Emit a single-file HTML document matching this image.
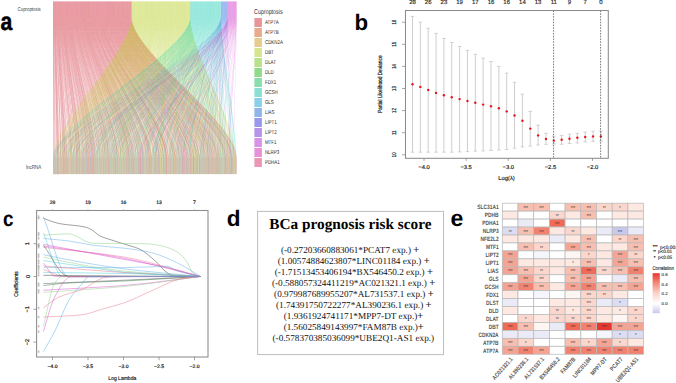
<!DOCTYPE html>
<html><head><meta charset="utf-8"><style>
html,body{margin:0;padding:0;background:#fff;width:676px;height:383px;overflow:hidden;}
svg{display:block;text-rendering:geometricPrecision;}
</style></head><body>
<svg width="676" height="383" viewBox="0 0 676 383">
<rect width="676" height="383" fill="#fff"/>
<text x="0" y="29.8" font-family="Liberation Sans" font-size="25" font-weight="bold" stroke="#000" stroke-width="0.45" transform="translate(0.5 0) scale(0.85 1)">a</text>
<defs><filter id="fb" x="-2%" y="-2%" width="104%" height="104%"><feGaussianBlur stdDeviation="0.35"/></filter></defs>
<g filter="url(#fb)">
<g fill="rgb(208, 57, 66)" fill-opacity="0.62">
<path d="M68.6 1.6V17.0C68.6 52 88.8 122 88.8 157.0V174.3H88.9V157.0C88.9 122 68.7 52 68.7 17.0V1.6Z"/>
<path d="M94.19 1.6V17.0C94.19 52 150.21 122 150.21 157.0V174.3H150.31V157.0C150.31 122 94.29 52 94.29 17.0V1.6Z"/>
<path d="M82.97 1.6V17.0C82.97 52 124.6 122 124.6 157.0V174.3H124.71V157.0C124.71 122 83.07 52 83.07 17.0V1.6Z"/>
<path d="M91.23 1.6V17.0C91.23 52 143.07 122 143.07 157.0V174.3H143.17V157.0C143.17 122 91.33 52 91.33 17.0V1.6Z"/>
<path d="M86.13 1.6V17.0C86.13 52 131.34 122 131.34 157.0V174.3H131.44V157.0C131.44 122 86.23 52 86.23 17.0V1.6Z"/>
<path d="M114.58 1.6V17.0C114.58 52 197.13 122 197.13 157.0V174.3H197.23V157.0C197.23 122 114.68 52 114.68 17.0V1.6Z"/>
<path d="M118.86 1.6V17.0C118.86 52 207.12 122 207.12 157.0V174.3H207.22V157.0C207.22 122 118.96 52 118.96 17.0V1.6Z"/>
<path d="M81.54 1.6V17.0C81.54 52 121.14 122 121.14 157.0V174.3H121.24V157.0C121.24 122 81.65 52 81.65 17.0V1.6Z"/>
<path d="M127.32 1.6V17.0C127.32 52 226.81 122 226.81 157.0V174.3H226.91V157.0C226.91 122 127.42 52 127.42 17.0V1.6Z"/>
<path d="M123.85 1.6V17.0C123.85 52 217.93 122 217.93 157.0V174.3H218.04V157.0C218.04 122 123.95 52 123.95 17.0V1.6Z"/>
<path d="M107.95 1.6V17.0C107.95 52 182.64 122 182.64 157.0V174.3H182.74V157.0C182.74 122 108.05 52 108.05 17.0V1.6Z"/>
<path d="M129.36 1.6V17.0C129.36 52 231.6 122 231.6 157.0V174.3H231.7V157.0C231.7 122 129.46 52 129.46 17.0V1.6Z"/>
<path d="M117.94 1.6V17.0C117.94 52 205.29 122 205.29 157.0V174.3H205.39V157.0C205.39 122 118.04 52 118.04 17.0V1.6Z"/>
<path d="M76.35 1.6V17.0C76.35 52 107.98 122 107.98 157.0V174.3H108.08V157.0C108.08 122 76.45 52 76.45 17.0V1.6Z"/>
<path d="M73.49 1.6V17.0C73.49 52 100.12 122 100.12 157.0V174.3H100.23V157.0C100.23 122 73.59 52 73.59 17.0V1.6Z"/>
<path d="M113.66 1.6V17.0C113.66 52 194.78 122 194.78 157.0V174.3H194.88V157.0C194.88 122 113.76 52 113.76 17.0V1.6Z"/>
<path d="M95.31 1.6V17.0C95.31 52 152.76 122 152.76 157.0V174.3H152.86V157.0C152.86 122 95.41 52 95.41 17.0V1.6Z"/>
<path d="M131.4 1.6V17.0C131.4 52 236.29 122 236.29 157.0V174.3H236.4V157.0C236.4 122 131.5 52 131.5 17.0V1.6Z"/>
<path d="M126.4 1.6V17.0C126.4 52 225.18 122 225.18 157.0V174.3H225.28V157.0C225.28 122 126.5 52 126.5 17.0V1.6Z"/>
<path d="M100.4 1.6V17.0C100.4 52 165.2 122 165.2 157.0V174.3H165.3V157.0C165.3 122 100.51 52 100.51 17.0V1.6Z"/>
<path d="M67.37 1.6V17.0C67.37 52 86.46 122 86.46 157.0V174.3H86.56V157.0C86.56 122 67.48 52 67.48 17.0V1.6Z"/>
<path d="M73.19 1.6V17.0C73.19 52 99.61 122 99.61 157.0V174.3H99.72V157.0C99.72 122 73.29 52 73.29 17.0V1.6Z"/>
<path d="M82.46 1.6V17.0C82.46 52 123.79 122 123.79 157.0V174.3H123.89V157.0C123.89 122 82.56 52 82.56 17.0V1.6Z"/>
<path d="M80.12 1.6V17.0C80.12 52 117.26 122 117.26 157.0V174.3H117.36V157.0C117.36 122 80.22 52 80.22 17.0V1.6Z"/>
<path d="M62.99 1.6V17.0C62.99 52 76.46 122 76.46 157.0V174.3H76.56V157.0C76.56 122 63.09 52 63.09 17.0V1.6Z"/>
<path d="M70.13 1.6V17.0C70.13 52 92.07 122 92.07 157.0V174.3H92.17V157.0C92.17 122 70.23 52 70.23 17.0V1.6Z"/>
<path d="M127.01 1.6V17.0C127.01 52 225.99 122 225.99 157.0V174.3H226.09V157.0C226.09 122 127.11 52 127.11 17.0V1.6Z"/>
<path d="M83.18 1.6V17.0C83.18 52 125.42 122 125.42 157.0V174.3H125.52V157.0C125.52 122 83.28 52 83.28 17.0V1.6Z"/>
<path d="M110.09 1.6V17.0C110.09 52 187.13 122 187.13 157.0V174.3H187.23V157.0C187.23 122 110.19 52 110.19 17.0V1.6Z"/>
<path d="M124.97 1.6V17.0C124.97 52 220.89 122 220.89 157.0V174.3H220.99V157.0C220.99 122 125.08 52 125.08 17.0V1.6Z"/>
<path d="M60.24 1.6V17.0C60.24 52 69.52 122 69.52 157.0V174.3H69.63V157.0C69.63 122 60.34 52 60.34 17.0V1.6Z"/>
<path d="M65.54 1.6V17.0C65.54 52 81.36 122 81.36 157.0V174.3H81.46V157.0C81.46 122 65.64 52 65.64 17.0V1.6Z"/>
<path d="M76.96 1.6V17.0C76.96 52 108.9 122 108.9 157.0V174.3H109V157.0C109 122 77.06 52 77.06 17.0V1.6Z"/>
<path d="M71.15 1.6V17.0C71.15 52 93.9 122 93.9 157.0V174.3H94V157.0C94 122 71.25 52 71.25 17.0V1.6Z"/>
<path d="M65.23 1.6V17.0C65.23 52 80.23 122 80.23 157.0V174.3H80.34V157.0C80.34 122 65.34 52 65.34 17.0V1.6Z"/>
<path d="M81.04 1.6V17.0C81.04 52 119.71 122 119.71 157.0V174.3H119.81V157.0C119.81 122 81.14 52 81.14 17.0V1.6Z"/>
<path d="M105.81 1.6V17.0C105.81 52 176.62 122 176.62 157.0V174.3H176.73V157.0C176.73 122 105.91 52 105.91 17.0V1.6Z"/>
<path d="M103.46 1.6V17.0C103.46 52 171.22 122 171.22 157.0V174.3H171.32V157.0C171.32 122 103.56 52 103.56 17.0V1.6Z"/>
<path d="M55.65 1.6V17.0C55.65 52 58.51 122 58.51 157.0V174.3H58.61V157.0C58.61 122 55.75 52 55.75 17.0V1.6Z"/>
<path d="M117.53 1.6V17.0C117.53 52 204.06 122 204.06 157.0V174.3H204.16V157.0C204.16 122 117.63 52 117.63 17.0V1.6Z"/>
<path d="M126.81 1.6V17.0C126.81 52 225.79 122 225.79 157.0V174.3H225.89V157.0C225.89 122 126.91 52 126.91 17.0V1.6Z"/>
<path d="M128.54 1.6V17.0C128.54 52 229.77 122 229.77 157.0V174.3H229.87V157.0C229.87 122 128.64 52 128.64 17.0V1.6Z"/>
<path d="M61.77 1.6V17.0C61.77 52 73.3 122 73.3 157.0V174.3H73.4V157.0C73.4 122 61.87 52 61.87 17.0V1.6Z"/>
<path d="M100.91 1.6V17.0C100.91 52 166.12 122 166.12 157.0V174.3H166.22V157.0C166.22 122 101.02 52 101.02 17.0V1.6Z"/>
<path d="M75.84 1.6V17.0C75.84 52 106.75 122 106.75 157.0V174.3H106.86V157.0C106.86 122 75.94 52 75.94 17.0V1.6Z"/>
<path d="M90.92 1.6V17.0C90.92 52 142.66 122 142.66 157.0V174.3H142.76V157.0C142.76 122 91.03 52 91.03 17.0V1.6Z"/>
<path d="M79.81 1.6V17.0C79.81 52 116.85 122 116.85 157.0V174.3H116.95V157.0C116.95 122 79.91 52 79.91 17.0V1.6Z"/>
<path d="M106.11 1.6V17.0C106.11 52 177.54 122 177.54 157.0V174.3H177.64V157.0C177.64 122 106.22 52 106.22 17.0V1.6Z"/>
<path d="M117.84 1.6V17.0C117.84 52 204.98 122 204.98 157.0V174.3H205.08V157.0C205.08 122 117.94 52 117.94 17.0V1.6Z"/>
<path d="M120.49 1.6V17.0C120.49 52 210.79 122 210.79 157.0V174.3H210.9V157.0C210.9 122 120.59 52 120.59 17.0V1.6Z"/>
<path d="M64.11 1.6V17.0C64.11 52 78.4 122 78.4 157.0V174.3H78.5V157.0C78.5 122 64.21 52 64.21 17.0V1.6Z"/>
<path d="M97.35 1.6V17.0C97.35 52 158.26 122 158.26 157.0V174.3H158.37V157.0C158.37 122 97.45 52 97.45 17.0V1.6Z"/>
<path d="M106.83 1.6V17.0C106.83 52 179.68 122 179.68 157.0V174.3H179.79V157.0C179.79 122 106.93 52 106.93 17.0V1.6Z"/>
<path d="M86.95 1.6V17.0C86.95 52 132.97 122 132.97 157.0V174.3H133.07V157.0C133.07 122 87.05 52 87.05 17.0V1.6Z"/>
<path d="M77.87 1.6V17.0C77.87 52 111.14 122 111.14 157.0V174.3H111.24V157.0C111.24 122 77.98 52 77.98 17.0V1.6Z"/>
<path d="M96.33 1.6V17.0C96.33 52 156.12 122 156.12 157.0V174.3H156.22V157.0C156.22 122 96.43 52 96.43 17.0V1.6Z"/>
<path d="M66.76 1.6V17.0C66.76 52 84.62 122 84.62 157.0V174.3H84.72V157.0C84.72 122 66.86 52 66.86 17.0V1.6Z"/>
<path d="M109.78 1.6V17.0C109.78 52 186.62 122 186.62 157.0V174.3H186.72V157.0C186.72 122 109.89 52 109.89 17.0V1.6Z"/>
<path d="M91.03 1.6V17.0C91.03 52 142.76 122 142.76 157.0V174.3H142.86V157.0C142.86 122 91.13 52 91.13 17.0V1.6Z"/>
<path d="M66.35 1.6V17.0C66.35 52 83.5 122 83.5 157.0V174.3H83.6V157.0C83.6 122 66.46 52 66.46 17.0V1.6Z"/>
<path d="M61.46 1.6V17.0C61.46 52 72.18 122 72.18 157.0V174.3H72.28V157.0C72.28 122 61.56 52 61.56 17.0V1.6Z"/>
<path d="M107.64 1.6V17.0C107.64 52 182.03 122 182.03 157.0V174.3H182.13V157.0C182.13 122 107.74 52 107.74 17.0V1.6Z"/>
<path d="M64.21 1.6V17.0C64.21 52 78.81 122 78.81 157.0V174.3H78.91V157.0C78.91 122 64.32 52 64.32 17.0V1.6Z"/>
<path d="M78.08 1.6V17.0C78.08 52 112.06 122 112.06 157.0V174.3H112.16V157.0C112.16 122 78.18 52 78.18 17.0V1.6Z"/>
<path d="M105.3 1.6V17.0C105.3 52 175.3 122 175.3 157.0V174.3H175.4V157.0C175.4 122 105.4 52 105.4 17.0V1.6Z"/>
<path d="M57.49 1.6V17.0C57.49 52 63.2 122 63.2 157.0V174.3H63.3V157.0C63.3 122 57.59 52 57.59 17.0V1.6Z"/>
<path d="M54.63 1.6V17.0C54.63 52 57.18 122 57.18 157.0V174.3H57.28V157.0C57.28 122 54.73 52 54.73 17.0V1.6Z"/>
<path d="M122.12 1.6V17.0C122.12 52 214.36 122 214.36 157.0V174.3H214.47V157.0C214.47 122 122.22 52 122.22 17.0V1.6Z"/>
<path d="M59.63 1.6V17.0C59.63 52 67.38 122 67.38 157.0V174.3H67.48V157.0C67.48 122 59.73 52 59.73 17.0V1.6Z"/>
<path d="M58.4 1.6V17.0C58.4 52 64.83 122 64.83 157.0V174.3H64.93V157.0C64.93 122 58.51 52 58.51 17.0V1.6Z"/>
<path d="M95 1.6V17.0C95 52 151.43 122 151.43 157.0V174.3H151.53V157.0C151.53 122 95.1 52 95.1 17.0V1.6Z"/>
<path d="M107.24 1.6V17.0C107.24 52 180.7 122 180.7 157.0V174.3H180.81V157.0C180.81 122 107.34 52 107.34 17.0V1.6Z"/>
<path d="M86.54 1.6V17.0C86.54 52 132.25 122 132.25 157.0V174.3H132.36V157.0C132.36 122 86.64 52 86.64 17.0V1.6Z"/>
<path d="M73.9 1.6V17.0C73.9 52 101.76 122 101.76 157.0V174.3H101.86V157.0C101.86 122 74 52 74 17.0V1.6Z"/>
<path d="M90.21 1.6V17.0C90.21 52 140.82 122 140.82 157.0V174.3H140.92V157.0C140.92 122 90.31 52 90.31 17.0V1.6Z"/>
<path d="M80.22 1.6V17.0C80.22 52 117.36 122 117.36 157.0V174.3H117.46V157.0C117.46 122 80.32 52 80.32 17.0V1.6Z"/>
<path d="M79.71 1.6V17.0C79.71 52 116.75 122 116.75 157.0V174.3H116.85V157.0C116.85 122 79.81 52 79.81 17.0V1.6Z"/>
<path d="M80.83 1.6V17.0C80.83 52 118.99 122 118.99 157.0V174.3H119.1V157.0C119.1 122 80.93 52 80.93 17.0V1.6Z"/>
<path d="M109.07 1.6V17.0C109.07 52 184.99 122 184.99 157.0V174.3H185.09V157.0C185.09 122 109.17 52 109.17 17.0V1.6Z"/>
<path d="M104.28 1.6V17.0C104.28 52 173.46 122 173.46 157.0V174.3H173.56V157.0C173.56 122 104.38 52 104.38 17.0V1.6Z"/>
<path d="M80.32 1.6V17.0C80.32 52 117.67 122 117.67 157.0V174.3H117.77V157.0C117.77 122 80.42 52 80.42 17.0V1.6Z"/>
<path d="M91.43 1.6V17.0C91.43 52 143.37 122 143.37 157.0V174.3H143.47V157.0C143.47 122 91.54 52 91.54 17.0V1.6Z"/>
<path d="M107.44 1.6V17.0C107.44 52 181.21 122 181.21 157.0V174.3H181.32V157.0C181.32 122 107.54 52 107.54 17.0V1.6Z"/>
<path d="M81.34 1.6V17.0C81.34 52 120.93 122 120.93 157.0V174.3H121.03V157.0C121.03 122 81.44 52 81.44 17.0V1.6Z"/>
<path d="M66.56 1.6V17.0C66.56 52 84.21 122 84.21 157.0V174.3H84.31V157.0C84.31 122 66.66 52 66.66 17.0V1.6Z"/>
<path d="M98.47 1.6V17.0C98.47 52 160.3 122 160.3 157.0V174.3H160.41V157.0C160.41 122 98.57 52 98.57 17.0V1.6Z"/>
<path d="M72.68 1.6V17.0C72.68 52 97.78 122 97.78 157.0V174.3H97.88V157.0C97.88 122 72.78 52 72.78 17.0V1.6Z"/>
<path d="M82.77 1.6V17.0C82.77 52 124.4 122 124.4 157.0V174.3H124.5V157.0C124.5 122 82.87 52 82.87 17.0V1.6Z"/>
<path d="M95.21 1.6V17.0C95.21 52 151.94 122 151.94 157.0V174.3H152.04V157.0C152.04 122 95.31 52 95.31 17.0V1.6Z"/>
<path d="M110.29 1.6V17.0C110.29 52 187.64 122 187.64 157.0V174.3H187.74V157.0C187.74 122 110.4 52 110.4 17.0V1.6Z"/>
<path d="M85.11 1.6V17.0C85.11 52 129.4 122 129.4 157.0V174.3H129.5V157.0C129.5 122 85.21 52 85.21 17.0V1.6Z"/>
<path d="M102.95 1.6V17.0C102.95 52 170.2 122 170.2 157.0V174.3H170.3V157.0C170.3 122 103.06 52 103.06 17.0V1.6Z"/>
<path d="M116.61 1.6V17.0C116.61 52 201.51 122 201.51 157.0V174.3H201.61V157.0C201.61 122 116.72 52 116.72 17.0V1.6Z"/>
<path d="M125.99 1.6V17.0C125.99 52 224.26 122 224.26 157.0V174.3H224.36V157.0C224.36 122 126.09 52 126.09 17.0V1.6Z"/>
<path d="M64.01 1.6V17.0C64.01 52 77.99 122 77.99 157.0V174.3H78.09V157.0C78.09 122 64.11 52 64.11 17.0V1.6Z"/>
<path d="M125.48 1.6V17.0C125.48 52 222.73 122 222.73 157.0V174.3H222.83V157.0C222.83 122 125.59 52 125.59 17.0V1.6Z"/>
<path d="M85.93 1.6V17.0C85.93 52 131.03 122 131.03 157.0V174.3H131.13V157.0C131.13 122 86.03 52 86.03 17.0V1.6Z"/>
<path d="M85.72 1.6V17.0C85.72 52 130.52 122 130.52 157.0V174.3H130.62V157.0C130.62 122 85.83 52 85.83 17.0V1.6Z"/>
<path d="M60.44 1.6V17.0C60.44 52 70.34 122 70.34 157.0V174.3H70.44V157.0C70.44 122 60.54 52 60.54 17.0V1.6Z"/>
<path d="M74.92 1.6V17.0C74.92 52 104.71 122 104.71 157.0V174.3H104.82V157.0C104.82 122 75.02 52 75.02 17.0V1.6Z"/>
<path d="M125.38 1.6V17.0C125.38 52 222.01 122 222.01 157.0V174.3H222.12V157.0C222.12 122 125.48 52 125.48 17.0V1.6Z"/>
<path d="M94.08 1.6V17.0C94.08 52 150.1 122 150.1 157.0V174.3H150.21V157.0C150.21 122 94.19 52 94.19 17.0V1.6Z"/>
<path d="M104.38 1.6V17.0C104.38 52 173.56 122 173.56 157.0V174.3H173.67V157.0C173.67 122 104.48 52 104.48 17.0V1.6Z"/>
<path d="M65.85 1.6V17.0C65.85 52 82.17 122 82.17 157.0V174.3H82.27V157.0C82.27 122 65.95 52 65.95 17.0V1.6Z"/>
<path d="M112.84 1.6V17.0C112.84 52 193.15 122 193.15 157.0V174.3H193.25V157.0C193.25 122 112.94 52 112.94 17.0V1.6Z"/>
<path d="M119.16 1.6V17.0C119.16 52 208.14 122 208.14 157.0V174.3H208.24V157.0C208.24 122 119.26 52 119.26 17.0V1.6Z"/>
<path d="M56.57 1.6V17.0C56.57 52 60.85 122 60.85 157.0V174.3H60.96V157.0C60.96 122 56.67 52 56.67 17.0V1.6Z"/>
<path d="M119.47 1.6V17.0C119.47 52 208.65 122 208.65 157.0V174.3H208.75V157.0C208.75 122 119.57 52 119.57 17.0V1.6Z"/>
<path d="M56.67 1.6V17.0C56.67 52 60.96 122 60.96 157.0V174.3H61.06V157.0C61.06 122 56.77 52 56.77 17.0V1.6Z"/>
<path d="M58.61 1.6V17.0C58.61 52 65.14 122 65.14 157.0V174.3H65.24V157.0C65.24 122 58.71 52 58.71 17.0V1.6Z"/>
<path d="M83.58 1.6V17.0C83.58 52 126.44 122 126.44 157.0V174.3H126.54V157.0C126.54 122 83.69 52 83.69 17.0V1.6Z"/>
<path d="M88.38 1.6V17.0C88.38 52 136.44 122 136.44 157.0V174.3H136.54V157.0C136.54 122 88.48 52 88.48 17.0V1.6Z"/>
<path d="M66.46 1.6V17.0C66.46 52 83.7 122 83.7 157.0V174.3H83.8V157.0C83.8 122 66.56 52 66.56 17.0V1.6Z"/>
<path d="M104.48 1.6V17.0C104.48 52 173.67 122 173.67 157.0V174.3H173.77V157.0C173.77 122 104.58 52 104.58 17.0V1.6Z"/>
<path d="M128.95 1.6V17.0C128.95 52 230.99 122 230.99 157.0V174.3H231.09V157.0C231.09 122 129.05 52 129.05 17.0V1.6Z"/>
<path d="M94.7 1.6V17.0C94.7 52 151.12 122 151.12 157.0V174.3H151.23V157.0C151.23 122 94.8 52 94.8 17.0V1.6Z"/>
<path d="M63.5 1.6V17.0C63.5 52 77.28 122 77.28 157.0V174.3H77.38V157.0C77.38 122 63.6 52 63.6 17.0V1.6Z"/>
<path d="M89.8 1.6V17.0C89.8 52 140.21 122 140.21 157.0V174.3H140.31V157.0C140.31 122 89.9 52 89.9 17.0V1.6Z"/>
<path d="M75.94 1.6V17.0C75.94 52 106.86 122 106.86 157.0V174.3H106.96V157.0C106.96 122 76.04 52 76.04 17.0V1.6Z"/>
<path d="M80.73 1.6V17.0C80.73 52 118.89 122 118.89 157.0V174.3H118.99V157.0C118.99 122 80.83 52 80.83 17.0V1.6Z"/>
<path d="M115.39 1.6V17.0C115.39 52 198.96 122 198.96 157.0V174.3H199.06V157.0C199.06 122 115.49 52 115.49 17.0V1.6Z"/>
<path d="M96.94 1.6V17.0C96.94 52 157.24 122 157.24 157.0V174.3H157.35V157.0C157.35 122 97.04 52 97.04 17.0V1.6Z"/>
<path d="M93.88 1.6V17.0C93.88 52 149.8 122 149.8 157.0V174.3H149.9V157.0C149.9 122 93.98 52 93.98 17.0V1.6Z"/>
<path d="M73.59 1.6V17.0C73.59 52 100.63 122 100.63 157.0V174.3H100.74V157.0C100.74 122 73.69 52 73.69 17.0V1.6Z"/>
<path d="M111.72 1.6V17.0C111.72 52 190.8 122 190.8 157.0V174.3H190.9V157.0C190.9 122 111.82 52 111.82 17.0V1.6Z"/>
<path d="M129.66 1.6V17.0C129.66 52 231.91 122 231.91 157.0V174.3H232.01V157.0C232.01 122 129.76 52 129.76 17.0V1.6Z"/>
<path d="M73.69 1.6V17.0C73.69 52 100.94 122 100.94 157.0V174.3H101.04V157.0C101.04 122 73.8 52 73.8 17.0V1.6Z"/>
<path d="M92.25 1.6V17.0C92.25 52 146.13 122 146.13 157.0V174.3H146.23V157.0C146.23 122 92.35 52 92.35 17.0V1.6Z"/>
<path d="M75.73 1.6V17.0C75.73 52 106.65 122 106.65 157.0V174.3H106.75V157.0C106.75 122 75.84 52 75.84 17.0V1.6Z"/>
<path d="M129.97 1.6V17.0C129.97 52 232.32 122 232.32 157.0V174.3H232.42V157.0C232.42 122 130.07 52 130.07 17.0V1.6Z"/>
<path d="M93.27 1.6V17.0C93.27 52 148.78 122 148.78 157.0V174.3H148.88V157.0C148.88 122 93.37 52 93.37 17.0V1.6Z"/>
<path d="M69.82 1.6V17.0C69.82 52 91.56 122 91.56 157.0V174.3H91.66V157.0C91.66 122 69.92 52 69.92 17.0V1.6Z"/>
<path d="M126.71 1.6V17.0C126.71 52 225.69 122 225.69 157.0V174.3H225.79V157.0C225.79 122 126.81 52 126.81 17.0V1.6Z"/>
<path d="M80.02 1.6V17.0C80.02 52 117.16 122 117.16 157.0V174.3H117.26V157.0C117.26 122 80.12 52 80.12 17.0V1.6Z"/>
<path d="M71.25 1.6V17.0C71.25 52 94.21 122 94.21 157.0V174.3H94.31V157.0C94.31 122 71.35 52 71.35 17.0V1.6Z"/>
<path d="M102.04 1.6V17.0C102.04 52 167.85 122 167.85 157.0V174.3H167.95V157.0C167.95 122 102.14 52 102.14 17.0V1.6Z"/>
<path d="M99.08 1.6V17.0C99.08 52 162.24 122 162.24 157.0V174.3H162.34V157.0C162.34 122 99.18 52 99.18 17.0V1.6Z"/>
<path d="M57.69 1.6V17.0C57.69 52 63.81 122 63.81 157.0V174.3H63.91V157.0C63.91 122 57.79 52 57.79 17.0V1.6Z"/>
<path d="M120.18 1.6V17.0C120.18 52 209.98 122 209.98 157.0V174.3H210.08V157.0C210.08 122 120.28 52 120.28 17.0V1.6Z"/>
<path d="M76.86 1.6V17.0C76.86 52 108.79 122 108.79 157.0V174.3H108.9V157.0C108.9 122 76.96 52 76.96 17.0V1.6Z"/>
<path d="M83.38 1.6V17.0C83.38 52 126.03 122 126.03 157.0V174.3H126.13V157.0C126.13 122 83.48 52 83.48 17.0V1.6Z"/>
<path d="M107.03 1.6V17.0C107.03 52 179.89 122 179.89 157.0V174.3H179.99V157.0C179.99 122 107.13 52 107.13 17.0V1.6Z"/>
<path d="M90.82 1.6V17.0C90.82 52 142.56 122 142.56 157.0V174.3H142.66V157.0C142.66 122 90.92 52 90.92 17.0V1.6Z"/>
<path d="M75.53 1.6V17.0C75.53 52 105.73 122 105.73 157.0V174.3H105.84V157.0C105.84 122 75.63 52 75.63 17.0V1.6Z"/>
<path d="M89.29 1.6V17.0C89.29 52 138.68 122 138.68 157.0V174.3H138.78V157.0C138.78 122 89.39 52 89.39 17.0V1.6Z"/>
<path d="M121.1 1.6V17.0C121.1 52 212.12 122 212.12 157.0V174.3H212.22V157.0C212.22 122 121.2 52 121.2 17.0V1.6Z"/>
<path d="M129.46 1.6V17.0C129.46 52 231.7 122 231.7 157.0V174.3H231.81V157.0C231.81 122 129.56 52 129.56 17.0V1.6Z"/>
<path d="M65.13 1.6V17.0C65.13 52 80.13 122 80.13 157.0V174.3H80.23V157.0C80.23 122 65.23 52 65.23 17.0V1.6Z"/>
<path d="M128.75 1.6V17.0C128.75 52 230.48 122 230.48 157.0V174.3H230.58V157.0C230.58 122 128.85 52 128.85 17.0V1.6Z"/>
<path d="M115.9 1.6V17.0C115.9 52 199.47 122 199.47 157.0V174.3H199.57V157.0C199.57 122 116 52 116 17.0V1.6Z"/>
<path d="M57.18 1.6V17.0C57.18 52 62.89 122 62.89 157.0V174.3H63V157.0C63 122 57.28 52 57.28 17.0V1.6Z"/>
<path d="M98.88 1.6V17.0C98.88 52 161.43 122 161.43 157.0V174.3H161.53V157.0C161.53 122 98.98 52 98.98 17.0V1.6Z"/>
<path d="M62.28 1.6V17.0C62.28 52 74.73 122 74.73 157.0V174.3H74.83V157.0C74.83 122 62.38 52 62.38 17.0V1.6Z"/>
<path d="M113.86 1.6V17.0C113.86 52 195.8 122 195.8 157.0V174.3H195.9V157.0C195.9 122 113.96 52 113.96 17.0V1.6Z"/>
<path d="M123.44 1.6V17.0C123.44 52 217.12 122 217.12 157.0V174.3H217.22V157.0C217.22 122 123.55 52 123.55 17.0V1.6Z"/>
<path d="M82.26 1.6V17.0C82.26 52 123.28 122 123.28 157.0V174.3H123.38V157.0C123.38 122 82.36 52 82.36 17.0V1.6Z"/>
<path d="M112.03 1.6V17.0C112.03 52 191.21 122 191.21 157.0V174.3H191.31V157.0C191.31 122 112.13 52 112.13 17.0V1.6Z"/>
<path d="M117.02 1.6V17.0C117.02 52 202.74 122 202.74 157.0V174.3H202.84V157.0C202.84 122 117.12 52 117.12 17.0V1.6Z"/>
<path d="M94.49 1.6V17.0C94.49 52 150.72 122 150.72 157.0V174.3H150.82V157.0C150.82 122 94.59 52 94.59 17.0V1.6Z"/>
<path d="M105.6 1.6V17.0C105.6 52 176.01 122 176.01 157.0V174.3H176.11V157.0C176.11 122 105.71 52 105.71 17.0V1.6Z"/>
<path d="M95.51 1.6V17.0C95.51 52 153.67 122 153.67 157.0V174.3H153.78V157.0C153.78 122 95.61 52 95.61 17.0V1.6Z"/>
<path d="M72.47 1.6V17.0C72.47 52 97.57 122 97.57 157.0V174.3H97.68V157.0C97.68 122 72.57 52 72.57 17.0V1.6Z"/>
<path d="M125.69 1.6V17.0C125.69 52 223.75 122 223.75 157.0V174.3H223.85V157.0C223.85 122 125.79 52 125.79 17.0V1.6Z"/>
<path d="M73.39 1.6V17.0C73.39 52 99.82 122 99.82 157.0V174.3H99.92V157.0C99.92 122 73.49 52 73.49 17.0V1.6Z"/>
<path d="M55.45 1.6V17.0C55.45 52 58.3 122 58.3 157.0V174.3H58.41V157.0C58.41 122 55.55 52 55.55 17.0V1.6Z"/>
<path d="M107.85 1.6V17.0C107.85 52 182.34 122 182.34 157.0V174.3H182.44V157.0C182.44 122 107.95 52 107.95 17.0V1.6Z"/>
<path d="M122.42 1.6V17.0C122.42 52 215.18 122 215.18 157.0V174.3H215.28V157.0C215.28 122 122.53 52 122.53 17.0V1.6Z"/>
<path d="M61.67 1.6V17.0C61.67 52 73.2 122 73.2 157.0V174.3H73.3V157.0C73.3 122 61.77 52 61.77 17.0V1.6Z"/>
<path d="M109.38 1.6V17.0C109.38 52 185.8 122 185.8 157.0V174.3H185.91V157.0C185.91 122 109.48 52 109.48 17.0V1.6Z"/>
<path d="M92.86 1.6V17.0C92.86 52 148.17 122 148.17 157.0V174.3H148.27V157.0C148.27 122 92.96 52 92.96 17.0V1.6Z"/>
<path d="M88.68 1.6V17.0C88.68 52 137.66 122 137.66 157.0V174.3H137.76V157.0C137.76 122 88.78 52 88.78 17.0V1.6Z"/>
<path d="M103.36 1.6V17.0C103.36 52 171.12 122 171.12 157.0V174.3H171.22V157.0C171.22 122 103.46 52 103.46 17.0V1.6Z"/>
<path d="M82.67 1.6V17.0C82.67 52 124.2 122 124.2 157.0V174.3H124.3V157.0C124.3 122 82.77 52 82.77 17.0V1.6Z"/>
<path d="M116.72 1.6V17.0C116.72 52 201.92 122 201.92 157.0V174.3H202.02V157.0C202.02 122 116.82 52 116.82 17.0V1.6Z"/>
<path d="M113.15 1.6V17.0C113.15 52 193.66 122 193.66 157.0V174.3H193.76V157.0C193.76 122 113.25 52 113.25 17.0V1.6Z"/>
<path d="M64.83 1.6V17.0C64.83 52 79.72 122 79.72 157.0V174.3H79.83V157.0C79.83 122 64.93 52 64.93 17.0V1.6Z"/>
<path d="M102.85 1.6V17.0C102.85 52 169.69 122 169.69 157.0V174.3H169.79V157.0C169.79 122 102.95 52 102.95 17.0V1.6Z"/>
<path d="M113.25 1.6V17.0C113.25 52 193.76 122 193.76 157.0V174.3H193.86V157.0C193.86 122 113.35 52 113.35 17.0V1.6Z"/>
<path d="M82.16 1.6V17.0C82.16 52 123.18 122 123.18 157.0V174.3H123.28V157.0C123.28 122 82.26 52 82.26 17.0V1.6Z"/>
<path d="M94.8 1.6V17.0C94.8 52 151.23 122 151.23 157.0V174.3H151.33V157.0C151.33 122 94.9 52 94.9 17.0V1.6Z"/>
<path d="M99.69 1.6V17.0C99.69 52 163.57 122 163.57 157.0V174.3H163.67V157.0C163.67 122 99.79 52 99.79 17.0V1.6Z"/>
<path d="M55.75 1.6V17.0C55.75 52 58.61 122 58.61 157.0V174.3H58.71V157.0C58.71 122 55.85 52 55.85 17.0V1.6Z"/>
<path d="M110.7 1.6V17.0C110.7 52 188.35 122 188.35 157.0V174.3H188.46V157.0C188.46 122 110.8 52 110.8 17.0V1.6Z"/>
<path d="M64.32 1.6V17.0C64.32 52 78.91 122 78.91 157.0V174.3H79.01V157.0C79.01 122 64.42 52 64.42 17.0V1.6Z"/>
<path d="M62.18 1.6V17.0C62.18 52 74.62 122 74.62 157.0V174.3H74.73V157.0C74.73 122 62.28 52 62.28 17.0V1.6Z"/>
<path d="M127.62 1.6V17.0C127.62 52 227.73 122 227.73 157.0V174.3H227.83V157.0C227.83 122 127.73 52 127.73 17.0V1.6Z"/>
<path d="M82.05 1.6V17.0C82.05 52 122.87 122 122.87 157.0V174.3H122.97V157.0C122.97 122 82.16 52 82.16 17.0V1.6Z"/>
<path d="M95.1 1.6V17.0C95.1 52 151.84 122 151.84 157.0V174.3H151.94V157.0C151.94 122 95.21 52 95.21 17.0V1.6Z"/>
<path d="M57.28 1.6V17.0C57.28 52 63 122 63 157.0V174.3H63.1V157.0C63.1 122 57.38 52 57.38 17.0V1.6Z"/>
<path d="M122.73 1.6V17.0C122.73 52 215.79 122 215.79 157.0V174.3H215.89V157.0C215.89 122 122.83 52 122.83 17.0V1.6Z"/>
<path d="M106.73 1.6V17.0C106.73 52 179.48 122 179.48 157.0V174.3H179.58V157.0C179.58 122 106.83 52 106.83 17.0V1.6Z"/>
<path d="M120.79 1.6V17.0C120.79 52 211.3 122 211.3 157.0V174.3H211.41V157.0C211.41 122 120.9 52 120.9 17.0V1.6Z"/>
<path d="M59.22 1.6V17.0C59.22 52 66.36 122 66.36 157.0V174.3H66.46V157.0C66.46 122 59.32 52 59.32 17.0V1.6Z"/>
<path d="M125.79 1.6V17.0C125.79 52 223.85 122 223.85 157.0V174.3H223.95V157.0C223.95 122 125.89 52 125.89 17.0V1.6Z"/>
<path d="M111.21 1.6V17.0C111.21 52 190.09 122 190.09 157.0V174.3H190.19V157.0C190.19 122 111.31 52 111.31 17.0V1.6Z"/>
<path d="M109.68 1.6V17.0C109.68 52 186.52 122 186.52 157.0V174.3H186.62V157.0C186.62 122 109.78 52 109.78 17.0V1.6Z"/>
<path d="M91.64 1.6V17.0C91.64 52 143.88 122 143.88 157.0V174.3H143.98V157.0C143.98 122 91.74 52 91.74 17.0V1.6Z"/>
<path d="M69.21 1.6V17.0C69.21 52 90.13 122 90.13 157.0V174.3H90.23V157.0C90.23 122 69.31 52 69.31 17.0V1.6Z"/>
<path d="M92.96 1.6V17.0C92.96 52 148.27 122 148.27 157.0V174.3H148.37V157.0C148.37 122 93.06 52 93.06 17.0V1.6Z"/>
<path d="M118.25 1.6V17.0C118.25 52 205.59 122 205.59 157.0V174.3H205.69V157.0C205.69 122 118.35 52 118.35 17.0V1.6Z"/>
<path d="M77.67 1.6V17.0C77.67 52 110.63 122 110.63 157.0V174.3H110.73V157.0C110.73 122 77.77 52 77.77 17.0V1.6Z"/>
<path d="M71.04 1.6V17.0C71.04 52 93.7 122 93.7 157.0V174.3H93.8V157.0C93.8 122 71.15 52 71.15 17.0V1.6Z"/>
<path d="M89.6 1.6V17.0C89.6 52 139.39 122 139.39 157.0V174.3H139.5V157.0C139.5 122 89.7 52 89.7 17.0V1.6Z"/>
<path d="M112.33 1.6V17.0C112.33 52 192.03 122 192.03 157.0V174.3H192.13V157.0C192.13 122 112.43 52 112.43 17.0V1.6Z"/>
<path d="M109.27 1.6V17.0C109.27 52 185.6 122 185.6 157.0V174.3H185.7V157.0C185.7 122 109.38 52 109.38 17.0V1.6Z"/>
<path d="M128.03 1.6V17.0C128.03 52 228.75 122 228.75 157.0V174.3H228.85V157.0C228.85 122 128.13 52 128.13 17.0V1.6Z"/>
<path d="M118.96 1.6V17.0C118.96 52 207.43 122 207.43 157.0V174.3H207.53V157.0C207.53 122 119.06 52 119.06 17.0V1.6Z"/>
<path d="M78.18 1.6V17.0C78.18 52 112.57 122 112.57 157.0V174.3H112.67V157.0C112.67 122 78.28 52 78.28 17.0V1.6Z"/>
<path d="M116.1 1.6V17.0C116.1 52 199.88 122 199.88 157.0V174.3H199.98V157.0C199.98 122 116.21 52 116.21 17.0V1.6Z"/>
<path d="M76.75 1.6V17.0C76.75 52 108.59 122 108.59 157.0V174.3H108.69V157.0C108.69 122 76.86 52 76.86 17.0V1.6Z"/>
<path d="M129.15 1.6V17.0C129.15 52 231.4 122 231.4 157.0V174.3H231.5V157.0C231.5 122 129.26 52 129.26 17.0V1.6Z"/>
<path d="M107.54 1.6V17.0C107.54 52 181.72 122 181.72 157.0V174.3H181.83V157.0C181.83 122 107.64 52 107.64 17.0V1.6Z"/>
<path d="M88.99 1.6V17.0C88.99 52 138.07 122 138.07 157.0V174.3H138.17V157.0C138.17 122 89.09 52 89.09 17.0V1.6Z"/>
<path d="M114.98 1.6V17.0C114.98 52 197.64 122 197.64 157.0V174.3H197.74V157.0C197.74 122 115.08 52 115.08 17.0V1.6Z"/>
<path d="M102.75 1.6V17.0C102.75 52 169.08 122 169.08 157.0V174.3H169.18V157.0C169.18 122 102.85 52 102.85 17.0V1.6Z"/>
<path d="M101.63 1.6V17.0C101.63 52 166.83 122 166.83 157.0V174.3H166.93V157.0C166.93 122 101.73 52 101.73 17.0V1.6Z"/>
<path d="M63.81 1.6V17.0C63.81 52 77.79 122 77.79 157.0V174.3H77.89V157.0C77.89 122 63.91 52 63.91 17.0V1.6Z"/>
<path d="M117.23 1.6V17.0C117.23 52 203.35 122 203.35 157.0V174.3H203.45V157.0C203.45 122 117.33 52 117.33 17.0V1.6Z"/>
<path d="M69.62 1.6V17.0C69.62 52 91.25 122 91.25 157.0V174.3H91.35V157.0C91.35 122 69.72 52 69.72 17.0V1.6Z"/>
<path d="M53.41 1.6V17.0C53.41 52 53.61 122 53.61 157.0V174.3H53.71V157.0C53.71 122 53.51 52 53.51 17.0V1.6Z"/>
<path d="M59.83 1.6V17.0C59.83 52 68.61 122 68.61 157.0V174.3H68.71V157.0C68.71 122 59.93 52 59.93 17.0V1.6Z"/>
<path d="M92.15 1.6V17.0C92.15 52 146.02 122 146.02 157.0V174.3H146.13V157.0C146.13 122 92.25 52 92.25 17.0V1.6Z"/>
<path d="M106.01 1.6V17.0C106.01 52 177.24 122 177.24 157.0V174.3H177.34V157.0C177.34 122 106.11 52 106.11 17.0V1.6Z"/>
<path d="M97.75 1.6V17.0C97.75 52 158.98 122 158.98 157.0V174.3H159.08V157.0C159.08 122 97.86 52 97.86 17.0V1.6Z"/>
<path d="M96.84 1.6V17.0C96.84 52 157.14 122 157.14 157.0V174.3H157.24V157.0C157.24 122 96.94 52 96.94 17.0V1.6Z"/>
<path d="M110.8 1.6V17.0C110.8 52 188.46 122 188.46 157.0V174.3H188.56V157.0C188.56 122 110.91 52 110.91 17.0V1.6Z"/>
<path d="M96.73 1.6V17.0C96.73 52 157.04 122 157.04 157.0V174.3H157.14V157.0C157.14 122 96.84 52 96.84 17.0V1.6Z"/>
<path d="M91.33 1.6V17.0C91.33 52 143.27 122 143.27 157.0V174.3H143.37V157.0C143.37 122 91.43 52 91.43 17.0V1.6Z"/>
<path d="M117.43 1.6V17.0C117.43 52 203.76 122 203.76 157.0V174.3H203.86V157.0C203.86 122 117.53 52 117.53 17.0V1.6Z"/>
<path d="M100.2 1.6V17.0C100.2 52 164.89 122 164.89 157.0V174.3H165V157.0C165 122 100.3 52 100.3 17.0V1.6Z"/>
<path d="M130.68 1.6V17.0C130.68 52 234.46 122 234.46 157.0V174.3H234.56V157.0C234.56 122 130.78 52 130.78 17.0V1.6Z"/>
<path d="M125.89 1.6V17.0C125.89 52 224.05 122 224.05 157.0V174.3H224.16V157.0C224.16 122 125.99 52 125.99 17.0V1.6Z"/>
<path d="M89.19 1.6V17.0C89.19 52 138.58 122 138.58 157.0V174.3H138.68V157.0C138.68 122 89.29 52 89.29 17.0V1.6Z"/>
<path d="M60.03 1.6V17.0C60.03 52 68.91 122 68.91 157.0V174.3H69.01V157.0C69.01 122 60.14 52 60.14 17.0V1.6Z"/>
<path d="M87.87 1.6V17.0C87.87 52 135.31 122 135.31 157.0V174.3H135.42V157.0C135.42 122 87.97 52 87.97 17.0V1.6Z"/>
<path d="M60.65 1.6V17.0C60.65 52 70.65 122 70.65 157.0V174.3H70.75V157.0C70.75 122 60.75 52 60.75 17.0V1.6Z"/>
<path d="M76.45 1.6V17.0C76.45 52 108.08 122 108.08 157.0V174.3H108.18V157.0C108.18 122 76.55 52 76.55 17.0V1.6Z"/>
<path d="M98.57 1.6V17.0C98.57 52 160.71 122 160.71 157.0V174.3H160.81V157.0C160.81 122 98.67 52 98.67 17.0V1.6Z"/>
<path d="M115.59 1.6V17.0C115.59 52 199.17 122 199.17 157.0V174.3H199.27V157.0C199.27 122 115.7 52 115.7 17.0V1.6Z"/>
<path d="M85.01 1.6V17.0C85.01 52 129.09 122 129.09 157.0V174.3H129.19V157.0C129.19 122 85.11 52 85.11 17.0V1.6Z"/>
<path d="M105.71 1.6V17.0C105.71 52 176.52 122 176.52 157.0V174.3H176.62V157.0C176.62 122 105.81 52 105.81 17.0V1.6Z"/>
<path d="M68.8 1.6V17.0C68.8 52 89.31 122 89.31 157.0V174.3H89.41V157.0C89.41 122 68.9 52 68.9 17.0V1.6Z"/>
<path d="M103.56 1.6V17.0C103.56 52 171.63 122 171.63 157.0V174.3H171.73V157.0C171.73 122 103.67 52 103.67 17.0V1.6Z"/>
<path d="M62.79 1.6V17.0C62.79 52 76.26 122 76.26 157.0V174.3H76.36V157.0C76.36 122 62.89 52 62.89 17.0V1.6Z"/>
<path d="M92.66 1.6V17.0C92.66 52 147.25 122 147.25 157.0V174.3H147.35V157.0C147.35 122 92.76 52 92.76 17.0V1.6Z"/>
<path d="M114.27 1.6V17.0C114.27 52 196.41 122 196.41 157.0V174.3H196.51V157.0C196.51 122 114.37 52 114.37 17.0V1.6Z"/>
<path d="M124.36 1.6V17.0C124.36 52 219.26 122 219.26 157.0V174.3H219.36V157.0C219.36 122 124.46 52 124.46 17.0V1.6Z"/>
<path d="M108.15 1.6V17.0C108.15 52 183.05 122 183.05 157.0V174.3H183.15V157.0C183.15 122 108.25 52 108.25 17.0V1.6Z"/>
<path d="M69.11 1.6V17.0C69.11 52 90.03 122 90.03 157.0V174.3H90.13V157.0C90.13 122 69.21 52 69.21 17.0V1.6Z"/>
<path d="M53 1.6V17.0C53 52 53 122 53 157.0V174.3H53.1V157.0C53.1 122 53.1 52 53.1 17.0V1.6Z"/>
<path d="M118.04 1.6V17.0C118.04 52 205.39 122 205.39 157.0V174.3H205.49V157.0C205.49 122 118.14 52 118.14 17.0V1.6Z"/>
<path d="M67.58 1.6V17.0C67.58 52 86.86 122 86.86 157.0V174.3H86.97V157.0C86.97 122 67.68 52 67.68 17.0V1.6Z"/>
<path d="M92.05 1.6V17.0C92.05 52 145.82 122 145.82 157.0V174.3H145.92V157.0C145.92 122 92.15 52 92.15 17.0V1.6Z"/>
<path d="M54.33 1.6V17.0C54.33 52 56.47 122 56.47 157.0V174.3H56.57V157.0C56.57 122 54.43 52 54.43 17.0V1.6Z"/>
<path d="M88.07 1.6V17.0C88.07 52 135.93 122 135.93 157.0V174.3H136.03V157.0C136.03 122 88.17 52 88.17 17.0V1.6Z"/>
<path d="M63.91 1.6V17.0C63.91 52 77.89 122 77.89 157.0V174.3H77.99V157.0C77.99 122 64.01 52 64.01 17.0V1.6Z"/>
<path d="M86.23 1.6V17.0C86.23 52 131.54 122 131.54 157.0V174.3H131.64V157.0C131.64 122 86.34 52 86.34 17.0V1.6Z"/>
<path d="M70.94 1.6V17.0C70.94 52 93.39 122 93.39 157.0V174.3H93.49V157.0C93.49 122 71.04 52 71.04 17.0V1.6Z"/>
<path d="M124.26 1.6V17.0C124.26 52 219.16 122 219.16 157.0V174.3H219.26V157.0C219.26 122 124.36 52 124.36 17.0V1.6Z"/>
<path d="M121.92 1.6V17.0C121.92 52 213.85 122 213.85 157.0V174.3H213.96V157.0C213.96 122 122.02 52 122.02 17.0V1.6Z"/>
<path d="M90.01 1.6V17.0C90.01 52 140.62 122 140.62 157.0V174.3H140.72V157.0C140.72 122 90.11 52 90.11 17.0V1.6Z"/>
<path d="M77.26 1.6V17.0C77.26 52 109.81 122 109.81 157.0V174.3H109.92V157.0C109.92 122 77.36 52 77.36 17.0V1.6Z"/>
<path d="M84.91 1.6V17.0C84.91 52 128.99 122 128.99 157.0V174.3H129.09V157.0C129.09 122 85.01 52 85.01 17.0V1.6Z"/>
<path d="M120.39 1.6V17.0C120.39 52 210.49 122 210.49 157.0V174.3H210.59V157.0C210.59 122 120.49 52 120.49 17.0V1.6Z"/>
<path d="M77.77 1.6V17.0C77.77 52 111.04 122 111.04 157.0V174.3H111.14V157.0C111.14 122 77.87 52 77.87 17.0V1.6Z"/>
<path d="M81.95 1.6V17.0C81.95 52 122.56 122 122.56 157.0V174.3H122.67V157.0C122.67 122 82.05 52 82.05 17.0V1.6Z"/>
<path d="M75.63 1.6V17.0C75.63 52 106.04 122 106.04 157.0V174.3H106.14V157.0C106.14 122 75.73 52 75.73 17.0V1.6Z"/>
<path d="M96.63 1.6V17.0C96.63 52 156.63 122 156.63 157.0V174.3H156.73V157.0C156.73 122 96.73 52 96.73 17.0V1.6Z"/>
<path d="M54.94 1.6V17.0C54.94 52 57.49 122 57.49 157.0V174.3H57.59V157.0C57.59 122 55.04 52 55.04 17.0V1.6Z"/>
<path d="M109.89 1.6V17.0C109.89 52 186.72 122 186.72 157.0V174.3H186.82V157.0C186.82 122 109.99 52 109.99 17.0V1.6Z"/>
<path d="M56.26 1.6V17.0C56.26 52 60.55 122 60.55 157.0V174.3H60.65V157.0C60.65 122 56.36 52 56.36 17.0V1.6Z"/>
<path d="M123.75 1.6V17.0C123.75 52 217.83 122 217.83 157.0V174.3H217.93V157.0C217.93 122 123.85 52 123.85 17.0V1.6Z"/>
<path d="M115.7 1.6V17.0C115.7 52 199.27 122 199.27 157.0V174.3H199.37V157.0C199.37 122 115.8 52 115.8 17.0V1.6Z"/>
<path d="M89.09 1.6V17.0C89.09 52 138.37 122 138.37 157.0V174.3H138.48V157.0C138.48 122 89.19 52 89.19 17.0V1.6Z"/>
<path d="M129.56 1.6V17.0C129.56 52 231.81 122 231.81 157.0V174.3H231.91V157.0C231.91 122 129.66 52 129.66 17.0V1.6Z"/>
<path d="M80.93 1.6V17.0C80.93 52 119.1 122 119.1 157.0V174.3H119.2V157.0C119.2 122 81.04 52 81.04 17.0V1.6Z"/>
<path d="M101.73 1.6V17.0C101.73 52 167.04 122 167.04 157.0V174.3H167.14V157.0C167.14 122 101.83 52 101.83 17.0V1.6Z"/>
<path d="M95.41 1.6V17.0C95.41 52 153.47 122 153.47 157.0V174.3H153.57V157.0C153.57 122 95.51 52 95.51 17.0V1.6Z"/>
<path d="M76.24 1.6V17.0C76.24 52 107.88 122 107.88 157.0V174.3H107.98V157.0C107.98 122 76.35 52 76.35 17.0V1.6Z"/>
<path d="M96.22 1.6V17.0C96.22 52 155.71 122 155.71 157.0V174.3H155.82V157.0C155.82 122 96.33 52 96.33 17.0V1.6Z"/>
<path d="M74.71 1.6V17.0C74.71 52 103.9 122 103.9 157.0V174.3H104V157.0C104 122 74.82 52 74.82 17.0V1.6Z"/>
<path d="M97.55 1.6V17.0C97.55 52 158.67 122 158.67 157.0V174.3H158.77V157.0C158.77 122 97.65 52 97.65 17.0V1.6Z"/>
<path d="M58.1 1.6V17.0C58.1 52 64.42 122 64.42 157.0V174.3H64.53V157.0C64.53 122 58.2 52 58.2 17.0V1.6Z"/>
<path d="M91.74 1.6V17.0C91.74 52 144.09 122 144.09 157.0V174.3H144.19V157.0C144.19 122 91.84 52 91.84 17.0V1.6Z"/>
<path d="M93.68 1.6V17.0C93.68 52 149.39 122 149.39 157.0V174.3H149.49V157.0C149.49 122 93.78 52 93.78 17.0V1.6Z"/>
<path d="M94.9 1.6V17.0C94.9 52 151.33 122 151.33 157.0V174.3H151.43V157.0C151.43 122 95 52 95 17.0V1.6Z"/>
<path d="M57.79 1.6V17.0C57.79 52 63.91 122 63.91 157.0V174.3H64.02V157.0C64.02 122 57.89 52 57.89 17.0V1.6Z"/>
<path d="M72.78 1.6V17.0C72.78 52 97.88 122 97.88 157.0V174.3H97.98V157.0C97.98 122 72.88 52 72.88 17.0V1.6Z"/>
<path d="M90.72 1.6V17.0C90.72 52 142.15 122 142.15 157.0V174.3H142.25V157.0C142.25 122 90.82 52 90.82 17.0V1.6Z"/>
<path d="M126.5 1.6V17.0C126.5 52 225.28 122 225.28 157.0V174.3H225.38V157.0C225.38 122 126.6 52 126.6 17.0V1.6Z"/>
<path d="M126.3 1.6V17.0C126.3 52 225.07 122 225.07 157.0V174.3H225.18V157.0C225.18 122 126.4 52 126.4 17.0V1.6Z"/>
<path d="M54.43 1.6V17.0C54.43 52 56.88 122 56.88 157.0V174.3H56.98V157.0C56.98 122 54.53 52 54.53 17.0V1.6Z"/>
<path d="M86.74 1.6V17.0C86.74 52 132.56 122 132.56 157.0V174.3H132.66V157.0C132.66 122 86.85 52 86.85 17.0V1.6Z"/>
<path d="M78.79 1.6V17.0C78.79 52 114.1 122 114.1 157.0V174.3H114.2V157.0C114.2 122 78.89 52 78.89 17.0V1.6Z"/>
<path d="M54.22 1.6V17.0C54.22 52 56.37 122 56.37 157.0V174.3H56.47V157.0C56.47 122 54.33 52 54.33 17.0V1.6Z"/>
<path d="M99.39 1.6V17.0C99.39 52 163.16 122 163.16 157.0V174.3H163.26V157.0C163.26 122 99.49 52 99.49 17.0V1.6Z"/>
<path d="M119.37 1.6V17.0C119.37 52 208.45 122 208.45 157.0V174.3H208.55V157.0C208.55 122 119.47 52 119.47 17.0V1.6Z"/>
<path d="M84.3 1.6V17.0C84.3 52 127.87 122 127.87 157.0V174.3H127.97V157.0C127.97 122 84.4 52 84.4 17.0V1.6Z"/>
<path d="M73.8 1.6V17.0C73.8 52 101.45 122 101.45 157.0V174.3H101.55V157.0C101.55 122 73.9 52 73.9 17.0V1.6Z"/>
<path d="M57.38 1.6V17.0C57.38 52 63.1 122 63.1 157.0V174.3H63.2V157.0C63.2 122 57.49 52 57.49 17.0V1.6Z"/>
<path d="M59.32 1.6V17.0C59.32 52 66.87 122 66.87 157.0V174.3H66.97V157.0C66.97 122 59.42 52 59.42 17.0V1.6Z"/>
<path d="M108.05 1.6V17.0C108.05 52 182.74 122 182.74 157.0V174.3H182.85V157.0C182.85 122 108.15 52 108.15 17.0V1.6Z"/>
<path d="M100 1.6V17.0C100 52 164.08 122 164.08 157.0V174.3H164.18V157.0C164.18 122 100.1 52 100.1 17.0V1.6Z"/>
<path d="M58.3 1.6V17.0C58.3 52 64.63 122 64.63 157.0V174.3H64.73V157.0C64.73 122 58.4 52 58.4 17.0V1.6Z"/>
<path d="M100.61 1.6V17.0C100.61 52 165.71 122 165.71 157.0V174.3H165.81V157.0C165.81 122 100.71 52 100.71 17.0V1.6Z"/>
<path d="M72.98 1.6V17.0C72.98 52 98.8 122 98.8 157.0V174.3H98.9V157.0C98.9 122 73.08 52 73.08 17.0V1.6Z"/>
<path d="M55.24 1.6V17.0C55.24 52 57.79 122 57.79 157.0V174.3H57.9V157.0C57.9 122 55.34 52 55.34 17.0V1.6Z"/>
<path d="M62.38 1.6V17.0C62.38 52 74.83 122 74.83 157.0V174.3H74.93V157.0C74.93 122 62.48 52 62.48 17.0V1.6Z"/>
<path d="M55.55 1.6V17.0C55.55 52 58.41 122 58.41 157.0V174.3H58.51V157.0C58.51 122 55.65 52 55.65 17.0V1.6Z"/>
<path d="M103.87 1.6V17.0C103.87 52 172.85 122 172.85 157.0V174.3H172.95V157.0C172.95 122 103.97 52 103.97 17.0V1.6Z"/>
<path d="M104.99 1.6V17.0C104.99 52 174.79 122 174.79 157.0V174.3H174.89V157.0C174.89 122 105.09 52 105.09 17.0V1.6Z"/>
<path d="M79.2 1.6V17.0C79.2 52 115.32 122 115.32 157.0V174.3H115.42V157.0C115.42 122 79.3 52 79.3 17.0V1.6Z"/>
<path d="M97.96 1.6V17.0C97.96 52 159.28 122 159.28 157.0V174.3H159.39V157.0C159.39 122 98.06 52 98.06 17.0V1.6Z"/>
<path d="M64.42 1.6V17.0C64.42 52 79.01 122 79.01 157.0V174.3H79.11V157.0C79.11 122 64.52 52 64.52 17.0V1.6Z"/>
<path d="M53.2 1.6V17.0C53.2 52 53.41 122 53.41 157.0V174.3H53.51V157.0C53.51 122 53.31 52 53.31 17.0V1.6Z"/>
<path d="M68.09 1.6V17.0C68.09 52 87.58 122 87.58 157.0V174.3H87.68V157.0C87.68 122 68.19 52 68.19 17.0V1.6Z"/>
<path d="M93.06 1.6V17.0C93.06 52 148.47 122 148.47 157.0V174.3H148.57V157.0C148.57 122 93.17 52 93.17 17.0V1.6Z"/>
<path d="M122.63 1.6V17.0C122.63 52 215.69 122 215.69 157.0V174.3H215.79V157.0C215.79 122 122.73 52 122.73 17.0V1.6Z"/>
<path d="M65.74 1.6V17.0C65.74 52 82.07 122 82.07 157.0V174.3H82.17V157.0C82.17 122 65.85 52 65.85 17.0V1.6Z"/>
<path d="M122.53 1.6V17.0C122.53 52 215.38 122 215.38 157.0V174.3H215.49V157.0C215.49 122 122.63 52 122.63 17.0V1.6Z"/>
<path d="M67.68 1.6V17.0C67.68 52 86.97 122 86.97 157.0V174.3H87.07V157.0C87.07 122 67.78 52 67.78 17.0V1.6Z"/>
<path d="M63.4 1.6V17.0C63.4 52 77.07 122 77.07 157.0V174.3H77.17V157.0C77.17 122 63.5 52 63.5 17.0V1.6Z"/>
<path d="M93.98 1.6V17.0C93.98 52 149.9 122 149.9 157.0V174.3H150V157.0C150 122 94.08 52 94.08 17.0V1.6Z"/>
<path d="M130.99 1.6V17.0C130.99 52 235.27 122 235.27 157.0V174.3H235.38V157.0C235.38 122 131.09 52 131.09 17.0V1.6Z"/>
<path d="M105.5 1.6V17.0C105.5 52 175.91 122 175.91 157.0V174.3H176.01V157.0C176.01 122 105.6 52 105.6 17.0V1.6Z"/>
<path d="M81.65 1.6V17.0C81.65 52 121.54 122 121.54 157.0V174.3H121.65V157.0C121.65 122 81.75 52 81.75 17.0V1.6Z"/>
<path d="M124.77 1.6V17.0C124.77 52 220.38 122 220.38 157.0V174.3H220.48V157.0C220.48 122 124.87 52 124.87 17.0V1.6Z"/>
<path d="M97.45 1.6V17.0C97.45 52 158.57 122 158.57 157.0V174.3H158.67V157.0C158.67 122 97.55 52 97.55 17.0V1.6Z"/>
<path d="M71.66 1.6V17.0C71.66 52 94.92 122 94.92 157.0V174.3H95.02V157.0C95.02 122 71.76 52 71.76 17.0V1.6Z"/>
<path d="M92.76 1.6V17.0C92.76 52 147.76 122 147.76 157.0V174.3H147.86V157.0C147.86 122 92.86 52 92.86 17.0V1.6Z"/>
<path d="M119.98 1.6V17.0C119.98 52 209.67 122 209.67 157.0V174.3H209.77V157.0C209.77 122 120.08 52 120.08 17.0V1.6Z"/>
<path d="M81.85 1.6V17.0C81.85 52 121.85 122 121.85 157.0V174.3H121.95V157.0C121.95 122 81.95 52 81.95 17.0V1.6Z"/>
<path d="M57.89 1.6V17.0C57.89 52 64.22 122 64.22 157.0V174.3H64.32V157.0C64.32 122 58 52 58 17.0V1.6Z"/>
<path d="M122.22 1.6V17.0C122.22 52 214.47 122 214.47 157.0V174.3H214.57V157.0C214.57 122 122.32 52 122.32 17.0V1.6Z"/>
<path d="M129.26 1.6V17.0C129.26 52 231.5 122 231.5 157.0V174.3H231.6V157.0C231.6 122 129.36 52 129.36 17.0V1.6Z"/>
<path d="M127.22 1.6V17.0C127.22 52 226.6 122 226.6 157.0V174.3H226.71V157.0C226.71 122 127.32 52 127.32 17.0V1.6Z"/>
<path d="M116.82 1.6V17.0C116.82 52 202.12 122 202.12 157.0V174.3H202.23V157.0C202.23 122 116.92 52 116.92 17.0V1.6Z"/>
<path d="M69.01 1.6V17.0C69.01 52 89.62 122 89.62 157.0V174.3H89.72V157.0C89.72 122 69.11 52 69.11 17.0V1.6Z"/>
<path d="M111.82 1.6V17.0C111.82 52 190.9 122 190.9 157.0V174.3H191.01V157.0C191.01 122 111.92 52 111.92 17.0V1.6Z"/>
<path d="M87.66 1.6V17.0C87.66 52 134.29 122 134.29 157.0V174.3H134.4V157.0C134.4 122 87.76 52 87.76 17.0V1.6Z"/>
<path d="M61.05 1.6V17.0C61.05 52 71.46 122 71.46 157.0V174.3H71.56V157.0C71.56 122 61.16 52 61.16 17.0V1.6Z"/>
<path d="M100.3 1.6V17.0C100.3 52 165 122 165 157.0V174.3H165.1V157.0C165.1 122 100.4 52 100.4 17.0V1.6Z"/>
<path d="M118.55 1.6V17.0C118.55 52 206.41 122 206.41 157.0V174.3H206.51V157.0C206.51 122 118.65 52 118.65 17.0V1.6Z"/>
<path d="M124.46 1.6V17.0C124.46 52 219.46 122 219.46 157.0V174.3H219.57V157.0C219.57 122 124.57 52 124.57 17.0V1.6Z"/>
<path d="M111.11 1.6V17.0C111.11 52 189.78 122 189.78 157.0V174.3H189.88V157.0C189.88 122 111.21 52 111.21 17.0V1.6Z"/>
<path d="M87.56 1.6V17.0C87.56 52 134.19 122 134.19 157.0V174.3H134.29V157.0C134.29 122 87.66 52 87.66 17.0V1.6Z"/>
<path d="M128.64 1.6V17.0C128.64 52 230.38 122 230.38 157.0V174.3H230.48V157.0C230.48 122 128.75 52 128.75 17.0V1.6Z"/>
<path d="M59.42 1.6V17.0C59.42 52 66.97 122 66.97 157.0V174.3H67.08V157.0C67.08 122 59.52 52 59.52 17.0V1.6Z"/>
<path d="M80.63 1.6V17.0C80.63 52 118.18 122 118.18 157.0V174.3H118.28V157.0C118.28 122 80.73 52 80.73 17.0V1.6Z"/>
<path d="M86.34 1.6V17.0C86.34 52 131.95 122 131.95 157.0V174.3H132.05V157.0C132.05 122 86.44 52 86.44 17.0V1.6Z"/>
<path d="M71.55 1.6V17.0C71.55 52 94.82 122 94.82 157.0V174.3H94.92V157.0C94.92 122 71.66 52 71.66 17.0V1.6Z"/>
<path d="M99.18 1.6V17.0C99.18 52 162.45 122 162.45 157.0V174.3H162.55V157.0C162.55 122 99.28 52 99.28 17.0V1.6Z"/>
<path d="M69.52 1.6V17.0C69.52 52 90.84 122 90.84 157.0V174.3H90.94V157.0C90.94 122 69.62 52 69.62 17.0V1.6Z"/>
<path d="M87.36 1.6V17.0C87.36 52 133.78 122 133.78 157.0V174.3H133.89V157.0C133.89 122 87.46 52 87.46 17.0V1.6Z"/>
<path d="M104.07 1.6V17.0C104.07 52 173.05 122 173.05 157.0V174.3H173.16V157.0C173.16 122 104.18 52 104.18 17.0V1.6Z"/>
<path d="M106.52 1.6V17.0C106.52 52 179.07 122 179.07 157.0V174.3H179.17V157.0C179.17 122 106.62 52 106.62 17.0V1.6Z"/>
<path d="M90.62 1.6V17.0C90.62 52 141.74 122 141.74 157.0V174.3H141.84V157.0C141.84 122 90.72 52 90.72 17.0V1.6Z"/>
<path d="M122.83 1.6V17.0C122.83 52 216.3 122 216.3 157.0V174.3H216.4V157.0C216.4 122 122.93 52 122.93 17.0V1.6Z"/>
<path d="M77.47 1.6V17.0C77.47 52 110.32 122 110.32 157.0V174.3H110.43V157.0C110.43 122 77.57 52 77.57 17.0V1.6Z"/>
<path d="M81.44 1.6V17.0C81.44 52 121.03 122 121.03 157.0V174.3H121.14V157.0C121.14 122 81.54 52 81.54 17.0V1.6Z"/>
<path d="M117.33 1.6V17.0C117.33 52 203.65 122 203.65 157.0V174.3H203.76V157.0C203.76 122 117.43 52 117.43 17.0V1.6Z"/>
<path d="M86.85 1.6V17.0C86.85 52 132.66 122 132.66 157.0V174.3H132.76V157.0C132.76 122 86.95 52 86.95 17.0V1.6Z"/>
<path d="M74.2 1.6V17.0C74.2 52 102.88 122 102.88 157.0V174.3H102.98V157.0C102.98 122 74.31 52 74.31 17.0V1.6Z"/>
<path d="M88.78 1.6V17.0C88.78 52 137.86 122 137.86 157.0V174.3H137.97V157.0C137.97 122 88.88 52 88.88 17.0V1.6Z"/>
<path d="M85.62 1.6V17.0C85.62 52 130.32 122 130.32 157.0V174.3H130.42V157.0C130.42 122 85.72 52 85.72 17.0V1.6Z"/>
<path d="M67.99 1.6V17.0C67.99 52 87.48 122 87.48 157.0V174.3H87.58V157.0C87.58 122 68.09 52 68.09 17.0V1.6Z"/>
<path d="M79.61 1.6V17.0C79.61 52 115.83 122 115.83 157.0V174.3H115.93V157.0C115.93 122 79.71 52 79.71 17.0V1.6Z"/>
<path d="M81.75 1.6V17.0C81.75 52 121.65 122 121.65 157.0V174.3H121.75V157.0C121.75 122 81.85 52 81.85 17.0V1.6Z"/>
<path d="M78.89 1.6V17.0C78.89 52 114.4 122 114.4 157.0V174.3H114.51V157.0C114.51 122 79 52 79 17.0V1.6Z"/>
<path d="M121.71 1.6V17.0C121.71 52 213.24 122 213.24 157.0V174.3H213.34V157.0C213.34 122 121.81 52 121.81 17.0V1.6Z"/>
<path d="M68.7 1.6V17.0C68.7 52 88.9 122 88.9 157.0V174.3H89.01V157.0C89.01 122 68.8 52 68.8 17.0V1.6Z"/>
<path d="M72.37 1.6V17.0C72.37 52 97.17 122 97.17 157.0V174.3H97.27V157.0C97.27 122 72.47 52 72.47 17.0V1.6Z"/>
<path d="M88.88 1.6V17.0C88.88 52 137.97 122 137.97 157.0V174.3H138.07V157.0C138.07 122 88.99 52 88.99 17.0V1.6Z"/>
<path d="M69.31 1.6V17.0C69.31 52 90.33 122 90.33 157.0V174.3H90.43V157.0C90.43 122 69.41 52 69.41 17.0V1.6Z"/>
<path d="M90.11 1.6V17.0C90.11 52 140.72 122 140.72 157.0V174.3H140.82V157.0C140.82 122 90.21 52 90.21 17.0V1.6Z"/>
<path d="M87.05 1.6V17.0C87.05 52 133.07 122 133.07 157.0V174.3H133.17V157.0C133.17 122 87.15 52 87.15 17.0V1.6Z"/>
<path d="M76.65 1.6V17.0C76.65 52 108.28 122 108.28 157.0V174.3H108.39V157.0C108.39 122 76.75 52 76.75 17.0V1.6Z"/>
<path d="M59.73 1.6V17.0C59.73 52 67.89 122 67.89 157.0V174.3H67.99V157.0C67.99 122 59.83 52 59.83 17.0V1.6Z"/>
<path d="M62.48 1.6V17.0C62.48 52 74.93 122 74.93 157.0V174.3H75.03V157.0C75.03 122 62.58 52 62.58 17.0V1.6Z"/>
<path d="M53.82 1.6V17.0C53.82 52 54.94 122 54.94 157.0V174.3H55.04V157.0C55.04 122 53.92 52 53.92 17.0V1.6Z"/>
<path d="M57.08 1.6V17.0C57.08 52 62.69 122 62.69 157.0V174.3H62.79V157.0C62.79 122 57.18 52 57.18 17.0V1.6Z"/>
<path d="M130.78 1.6V17.0C130.78 52 234.97 122 234.97 157.0V174.3H235.07V157.0C235.07 122 130.89 52 130.89 17.0V1.6Z"/>
<path d="M72.27 1.6V17.0C72.27 52 96.35 122 96.35 157.0V174.3H96.45V157.0C96.45 122 72.37 52 72.37 17.0V1.6Z"/>
<path d="M106.22 1.6V17.0C106.22 52 178.26 122 178.26 157.0V174.3H178.36V157.0C178.36 122 106.32 52 106.32 17.0V1.6Z"/>
<path d="M91.84 1.6V17.0C91.84 52 144.19 122 144.19 157.0V174.3H144.29V157.0C144.29 122 91.94 52 91.94 17.0V1.6Z"/>
<path d="M121.51 1.6V17.0C121.51 52 212.83 122 212.83 157.0V174.3H212.94V157.0C212.94 122 121.61 52 121.61 17.0V1.6Z"/>
<path d="M106.32 1.6V17.0C106.32 52 178.56 122 178.56 157.0V174.3H178.66V157.0C178.66 122 106.42 52 106.42 17.0V1.6Z"/>
<path d="M74.82 1.6V17.0C74.82 52 104.61 122 104.61 157.0V174.3H104.71V157.0C104.71 122 74.92 52 74.92 17.0V1.6Z"/>
<path d="M68.19 1.6V17.0C68.19 52 87.88 122 87.88 157.0V174.3H87.99V157.0C87.99 122 68.29 52 68.29 17.0V1.6Z"/>
<path d="M99.59 1.6V17.0C99.59 52 163.36 122 163.36 157.0V174.3H163.47V157.0C163.47 122 99.69 52 99.69 17.0V1.6Z"/>
<path d="M55.14 1.6V17.0C55.14 52 57.69 122 57.69 157.0V174.3H57.79V157.0C57.79 122 55.24 52 55.24 17.0V1.6Z"/>
<path d="M88.27 1.6V17.0C88.27 52 136.13 122 136.13 157.0V174.3H136.23V157.0C136.23 122 88.38 52 88.38 17.0V1.6Z"/>
<path d="M72.17 1.6V17.0C72.17 52 96.25 122 96.25 157.0V174.3H96.35V157.0C96.35 122 72.27 52 72.27 17.0V1.6Z"/>
<path d="M110.4 1.6V17.0C110.4 52 187.84 122 187.84 157.0V174.3H187.95V157.0C187.95 122 110.5 52 110.5 17.0V1.6Z"/>
<path d="M88.48 1.6V17.0C88.48 52 136.54 122 136.54 157.0V174.3H136.64V157.0C136.64 122 88.58 52 88.58 17.0V1.6Z"/>
<path d="M82.56 1.6V17.0C82.56 52 123.89 122 123.89 157.0V174.3H123.99V157.0C123.99 122 82.67 52 82.67 17.0V1.6Z"/>
<path d="M54.12 1.6V17.0C54.12 52 55.75 122 55.75 157.0V174.3H55.86V157.0C55.86 122 54.22 52 54.22 17.0V1.6Z"/>
<path d="M86.03 1.6V17.0C86.03 52 131.23 122 131.23 157.0V174.3H131.34V157.0C131.34 122 86.13 52 86.13 17.0V1.6Z"/>
<path d="M67.78 1.6V17.0C67.78 52 87.07 122 87.07 157.0V174.3H87.17V157.0C87.17 122 67.88 52 67.88 17.0V1.6Z"/>
<path d="M100.71 1.6V17.0C100.71 52 165.91 122 165.91 157.0V174.3H166.02V157.0C166.02 122 100.81 52 100.81 17.0V1.6Z"/>
<path d="M109.99 1.6V17.0C109.99 52 187.03 122 187.03 157.0V174.3H187.13V157.0C187.13 122 110.09 52 110.09 17.0V1.6Z"/>
<path d="M77.06 1.6V17.0C77.06 52 109 122 109 157.0V174.3H109.1V157.0C109.1 122 77.16 52 77.16 17.0V1.6Z"/>
<path d="M61.56 1.6V17.0C61.56 52 72.58 122 72.58 157.0V174.3H72.69V157.0C72.69 122 61.67 52 61.67 17.0V1.6Z"/>
<path d="M108.25 1.6V17.0C108.25 52 183.15 122 183.15 157.0V174.3H183.25V157.0C183.25 122 108.36 52 108.36 17.0V1.6Z"/>
<path d="M121.2 1.6V17.0C121.2 52 212.32 122 212.32 157.0V174.3H212.43V157.0C212.43 122 121.3 52 121.3 17.0V1.6Z"/>
<path d="M129.05 1.6V17.0C129.05 52 231.09 122 231.09 157.0V174.3H231.19V157.0C231.19 122 129.15 52 129.15 17.0V1.6Z"/>
<path d="M103.67 1.6V17.0C103.67 52 171.93 122 171.93 157.0V174.3H172.03V157.0C172.03 122 103.77 52 103.77 17.0V1.6Z"/>
<path d="M111.41 1.6V17.0C111.41 52 190.39 122 190.39 157.0V174.3H190.5V157.0C190.5 122 111.52 52 111.52 17.0V1.6Z"/>
<path d="M95.82 1.6V17.0C95.82 52 154.49 122 154.49 157.0V174.3H154.59V157.0C154.59 122 95.92 52 95.92 17.0V1.6Z"/>
<path d="M79.51 1.6V17.0C79.51 52 115.73 122 115.73 157.0V174.3H115.83V157.0C115.83 122 79.61 52 79.61 17.0V1.6Z"/>
<path d="M98.16 1.6V17.0C98.16 52 159.59 122 159.59 157.0V174.3H159.69V157.0C159.69 122 98.26 52 98.26 17.0V1.6Z"/>
<path d="M101.93 1.6V17.0C101.93 52 167.75 122 167.75 157.0V174.3H167.85V157.0C167.85 122 102.04 52 102.04 17.0V1.6Z"/>
<path d="M73.29 1.6V17.0C73.29 52 99.72 122 99.72 157.0V174.3H99.82V157.0C99.82 122 73.39 52 73.39 17.0V1.6Z"/>
<path d="M119.26 1.6V17.0C119.26 52 208.35 122 208.35 157.0V174.3H208.45V157.0C208.45 122 119.37 52 119.37 17.0V1.6Z"/>
<path d="M63.7 1.6V17.0C63.7 52 77.68 122 77.68 157.0V174.3H77.79V157.0C77.79 122 63.81 52 63.81 17.0V1.6Z"/>
<path d="M60.34 1.6V17.0C60.34 52 70.14 122 70.14 157.0V174.3H70.24V157.0C70.24 122 60.44 52 60.44 17.0V1.6Z"/>
<path d="M98.67 1.6V17.0C98.67 52 161.02 122 161.02 157.0V174.3H161.12V157.0C161.12 122 98.77 52 98.77 17.0V1.6Z"/>
<path d="M64.93 1.6V17.0C64.93 52 79.83 122 79.83 157.0V174.3H79.93V157.0C79.93 122 65.03 52 65.03 17.0V1.6Z"/>
<path d="M92.45 1.6V17.0C92.45 52 146.74 122 146.74 157.0V174.3H146.84V157.0C146.84 122 92.55 52 92.55 17.0V1.6Z"/>
<path d="M111.92 1.6V17.0C111.92 52 191.01 122 191.01 157.0V174.3H191.11V157.0C191.11 122 112.03 52 112.03 17.0V1.6Z"/>
<path d="M107.74 1.6V17.0C107.74 52 182.23 122 182.23 157.0V174.3H182.34V157.0C182.34 122 107.85 52 107.85 17.0V1.6Z"/>
<path d="M111.52 1.6V17.0C111.52 52 190.5 122 190.5 157.0V174.3H190.6V157.0C190.6 122 111.62 52 111.62 17.0V1.6Z"/>
<path d="M72.57 1.6V17.0C72.57 52 97.68 122 97.68 157.0V174.3H97.78V157.0C97.78 122 72.68 52 72.68 17.0V1.6Z"/>
<path d="M83.07 1.6V17.0C83.07 52 125.01 122 125.01 157.0V174.3H125.11V157.0C125.11 122 83.18 52 83.18 17.0V1.6Z"/>
<path d="M66.86 1.6V17.0C66.86 52 84.72 122 84.72 157.0V174.3H84.82V157.0C84.82 122 66.97 52 66.97 17.0V1.6Z"/>
<path d="M108.97 1.6V17.0C108.97 52 184.68 122 184.68 157.0V174.3H184.78V157.0C184.78 122 109.07 52 109.07 17.0V1.6Z"/>
<path d="M78.69 1.6V17.0C78.69 52 114 122 114 157.0V174.3H114.1V157.0C114.1 122 78.79 52 78.79 17.0V1.6Z"/>
<path d="M108.46 1.6V17.0C108.46 52 183.76 122 183.76 157.0V174.3H183.87V157.0C183.87 122 108.56 52 108.56 17.0V1.6Z"/>
<path d="M93.78 1.6V17.0C93.78 52 149.49 122 149.49 157.0V174.3H149.59V157.0C149.59 122 93.88 52 93.88 17.0V1.6Z"/>
<path d="M56.36 1.6V17.0C56.36 52 60.65 122 60.65 157.0V174.3H60.75V157.0C60.75 122 56.47 52 56.47 17.0V1.6Z"/>
<path d="M110.5 1.6V17.0C110.5 52 187.95 122 187.95 157.0V174.3H188.05V157.0C188.05 122 110.6 52 110.6 17.0V1.6Z"/>
<path d="M84.81 1.6V17.0C84.81 52 128.89 122 128.89 157.0V174.3H128.99V157.0C128.99 122 84.91 52 84.91 17.0V1.6Z"/>
<path d="M120.69 1.6V17.0C120.69 52 211 122 211 157.0V174.3H211.1V157.0C211.1 122 120.79 52 120.79 17.0V1.6Z"/>
<path d="M101.02 1.6V17.0C101.02 52 166.22 122 166.22 157.0V174.3H166.32V157.0C166.32 122 101.12 52 101.12 17.0V1.6Z"/>
<path d="M130.58 1.6V17.0C130.58 52 234.25 122 234.25 157.0V174.3H234.36V157.0C234.36 122 130.68 52 130.68 17.0V1.6Z"/>
<path d="M120.28 1.6V17.0C120.28 52 210.39 122 210.39 157.0V174.3H210.49V157.0C210.49 122 120.39 52 120.39 17.0V1.6Z"/>
<path d="M100.51 1.6V17.0C100.51 52 165.61 122 165.61 157.0V174.3H165.71V157.0C165.71 122 100.61 52 100.61 17.0V1.6Z"/>
<path d="M87.25 1.6V17.0C87.25 52 133.58 122 133.58 157.0V174.3H133.68V157.0C133.68 122 87.36 52 87.36 17.0V1.6Z"/>
<path d="M127.11 1.6V17.0C127.11 52 226.5 122 226.5 157.0V174.3H226.6V157.0C226.6 122 127.22 52 127.22 17.0V1.6Z"/>
<path d="M71.86 1.6V17.0C71.86 52 95.23 122 95.23 157.0V174.3H95.33V157.0C95.33 122 71.96 52 71.96 17.0V1.6Z"/>
<path d="M53.61 1.6V17.0C53.61 52 54.43 122 54.43 157.0V174.3H54.53V157.0C54.53 122 53.71 52 53.71 17.0V1.6Z"/>
<path d="M105.91 1.6V17.0C105.91 52 176.83 122 176.83 157.0V174.3H176.93V157.0C176.93 122 106.01 52 106.01 17.0V1.6Z"/>
<path d="M74 1.6V17.0C74 52 101.96 122 101.96 157.0V174.3H102.06V157.0C102.06 122 74.1 52 74.1 17.0V1.6Z"/>
<path d="M85.42 1.6V17.0C85.42 52 129.7 122 129.7 157.0V174.3H129.81V157.0C129.81 122 85.52 52 85.52 17.0V1.6Z"/>
<path d="M97.24 1.6V17.0C97.24 52 158.16 122 158.16 157.0V174.3H158.26V157.0C158.26 122 97.35 52 97.35 17.0V1.6Z"/>
<path d="M128.34 1.6V17.0C128.34 52 229.56 122 229.56 157.0V174.3H229.66V157.0C229.66 122 128.44 52 128.44 17.0V1.6Z"/>
<path d="M82.36 1.6V17.0C82.36 52 123.38 122 123.38 157.0V174.3H123.48V157.0C123.48 122 82.46 52 82.46 17.0V1.6Z"/>
<path d="M113.05 1.6V17.0C113.05 52 193.45 122 193.45 157.0V174.3H193.56V157.0C193.56 122 113.15 52 113.15 17.0V1.6Z"/>
<path d="M119.88 1.6V17.0C119.88 52 209.57 122 209.57 157.0V174.3H209.67V157.0C209.67 122 119.98 52 119.98 17.0V1.6Z"/>
<path d="M112.94 1.6V17.0C112.94 52 193.25 122 193.25 157.0V174.3H193.35V157.0C193.35 122 113.05 52 113.05 17.0V1.6Z"/>
<path d="M112.43 1.6V17.0C112.43 52 192.13 122 192.13 157.0V174.3H192.23V157.0C192.23 122 112.54 52 112.54 17.0V1.6Z"/>
<path d="M61.97 1.6V17.0C61.97 52 73.6 122 73.6 157.0V174.3H73.71V157.0C73.71 122 62.07 52 62.07 17.0V1.6Z"/>
<path d="M102.34 1.6V17.0C102.34 52 168.26 122 168.26 157.0V174.3H168.36V157.0C168.36 122 102.44 52 102.44 17.0V1.6Z"/>
<path d="M65.64 1.6V17.0C65.64 52 81.97 122 81.97 157.0V174.3H82.07V157.0C82.07 122 65.74 52 65.74 17.0V1.6Z"/>
<path d="M59.12 1.6V17.0C59.12 52 66.26 122 66.26 157.0V174.3H66.36V157.0C66.36 122 59.22 52 59.22 17.0V1.6Z"/>
<path d="M77.36 1.6V17.0C77.36 52 109.92 122 109.92 157.0V174.3H110.02V157.0C110.02 122 77.47 52 77.47 17.0V1.6Z"/>
<path d="M66.25 1.6V17.0C66.25 52 83.4 122 83.4 157.0V174.3H83.5V157.0C83.5 122 66.35 52 66.35 17.0V1.6Z"/>
<path d="M75.12 1.6V17.0C75.12 52 104.92 122 104.92 157.0V174.3H105.02V157.0C105.02 122 75.22 52 75.22 17.0V1.6Z"/>
<path d="M125.28 1.6V17.0C125.28 52 221.91 122 221.91 157.0V174.3H222.01V157.0C222.01 122 125.38 52 125.38 17.0V1.6Z"/>
<path d="M116.41 1.6V17.0C116.41 52 201.1 122 201.1 157.0V174.3H201.21V157.0C201.21 122 116.51 52 116.51 17.0V1.6Z"/>
<path d="M128.24 1.6V17.0C128.24 52 229.15 122 229.15 157.0V174.3H229.26V157.0C229.26 122 128.34 52 128.34 17.0V1.6Z"/>
<path d="M106.62 1.6V17.0C106.62 52 179.38 122 179.38 157.0V174.3H179.48V157.0C179.48 122 106.73 52 106.73 17.0V1.6Z"/>
<path d="M128.85 1.6V17.0C128.85 52 230.68 122 230.68 157.0V174.3H230.79V157.0C230.79 122 128.95 52 128.95 17.0V1.6Z"/>
<path d="M130.17 1.6V17.0C130.17 52 232.83 122 232.83 157.0V174.3H232.93V157.0C232.93 122 130.27 52 130.27 17.0V1.6Z"/>
<path d="M123.04 1.6V17.0C123.04 52 216.61 122 216.61 157.0V174.3H216.71V157.0C216.71 122 123.14 52 123.14 17.0V1.6Z"/>
<path d="M109.17 1.6V17.0C109.17 52 185.5 122 185.5 157.0V174.3H185.6V157.0C185.6 122 109.27 52 109.27 17.0V1.6Z"/>
<path d="M99.49 1.6V17.0C99.49 52 163.26 122 163.26 157.0V174.3H163.36V157.0C163.36 122 99.59 52 99.59 17.0V1.6Z"/>
<path d="M84.5 1.6V17.0C84.5 52 128.38 122 128.38 157.0V174.3H128.48V157.0C128.48 122 84.6 52 84.6 17.0V1.6Z"/>
<path d="M119.06 1.6V17.0C119.06 52 207.63 122 207.63 157.0V174.3H207.73V157.0C207.73 122 119.16 52 119.16 17.0V1.6Z"/>
<path d="M56.16 1.6V17.0C56.16 52 60.34 122 60.34 157.0V174.3H60.45V157.0C60.45 122 56.26 52 56.26 17.0V1.6Z"/>
<path d="M56.06 1.6V17.0C56.06 52 59.53 122 59.53 157.0V174.3H59.63V157.0C59.63 122 56.16 52 56.16 17.0V1.6Z"/>
<path d="M95.61 1.6V17.0C95.61 52 154.08 122 154.08 157.0V174.3H154.18V157.0C154.18 122 95.72 52 95.72 17.0V1.6Z"/>
<path d="M96.02 1.6V17.0C96.02 52 154.69 122 154.69 157.0V174.3H154.8V157.0C154.8 122 96.12 52 96.12 17.0V1.6Z"/>
<path d="M82.87 1.6V17.0C82.87 52 124.5 122 124.5 157.0V174.3H124.6V157.0C124.6 122 82.97 52 82.97 17.0V1.6Z"/>
<path d="M75.22 1.6V17.0C75.22 52 105.22 122 105.22 157.0V174.3H105.33V157.0C105.33 122 75.33 52 75.33 17.0V1.6Z"/>
<path d="M66.05 1.6V17.0C66.05 52 83.09 122 83.09 157.0V174.3H83.19V157.0C83.19 122 66.15 52 66.15 17.0V1.6Z"/>
<path d="M78.59 1.6V17.0C78.59 52 113.49 122 113.49 157.0V174.3H113.59V157.0C113.59 122 78.69 52 78.69 17.0V1.6Z"/>
<path d="M66.66 1.6V17.0C66.66 52 84.31 122 84.31 157.0V174.3H84.42V157.0C84.42 122 66.76 52 66.76 17.0V1.6Z"/>
<path d="M69.92 1.6V17.0C69.92 52 91.66 122 91.66 157.0V174.3H91.76V157.0C91.76 122 70.02 52 70.02 17.0V1.6Z"/>
<path d="M76.04 1.6V17.0C76.04 52 106.96 122 106.96 157.0V174.3H107.06V157.0C107.06 122 76.14 52 76.14 17.0V1.6Z"/>
<path d="M112.74 1.6V17.0C112.74 52 193.05 122 193.05 157.0V174.3H193.15V157.0C193.15 122 112.84 52 112.84 17.0V1.6Z"/>
<path d="M54.73 1.6V17.0C54.73 52 57.28 122 57.28 157.0V174.3H57.39V157.0C57.39 122 54.84 52 54.84 17.0V1.6Z"/>
<path d="M63.19 1.6V17.0C63.19 52 76.66 122 76.66 157.0V174.3H76.77V157.0C76.77 122 63.3 52 63.3 17.0V1.6Z"/>
<path d="M54.84 1.6V17.0C54.84 52 57.39 122 57.39 157.0V174.3H57.49V157.0C57.49 122 54.94 52 54.94 17.0V1.6Z"/>
<path d="M70.84 1.6V17.0C70.84 52 93.29 122 93.29 157.0V174.3H93.39V157.0C93.39 122 70.94 52 70.94 17.0V1.6Z"/>
<path d="M83.89 1.6V17.0C83.89 52 126.95 122 126.95 157.0V174.3H127.05V157.0C127.05 122 83.99 52 83.99 17.0V1.6Z"/>
<path d="M117.74 1.6V17.0C117.74 52 204.88 122 204.88 157.0V174.3H204.98V157.0C204.98 122 117.84 52 117.84 17.0V1.6Z"/>
<path d="M62.07 1.6V17.0C62.07 52 73.81 122 73.81 157.0V174.3H73.91V157.0C73.91 122 62.18 52 62.18 17.0V1.6Z"/>
<path d="M131.29 1.6V17.0C131.29 52 236.09 122 236.09 157.0V174.3H236.19V157.0C236.19 122 131.4 52 131.4 17.0V1.6Z"/>
<path d="M116 1.6V17.0C116 52 199.57 122 199.57 157.0V174.3H199.68V157.0C199.68 122 116.1 52 116.1 17.0V1.6Z"/>
<path d="M119.67 1.6V17.0C119.67 52 208.96 122 208.96 157.0V174.3H209.06V157.0C209.06 122 119.77 52 119.77 17.0V1.6Z"/>
<path d="M118.35 1.6V17.0C118.35 52 205.69 122 205.69 157.0V174.3H205.8V157.0C205.8 122 118.45 52 118.45 17.0V1.6Z"/>
<path d="M54.02 1.6V17.0C54.02 52 55.35 122 55.35 157.0V174.3H55.45V157.0C55.45 122 54.12 52 54.12 17.0V1.6Z"/>
<path d="M124.67 1.6V17.0C124.67 52 219.87 122 219.87 157.0V174.3H219.97V157.0C219.97 122 124.77 52 124.77 17.0V1.6Z"/>
<path d="M85.32 1.6V17.0C85.32 52 129.6 122 129.6 157.0V174.3H129.7V157.0C129.7 122 85.42 52 85.42 17.0V1.6Z"/>
<path d="M104.18 1.6V17.0C104.18 52 173.36 122 173.36 157.0V174.3H173.46V157.0C173.46 122 104.28 52 104.28 17.0V1.6Z"/>
<path d="M115.19 1.6V17.0C115.19 52 197.84 122 197.84 157.0V174.3H197.94V157.0C197.94 122 115.29 52 115.29 17.0V1.6Z"/>
<path d="M125.59 1.6V17.0C125.59 52 223.44 122 223.44 157.0V174.3H223.54V157.0C223.54 122 125.69 52 125.69 17.0V1.6Z"/>
<path d="M93.37 1.6V17.0C93.37 52 148.98 122 148.98 157.0V174.3H149.08V157.0C149.08 122 93.47 52 93.47 17.0V1.6Z"/>
<path d="M130.48 1.6V17.0C130.48 52 233.95 122 233.95 157.0V174.3H234.05V157.0C234.05 122 130.58 52 130.58 17.0V1.6Z"/>
<path d="M85.83 1.6V17.0C85.83 52 130.93 122 130.93 157.0V174.3H131.03V157.0C131.03 122 85.93 52 85.93 17.0V1.6Z"/>
<path d="M129.87 1.6V17.0C129.87 52 232.21 122 232.21 157.0V174.3H232.32V157.0C232.32 122 129.97 52 129.97 17.0V1.6Z"/>
<path d="M127.83 1.6V17.0C127.83 52 228.13 122 228.13 157.0V174.3H228.24V157.0C228.24 122 127.93 52 127.93 17.0V1.6Z"/>
<path d="M68.5 1.6V17.0C68.5 52 88.7 122 88.7 157.0V174.3H88.8V157.0C88.8 122 68.6 52 68.6 17.0V1.6Z"/>
<path d="M101.42 1.6V17.0C101.42 52 166.63 122 166.63 157.0V174.3H166.73V157.0C166.73 122 101.53 52 101.53 17.0V1.6Z"/>
<path d="M87.76 1.6V17.0C87.76 52 134.8 122 134.8 157.0V174.3H134.91V157.0C134.91 122 87.87 52 87.87 17.0V1.6Z"/>
<path d="M93.47 1.6V17.0C93.47 52 149.08 122 149.08 157.0V174.3H149.19V157.0C149.19 122 93.57 52 93.57 17.0V1.6Z"/>
<path d="M114.47 1.6V17.0C114.47 52 196.62 122 196.62 157.0V174.3H196.72V157.0C196.72 122 114.58 52 114.58 17.0V1.6Z"/>
<path d="M97.65 1.6V17.0C97.65 52 158.88 122 158.88 157.0V174.3H158.98V157.0C158.98 122 97.75 52 97.75 17.0V1.6Z"/>
<path d="M102.14 1.6V17.0C102.14 52 167.95 122 167.95 157.0V174.3H168.06V157.0C168.06 122 102.24 52 102.24 17.0V1.6Z"/>
<path d="M116.51 1.6V17.0C116.51 52 201.21 122 201.21 157.0V174.3H201.31V157.0C201.31 122 116.61 52 116.61 17.0V1.6Z"/>
<path d="M65.44 1.6V17.0C65.44 52 81.05 122 81.05 157.0V174.3H81.15V157.0C81.15 122 65.54 52 65.54 17.0V1.6Z"/>
<path d="M116.31 1.6V17.0C116.31 52 200.9 122 200.9 157.0V174.3H201V157.0C201 122 116.41 52 116.41 17.0V1.6Z"/>
<path d="M131.5 1.6V17.0C131.5 52 236.5 122 236.5 157.0V174.3H236.6V157.0C236.6 122 131.6 52 131.6 17.0V1.6Z"/>
<path d="M115.08 1.6V17.0C115.08 52 197.74 122 197.74 157.0V174.3H197.84V157.0C197.84 122 115.19 52 115.19 17.0V1.6Z"/>
<path d="M103.77 1.6V17.0C103.77 52 172.54 122 172.54 157.0V174.3H172.65V157.0C172.65 122 103.87 52 103.87 17.0V1.6Z"/>
<path d="M100.81 1.6V17.0C100.81 52 166.02 122 166.02 157.0V174.3H166.12V157.0C166.12 122 100.91 52 100.91 17.0V1.6Z"/>
<path d="M93.17 1.6V17.0C93.17 52 148.68 122 148.68 157.0V174.3H148.78V157.0C148.78 122 93.27 52 93.27 17.0V1.6Z"/>
<path d="M75.43 1.6V17.0C75.43 52 105.53 122 105.53 157.0V174.3H105.63V157.0C105.63 122 75.53 52 75.53 17.0V1.6Z"/>
<path d="M99.79 1.6V17.0C99.79 52 163.87 122 163.87 157.0V174.3H163.98V157.0C163.98 122 99.89 52 99.89 17.0V1.6Z"/>
<path d="M70.23 1.6V17.0C70.23 52 92.17 122 92.17 157.0V174.3H92.27V157.0C92.27 122 70.33 52 70.33 17.0V1.6Z"/>
<path d="M126.09 1.6V17.0C126.09 52 224.36 122 224.36 157.0V174.3H224.46V157.0C224.46 122 126.2 52 126.2 17.0V1.6Z"/>
<path d="M71.96 1.6V17.0C71.96 52 95.33 122 95.33 157.0V174.3H95.43V157.0C95.43 122 72.06 52 72.06 17.0V1.6Z"/>
<path d="M63.3 1.6V17.0C63.3 52 76.77 122 76.77 157.0V174.3H76.87V157.0C76.87 122 63.4 52 63.4 17.0V1.6Z"/>
<path d="M115.8 1.6V17.0C115.8 52 199.37 122 199.37 157.0V174.3H199.47V157.0C199.47 122 115.9 52 115.9 17.0V1.6Z"/>
<path d="M118.14 1.6V17.0C118.14 52 205.49 122 205.49 157.0V174.3H205.59V157.0C205.59 122 118.25 52 118.25 17.0V1.6Z"/>
<path d="M74.41 1.6V17.0C74.41 52 103.18 122 103.18 157.0V174.3H103.29V157.0C103.29 122 74.51 52 74.51 17.0V1.6Z"/>
<path d="M128.44 1.6V17.0C128.44 52 229.66 122 229.66 157.0V174.3H229.77V157.0C229.77 122 128.54 52 128.54 17.0V1.6Z"/>
<path d="M92.35 1.6V17.0C92.35 52 146.43 122 146.43 157.0V174.3H146.53V157.0C146.53 122 92.45 52 92.45 17.0V1.6Z"/>
<path d="M70.33 1.6V17.0C70.33 52 92.37 122 92.37 157.0V174.3H92.47V157.0C92.47 122 70.43 52 70.43 17.0V1.6Z"/>
<path d="M79.3 1.6V17.0C79.3 52 115.42 122 115.42 157.0V174.3H115.53V157.0C115.53 122 79.4 52 79.4 17.0V1.6Z"/>
<path d="M58.81 1.6V17.0C58.81 52 65.44 122 65.44 157.0V174.3H65.55V157.0C65.55 122 58.91 52 58.91 17.0V1.6Z"/>
<path d="M116.21 1.6V17.0C116.21 52 200.19 122 200.19 157.0V174.3H200.29V157.0C200.29 122 116.31 52 116.31 17.0V1.6Z"/>
<path d="M81.14 1.6V17.0C81.14 52 120.52 122 120.52 157.0V174.3H120.63V157.0C120.63 122 81.24 52 81.24 17.0V1.6Z"/>
<path d="M122.32 1.6V17.0C122.32 52 214.67 122 214.67 157.0V174.3H214.77V157.0C214.77 122 122.42 52 122.42 17.0V1.6Z"/>
<path d="M60.75 1.6V17.0C60.75 52 70.75 122 70.75 157.0V174.3H70.85V157.0C70.85 122 60.85 52 60.85 17.0V1.6Z"/>
<path d="M79 1.6V17.0C79 52 114.71 122 114.71 157.0V174.3H114.81V157.0C114.81 122 79.1 52 79.1 17.0V1.6Z"/>
<path d="M86.44 1.6V17.0C86.44 52 132.05 122 132.05 157.0V174.3H132.15V157.0C132.15 122 86.54 52 86.54 17.0V1.6Z"/>
<path d="M67.88 1.6V17.0C67.88 52 87.27 122 87.27 157.0V174.3H87.37V157.0C87.37 122 67.99 52 67.99 17.0V1.6Z"/>
<path d="M120.08 1.6V17.0C120.08 52 209.88 122 209.88 157.0V174.3H209.98V157.0C209.98 122 120.18 52 120.18 17.0V1.6Z"/>
<path d="M59.01 1.6V17.0C59.01 52 66.06 122 66.06 157.0V174.3H66.16V157.0C66.16 122 59.12 52 59.12 17.0V1.6Z"/>
<path d="M90.31 1.6V17.0C90.31 52 140.92 122 140.92 157.0V174.3H141.03V157.0C141.03 122 90.41 52 90.41 17.0V1.6Z"/>
<path d="M130.07 1.6V17.0C130.07 52 232.72 122 232.72 157.0V174.3H232.83V157.0C232.83 122 130.17 52 130.17 17.0V1.6Z"/>
<path d="M58.2 1.6V17.0C58.2 52 64.53 122 64.53 157.0V174.3H64.63V157.0C64.63 122 58.3 52 58.3 17.0V1.6Z"/>
<path d="M98.26 1.6V17.0C98.26 52 159.79 122 159.79 157.0V174.3H159.9V157.0C159.9 122 98.37 52 98.37 17.0V1.6Z"/>
<path d="M130.89 1.6V17.0C130.89 52 235.07 122 235.07 157.0V174.3H235.17V157.0C235.17 122 130.99 52 130.99 17.0V1.6Z"/>
<path d="M70.64 1.6V17.0C70.64 52 92.78 122 92.78 157.0V174.3H92.88V157.0C92.88 122 70.74 52 70.74 17.0V1.6Z"/>
<path d="M127.42 1.6V17.0C127.42 52 227.01 122 227.01 157.0V174.3H227.11V157.0C227.11 122 127.52 52 127.52 17.0V1.6Z"/>
<path d="M118.75 1.6V17.0C118.75 52 206.92 122 206.92 157.0V174.3H207.02V157.0C207.02 122 118.86 52 118.86 17.0V1.6Z"/>
<path d="M61.16 1.6V17.0C61.16 52 71.67 122 71.67 157.0V174.3H71.77V157.0C71.77 122 61.26 52 61.26 17.0V1.6Z"/>
<path d="M110.91 1.6V17.0C110.91 52 188.86 122 188.86 157.0V174.3H188.97V157.0C188.97 122 111.01 52 111.01 17.0V1.6Z"/>
<path d="M119.57 1.6V17.0C119.57 52 208.75 122 208.75 157.0V174.3H208.86V157.0C208.86 122 119.67 52 119.67 17.0V1.6Z"/>
<path d="M123.34 1.6V17.0C123.34 52 216.91 122 216.91 157.0V174.3H217.02V157.0C217.02 122 123.44 52 123.44 17.0V1.6Z"/>
<path d="M108.56 1.6V17.0C108.56 52 183.87 122 183.87 157.0V174.3H183.97V157.0C183.97 122 108.66 52 108.66 17.0V1.6Z"/>
<path d="M126.6 1.6V17.0C126.6 52 225.38 122 225.38 157.0V174.3H225.48V157.0C225.48 122 126.71 52 126.71 17.0V1.6Z"/>
<path d="M114.07 1.6V17.0C114.07 52 196.11 122 196.11 157.0V174.3H196.21V157.0C196.21 122 114.17 52 114.17 17.0V1.6Z"/>
<path d="M97.04 1.6V17.0C97.04 52 157.35 122 157.35 157.0V174.3H157.45V157.0C157.45 122 97.14 52 97.14 17.0V1.6Z"/>
<path d="M90.41 1.6V17.0C90.41 52 141.33 122 141.33 157.0V174.3H141.43V157.0C141.43 122 90.52 52 90.52 17.0V1.6Z"/>
<path d="M96.43 1.6V17.0C96.43 52 156.22 122 156.22 157.0V174.3H156.33V157.0C156.33 122 96.53 52 96.53 17.0V1.6Z"/>
<path d="M57.59 1.6V17.0C57.59 52 63.51 122 63.51 157.0V174.3H63.61V157.0C63.61 122 57.69 52 57.69 17.0V1.6Z"/>
<path d="M62.58 1.6V17.0C62.58 52 75.34 122 75.34 157.0V174.3H75.44V157.0C75.44 122 62.68 52 62.68 17.0V1.6Z"/>
<path d="M58.51 1.6V17.0C58.51 52 65.04 122 65.04 157.0V174.3H65.14V157.0C65.14 122 58.61 52 58.61 17.0V1.6Z"/>
<path d="M102.24 1.6V17.0C102.24 52 168.06 122 168.06 157.0V174.3H168.16V157.0C168.16 122 102.34 52 102.34 17.0V1.6Z"/>
<path d="M84.09 1.6V17.0C84.09 52 127.36 122 127.36 157.0V174.3H127.46V157.0C127.46 122 84.2 52 84.2 17.0V1.6Z"/>
<path d="M69.72 1.6V17.0C69.72 52 91.45 122 91.45 157.0V174.3H91.56V157.0C91.56 122 69.82 52 69.82 17.0V1.6Z"/>
<path d="M80.42 1.6V17.0C80.42 52 117.77 122 117.77 157.0V174.3H117.87V157.0C117.87 122 80.53 52 80.53 17.0V1.6Z"/>
<path d="M55.85 1.6V17.0C55.85 52 58.71 122 58.71 157.0V174.3H58.81V157.0C58.81 122 55.96 52 55.96 17.0V1.6Z"/>
<path d="M60.14 1.6V17.0C60.14 52 69.32 122 69.32 157.0V174.3H69.42V157.0C69.42 122 60.24 52 60.24 17.0V1.6Z"/>
<path d="M75.33 1.6V17.0C75.33 52 105.43 122 105.43 157.0V174.3H105.53V157.0C105.53 122 75.43 52 75.43 17.0V1.6Z"/>
<path d="M107.34 1.6V17.0C107.34 52 181.11 122 181.11 157.0V174.3H181.21V157.0C181.21 122 107.44 52 107.44 17.0V1.6Z"/>
<path d="M78.28 1.6V17.0C78.28 52 112.67 122 112.67 157.0V174.3H112.77V157.0C112.77 122 78.38 52 78.38 17.0V1.6Z"/>
<path d="M110.19 1.6V17.0C110.19 52 187.54 122 187.54 157.0V174.3H187.64V157.0C187.64 122 110.29 52 110.29 17.0V1.6Z"/>
<path d="M101.22 1.6V17.0C101.22 52 166.42 122 166.42 157.0V174.3H166.53V157.0C166.53 122 101.32 52 101.32 17.0V1.6Z"/>
<path d="M70.53 1.6V17.0C70.53 52 92.58 122 92.58 157.0V174.3H92.68V157.0C92.68 122 70.64 52 70.64 17.0V1.6Z"/>
<path d="M96.12 1.6V17.0C96.12 52 155 122 155 157.0V174.3H155.1V157.0C155.1 122 96.22 52 96.22 17.0V1.6Z"/>
<path d="M91.54 1.6V17.0C91.54 52 143.68 122 143.68 157.0V174.3H143.78V157.0C143.78 122 91.64 52 91.64 17.0V1.6Z"/>
<path d="M76.55 1.6V17.0C76.55 52 108.18 122 108.18 157.0V174.3H108.28V157.0C108.28 122 76.65 52 76.65 17.0V1.6Z"/>
<path d="M103.16 1.6V17.0C103.16 52 170.71 122 170.71 157.0V174.3H170.81V157.0C170.81 122 103.26 52 103.26 17.0V1.6Z"/>
<path d="M60.54 1.6V17.0C60.54 52 70.44 122 70.44 157.0V174.3H70.54V157.0C70.54 122 60.65 52 60.65 17.0V1.6Z"/>
<path d="M95.72 1.6V17.0C95.72 52 154.39 122 154.39 157.0V174.3H154.49V157.0C154.49 122 95.82 52 95.82 17.0V1.6Z"/>
<path d="M53.92 1.6V17.0C53.92 52 55.24 122 55.24 157.0V174.3H55.35V157.0C55.35 122 54.02 52 54.02 17.0V1.6Z"/>
<path d="M56.98 1.6V17.0C56.98 52 62.49 122 62.49 157.0V174.3H62.59V157.0C62.59 122 57.08 52 57.08 17.0V1.6Z"/>
<path d="M123.14 1.6V17.0C123.14 52 216.71 122 216.71 157.0V174.3H216.81V157.0C216.81 122 123.24 52 123.24 17.0V1.6Z"/>
<path d="M94.59 1.6V17.0C94.59 52 150.82 122 150.82 157.0V174.3H150.92V157.0C150.92 122 94.7 52 94.7 17.0V1.6Z"/>
<path d="M114.37 1.6V17.0C114.37 52 196.51 122 196.51 157.0V174.3H196.62V157.0C196.62 122 114.47 52 114.47 17.0V1.6Z"/>
<path d="M81.24 1.6V17.0C81.24 52 120.73 122 120.73 157.0V174.3H120.83V157.0C120.83 122 81.34 52 81.34 17.0V1.6Z"/>
<path d="M63.09 1.6V17.0C63.09 52 76.56 122 76.56 157.0V174.3H76.66V157.0C76.66 122 63.19 52 63.19 17.0V1.6Z"/>
<path d="M58.91 1.6V17.0C58.91 52 65.55 122 65.55 157.0V174.3H65.65V157.0C65.65 122 59.01 52 59.01 17.0V1.6Z"/>
<path d="M84.4 1.6V17.0C84.4 52 128.28 122 128.28 157.0V174.3H128.38V157.0C128.38 122 84.5 52 84.5 17.0V1.6Z"/>
<path d="M78.49 1.6V17.0C78.49 52 113.38 122 113.38 157.0V174.3H113.49V157.0C113.49 122 78.59 52 78.59 17.0V1.6Z"/>
<path d="M93.57 1.6V17.0C93.57 52 149.29 122 149.29 157.0V174.3H149.39V157.0C149.39 122 93.68 52 93.68 17.0V1.6Z"/>
<path d="M66.97 1.6V17.0C66.97 52 85.33 122 85.33 157.0V174.3H85.44V157.0C85.44 122 67.07 52 67.07 17.0V1.6Z"/>
<path d="M112.54 1.6V17.0C112.54 52 192.23 122 192.23 157.0V174.3H192.33V157.0C192.33 122 112.64 52 112.64 17.0V1.6Z"/>
<path d="M128.13 1.6V17.0C128.13 52 228.95 122 228.95 157.0V174.3H229.05V157.0C229.05 122 128.24 52 128.24 17.0V1.6Z"/>
<path d="M90.52 1.6V17.0C90.52 52 141.64 122 141.64 157.0V174.3H141.74V157.0C141.74 122 90.62 52 90.62 17.0V1.6Z"/>
<path d="M63.6 1.6V17.0C63.6 52 77.58 122 77.58 157.0V174.3H77.68V157.0C77.68 122 63.7 52 63.7 17.0V1.6Z"/>
<path d="M118.45 1.6V17.0C118.45 52 205.8 122 205.8 157.0V174.3H205.9V157.0C205.9 122 118.55 52 118.55 17.0V1.6Z"/>
<path d="M74.51 1.6V17.0C74.51 52 103.29 122 103.29 157.0V174.3H103.39V157.0C103.39 122 74.61 52 74.61 17.0V1.6Z"/>
<path d="M79.4 1.6V17.0C79.4 52 115.53 122 115.53 157.0V174.3H115.63V157.0C115.63 122 79.51 52 79.51 17.0V1.6Z"/>
<path d="M119.77 1.6V17.0C119.77 52 209.26 122 209.26 157.0V174.3H209.37V157.0C209.37 122 119.88 52 119.88 17.0V1.6Z"/>
<path d="M126.91 1.6V17.0C126.91 52 225.89 122 225.89 157.0V174.3H225.99V157.0C225.99 122 127.01 52 127.01 17.0V1.6Z"/>
<path d="M95.92 1.6V17.0C95.92 52 154.59 122 154.59 157.0V174.3H154.69V157.0C154.69 122 96.02 52 96.02 17.0V1.6Z"/>
<path d="M114.17 1.6V17.0C114.17 52 196.31 122 196.31 157.0V174.3H196.41V157.0C196.41 122 114.27 52 114.27 17.0V1.6Z"/>
<path d="M71.76 1.6V17.0C71.76 52 95.02 122 95.02 157.0V174.3H95.13V157.0C95.13 122 71.86 52 71.86 17.0V1.6Z"/>
<path d="M89.39 1.6V17.0C89.39 52 138.99 122 138.99 157.0V174.3H139.09V157.0C139.09 122 89.5 52 89.5 17.0V1.6Z"/>
<path d="M83.28 1.6V17.0C83.28 52 125.52 122 125.52 157.0V174.3H125.62V157.0C125.62 122 83.38 52 83.38 17.0V1.6Z"/>
<path d="M68.29 1.6V17.0C68.29 52 88.09 122 88.09 157.0V174.3H88.19V157.0C88.19 122 68.39 52 68.39 17.0V1.6Z"/>
<path d="M58.71 1.6V17.0C58.71 52 65.34 122 65.34 157.0V174.3H65.44V157.0C65.44 122 58.81 52 58.81 17.0V1.6Z"/>
<path d="M101.32 1.6V17.0C101.32 52 166.53 122 166.53 157.0V174.3H166.63V157.0C166.63 122 101.42 52 101.42 17.0V1.6Z"/>
<path d="M101.83 1.6V17.0C101.83 52 167.14 122 167.14 157.0V174.3H167.24V157.0C167.24 122 101.93 52 101.93 17.0V1.6Z"/>
<path d="M68.9 1.6V17.0C68.9 52 89.41 122 89.41 157.0V174.3H89.52V157.0C89.52 122 69.01 52 69.01 17.0V1.6Z"/>
<path d="M122.93 1.6V17.0C122.93 52 216.4 122 216.4 157.0V174.3H216.51V157.0C216.51 122 123.04 52 123.04 17.0V1.6Z"/>
<path d="M127.52 1.6V17.0C127.52 52 227.11 122 227.11 157.0V174.3H227.22V157.0C227.22 122 127.62 52 127.62 17.0V1.6Z"/>
<path d="M70.43 1.6V17.0C70.43 52 92.47 122 92.47 157.0V174.3H92.58V157.0C92.58 122 70.53 52 70.53 17.0V1.6Z"/>
<path d="M124.16 1.6V17.0C124.16 52 218.85 122 218.85 157.0V174.3H218.95V157.0C218.95 122 124.26 52 124.26 17.0V1.6Z"/>
<path d="M97.86 1.6V17.0C97.86 52 159.18 122 159.18 157.0V174.3H159.28V157.0C159.28 122 97.96 52 97.96 17.0V1.6Z"/>
<path d="M123.24 1.6V17.0C123.24 52 216.81 122 216.81 157.0V174.3H216.91V157.0C216.91 122 123.34 52 123.34 17.0V1.6Z"/>
<path d="M131.09 1.6V17.0C131.09 52 235.48 122 235.48 157.0V174.3H235.58V157.0C235.58 122 131.19 52 131.19 17.0V1.6Z"/>
<path d="M117.63 1.6V17.0C117.63 52 204.37 122 204.37 157.0V174.3H204.47V157.0C204.47 122 117.74 52 117.74 17.0V1.6Z"/>
<path d="M61.26 1.6V17.0C61.26 52 71.77 122 71.77 157.0V174.3H71.87V157.0C71.87 122 61.36 52 61.36 17.0V1.6Z"/>
<path d="M99.28 1.6V17.0C99.28 52 163.06 122 163.06 157.0V174.3H163.16V157.0C163.16 122 99.39 52 99.39 17.0V1.6Z"/>
<path d="M121.61 1.6V17.0C121.61 52 213.04 122 213.04 157.0V174.3H213.14V157.0C213.14 122 121.71 52 121.71 17.0V1.6Z"/>
<path d="M89.7 1.6V17.0C89.7 52 140.11 122 140.11 157.0V174.3H140.21V157.0C140.21 122 89.8 52 89.8 17.0V1.6Z"/>
<path d="M56.47 1.6V17.0C56.47 52 60.75 122 60.75 157.0V174.3H60.85V157.0C60.85 122 56.57 52 56.57 17.0V1.6Z"/>
<path d="M113.76 1.6V17.0C113.76 52 195.19 122 195.19 157.0V174.3H195.29V157.0C195.29 122 113.86 52 113.86 17.0V1.6Z"/>
<path d="M115.29 1.6V17.0C115.29 52 198.35 122 198.35 157.0V174.3H198.45V157.0C198.45 122 115.39 52 115.39 17.0V1.6Z"/>
<path d="M106.93 1.6V17.0C106.93 52 179.79 122 179.79 157.0V174.3H179.89V157.0C179.89 122 107.03 52 107.03 17.0V1.6Z"/>
<path d="M105.2 1.6V17.0C105.2 52 175.2 122 175.2 157.0V174.3H175.3V157.0C175.3 122 105.3 52 105.3 17.0V1.6Z"/>
<path d="M56.87 1.6V17.0C56.87 52 61.87 122 61.87 157.0V174.3H61.98V157.0C61.98 122 56.98 52 56.98 17.0V1.6Z"/>
<path d="M62.89 1.6V17.0C62.89 52 76.36 122 76.36 157.0V174.3H76.46V157.0C76.46 122 62.99 52 62.99 17.0V1.6Z"/>
<path d="M53.1 1.6V17.0C53.1 52 53.1 122 53.1 157.0V174.3H53.2V157.0C53.2 122 53.2 52 53.2 17.0V1.6Z"/>
<path d="M127.93 1.6V17.0C127.93 52 228.24 122 228.24 157.0V174.3H228.34V157.0C228.34 122 128.03 52 128.03 17.0V1.6Z"/>
<path d="M112.64 1.6V17.0C112.64 52 192.94 122 192.94 157.0V174.3H193.05V157.0C193.05 122 112.74 52 112.74 17.0V1.6Z"/>
<path d="M98.98 1.6V17.0C98.98 52 161.73 122 161.73 157.0V174.3H161.83V157.0C161.83 122 99.08 52 99.08 17.0V1.6Z"/>
<path d="M120.59 1.6V17.0C120.59 52 210.9 122 210.9 157.0V174.3H211V157.0C211 122 120.69 52 120.69 17.0V1.6Z"/>
<path d="M130.38 1.6V17.0C130.38 52 233.44 122 233.44 157.0V174.3H233.54V157.0C233.54 122 130.48 52 130.48 17.0V1.6Z"/>
<path d="M131.19 1.6V17.0C131.19 52 235.99 122 235.99 157.0V174.3H236.09V157.0C236.09 122 131.29 52 131.29 17.0V1.6Z"/>
<path d="M103.26 1.6V17.0C103.26 52 170.91 122 170.91 157.0V174.3H171.01V157.0C171.01 122 103.36 52 103.36 17.0V1.6Z"/>
<path d="M69.41 1.6V17.0C69.41 52 90.43 122 90.43 157.0V174.3H90.54V157.0C90.54 122 69.52 52 69.52 17.0V1.6Z"/>
<path d="M109.58 1.6V17.0C109.58 52 186.31 122 186.31 157.0V174.3H186.42V157.0C186.42 122 109.68 52 109.68 17.0V1.6Z"/>
<path d="M130.27 1.6V17.0C130.27 52 233.34 122 233.34 157.0V174.3H233.44V157.0C233.44 122 130.38 52 130.38 17.0V1.6Z"/>
<path d="M102.44 1.6V17.0C102.44 52 168.36 122 168.36 157.0V174.3H168.46V157.0C168.46 122 102.55 52 102.55 17.0V1.6Z"/>
<path d="M86.64 1.6V17.0C86.64 52 132.46 122 132.46 157.0V174.3H132.56V157.0C132.56 122 86.74 52 86.74 17.0V1.6Z"/>
<path d="M124.57 1.6V17.0C124.57 52 219.77 122 219.77 157.0V174.3H219.87V157.0C219.87 122 124.67 52 124.67 17.0V1.6Z"/>
<path d="M71.35 1.6V17.0C71.35 52 94.31 122 94.31 157.0V174.3H94.41V157.0C94.41 122 71.45 52 71.45 17.0V1.6Z"/>
<path d="M67.48 1.6V17.0C67.48 52 86.76 122 86.76 157.0V174.3H86.86V157.0C86.86 122 67.58 52 67.58 17.0V1.6Z"/>
<path d="M56.77 1.6V17.0C56.77 52 61.26 122 61.26 157.0V174.3H61.36V157.0C61.36 122 56.87 52 56.87 17.0V1.6Z"/>
<path d="M72.88 1.6V17.0C72.88 52 98.7 122 98.7 157.0V174.3H98.8V157.0C98.8 122 72.98 52 72.98 17.0V1.6Z"/>
<path d="M107.13 1.6V17.0C107.13 52 180.19 122 180.19 157.0V174.3H180.3V157.0C180.3 122 107.24 52 107.24 17.0V1.6Z"/>
<path d="M75.02 1.6V17.0C75.02 52 104.82 122 104.82 157.0V174.3H104.92V157.0C104.92 122 75.12 52 75.12 17.0V1.6Z"/>
<path d="M115.49 1.6V17.0C115.49 52 199.06 122 199.06 157.0V174.3H199.17V157.0C199.17 122 115.59 52 115.59 17.0V1.6Z"/>
<path d="M111.62 1.6V17.0C111.62 52 190.6 122 190.6 157.0V174.3H190.7V157.0C190.7 122 111.72 52 111.72 17.0V1.6Z"/>
<path d="M125.08 1.6V17.0C125.08 52 221.3 122 221.3 157.0V174.3H221.4V157.0C221.4 122 125.18 52 125.18 17.0V1.6Z"/>
<path d="M114.78 1.6V17.0C114.78 52 197.33 122 197.33 157.0V174.3H197.43V157.0C197.43 122 114.88 52 114.88 17.0V1.6Z"/>
<path d="M112.13 1.6V17.0C112.13 52 191.62 122 191.62 157.0V174.3H191.72V157.0C191.72 122 112.23 52 112.23 17.0V1.6Z"/>
<path d="M85.21 1.6V17.0C85.21 52 129.5 122 129.5 157.0V174.3H129.6V157.0C129.6 122 85.32 52 85.32 17.0V1.6Z"/>
<path d="M108.66 1.6V17.0C108.66 52 184.17 122 184.17 157.0V174.3H184.27V157.0C184.27 122 108.76 52 108.76 17.0V1.6Z"/>
<path d="M83.99 1.6V17.0C83.99 52 127.26 122 127.26 157.0V174.3H127.36V157.0C127.36 122 84.09 52 84.09 17.0V1.6Z"/>
<path d="M77.98 1.6V17.0C77.98 52 111.96 122 111.96 157.0V174.3H112.06V157.0C112.06 122 78.08 52 78.08 17.0V1.6Z"/>
<path d="M64.62 1.6V17.0C64.62 52 79.32 122 79.32 157.0V174.3H79.42V157.0C79.42 122 64.72 52 64.72 17.0V1.6Z"/>
<path d="M78.38 1.6V17.0C78.38 52 113.18 122 113.18 157.0V174.3H113.28V157.0C113.28 122 78.49 52 78.49 17.0V1.6Z"/>
<path d="M60.95 1.6V17.0C60.95 52 71.36 122 71.36 157.0V174.3H71.46V157.0C71.46 122 61.05 52 61.05 17.0V1.6Z"/>
<path d="M125.18 1.6V17.0C125.18 52 221.61 122 221.61 157.0V174.3H221.71V157.0C221.71 122 125.28 52 125.28 17.0V1.6Z"/>
<path d="M70.74 1.6V17.0C70.74 52 93.19 122 93.19 157.0V174.3H93.29V157.0C93.29 122 70.84 52 70.84 17.0V1.6Z"/>
<path d="M120.9 1.6V17.0C120.9 52 211.41 122 211.41 157.0V174.3H211.51V157.0C211.51 122 121 52 121 17.0V1.6Z"/>
<path d="M97.14 1.6V17.0C97.14 52 157.45 122 157.45 157.0V174.3H157.55V157.0C157.55 122 97.24 52 97.24 17.0V1.6Z"/>
<path d="M84.6 1.6V17.0C84.6 52 128.48 122 128.48 157.0V174.3H128.58V157.0C128.58 122 84.71 52 84.71 17.0V1.6Z"/>
<path d="M62.68 1.6V17.0C62.68 52 75.75 122 75.75 157.0V174.3H75.85V157.0C75.85 122 62.79 52 62.79 17.0V1.6Z"/>
<path d="M126.2 1.6V17.0C126.2 52 224.77 122 224.77 157.0V174.3H224.87V157.0C224.87 122 126.3 52 126.3 17.0V1.6Z"/>
<path d="M80.53 1.6V17.0C80.53 52 117.87 122 117.87 157.0V174.3H117.97V157.0C117.97 122 80.63 52 80.63 17.0V1.6Z"/>
<path d="M129.76 1.6V17.0C129.76 52 232.01 122 232.01 157.0V174.3H232.11V157.0C232.11 122 129.87 52 129.87 17.0V1.6Z"/>
<path d="M111.31 1.6V17.0C111.31 52 190.29 122 190.29 157.0V174.3H190.39V157.0C190.39 122 111.41 52 111.41 17.0V1.6Z"/>
<path d="M55.96 1.6V17.0C55.96 52 58.92 122 58.92 157.0V174.3H59.02V157.0C59.02 122 56.06 52 56.06 17.0V1.6Z"/>
<path d="M121.41 1.6V17.0C121.41 52 212.73 122 212.73 157.0V174.3H212.83V157.0C212.83 122 121.51 52 121.51 17.0V1.6Z"/>
<path d="M122.02 1.6V17.0C122.02 52 214.16 122 214.16 157.0V174.3H214.26V157.0C214.26 122 122.12 52 122.12 17.0V1.6Z"/>
<path d="M118.65 1.6V17.0C118.65 52 206.71 122 206.71 157.0V174.3H206.82V157.0C206.82 122 118.75 52 118.75 17.0V1.6Z"/>
<path d="M101.12 1.6V17.0C101.12 52 166.32 122 166.32 157.0V174.3H166.42V157.0C166.42 122 101.22 52 101.22 17.0V1.6Z"/>
<path d="M61.36 1.6V17.0C61.36 52 72.07 122 72.07 157.0V174.3H72.18V157.0C72.18 122 61.46 52 61.46 17.0V1.6Z"/>
<path d="M98.37 1.6V17.0C98.37 52 160.1 122 160.1 157.0V174.3H160.2V157.0C160.2 122 98.47 52 98.47 17.0V1.6Z"/>
<path d="M113.56 1.6V17.0C113.56 52 194.58 122 194.58 157.0V174.3H194.68V157.0C194.68 122 113.66 52 113.66 17.0V1.6Z"/>
<path d="M64.52 1.6V17.0C64.52 52 79.21 122 79.21 157.0V174.3H79.32V157.0C79.32 122 64.62 52 64.62 17.0V1.6Z"/>
<path d="M98.06 1.6V17.0C98.06 52 159.49 122 159.49 157.0V174.3H159.59V157.0C159.59 122 98.16 52 98.16 17.0V1.6Z"/>
<path d="M100.1 1.6V17.0C100.1 52 164.59 122 164.59 157.0V174.3H164.69V157.0C164.69 122 100.2 52 100.2 17.0V1.6Z"/>
<path d="M123.95 1.6V17.0C123.95 52 218.24 122 218.24 157.0V174.3H218.34V157.0C218.34 122 124.06 52 124.06 17.0V1.6Z"/>
<path d="M91.94 1.6V17.0C91.94 52 144.9 122 144.9 157.0V174.3H145V157.0C145 122 92.05 52 92.05 17.0V1.6Z"/>
<path d="M76.14 1.6V17.0C76.14 52 107.47 122 107.47 157.0V174.3H107.57V157.0C107.57 122 76.24 52 76.24 17.0V1.6Z"/>
<path d="M65.34 1.6V17.0C65.34 52 80.34 122 80.34 157.0V174.3H80.44V157.0C80.44 122 65.44 52 65.44 17.0V1.6Z"/>
<path d="M72.06 1.6V17.0C72.06 52 95.64 122 95.64 157.0V174.3H95.74V157.0C95.74 122 72.17 52 72.17 17.0V1.6Z"/>
<path d="M79.1 1.6V17.0C79.1 52 115.02 122 115.02 157.0V174.3H115.12V157.0C115.12 122 79.2 52 79.2 17.0V1.6Z"/>
<path d="M104.69 1.6V17.0C104.69 52 174.28 122 174.28 157.0V174.3H174.38V157.0C174.38 122 104.79 52 104.79 17.0V1.6Z"/>
<path d="M108.76 1.6V17.0C108.76 52 184.38 122 184.38 157.0V174.3H184.48V157.0C184.48 122 108.87 52 108.87 17.0V1.6Z"/>
<path d="M83.69 1.6V17.0C83.69 52 126.64 122 126.64 157.0V174.3H126.75V157.0C126.75 122 83.79 52 83.79 17.0V1.6Z"/>
<path d="M85.52 1.6V17.0C85.52 52 129.81 122 129.81 157.0V174.3H129.91V157.0C129.91 122 85.62 52 85.62 17.0V1.6Z"/>
<path d="M74.31 1.6V17.0C74.31 52 103.08 122 103.08 157.0V174.3H103.18V157.0C103.18 122 74.41 52 74.41 17.0V1.6Z"/>
<path d="M124.87 1.6V17.0C124.87 52 220.79 122 220.79 157.0V174.3H220.89V157.0C220.89 122 124.97 52 124.97 17.0V1.6Z"/>
<path d="M64.72 1.6V17.0C64.72 52 79.62 122 79.62 157.0V174.3H79.72V157.0C79.72 122 64.83 52 64.83 17.0V1.6Z"/>
<path d="M123.55 1.6V17.0C123.55 52 217.42 122 217.42 157.0V174.3H217.53V157.0C217.53 122 123.65 52 123.65 17.0V1.6Z"/>
<path d="M101.53 1.6V17.0C101.53 52 166.73 122 166.73 157.0V174.3H166.83V157.0C166.83 122 101.63 52 101.63 17.0V1.6Z"/>
<path d="M77.16 1.6V17.0C77.16 52 109.3 122 109.3 157.0V174.3H109.41V157.0C109.41 122 77.26 52 77.26 17.0V1.6Z"/>
<path d="M65.03 1.6V17.0C65.03 52 80.03 122 80.03 157.0V174.3H80.13V157.0C80.13 122 65.13 52 65.13 17.0V1.6Z"/>
<path d="M67.07 1.6V17.0C67.07 52 85.54 122 85.54 157.0V174.3H85.64V157.0C85.64 122 67.17 52 67.17 17.0V1.6Z"/>
<path d="M55.34 1.6V17.0C55.34 52 58.2 122 58.2 157.0V174.3H58.3V157.0C58.3 122 55.45 52 55.45 17.0V1.6Z"/>
<path d="M112.23 1.6V17.0C112.23 52 191.72 122 191.72 157.0V174.3H191.82V157.0C191.82 122 112.33 52 112.33 17.0V1.6Z"/>
<path d="M74.1 1.6V17.0C74.1 52 102.47 122 102.47 157.0V174.3H102.57V157.0C102.57 122 74.2 52 74.2 17.0V1.6Z"/>
<path d="M94.29 1.6V17.0C94.29 52 150.51 122 150.51 157.0V174.3H150.61V157.0C150.61 122 94.39 52 94.39 17.0V1.6Z"/>
<path d="M87.46 1.6V17.0C87.46 52 133.89 122 133.89 157.0V174.3H133.99V157.0C133.99 122 87.56 52 87.56 17.0V1.6Z"/>
<path d="M83.48 1.6V17.0C83.48 52 126.34 122 126.34 157.0V174.3H126.44V157.0C126.44 122 83.58 52 83.58 17.0V1.6Z"/>
<path d="M111.01 1.6V17.0C111.01 52 188.97 122 188.97 157.0V174.3H189.07V157.0C189.07 122 111.11 52 111.11 17.0V1.6Z"/>
<path d="M88.58 1.6V17.0C88.58 52 137.15 122 137.15 157.0V174.3H137.25V157.0C137.25 122 88.68 52 88.68 17.0V1.6Z"/>
<path d="M127.73 1.6V17.0C127.73 52 227.83 122 227.83 157.0V174.3H227.93V157.0C227.93 122 127.83 52 127.83 17.0V1.6Z"/>
<path d="M84.71 1.6V17.0C84.71 52 128.79 122 128.79 157.0V174.3H128.89V157.0C128.89 122 84.81 52 84.81 17.0V1.6Z"/>
<path d="M103.06 1.6V17.0C103.06 52 170.3 122 170.3 157.0V174.3H170.4V157.0C170.4 122 103.16 52 103.16 17.0V1.6Z"/>
<path d="M53.71 1.6V17.0C53.71 52 54.53 122 54.53 157.0V174.3H54.63V157.0C54.63 122 53.82 52 53.82 17.0V1.6Z"/>
<path d="M70.02 1.6V17.0C70.02 52 91.96 122 91.96 157.0V174.3H92.07V157.0C92.07 122 70.13 52 70.13 17.0V1.6Z"/>
<path d="M84.2 1.6V17.0C84.2 52 127.77 122 127.77 157.0V174.3H127.87V157.0C127.87 122 84.3 52 84.3 17.0V1.6Z"/>
<path d="M60.85 1.6V17.0C60.85 52 71.26 122 71.26 157.0V174.3H71.36V157.0C71.36 122 60.95 52 60.95 17.0V1.6Z"/>
<path d="M74.61 1.6V17.0C74.61 52 103.8 122 103.8 157.0V174.3H103.9V157.0C103.9 122 74.71 52 74.71 17.0V1.6Z"/>
<path d="M124.06 1.6V17.0C124.06 52 218.55 122 218.55 157.0V174.3H218.65V157.0C218.65 122 124.16 52 124.16 17.0V1.6Z"/>
<path d="M55.04 1.6V17.0C55.04 52 57.59 122 57.59 157.0V174.3H57.69V157.0C57.69 122 55.14 52 55.14 17.0V1.6Z"/>
<path d="M89.5 1.6V17.0C89.5 52 139.29 122 139.29 157.0V174.3H139.39V157.0C139.39 122 89.6 52 89.6 17.0V1.6Z"/>
<path d="M73.08 1.6V17.0C73.08 52 99.21 122 99.21 157.0V174.3H99.31V157.0C99.31 122 73.19 52 73.19 17.0V1.6Z"/>
<path d="M105.09 1.6V17.0C105.09 52 175.09 122 175.09 157.0V174.3H175.2V157.0C175.2 122 105.2 52 105.2 17.0V1.6Z"/>
<path d="M117.12 1.6V17.0C117.12 52 203.04 122 203.04 157.0V174.3H203.14V157.0C203.14 122 117.23 52 117.23 17.0V1.6Z"/>
<path d="M113.35 1.6V17.0C113.35 52 193.96 122 193.96 157.0V174.3H194.07V157.0C194.07 122 113.45 52 113.45 17.0V1.6Z"/>
<path d="M113.45 1.6V17.0C113.45 52 194.47 122 194.47 157.0V174.3H194.58V157.0C194.58 122 113.56 52 113.56 17.0V1.6Z"/>
<path d="M59.52 1.6V17.0C59.52 52 67.08 122 67.08 157.0V174.3H67.18V157.0C67.18 122 59.63 52 59.63 17.0V1.6Z"/>
<path d="M96.53 1.6V17.0C96.53 52 156.43 122 156.43 157.0V174.3H156.53V157.0C156.53 122 96.63 52 96.63 17.0V1.6Z"/>
<path d="M89.9 1.6V17.0C89.9 52 140.31 122 140.31 157.0V174.3H140.41V157.0C140.41 122 90.01 52 90.01 17.0V1.6Z"/>
<path d="M53.51 1.6V17.0C53.51 52 54.22 122 54.22 157.0V174.3H54.33V157.0C54.33 122 53.61 52 53.61 17.0V1.6Z"/>
<path d="M67.27 1.6V17.0C67.27 52 86.25 122 86.25 157.0V174.3H86.35V157.0C86.35 122 67.37 52 67.37 17.0V1.6Z"/>
<path d="M121.3 1.6V17.0C121.3 52 212.53 122 212.53 157.0V174.3H212.63V157.0C212.63 122 121.41 52 121.41 17.0V1.6Z"/>
<path d="M104.89 1.6V17.0C104.89 52 174.69 122 174.69 157.0V174.3H174.79V157.0C174.79 122 104.99 52 104.99 17.0V1.6Z"/>
<path d="M87.97 1.6V17.0C87.97 52 135.62 122 135.62 157.0V174.3H135.72V157.0C135.72 122 88.07 52 88.07 17.0V1.6Z"/>
<path d="M58 1.6V17.0C58 52 64.32 122 64.32 157.0V174.3H64.42V157.0C64.42 122 58.1 52 58.1 17.0V1.6Z"/>
<path d="M54.53 1.6V17.0C54.53 52 57.08 122 57.08 157.0V174.3H57.18V157.0C57.18 122 54.63 52 54.63 17.0V1.6Z"/>
<path d="M87.15 1.6V17.0C87.15 52 133.48 122 133.48 157.0V174.3H133.58V157.0C133.58 122 87.25 52 87.25 17.0V1.6Z"/>
<path d="M108.36 1.6V17.0C108.36 52 183.25 122 183.25 157.0V174.3H183.36V157.0C183.36 122 108.46 52 108.46 17.0V1.6Z"/>
<path d="M92.55 1.6V17.0C92.55 52 146.94 122 146.94 157.0V174.3H147.04V157.0C147.04 122 92.66 52 92.66 17.0V1.6Z"/>
<path d="M104.79 1.6V17.0C104.79 52 174.58 122 174.58 157.0V174.3H174.69V157.0C174.69 122 104.89 52 104.89 17.0V1.6Z"/>
<path d="M77.57 1.6V17.0C77.57 52 110.53 122 110.53 157.0V174.3H110.63V157.0C110.63 122 77.67 52 77.67 17.0V1.6Z"/>
<path d="M116.92 1.6V17.0C116.92 52 202.43 122 202.43 157.0V174.3H202.53V157.0C202.53 122 117.02 52 117.02 17.0V1.6Z"/>
<path d="M104.58 1.6V17.0C104.58 52 173.87 122 173.87 157.0V174.3H173.97V157.0C173.97 122 104.69 52 104.69 17.0V1.6Z"/>
<path d="M113.96 1.6V17.0C113.96 52 195.9 122 195.9 157.0V174.3H196V157.0C196 122 114.07 52 114.07 17.0V1.6Z"/>
<path d="M91.13 1.6V17.0C91.13 52 142.86 122 142.86 157.0V174.3H142.96V157.0C142.96 122 91.23 52 91.23 17.0V1.6Z"/>
<path d="M94.39 1.6V17.0C94.39 52 150.61 122 150.61 157.0V174.3H150.72V157.0C150.72 122 94.49 52 94.49 17.0V1.6Z"/>
<path d="M68.39 1.6V17.0C68.39 52 88.6 122 88.6 157.0V174.3H88.7V157.0C88.7 122 68.5 52 68.5 17.0V1.6Z"/>
<path d="M59.93 1.6V17.0C59.93 52 68.81 122 68.81 157.0V174.3H68.91V157.0C68.91 122 60.03 52 60.03 17.0V1.6Z"/>
<path d="M121 1.6V17.0C121 52 211.61 122 211.61 157.0V174.3H211.71V157.0C211.71 122 121.1 52 121.1 17.0V1.6Z"/>
<path d="M98.77 1.6V17.0C98.77 52 161.22 122 161.22 157.0V174.3H161.32V157.0C161.32 122 98.88 52 98.88 17.0V1.6Z"/>
<path d="M67.17 1.6V17.0C67.17 52 85.74 122 85.74 157.0V174.3H85.84V157.0C85.84 122 67.27 52 67.27 17.0V1.6Z"/>
<path d="M66.15 1.6V17.0C66.15 52 83.29 122 83.29 157.0V174.3H83.4V157.0C83.4 122 66.25 52 66.25 17.0V1.6Z"/>
<path d="M71.45 1.6V17.0C71.45 52 94.41 122 94.41 157.0V174.3H94.51V157.0C94.51 122 71.55 52 71.55 17.0V1.6Z"/>
<path d="M103.97 1.6V17.0C103.97 52 172.95 122 172.95 157.0V174.3H173.05V157.0C173.05 122 104.07 52 104.07 17.0V1.6Z"/>
<path d="M65.95 1.6V17.0C65.95 52 82.99 122 82.99 157.0V174.3H83.09V157.0C83.09 122 66.05 52 66.05 17.0V1.6Z"/>
<path d="M99.89 1.6V17.0C99.89 52 163.98 122 163.98 157.0V174.3H164.08V157.0C164.08 122 100 52 100 17.0V1.6Z"/>
<path d="M110.6 1.6V17.0C110.6 52 188.05 122 188.05 157.0V174.3H188.15V157.0C188.15 122 110.7 52 110.7 17.0V1.6Z"/>
<path d="M102.65 1.6V17.0C102.65 52 168.57 122 168.57 157.0V174.3H168.67V157.0C168.67 122 102.75 52 102.75 17.0V1.6Z"/>
<path d="M121.81 1.6V17.0C121.81 52 213.55 122 213.55 157.0V174.3H213.65V157.0C213.65 122 121.92 52 121.92 17.0V1.6Z"/>
<path d="M105.4 1.6V17.0C105.4 52 175.4 122 175.4 157.0V174.3H175.5V157.0C175.5 122 105.5 52 105.5 17.0V1.6Z"/>
<path d="M61.87 1.6V17.0C61.87 52 73.5 122 73.5 157.0V174.3H73.6V157.0C73.6 122 61.97 52 61.97 17.0V1.6Z"/>
<path d="M88.17 1.6V17.0C88.17 52 136.03 122 136.03 157.0V174.3H136.13V157.0C136.13 122 88.27 52 88.27 17.0V1.6Z"/>
<path d="M102.55 1.6V17.0C102.55 52 168.46 122 168.46 157.0V174.3H168.57V157.0C168.57 122 102.65 52 102.65 17.0V1.6Z"/>
<path d="M114.68 1.6V17.0C114.68 52 197.23 122 197.23 157.0V174.3H197.33V157.0C197.33 122 114.78 52 114.78 17.0V1.6Z"/>
<path d="M79.91 1.6V17.0C79.91 52 117.06 122 117.06 157.0V174.3H117.16V157.0C117.16 122 80.02 52 80.02 17.0V1.6Z"/>
<path d="M53.31 1.6V17.0C53.31 52 53.51 122 53.51 157.0V174.3H53.61V157.0C53.61 122 53.41 52 53.41 17.0V1.6Z"/>
<path d="M123.65 1.6V17.0C123.65 52 217.53 122 217.53 157.0V174.3H217.63V157.0C217.63 122 123.75 52 123.75 17.0V1.6Z"/>
<path d="M114.88 1.6V17.0C114.88 52 197.43 122 197.43 157.0V174.3H197.53V157.0C197.53 122 114.98 52 114.98 17.0V1.6Z"/>
<path d="M109.48 1.6V17.0C109.48 52 185.91 122 185.91 157.0V174.3H186.01V157.0C186.01 122 109.58 52 109.58 17.0V1.6Z"/>
<path d="M83.79 1.6V17.0C83.79 52 126.75 122 126.75 157.0V174.3H126.85V157.0C126.85 122 83.89 52 83.89 17.0V1.6Z"/>
<path d="M106.42 1.6V17.0C106.42 52 178.97 122 178.97 157.0V174.3H179.07V157.0C179.07 122 106.52 52 106.52 17.0V1.6Z"/>
<path d="M108.87 1.6V17.0C108.87 52 184.58 122 184.58 157.0V174.3H184.68V157.0C184.68 122 108.97 52 108.97 17.0V1.6Z"/>
</g>
<g fill="rgb(189, 208, 53)" fill-opacity="0.62">
<path d="M184.48 1.6V17.0C184.48 52 219.57 122 219.57 157.0V174.3H219.67V157.0C219.67 122 184.58 52 184.58 17.0V1.6Z"/>
<path d="M152.22 1.6V17.0C152.22 52 118.08 122 118.08 157.0V174.3H118.18V157.0C118.18 122 152.32 52 152.32 17.0V1.6Z"/>
<path d="M140.38 1.6V17.0C140.38 52 79.42 122 79.42 157.0V174.3H79.52V157.0C79.52 122 140.48 52 140.48 17.0V1.6Z"/>
<path d="M145.59 1.6V17.0C145.59 52 97.27 122 97.27 157.0V174.3H97.37V157.0C97.37 122 145.69 52 145.69 17.0V1.6Z"/>
<path d="M177.44 1.6V17.0C177.44 52 197.94 122 197.94 157.0V174.3H198.04V157.0C198.04 122 177.54 52 177.54 17.0V1.6Z"/>
<path d="M174.88 1.6V17.0C174.88 52 190.19 122 190.19 157.0V174.3H190.29V157.0C190.29 122 174.99 52 174.99 17.0V1.6Z"/>
<path d="M146.61 1.6V17.0C146.61 52 100.02 122 100.02 157.0V174.3H100.12V157.0C100.12 122 146.71 52 146.71 17.0V1.6Z"/>
<path d="M149.87 1.6V17.0C149.87 52 110.12 122 110.12 157.0V174.3H110.22V157.0C110.22 122 149.98 52 149.98 17.0V1.6Z"/>
<path d="M146.4 1.6V17.0C146.4 52 99.31 122 99.31 157.0V174.3H99.41V157.0C99.41 122 146.5 52 146.5 17.0V1.6Z"/>
<path d="M163.35 1.6V17.0C163.35 52 152.55 122 152.55 157.0V174.3H152.65V157.0C152.65 122 163.45 52 163.45 17.0V1.6Z"/>
<path d="M180.3 1.6V17.0C180.3 52 206 122 206 157.0V174.3H206.1V157.0C206.1 122 180.4 52 180.4 17.0V1.6Z"/>
<path d="M137.32 1.6V17.0C137.32 52 70.85 122 70.85 157.0V174.3H70.95V157.0C70.95 122 137.42 52 137.42 17.0V1.6Z"/>
<path d="M190.1 1.6V17.0C190.1 52 235.58 122 235.58 157.0V174.3H235.68V157.0C235.68 122 190.2 52 190.2 17.0V1.6Z"/>
<path d="M141.6 1.6V17.0C141.6 52 83.8 122 83.8 157.0V174.3H83.91V157.0C83.91 122 141.71 52 141.71 17.0V1.6Z"/>
<path d="M142.11 1.6V17.0C142.11 52 85.03 122 85.03 157.0V174.3H85.13V157.0C85.13 122 142.22 52 142.22 17.0V1.6Z"/>
<path d="M155.39 1.6V17.0C155.39 52 125.22 122 125.22 157.0V174.3H125.32V157.0C125.32 122 155.49 52 155.49 17.0V1.6Z"/>
<path d="M176.52 1.6V17.0C176.52 52 194.98 122 194.98 157.0V174.3H195.09V157.0C195.09 122 176.62 52 176.62 17.0V1.6Z"/>
<path d="M177.64 1.6V17.0C177.64 52 198.15 122 198.15 157.0V174.3H198.25V157.0C198.25 122 177.74 52 177.74 17.0V1.6Z"/>
<path d="M176.62 1.6V17.0C176.62 52 195.29 122 195.29 157.0V174.3H195.39V157.0C195.39 122 176.72 52 176.72 17.0V1.6Z"/>
<path d="M137.52 1.6V17.0C137.52 52 71.05 122 71.05 157.0V174.3H71.16V157.0C71.16 122 137.62 52 137.62 17.0V1.6Z"/>
<path d="M180.4 1.6V17.0C180.4 52 206.1 122 206.1 157.0V174.3H206.2V157.0C206.2 122 180.5 52 180.5 17.0V1.6Z"/>
<path d="M176.31 1.6V17.0C176.31 52 194.68 122 194.68 157.0V174.3H194.78V157.0C194.78 122 176.42 52 176.42 17.0V1.6Z"/>
<path d="M160.69 1.6V17.0C160.69 52 144.7 122 144.7 157.0V174.3H144.8V157.0C144.8 122 160.8 52 160.8 17.0V1.6Z"/>
<path d="M178.46 1.6V17.0C178.46 52 200.59 122 200.59 157.0V174.3H200.7V157.0C200.7 122 178.56 52 178.56 17.0V1.6Z"/>
<path d="M134.46 1.6V17.0C134.46 52 62.28 122 62.28 157.0V174.3H62.38V157.0C62.38 122 134.56 52 134.56 17.0V1.6Z"/>
<path d="M149.16 1.6V17.0C149.16 52 107.16 122 107.16 157.0V174.3H107.26V157.0C107.26 122 149.26 52 149.26 17.0V1.6Z"/>
<path d="M188.16 1.6V17.0C188.16 52 229.36 122 229.36 157.0V174.3H229.46V157.0C229.46 122 188.26 52 188.26 17.0V1.6Z"/>
<path d="M139.66 1.6V17.0C139.66 52 77.38 122 77.38 157.0V174.3H77.48V157.0C77.48 122 139.77 52 139.77 17.0V1.6Z"/>
<path d="M135.38 1.6V17.0C135.38 52 65.85 122 65.85 157.0V174.3H65.95V157.0C65.95 122 135.48 52 135.48 17.0V1.6Z"/>
<path d="M136.7 1.6V17.0C136.7 52 69.42 122 69.42 157.0V174.3H69.52V157.0C69.52 122 136.81 52 136.81 17.0V1.6Z"/>
<path d="M167.64 1.6V17.0C167.64 52 167.24 122 167.24 157.0V174.3H167.34V157.0C167.34 122 167.74 52 167.74 17.0V1.6Z"/>
<path d="M173.66 1.6V17.0C173.66 52 185.29 122 185.29 157.0V174.3H185.4V157.0C185.4 122 173.76 52 173.76 17.0V1.6Z"/>
<path d="M181.83 1.6V17.0C181.83 52 211.1 122 211.1 157.0V174.3H211.2V157.0C211.2 122 181.93 52 181.93 17.0V1.6Z"/>
<path d="M178.87 1.6V17.0C178.87 52 201.72 122 201.72 157.0V174.3H201.82V157.0C201.82 122 178.97 52 178.97 17.0V1.6Z"/>
<path d="M146.91 1.6V17.0C146.91 52 100.74 122 100.74 157.0V174.3H100.84V157.0C100.84 122 147.02 52 147.02 17.0V1.6Z"/>
<path d="M170.39 1.6V17.0C170.39 52 174.89 122 174.89 157.0V174.3H174.99V157.0C174.99 122 170.5 52 170.5 17.0V1.6Z"/>
<path d="M184.99 1.6V17.0C184.99 52 221.1 122 221.1 157.0V174.3H221.2V157.0C221.2 122 185.09 52 185.09 17.0V1.6Z"/>
<path d="M153.96 1.6V17.0C153.96 52 121.95 122 121.95 157.0V174.3H122.05V157.0C122.05 122 154.06 52 154.06 17.0V1.6Z"/>
<path d="M165.7 1.6V17.0C165.7 52 160.81 122 160.81 157.0V174.3H160.92V157.0C160.92 122 165.8 52 165.8 17.0V1.6Z"/>
<path d="M175.29 1.6V17.0C175.29 52 191.82 122 191.82 157.0V174.3H191.92V157.0C191.92 122 175.4 52 175.4 17.0V1.6Z"/>
<path d="M173.15 1.6V17.0C173.15 52 183.97 122 183.97 157.0V174.3H184.07V157.0C184.07 122 173.25 52 173.25 17.0V1.6Z"/>
<path d="M161.51 1.6V17.0C161.51 52 147.04 122 147.04 157.0V174.3H147.15V157.0C147.15 122 161.61 52 161.61 17.0V1.6Z"/>
<path d="M169.37 1.6V17.0C169.37 52 171.73 122 171.73 157.0V174.3H171.83V157.0C171.83 122 169.47 52 169.47 17.0V1.6Z"/>
<path d="M171.01 1.6V17.0C171.01 52 176.93 122 176.93 157.0V174.3H177.03V157.0C177.03 122 171.11 52 171.11 17.0V1.6Z"/>
<path d="M172.64 1.6V17.0C172.64 52 181.32 122 181.32 157.0V174.3H181.42V157.0C181.42 122 172.74 52 172.74 17.0V1.6Z"/>
<path d="M150.69 1.6V17.0C150.69 52 112.87 122 112.87 157.0V174.3H112.98V157.0C112.98 122 150.79 52 150.79 17.0V1.6Z"/>
<path d="M177.85 1.6V17.0C177.85 52 198.45 122 198.45 157.0V174.3H198.55V157.0C198.55 122 177.95 52 177.95 17.0V1.6Z"/>
<path d="M135.89 1.6V17.0C135.89 52 67.48 122 67.48 157.0V174.3H67.59V157.0C67.59 122 135.99 52 135.99 17.0V1.6Z"/>
<path d="M144.05 1.6V17.0C144.05 52 91.35 122 91.35 157.0V174.3H91.45V157.0C91.45 122 144.16 52 144.16 17.0V1.6Z"/>
<path d="M172.95 1.6V17.0C172.95 52 181.93 122 181.93 157.0V174.3H182.03V157.0C182.03 122 173.05 52 173.05 17.0V1.6Z"/>
<path d="M147.12 1.6V17.0C147.12 52 101.14 122 101.14 157.0V174.3H101.25V157.0C101.25 122 147.22 52 147.22 17.0V1.6Z"/>
<path d="M165.9 1.6V17.0C165.9 52 161.32 122 161.32 157.0V174.3H161.43V157.0C161.43 122 166 52 166 17.0V1.6Z"/>
<path d="M177.74 1.6V17.0C177.74 52 198.25 122 198.25 157.0V174.3H198.35V157.0C198.35 122 177.85 52 177.85 17.0V1.6Z"/>
<path d="M187.75 1.6V17.0C187.75 52 228.34 122 228.34 157.0V174.3H228.44V157.0C228.44 122 187.85 52 187.85 17.0V1.6Z"/>
<path d="M168.35 1.6V17.0C168.35 52 168.77 122 168.77 157.0V174.3H168.87V157.0C168.87 122 168.45 52 168.45 17.0V1.6Z"/>
<path d="M181.01 1.6V17.0C181.01 52 207.94 122 207.94 157.0V174.3H208.04V157.0C208.04 122 181.11 52 181.11 17.0V1.6Z"/>
<path d="M153.14 1.6V17.0C153.14 52 119.91 122 119.91 157.0V174.3H120.01V157.0C120.01 122 153.24 52 153.24 17.0V1.6Z"/>
<path d="M134.05 1.6V17.0C134.05 52 61.47 122 61.47 157.0V174.3H61.57V157.0C61.57 122 134.15 52 134.15 17.0V1.6Z"/>
<path d="M182.54 1.6V17.0C182.54 52 213.45 122 213.45 157.0V174.3H213.55V157.0C213.55 122 182.64 52 182.64 17.0V1.6Z"/>
<path d="M145.79 1.6V17.0C145.79 52 98.08 122 98.08 157.0V174.3H98.19V157.0C98.19 122 145.89 52 145.89 17.0V1.6Z"/>
<path d="M173.86 1.6V17.0C173.86 52 186.01 122 186.01 157.0V174.3H186.11V157.0C186.11 122 173.97 52 173.97 17.0V1.6Z"/>
<path d="M144.97 1.6V17.0C144.97 52 95.43 122 95.43 157.0V174.3H95.53V157.0C95.53 122 145.08 52 145.08 17.0V1.6Z"/>
<path d="M140.28 1.6V17.0C140.28 52 79.11 122 79.11 157.0V174.3H79.21V157.0C79.21 122 140.38 52 140.38 17.0V1.6Z"/>
<path d="M174.68 1.6V17.0C174.68 52 189.07 122 189.07 157.0V174.3H189.17V157.0C189.17 122 174.78 52 174.78 17.0V1.6Z"/>
<path d="M180.09 1.6V17.0C180.09 52 205.18 122 205.18 157.0V174.3H205.29V157.0C205.29 122 180.19 52 180.19 17.0V1.6Z"/>
<path d="M179.68 1.6V17.0C179.68 52 204.27 122 204.27 157.0V174.3H204.37V157.0C204.37 122 179.79 52 179.79 17.0V1.6Z"/>
<path d="M180.81 1.6V17.0C180.81 52 207.73 122 207.73 157.0V174.3H207.84V157.0C207.84 122 180.91 52 180.91 17.0V1.6Z"/>
<path d="M150.38 1.6V17.0C150.38 52 112.26 122 112.26 157.0V174.3H112.36V157.0C112.36 122 150.49 52 150.49 17.0V1.6Z"/>
<path d="M138.85 1.6V17.0C138.85 52 74.52 122 74.52 157.0V174.3H74.62V157.0C74.62 122 138.95 52 138.95 17.0V1.6Z"/>
<path d="M152.73 1.6V17.0C152.73 52 118.79 122 118.79 157.0V174.3H118.89V157.0C118.89 122 152.83 52 152.83 17.0V1.6Z"/>
<path d="M145.69 1.6V17.0C145.69 52 97.98 122 97.98 157.0V174.3H98.08V157.0C98.08 122 145.79 52 145.79 17.0V1.6Z"/>
<path d="M151.71 1.6V17.0C151.71 52 116.14 122 116.14 157.0V174.3H116.24V157.0C116.24 122 151.81 52 151.81 17.0V1.6Z"/>
<path d="M166.72 1.6V17.0C166.72 52 162.85 122 162.85 157.0V174.3H162.96V157.0C162.96 122 166.82 52 166.82 17.0V1.6Z"/>
<path d="M172.54 1.6V17.0C172.54 52 180.81 122 180.81 157.0V174.3H180.91V157.0C180.91 122 172.64 52 172.64 17.0V1.6Z"/>
<path d="M175.09 1.6V17.0C175.09 52 191.31 122 191.31 157.0V174.3H191.41V157.0C191.41 122 175.19 52 175.19 17.0V1.6Z"/>
<path d="M154.67 1.6V17.0C154.67 52 123.48 122 123.48 157.0V174.3H123.58V157.0C123.58 122 154.77 52 154.77 17.0V1.6Z"/>
<path d="M151.61 1.6V17.0C151.61 52 116.04 122 116.04 157.0V174.3H116.14V157.0C116.14 122 151.71 52 151.71 17.0V1.6Z"/>
<path d="M159.27 1.6V17.0C159.27 52 139.5 122 139.5 157.0V174.3H139.6V157.0C139.6 122 159.37 52 159.37 17.0V1.6Z"/>
<path d="M174.17 1.6V17.0C174.17 52 187.23 122 187.23 157.0V174.3H187.33V157.0C187.33 122 174.27 52 174.27 17.0V1.6Z"/>
<path d="M132.52 1.6V17.0C132.52 52 56.57 122 56.57 157.0V174.3H56.67V157.0C56.67 122 132.62 52 132.62 17.0V1.6Z"/>
<path d="M137.93 1.6V17.0C137.93 52 72.69 122 72.69 157.0V174.3H72.79V157.0C72.79 122 138.03 52 138.03 17.0V1.6Z"/>
<path d="M166.82 1.6V17.0C166.82 52 162.96 122 162.96 157.0V174.3H163.06V157.0C163.06 122 166.92 52 166.92 17.0V1.6Z"/>
<path d="M150.28 1.6V17.0C150.28 52 111.45 122 111.45 157.0V174.3H111.55V157.0C111.55 122 150.38 52 150.38 17.0V1.6Z"/>
<path d="M178.25 1.6V17.0C178.25 52 200.29 122 200.29 157.0V174.3H200.39V157.0C200.39 122 178.36 52 178.36 17.0V1.6Z"/>
<path d="M135.17 1.6V17.0C135.17 52 65.65 122 65.65 157.0V174.3H65.75V157.0C65.75 122 135.28 52 135.28 17.0V1.6Z"/>
<path d="M163.04 1.6V17.0C163.04 52 152.04 122 152.04 157.0V174.3H152.14V157.0C152.14 122 163.14 52 163.14 17.0V1.6Z"/>
<path d="M173.46 1.6V17.0C173.46 52 185.09 122 185.09 157.0V174.3H185.19V157.0C185.19 122 173.56 52 173.56 17.0V1.6Z"/>
<path d="M159.57 1.6V17.0C159.57 52 141.43 122 141.43 157.0V174.3H141.54V157.0C141.54 122 159.67 52 159.67 17.0V1.6Z"/>
<path d="M171.92 1.6V17.0C171.92 52 178.77 122 178.77 157.0V174.3H178.87V157.0C178.87 122 172.03 52 172.03 17.0V1.6Z"/>
<path d="M171.31 1.6V17.0C171.31 52 177.75 122 177.75 157.0V174.3H177.85V157.0C177.85 122 171.41 52 171.41 17.0V1.6Z"/>
<path d="M143.44 1.6V17.0C143.44 52 89.11 122 89.11 157.0V174.3H89.21V157.0C89.21 122 143.54 52 143.54 17.0V1.6Z"/>
<path d="M174.48 1.6V17.0C174.48 52 188.15 122 188.15 157.0V174.3H188.25V157.0C188.25 122 174.58 52 174.58 17.0V1.6Z"/>
<path d="M156.61 1.6V17.0C156.61 52 129.3 122 129.3 157.0V174.3H129.4V157.0C129.4 122 156.71 52 156.71 17.0V1.6Z"/>
<path d="M187.44 1.6V17.0C187.44 52 227.52 122 227.52 157.0V174.3H227.62V157.0C227.62 122 187.54 52 187.54 17.0V1.6Z"/>
<path d="M164.68 1.6V17.0C164.68 52 157.86 122 157.86 157.0V174.3H157.96V157.0C157.96 122 164.78 52 164.78 17.0V1.6Z"/>
<path d="M175.6 1.6V17.0C175.6 52 192.43 122 192.43 157.0V174.3H192.54V157.0C192.54 122 175.7 52 175.7 17.0V1.6Z"/>
<path d="M134.56 1.6V17.0C134.56 52 62.59 122 62.59 157.0V174.3H62.69V157.0C62.69 122 134.66 52 134.66 17.0V1.6Z"/>
<path d="M176.72 1.6V17.0C176.72 52 195.39 122 195.39 157.0V174.3H195.49V157.0C195.49 122 176.82 52 176.82 17.0V1.6Z"/>
<path d="M137.01 1.6V17.0C137.01 52 70.03 122 70.03 157.0V174.3H70.14V157.0C70.14 122 137.11 52 137.11 17.0V1.6Z"/>
<path d="M131.8 1.6V17.0C131.8 52 54.63 122 54.63 157.0V174.3H54.73V157.0C54.73 122 131.91 52 131.91 17.0V1.6Z"/>
<path d="M134.97 1.6V17.0C134.97 52 64.12 122 64.12 157.0V174.3H64.22V157.0C64.22 122 135.07 52 135.07 17.0V1.6Z"/>
<path d="M172.13 1.6V17.0C172.13 52 179.58 122 179.58 157.0V174.3H179.68V157.0C179.68 122 172.23 52 172.23 17.0V1.6Z"/>
<path d="M136.6 1.6V17.0C136.6 52 69.12 122 69.12 157.0V174.3H69.22V157.0C69.22 122 136.7 52 136.7 17.0V1.6Z"/>
<path d="M177.23 1.6V17.0C177.23 52 196.82 122 196.82 157.0V174.3H196.92V157.0C196.92 122 177.33 52 177.33 17.0V1.6Z"/>
<path d="M133.34 1.6V17.0C133.34 52 59.94 122 59.94 157.0V174.3H60.04V157.0C60.04 122 133.44 52 133.44 17.0V1.6Z"/>
<path d="M145.99 1.6V17.0C145.99 52 98.49 122 98.49 157.0V174.3H98.59V157.0C98.59 122 146.1 52 146.1 17.0V1.6Z"/>
<path d="M183.77 1.6V17.0C183.77 52 217.02 122 217.02 157.0V174.3H217.12V157.0C217.12 122 183.87 52 183.87 17.0V1.6Z"/>
<path d="M189.79 1.6V17.0C189.79 52 234.66 122 234.66 157.0V174.3H234.76V157.0C234.76 122 189.89 52 189.89 17.0V1.6Z"/>
<path d="M134.87 1.6V17.0C134.87 52 64.02 122 64.02 157.0V174.3H64.12V157.0C64.12 122 134.97 52 134.97 17.0V1.6Z"/>
<path d="M184.28 1.6V17.0C184.28 52 218.95 122 218.95 157.0V174.3H219.06V157.0C219.06 122 184.38 52 184.38 17.0V1.6Z"/>
<path d="M187.85 1.6V17.0C187.85 52 228.44 122 228.44 157.0V174.3H228.54V157.0C228.54 122 187.95 52 187.95 17.0V1.6Z"/>
<path d="M155.18 1.6V17.0C155.18 52 124.81 122 124.81 157.0V174.3H124.91V157.0C124.91 122 155.28 52 155.28 17.0V1.6Z"/>
<path d="M182.44 1.6V17.0C182.44 52 213.34 122 213.34 157.0V174.3H213.45V157.0C213.45 122 182.54 52 182.54 17.0V1.6Z"/>
<path d="M179.27 1.6V17.0C179.27 52 203.14 122 203.14 157.0V174.3H203.25V157.0C203.25 122 179.38 52 179.38 17.0V1.6Z"/>
<path d="M142.01 1.6V17.0C142.01 52 84.82 122 84.82 157.0V174.3H84.93V157.0C84.93 122 142.11 52 142.11 17.0V1.6Z"/>
<path d="M139.26 1.6V17.0C139.26 52 75.85 122 75.85 157.0V174.3H75.95V157.0C75.95 122 139.36 52 139.36 17.0V1.6Z"/>
<path d="M144.46 1.6V17.0C144.46 52 93.49 122 93.49 157.0V174.3H93.6V157.0C93.6 122 144.57 52 144.57 17.0V1.6Z"/>
<path d="M162.02 1.6V17.0C162.02 52 148.57 122 148.57 157.0V174.3H148.68V157.0C148.68 122 162.12 52 162.12 17.0V1.6Z"/>
<path d="M178.56 1.6V17.0C178.56 52 200.7 122 200.7 157.0V174.3H200.8V157.0C200.8 122 178.66 52 178.66 17.0V1.6Z"/>
<path d="M167.94 1.6V17.0C167.94 52 167.55 122 167.55 157.0V174.3H167.65V157.0C167.65 122 168.05 52 168.05 17.0V1.6Z"/>
<path d="M147.53 1.6V17.0C147.53 52 102.16 122 102.16 157.0V174.3H102.27V157.0C102.27 122 147.63 52 147.63 17.0V1.6Z"/>
<path d="M171.41 1.6V17.0C171.41 52 177.85 122 177.85 157.0V174.3H177.95V157.0C177.95 122 171.52 52 171.52 17.0V1.6Z"/>
<path d="M163.45 1.6V17.0C163.45 52 152.86 122 152.86 157.0V174.3H152.96V157.0C152.96 122 163.55 52 163.55 17.0V1.6Z"/>
<path d="M167.33 1.6V17.0C167.33 52 165.1 122 165.1 157.0V174.3H165.2V157.0C165.2 122 167.43 52 167.43 17.0V1.6Z"/>
<path d="M140.07 1.6V17.0C140.07 52 78.5 122 78.5 157.0V174.3H78.6V157.0C78.6 122 140.18 52 140.18 17.0V1.6Z"/>
<path d="M179.07 1.6V17.0C179.07 52 202.23 122 202.23 157.0V174.3H202.33V157.0C202.33 122 179.17 52 179.17 17.0V1.6Z"/>
<path d="M161 1.6V17.0C161 52 145.31 122 145.31 157.0V174.3H145.41V157.0C145.41 122 161.1 52 161.1 17.0V1.6Z"/>
<path d="M162.94 1.6V17.0C162.94 52 151.63 122 151.63 157.0V174.3H151.74V157.0C151.74 122 163.04 52 163.04 17.0V1.6Z"/>
<path d="M159.37 1.6V17.0C159.37 52 139.8 122 139.8 157.0V174.3H139.9V157.0C139.9 122 159.47 52 159.47 17.0V1.6Z"/>
<path d="M147.63 1.6V17.0C147.63 52 102.57 122 102.57 157.0V174.3H102.67V157.0C102.67 122 147.73 52 147.73 17.0V1.6Z"/>
<path d="M140.99 1.6V17.0C140.99 52 81.15 122 81.15 157.0V174.3H81.25V157.0C81.25 122 141.09 52 141.09 17.0V1.6Z"/>
<path d="M173.05 1.6V17.0C173.05 52 183.36 122 183.36 157.0V174.3H183.46V157.0C183.46 122 173.15 52 173.15 17.0V1.6Z"/>
<path d="M188.56 1.6V17.0C188.56 52 230.17 122 230.17 157.0V174.3H230.28V157.0C230.28 122 188.67 52 188.67 17.0V1.6Z"/>
<path d="M161.82 1.6V17.0C161.82 52 147.86 122 147.86 157.0V174.3H147.96V157.0C147.96 122 161.92 52 161.92 17.0V1.6Z"/>
<path d="M165.19 1.6V17.0C165.19 52 160 122 160 157.0V174.3H160.1V157.0C160.1 122 165.29 52 165.29 17.0V1.6Z"/>
<path d="M158.04 1.6V17.0C158.04 52 135.01 122 135.01 157.0V174.3H135.11V157.0C135.11 122 158.14 52 158.14 17.0V1.6Z"/>
<path d="M167.13 1.6V17.0C167.13 52 164.18 122 164.18 157.0V174.3H164.28V157.0C164.28 122 167.23 52 167.23 17.0V1.6Z"/>
<path d="M138.13 1.6V17.0C138.13 52 72.99 122 72.99 157.0V174.3H73.09V157.0C73.09 122 138.24 52 138.24 17.0V1.6Z"/>
<path d="M156.51 1.6V17.0C156.51 52 129.19 122 129.19 157.0V174.3H129.3V157.0C129.3 122 156.61 52 156.61 17.0V1.6Z"/>
<path d="M186.83 1.6V17.0C186.83 52 225.48 122 225.48 157.0V174.3H225.58V157.0C225.58 122 186.93 52 186.93 17.0V1.6Z"/>
<path d="M151.2 1.6V17.0C151.2 52 114.51 122 114.51 157.0V174.3H114.61V157.0C114.61 122 151.3 52 151.3 17.0V1.6Z"/>
<path d="M170.19 1.6V17.0C170.19 52 174.18 122 174.18 157.0V174.3H174.28V157.0C174.28 122 170.29 52 170.29 17.0V1.6Z"/>
<path d="M177.03 1.6V17.0C177.03 52 196.21 122 196.21 157.0V174.3H196.31V157.0C196.31 122 177.13 52 177.13 17.0V1.6Z"/>
<path d="M184.07 1.6V17.0C184.07 52 218.44 122 218.44 157.0V174.3H218.55V157.0C218.55 122 184.17 52 184.17 17.0V1.6Z"/>
<path d="M143.34 1.6V17.0C143.34 52 89.01 122 89.01 157.0V174.3H89.11V157.0C89.11 122 143.44 52 143.44 17.0V1.6Z"/>
<path d="M145.48 1.6V17.0C145.48 52 96.96 122 96.96 157.0V174.3H97.06V157.0C97.06 122 145.59 52 145.59 17.0V1.6Z"/>
<path d="M132.62 1.6V17.0C132.62 52 56.98 122 56.98 157.0V174.3H57.08V157.0C57.08 122 132.72 52 132.72 17.0V1.6Z"/>
<path d="M163.55 1.6V17.0C163.55 52 152.96 122 152.96 157.0V174.3H153.06V157.0C153.06 122 163.66 52 163.66 17.0V1.6Z"/>
<path d="M186.01 1.6V17.0C186.01 52 223.14 122 223.14 157.0V174.3H223.24V157.0C223.24 122 186.11 52 186.11 17.0V1.6Z"/>
<path d="M137.11 1.6V17.0C137.11 52 70.24 122 70.24 157.0V174.3H70.34V157.0C70.34 122 137.21 52 137.21 17.0V1.6Z"/>
<path d="M169.98 1.6V17.0C169.98 52 173.97 122 173.97 157.0V174.3H174.07V157.0C174.07 122 170.09 52 170.09 17.0V1.6Z"/>
<path d="M149.36 1.6V17.0C149.36 52 107.77 122 107.77 157.0V174.3H107.88V157.0C107.88 122 149.47 52 149.47 17.0V1.6Z"/>
<path d="M166.31 1.6V17.0C166.31 52 162.04 122 162.04 157.0V174.3H162.14V157.0C162.14 122 166.41 52 166.41 17.0V1.6Z"/>
<path d="M148.95 1.6V17.0C148.95 52 106.55 122 106.55 157.0V174.3H106.65V157.0C106.65 122 149.06 52 149.06 17.0V1.6Z"/>
<path d="M149.06 1.6V17.0C149.06 52 107.06 122 107.06 157.0V174.3H107.16V157.0C107.16 122 149.16 52 149.16 17.0V1.6Z"/>
<path d="M176.93 1.6V17.0C176.93 52 195.6 122 195.6 157.0V174.3H195.7V157.0C195.7 122 177.03 52 177.03 17.0V1.6Z"/>
<path d="M177.95 1.6V17.0C177.95 52 198.55 122 198.55 157.0V174.3H198.66V157.0C198.66 122 178.05 52 178.05 17.0V1.6Z"/>
<path d="M162.84 1.6V17.0C162.84 52 151.53 122 151.53 157.0V174.3H151.63V157.0C151.63 122 162.94 52 162.94 17.0V1.6Z"/>
<path d="M160.08 1.6V17.0C160.08 52 143.47 122 143.47 157.0V174.3H143.58V157.0C143.58 122 160.18 52 160.18 17.0V1.6Z"/>
<path d="M189.28 1.6V17.0C189.28 52 233.54 122 233.54 157.0V174.3H233.64V157.0C233.64 122 189.38 52 189.38 17.0V1.6Z"/>
<path d="M146.2 1.6V17.0C146.2 52 99 122 99 157.0V174.3H99.1V157.0C99.1 122 146.3 52 146.3 17.0V1.6Z"/>
<path d="M141.71 1.6V17.0C141.71 52 83.91 122 83.91 157.0V174.3H84.01V157.0C84.01 122 141.81 52 141.81 17.0V1.6Z"/>
<path d="M160.39 1.6V17.0C160.39 52 144.29 122 144.29 157.0V174.3H144.39V157.0C144.39 122 160.49 52 160.49 17.0V1.6Z"/>
<path d="M140.58 1.6V17.0C140.58 52 80.44 122 80.44 157.0V174.3H80.54V157.0C80.54 122 140.69 52 140.69 17.0V1.6Z"/>
<path d="M152.83 1.6V17.0C152.83 52 119.2 122 119.2 157.0V174.3H119.3V157.0C119.3 122 152.94 52 152.94 17.0V1.6Z"/>
<path d="M167.43 1.6V17.0C167.43 52 165.3 122 165.3 157.0V174.3H165.4V157.0C165.4 122 167.53 52 167.53 17.0V1.6Z"/>
<path d="M134.76 1.6V17.0C134.76 52 63.61 122 63.61 157.0V174.3H63.71V157.0C63.71 122 134.87 52 134.87 17.0V1.6Z"/>
<path d="M142.93 1.6V17.0C142.93 52 87.68 122 87.68 157.0V174.3H87.78V157.0C87.78 122 143.03 52 143.03 17.0V1.6Z"/>
<path d="M164.88 1.6V17.0C164.88 52 159.08 122 159.08 157.0V174.3H159.18V157.0C159.18 122 164.98 52 164.98 17.0V1.6Z"/>
<path d="M149.47 1.6V17.0C149.47 52 108.39 122 108.39 157.0V174.3H108.49V157.0C108.49 122 149.57 52 149.57 17.0V1.6Z"/>
<path d="M147.22 1.6V17.0C147.22 52 101.25 122 101.25 157.0V174.3H101.35V157.0C101.35 122 147.32 52 147.32 17.0V1.6Z"/>
<path d="M154.16 1.6V17.0C154.16 52 122.36 122 122.36 157.0V174.3H122.46V157.0C122.46 122 154.26 52 154.26 17.0V1.6Z"/>
<path d="M173.35 1.6V17.0C173.35 52 184.89 122 184.89 157.0V174.3H184.99V157.0C184.99 122 173.46 52 173.46 17.0V1.6Z"/>
<path d="M138.24 1.6V17.0C138.24 52 73.09 122 73.09 157.0V174.3H73.2V157.0C73.2 122 138.34 52 138.34 17.0V1.6Z"/>
<path d="M148.55 1.6V17.0C148.55 52 105.84 122 105.84 157.0V174.3H105.94V157.0C105.94 122 148.65 52 148.65 17.0V1.6Z"/>
<path d="M182.95 1.6V17.0C182.95 52 214.77 122 214.77 157.0V174.3H214.87V157.0C214.87 122 183.05 52 183.05 17.0V1.6Z"/>
<path d="M136.19 1.6V17.0C136.19 52 68.1 122 68.1 157.0V174.3H68.2V157.0C68.2 122 136.3 52 136.3 17.0V1.6Z"/>
<path d="M189.18 1.6V17.0C189.18 52 233.03 122 233.03 157.0V174.3H233.13V157.0C233.13 122 189.28 52 189.28 17.0V1.6Z"/>
<path d="M138.95 1.6V17.0C138.95 52 75.03 122 75.03 157.0V174.3H75.13V157.0C75.13 122 139.05 52 139.05 17.0V1.6Z"/>
<path d="M159.88 1.6V17.0C159.88 52 142.25 122 142.25 157.0V174.3H142.35V157.0C142.35 122 159.98 52 159.98 17.0V1.6Z"/>
<path d="M137.73 1.6V17.0C137.73 52 71.56 122 71.56 157.0V174.3H71.67V157.0C71.67 122 137.83 52 137.83 17.0V1.6Z"/>
<path d="M158.14 1.6V17.0C158.14 52 135.42 122 135.42 157.0V174.3H135.52V157.0C135.52 122 158.24 52 158.24 17.0V1.6Z"/>
<path d="M163.86 1.6V17.0C163.86 52 155.31 122 155.31 157.0V174.3H155.41V157.0C155.41 122 163.96 52 163.96 17.0V1.6Z"/>
<path d="M135.58 1.6V17.0C135.58 52 66.57 122 66.57 157.0V174.3H66.67V157.0C66.67 122 135.68 52 135.68 17.0V1.6Z"/>
<path d="M167.53 1.6V17.0C167.53 52 166.93 122 166.93 157.0V174.3H167.04V157.0C167.04 122 167.64 52 167.64 17.0V1.6Z"/>
<path d="M146.5 1.6V17.0C146.5 52 99.92 122 99.92 157.0V174.3H100.02V157.0C100.02 122 146.61 52 146.61 17.0V1.6Z"/>
<path d="M141.2 1.6V17.0C141.2 52 81.66 122 81.66 157.0V174.3H81.76V157.0C81.76 122 141.3 52 141.3 17.0V1.6Z"/>
<path d="M168.45 1.6V17.0C168.45 52 169.18 122 169.18 157.0V174.3H169.28V157.0C169.28 122 168.56 52 168.56 17.0V1.6Z"/>
<path d="M155.59 1.6V17.0C155.59 52 125.73 122 125.73 157.0V174.3H125.83V157.0C125.83 122 155.69 52 155.69 17.0V1.6Z"/>
<path d="M178.05 1.6V17.0C178.05 52 198.66 122 198.66 157.0V174.3H198.76V157.0C198.76 122 178.15 52 178.15 17.0V1.6Z"/>
<path d="M159.16 1.6V17.0C159.16 52 138.48 122 138.48 157.0V174.3H138.58V157.0C138.58 122 159.27 52 159.27 17.0V1.6Z"/>
<path d="M157.12 1.6V17.0C157.12 52 131.44 122 131.44 157.0V174.3H131.54V157.0C131.54 122 157.22 52 157.22 17.0V1.6Z"/>
<path d="M169.58 1.6V17.0C169.58 52 172.14 122 172.14 157.0V174.3H172.24V157.0C172.24 122 169.68 52 169.68 17.0V1.6Z"/>
<path d="M159.47 1.6V17.0C159.47 52 141.03 122 141.03 157.0V174.3H141.13V157.0C141.13 122 159.57 52 159.57 17.0V1.6Z"/>
<path d="M185.5 1.6V17.0C185.5 52 222.22 122 222.22 157.0V174.3H222.32V157.0C222.32 122 185.6 52 185.6 17.0V1.6Z"/>
<path d="M173.56 1.6V17.0C173.56 52 185.19 122 185.19 157.0V174.3H185.29V157.0C185.29 122 173.66 52 173.66 17.0V1.6Z"/>
<path d="M179.99 1.6V17.0C179.99 52 205.08 122 205.08 157.0V174.3H205.18V157.0C205.18 122 180.09 52 180.09 17.0V1.6Z"/>
<path d="M179.17 1.6V17.0C179.17 52 202.33 122 202.33 157.0V174.3H202.43V157.0C202.43 122 179.27 52 179.27 17.0V1.6Z"/>
<path d="M158.35 1.6V17.0C158.35 52 135.82 122 135.82 157.0V174.3H135.93V157.0C135.93 122 158.45 52 158.45 17.0V1.6Z"/>
<path d="M181.11 1.6V17.0C181.11 52 208.04 122 208.04 157.0V174.3H208.14V157.0C208.14 122 181.21 52 181.21 17.0V1.6Z"/>
<path d="M157.84 1.6V17.0C157.84 52 134.5 122 134.5 157.0V174.3H134.6V157.0C134.6 122 157.94 52 157.94 17.0V1.6Z"/>
<path d="M140.79 1.6V17.0C140.79 52 80.64 122 80.64 157.0V174.3H80.74V157.0C80.74 122 140.89 52 140.89 17.0V1.6Z"/>
<path d="M189.59 1.6V17.0C189.59 52 234.36 122 234.36 157.0V174.3H234.46V157.0C234.46 122 189.69 52 189.69 17.0V1.6Z"/>
<path d="M133.64 1.6V17.0C133.64 52 60.45 122 60.45 157.0V174.3H60.55V157.0C60.55 122 133.74 52 133.74 17.0V1.6Z"/>
<path d="M157.43 1.6V17.0C157.43 52 132.76 122 132.76 157.0V174.3H132.87V157.0C132.87 122 157.53 52 157.53 17.0V1.6Z"/>
<path d="M178.15 1.6V17.0C178.15 52 199.68 122 199.68 157.0V174.3H199.78V157.0C199.78 122 178.25 52 178.25 17.0V1.6Z"/>
<path d="M144.26 1.6V17.0C144.26 52 92.68 122 92.68 157.0V174.3H92.78V157.0C92.78 122 144.36 52 144.36 17.0V1.6Z"/>
<path d="M148.75 1.6V17.0C148.75 52 106.24 122 106.24 157.0V174.3H106.35V157.0C106.35 122 148.85 52 148.85 17.0V1.6Z"/>
<path d="M147.42 1.6V17.0C147.42 52 102.06 122 102.06 157.0V174.3H102.16V157.0C102.16 122 147.53 52 147.53 17.0V1.6Z"/>
<path d="M142.42 1.6V17.0C142.42 52 85.95 122 85.95 157.0V174.3H86.05V157.0C86.05 122 142.52 52 142.52 17.0V1.6Z"/>
<path d="M175.91 1.6V17.0C175.91 52 192.84 122 192.84 157.0V174.3H192.94V157.0C192.94 122 176.01 52 176.01 17.0V1.6Z"/>
<path d="M172.03 1.6V17.0C172.03 52 179.17 122 179.17 157.0V174.3H179.28V157.0C179.28 122 172.13 52 172.13 17.0V1.6Z"/>
<path d="M171.62 1.6V17.0C171.62 52 178.15 122 178.15 157.0V174.3H178.26V157.0C178.26 122 171.72 52 171.72 17.0V1.6Z"/>
<path d="M161.92 1.6V17.0C161.92 52 148.37 122 148.37 157.0V174.3H148.47V157.0C148.47 122 162.02 52 162.02 17.0V1.6Z"/>
<path d="M181.93 1.6V17.0C181.93 52 211.71 122 211.71 157.0V174.3H211.81V157.0C211.81 122 182.03 52 182.03 17.0V1.6Z"/>
<path d="M169.78 1.6V17.0C169.78 52 172.65 122 172.65 157.0V174.3H172.75V157.0C172.75 122 169.88 52 169.88 17.0V1.6Z"/>
<path d="M145.28 1.6V17.0C145.28 52 96.76 122 96.76 157.0V174.3H96.86V157.0C96.86 122 145.38 52 145.38 17.0V1.6Z"/>
<path d="M171.72 1.6V17.0C171.72 52 178.36 122 178.36 157.0V174.3H178.46V157.0C178.46 122 171.82 52 171.82 17.0V1.6Z"/>
<path d="M164.47 1.6V17.0C164.47 52 157.55 122 157.55 157.0V174.3H157.65V157.0C157.65 122 164.57 52 164.57 17.0V1.6Z"/>
<path d="M166.11 1.6V17.0C166.11 52 161.83 122 161.83 157.0V174.3H161.94V157.0C161.94 122 166.21 52 166.21 17.0V1.6Z"/>
<path d="M189.07 1.6V17.0C189.07 52 232.52 122 232.52 157.0V174.3H232.62V157.0C232.62 122 189.18 52 189.18 17.0V1.6Z"/>
<path d="M133.54 1.6V17.0C133.54 52 60.14 122 60.14 157.0V174.3H60.24V157.0C60.24 122 133.64 52 133.64 17.0V1.6Z"/>
<path d="M181.52 1.6V17.0C181.52 52 210.08 122 210.08 157.0V174.3H210.18V157.0C210.18 122 181.62 52 181.62 17.0V1.6Z"/>
<path d="M154.77 1.6V17.0C154.77 52 123.58 122 123.58 157.0V174.3H123.69V157.0C123.69 122 154.88 52 154.88 17.0V1.6Z"/>
<path d="M133.74 1.6V17.0C133.74 52 61.06 122 61.06 157.0V174.3H61.16V157.0C61.16 122 133.85 52 133.85 17.0V1.6Z"/>
<path d="M135.07 1.6V17.0C135.07 52 64.73 122 64.73 157.0V174.3H64.83V157.0C64.83 122 135.17 52 135.17 17.0V1.6Z"/>
<path d="M131.6 1.6V17.0C131.6 52 53.2 122 53.2 157.0V174.3H53.31V157.0C53.31 122 131.7 52 131.7 17.0V1.6Z"/>
<path d="M133.23 1.6V17.0C133.23 52 59.73 122 59.73 157.0V174.3H59.83V157.0C59.83 122 133.34 52 133.34 17.0V1.6Z"/>
<path d="M139.56 1.6V17.0C139.56 52 77.17 122 77.17 157.0V174.3H77.28V157.0C77.28 122 139.66 52 139.66 17.0V1.6Z"/>
<path d="M151.4 1.6V17.0C151.4 52 115.12 122 115.12 157.0V174.3H115.22V157.0C115.22 122 151.51 52 151.51 17.0V1.6Z"/>
<path d="M187.65 1.6V17.0C187.65 52 228.03 122 228.03 157.0V174.3H228.13V157.0C228.13 122 187.75 52 187.75 17.0V1.6Z"/>
<path d="M138.64 1.6V17.0C138.64 52 74.01 122 74.01 157.0V174.3H74.11V157.0C74.11 122 138.75 52 138.75 17.0V1.6Z"/>
<path d="M139.77 1.6V17.0C139.77 52 77.48 122 77.48 157.0V174.3H77.58V157.0C77.58 122 139.87 52 139.87 17.0V1.6Z"/>
<path d="M143.03 1.6V17.0C143.03 52 87.99 122 87.99 157.0V174.3H88.09V157.0C88.09 122 143.14 52 143.14 17.0V1.6Z"/>
<path d="M154.26 1.6V17.0C154.26 52 122.46 122 122.46 157.0V174.3H122.56V157.0C122.56 122 154.37 52 154.37 17.0V1.6Z"/>
<path d="M188.97 1.6V17.0C188.97 52 232.42 122 232.42 157.0V174.3H232.52V157.0C232.52 122 189.07 52 189.07 17.0V1.6Z"/>
<path d="M164.17 1.6V17.0C164.17 52 156.53 122 156.53 157.0V174.3H156.63V157.0C156.63 122 164.27 52 164.27 17.0V1.6Z"/>
<path d="M143.65 1.6V17.0C143.65 52 89.72 122 89.72 157.0V174.3H89.82V157.0C89.82 122 143.75 52 143.75 17.0V1.6Z"/>
<path d="M173.76 1.6V17.0C173.76 52 185.7 122 185.7 157.0V174.3H185.8V157.0C185.8 122 173.86 52 173.86 17.0V1.6Z"/>
<path d="M164.27 1.6V17.0C164.27 52 156.73 122 156.73 157.0V174.3H156.84V157.0C156.84 122 164.37 52 164.37 17.0V1.6Z"/>
<path d="M141.81 1.6V17.0C141.81 52 84.01 122 84.01 157.0V174.3H84.11V157.0C84.11 122 141.91 52 141.91 17.0V1.6Z"/>
<path d="M135.99 1.6V17.0C135.99 52 67.59 122 67.59 157.0V174.3H67.69V157.0C67.69 122 136.09 52 136.09 17.0V1.6Z"/>
<path d="M174.58 1.6V17.0C174.58 52 188.56 122 188.56 157.0V174.3H188.66V157.0C188.66 122 174.68 52 174.68 17.0V1.6Z"/>
<path d="M170.9 1.6V17.0C170.9 52 176.22 122 176.22 157.0V174.3H176.32V157.0C176.32 122 171.01 52 171.01 17.0V1.6Z"/>
<path d="M157.53 1.6V17.0C157.53 52 133.17 122 133.17 157.0V174.3H133.27V157.0C133.27 122 157.63 52 157.63 17.0V1.6Z"/>
<path d="M186.32 1.6V17.0C186.32 52 223.65 122 223.65 157.0V174.3H223.75V157.0C223.75 122 186.42 52 186.42 17.0V1.6Z"/>
<path d="M184.38 1.6V17.0C184.38 52 219.06 122 219.06 157.0V174.3H219.16V157.0C219.16 122 184.48 52 184.48 17.0V1.6Z"/>
<path d="M180.6 1.6V17.0C180.6 52 206.61 122 206.61 157.0V174.3H206.71V157.0C206.71 122 180.7 52 180.7 17.0V1.6Z"/>
<path d="M139.05 1.6V17.0C139.05 52 75.54 122 75.54 157.0V174.3H75.64V157.0C75.64 122 139.15 52 139.15 17.0V1.6Z"/>
<path d="M141.91 1.6V17.0C141.91 52 84.11 122 84.11 157.0V174.3H84.21V157.0C84.21 122 142.01 52 142.01 17.0V1.6Z"/>
<path d="M153.34 1.6V17.0C153.34 52 120.12 122 120.12 157.0V174.3H120.22V157.0C120.22 122 153.45 52 153.45 17.0V1.6Z"/>
<path d="M182.34 1.6V17.0C182.34 52 212.94 122 212.94 157.0V174.3H213.04V157.0C213.04 122 182.44 52 182.44 17.0V1.6Z"/>
<path d="M145.89 1.6V17.0C145.89 52 98.29 122 98.29 157.0V174.3H98.39V157.0C98.39 122 145.99 52 145.99 17.0V1.6Z"/>
<path d="M166.92 1.6V17.0C166.92 52 163.47 122 163.47 157.0V174.3H163.57V157.0C163.57 122 167.02 52 167.02 17.0V1.6Z"/>
<path d="M183.15 1.6V17.0C183.15 52 215.28 122 215.28 157.0V174.3H215.38V157.0C215.38 122 183.26 52 183.26 17.0V1.6Z"/>
<path d="M152.43 1.6V17.0C152.43 52 118.48 122 118.48 157.0V174.3H118.59V157.0C118.59 122 152.53 52 152.53 17.0V1.6Z"/>
<path d="M170.6 1.6V17.0C170.6 52 175.5 122 175.5 157.0V174.3H175.6V157.0C175.6 122 170.7 52 170.7 17.0V1.6Z"/>
<path d="M182.24 1.6V17.0C182.24 52 212.63 122 212.63 157.0V174.3H212.73V157.0C212.73 122 182.34 52 182.34 17.0V1.6Z"/>
<path d="M158.65 1.6V17.0C158.65 52 136.95 122 136.95 157.0V174.3H137.05V157.0C137.05 122 158.76 52 158.76 17.0V1.6Z"/>
<path d="M164.06 1.6V17.0C164.06 52 156.33 122 156.33 157.0V174.3H156.43V157.0C156.43 122 164.17 52 164.17 17.0V1.6Z"/>
<path d="M186.42 1.6V17.0C186.42 52 223.95 122 223.95 157.0V174.3H224.05V157.0C224.05 122 186.52 52 186.52 17.0V1.6Z"/>
<path d="M188.87 1.6V17.0C188.87 52 232.11 122 232.11 157.0V174.3H232.21V157.0C232.21 122 188.97 52 188.97 17.0V1.6Z"/>
<path d="M182.13 1.6V17.0C182.13 52 212.22 122 212.22 157.0V174.3H212.32V157.0C212.32 122 182.24 52 182.24 17.0V1.6Z"/>
<path d="M187.34 1.6V17.0C187.34 52 227.42 122 227.42 157.0V174.3H227.52V157.0C227.52 122 187.44 52 187.44 17.0V1.6Z"/>
<path d="M136.91 1.6V17.0C136.91 52 69.83 122 69.83 157.0V174.3H69.93V157.0C69.93 122 137.01 52 137.01 17.0V1.6Z"/>
<path d="M143.95 1.6V17.0C143.95 52 91.15 122 91.15 157.0V174.3H91.25V157.0C91.25 122 144.05 52 144.05 17.0V1.6Z"/>
<path d="M179.79 1.6V17.0C179.79 52 204.47 122 204.47 157.0V174.3H204.57V157.0C204.57 122 179.89 52 179.89 17.0V1.6Z"/>
<path d="M162.43 1.6V17.0C162.43 52 150.31 122 150.31 157.0V174.3H150.41V157.0C150.41 122 162.53 52 162.53 17.0V1.6Z"/>
<path d="M135.28 1.6V17.0C135.28 52 65.75 122 65.75 157.0V174.3H65.85V157.0C65.85 122 135.38 52 135.38 17.0V1.6Z"/>
<path d="M161.61 1.6V17.0C161.61 52 147.45 122 147.45 157.0V174.3H147.55V157.0C147.55 122 161.72 52 161.72 17.0V1.6Z"/>
<path d="M153.75 1.6V17.0C153.75 52 121.44 122 121.44 157.0V174.3H121.54V157.0C121.54 122 153.85 52 153.85 17.0V1.6Z"/>
<path d="M188.67 1.6V17.0C188.67 52 230.28 122 230.28 157.0V174.3H230.38V157.0C230.38 122 188.77 52 188.77 17.0V1.6Z"/>
<path d="M149.26 1.6V17.0C149.26 52 107.57 122 107.57 157.0V174.3H107.67V157.0C107.67 122 149.36 52 149.36 17.0V1.6Z"/>
<path d="M165.49 1.6V17.0C165.49 52 160.51 122 160.51 157.0V174.3H160.61V157.0C160.61 122 165.59 52 165.59 17.0V1.6Z"/>
<path d="M150.18 1.6V17.0C150.18 52 111.34 122 111.34 157.0V174.3H111.45V157.0C111.45 122 150.28 52 150.28 17.0V1.6Z"/>
<path d="M166.21 1.6V17.0C166.21 52 161.94 122 161.94 157.0V174.3H162.04V157.0C162.04 122 166.31 52 166.31 17.0V1.6Z"/>
<path d="M172.33 1.6V17.0C172.33 52 180.3 122 180.3 157.0V174.3H180.4V157.0C180.4 122 172.43 52 172.43 17.0V1.6Z"/>
<path d="M160.8 1.6V17.0C160.8 52 145 122 145 157.0V174.3H145.11V157.0C145.11 122 160.9 52 160.9 17.0V1.6Z"/>
<path d="M170.5 1.6V17.0C170.5 52 174.99 122 174.99 157.0V174.3H175.09V157.0C175.09 122 170.6 52 170.6 17.0V1.6Z"/>
<path d="M140.48 1.6V17.0C140.48 52 79.93 122 79.93 157.0V174.3H80.03V157.0C80.03 122 140.58 52 140.58 17.0V1.6Z"/>
<path d="M186.52 1.6V17.0C186.52 52 224.16 122 224.16 157.0V174.3H224.26V157.0C224.26 122 186.62 52 186.62 17.0V1.6Z"/>
<path d="M180.91 1.6V17.0C180.91 52 207.84 122 207.84 157.0V174.3H207.94V157.0C207.94 122 181.01 52 181.01 17.0V1.6Z"/>
<path d="M150.79 1.6V17.0C150.79 52 112.98 122 112.98 157.0V174.3H113.08V157.0C113.08 122 150.89 52 150.89 17.0V1.6Z"/>
<path d="M136.5 1.6V17.0C136.5 52 69.01 122 69.01 157.0V174.3H69.12V157.0C69.12 122 136.6 52 136.6 17.0V1.6Z"/>
<path d="M166 1.6V17.0C166 52 161.53 122 161.53 157.0V174.3H161.63V157.0C161.63 122 166.11 52 166.11 17.0V1.6Z"/>
<path d="M185.3 1.6V17.0C185.3 52 221.71 122 221.71 157.0V174.3H221.81V157.0C221.81 122 185.4 52 185.4 17.0V1.6Z"/>
<path d="M142.83 1.6V17.0C142.83 52 87.37 122 87.37 157.0V174.3H87.48V157.0C87.48 122 142.93 52 142.93 17.0V1.6Z"/>
<path d="M183.36 1.6V17.0C183.36 52 215.89 122 215.89 157.0V174.3H216V157.0C216 122 183.46 52 183.46 17.0V1.6Z"/>
<path d="M162.74 1.6V17.0C162.74 52 151.02 122 151.02 157.0V174.3H151.12V157.0C151.12 122 162.84 52 162.84 17.0V1.6Z"/>
<path d="M166.51 1.6V17.0C166.51 52 162.65 122 162.65 157.0V174.3H162.75V157.0C162.75 122 166.62 52 166.62 17.0V1.6Z"/>
<path d="M151.92 1.6V17.0C151.92 52 116.95 122 116.95 157.0V174.3H117.06V157.0C117.06 122 152.02 52 152.02 17.0V1.6Z"/>
<path d="M162.53 1.6V17.0C162.53 52 150.41 122 150.41 157.0V174.3H150.51V157.0C150.51 122 162.63 52 162.63 17.0V1.6Z"/>
<path d="M137.62 1.6V17.0C137.62 52 71.16 122 71.16 157.0V174.3H71.26V157.0C71.26 122 137.73 52 137.73 17.0V1.6Z"/>
<path d="M170.8 1.6V17.0C170.8 52 176.11 122 176.11 157.0V174.3H176.22V157.0C176.22 122 170.9 52 170.9 17.0V1.6Z"/>
<path d="M142.63 1.6V17.0C142.63 52 86.56 122 86.56 157.0V174.3H86.66V157.0C86.66 122 142.73 52 142.73 17.0V1.6Z"/>
<path d="M175.7 1.6V17.0C175.7 52 192.64 122 192.64 157.0V174.3H192.74V157.0C192.74 122 175.8 52 175.8 17.0V1.6Z"/>
<path d="M182.85 1.6V17.0C182.85 52 214.26 122 214.26 157.0V174.3H214.36V157.0C214.36 122 182.95 52 182.95 17.0V1.6Z"/>
<path d="M164.57 1.6V17.0C164.57 52 157.65 122 157.65 157.0V174.3H157.75V157.0C157.75 122 164.68 52 164.68 17.0V1.6Z"/>
<path d="M156.31 1.6V17.0C156.31 52 128.07 122 128.07 157.0V174.3H128.17V157.0C128.17 122 156.41 52 156.41 17.0V1.6Z"/>
<path d="M150.89 1.6V17.0C150.89 52 113.08 122 113.08 157.0V174.3H113.18V157.0C113.18 122 151 52 151 17.0V1.6Z"/>
<path d="M160.49 1.6V17.0C160.49 52 144.39 122 144.39 157.0V174.3H144.49V157.0C144.49 122 160.59 52 160.59 17.0V1.6Z"/>
<path d="M170.09 1.6V17.0C170.09 52 174.07 122 174.07 157.0V174.3H174.18V157.0C174.18 122 170.19 52 170.19 17.0V1.6Z"/>
<path d="M132.83 1.6V17.0C132.83 52 58 122 58 157.0V174.3H58.1V157.0C58.1 122 132.93 52 132.93 17.0V1.6Z"/>
<path d="M135.48 1.6V17.0C135.48 52 66.46 122 66.46 157.0V174.3H66.57V157.0C66.57 122 135.58 52 135.58 17.0V1.6Z"/>
<path d="M139.97 1.6V17.0C139.97 52 78.19 122 78.19 157.0V174.3H78.3V157.0C78.3 122 140.07 52 140.07 17.0V1.6Z"/>
<path d="M159.98 1.6V17.0C159.98 52 143.17 122 143.17 157.0V174.3H143.27V157.0C143.27 122 160.08 52 160.08 17.0V1.6Z"/>
<path d="M151.51 1.6V17.0C151.51 52 115.93 122 115.93 157.0V174.3H116.04V157.0C116.04 122 151.61 52 151.61 17.0V1.6Z"/>
<path d="M144.87 1.6V17.0C144.87 52 94.72 122 94.72 157.0V174.3H94.82V157.0C94.82 122 144.97 52 144.97 17.0V1.6Z"/>
<path d="M132.72 1.6V17.0C132.72 52 57.9 122 57.9 157.0V174.3H58V157.0C58 122 132.83 52 132.83 17.0V1.6Z"/>
<path d="M132.11 1.6V17.0C132.11 52 55.04 122 55.04 157.0V174.3H55.14V157.0C55.14 122 132.21 52 132.21 17.0V1.6Z"/>
<path d="M152.32 1.6V17.0C152.32 52 118.38 122 118.38 157.0V174.3H118.48V157.0C118.48 122 152.43 52 152.43 17.0V1.6Z"/>
<path d="M174.27 1.6V17.0C174.27 52 187.33 122 187.33 157.0V174.3H187.44V157.0C187.44 122 174.37 52 174.37 17.0V1.6Z"/>
<path d="M168.76 1.6V17.0C168.76 52 169.89 122 169.89 157.0V174.3H169.99V157.0C169.99 122 168.86 52 168.86 17.0V1.6Z"/>
<path d="M183.97 1.6V17.0C183.97 52 218.34 122 218.34 157.0V174.3H218.44V157.0C218.44 122 184.07 52 184.07 17.0V1.6Z"/>
<path d="M168.15 1.6V17.0C168.15 52 168.16 122 168.16 157.0V174.3H168.26V157.0C168.26 122 168.25 52 168.25 17.0V1.6Z"/>
<path d="M180.7 1.6V17.0C180.7 52 207.22 122 207.22 157.0V174.3H207.33V157.0C207.33 122 180.81 52 180.81 17.0V1.6Z"/>
<path d="M184.89 1.6V17.0C184.89 52 220.99 122 220.99 157.0V174.3H221.1V157.0C221.1 122 184.99 52 184.99 17.0V1.6Z"/>
<path d="M172.74 1.6V17.0C172.74 52 181.62 122 181.62 157.0V174.3H181.72V157.0C181.72 122 172.84 52 172.84 17.0V1.6Z"/>
<path d="M151 1.6V17.0C151 52 113.59 122 113.59 157.0V174.3H113.69V157.0C113.69 122 151.1 52 151.1 17.0V1.6Z"/>
<path d="M187.03 1.6V17.0C187.03 52 226.2 122 226.2 157.0V174.3H226.3V157.0C226.3 122 187.14 52 187.14 17.0V1.6Z"/>
<path d="M186.11 1.6V17.0C186.11 52 223.24 122 223.24 157.0V174.3H223.34V157.0C223.34 122 186.22 52 186.22 17.0V1.6Z"/>
<path d="M189.48 1.6V17.0C189.48 52 234.05 122 234.05 157.0V174.3H234.15V157.0C234.15 122 189.59 52 189.59 17.0V1.6Z"/>
<path d="M142.22 1.6V17.0C142.22 52 85.13 122 85.13 157.0V174.3H85.23V157.0C85.23 122 142.32 52 142.32 17.0V1.6Z"/>
<path d="M171.11 1.6V17.0C171.11 52 177.13 122 177.13 157.0V174.3H177.24V157.0C177.24 122 171.21 52 171.21 17.0V1.6Z"/>
<path d="M183.26 1.6V17.0C183.26 52 215.49 122 215.49 157.0V174.3H215.59V157.0C215.59 122 183.36 52 183.36 17.0V1.6Z"/>
<path d="M151.1 1.6V17.0C151.1 52 114.2 122 114.2 157.0V174.3H114.3V157.0C114.3 122 151.2 52 151.2 17.0V1.6Z"/>
<path d="M137.21 1.6V17.0C137.21 52 70.54 122 70.54 157.0V174.3H70.65V157.0C70.65 122 137.32 52 137.32 17.0V1.6Z"/>
<path d="M150.49 1.6V17.0C150.49 52 112.36 122 112.36 157.0V174.3H112.47V157.0C112.47 122 150.59 52 150.59 17.0V1.6Z"/>
<path d="M180.5 1.6V17.0C180.5 52 206.51 122 206.51 157.0V174.3H206.61V157.0C206.61 122 180.6 52 180.6 17.0V1.6Z"/>
<path d="M155.69 1.6V17.0C155.69 52 125.93 122 125.93 157.0V174.3H126.03V157.0C126.03 122 155.79 52 155.79 17.0V1.6Z"/>
<path d="M186.22 1.6V17.0C186.22 52 223.54 122 223.54 157.0V174.3H223.65V157.0C223.65 122 186.32 52 186.32 17.0V1.6Z"/>
<path d="M154.47 1.6V17.0C154.47 52 122.77 122 122.77 157.0V174.3H122.87V157.0C122.87 122 154.57 52 154.57 17.0V1.6Z"/>
<path d="M155.79 1.6V17.0C155.79 52 126.13 122 126.13 157.0V174.3H126.24V157.0C126.24 122 155.9 52 155.9 17.0V1.6Z"/>
<path d="M141.3 1.6V17.0C141.3 52 82.48 122 82.48 157.0V174.3H82.58V157.0C82.58 122 141.4 52 141.4 17.0V1.6Z"/>
<path d="M168.96 1.6V17.0C168.96 52 170.81 122 170.81 157.0V174.3H170.91V157.0C170.91 122 169.07 52 169.07 17.0V1.6Z"/>
<path d="M144.77 1.6V17.0C144.77 52 94.62 122 94.62 157.0V174.3H94.72V157.0C94.72 122 144.87 52 144.87 17.0V1.6Z"/>
<path d="M156.1 1.6V17.0C156.1 52 127.46 122 127.46 157.0V174.3H127.56V157.0C127.56 122 156.2 52 156.2 17.0V1.6Z"/>
<path d="M149.77 1.6V17.0C149.77 52 110.02 122 110.02 157.0V174.3H110.12V157.0C110.12 122 149.87 52 149.87 17.0V1.6Z"/>
<path d="M157.63 1.6V17.0C157.63 52 133.27 122 133.27 157.0V174.3H133.38V157.0C133.38 122 157.73 52 157.73 17.0V1.6Z"/>
<path d="M188.26 1.6V17.0C188.26 52 229.46 122 229.46 157.0V174.3H229.56V157.0C229.56 122 188.36 52 188.36 17.0V1.6Z"/>
<path d="M167.74 1.6V17.0C167.74 52 167.34 122 167.34 157.0V174.3H167.44V157.0C167.44 122 167.84 52 167.84 17.0V1.6Z"/>
<path d="M186.62 1.6V17.0C186.62 52 224.46 122 224.46 157.0V174.3H224.56V157.0C224.56 122 186.73 52 186.73 17.0V1.6Z"/>
<path d="M176.82 1.6V17.0C176.82 52 195.49 122 195.49 157.0V174.3H195.6V157.0C195.6 122 176.93 52 176.93 17.0V1.6Z"/>
<path d="M152.53 1.6V17.0C152.53 52 118.59 122 118.59 157.0V174.3H118.69V157.0C118.69 122 152.63 52 152.63 17.0V1.6Z"/>
<path d="M157.73 1.6V17.0C157.73 52 133.99 122 133.99 157.0V174.3H134.09V157.0C134.09 122 157.84 52 157.84 17.0V1.6Z"/>
<path d="M187.24 1.6V17.0C187.24 52 227.22 122 227.22 157.0V174.3H227.32V157.0C227.32 122 187.34 52 187.34 17.0V1.6Z"/>
<path d="M153.85 1.6V17.0C153.85 52 121.75 122 121.75 157.0V174.3H121.85V157.0C121.85 122 153.96 52 153.96 17.0V1.6Z"/>
<path d="M188.77 1.6V17.0C188.77 52 231.19 122 231.19 157.0V174.3H231.3V157.0C231.3 122 188.87 52 188.87 17.0V1.6Z"/>
<path d="M161.41 1.6V17.0C161.41 52 146.64 122 146.64 157.0V174.3H146.74V157.0C146.74 122 161.51 52 161.51 17.0V1.6Z"/>
<path d="M142.52 1.6V17.0C142.52 52 86.05 122 86.05 157.0V174.3H86.15V157.0C86.15 122 142.63 52 142.63 17.0V1.6Z"/>
<path d="M157.94 1.6V17.0C157.94 52 134.91 122 134.91 157.0V174.3H135.01V157.0C135.01 122 158.04 52 158.04 17.0V1.6Z"/>
<path d="M143.85 1.6V17.0C143.85 52 91.05 122 91.05 157.0V174.3H91.15V157.0C91.15 122 143.95 52 143.95 17.0V1.6Z"/>
<path d="M136.4 1.6V17.0C136.4 52 68.5 122 68.5 157.0V174.3H68.61V157.0C68.61 122 136.5 52 136.5 17.0V1.6Z"/>
<path d="M132.21 1.6V17.0C132.21 52 55.86 122 55.86 157.0V174.3H55.96V157.0C55.96 122 132.31 52 132.31 17.0V1.6Z"/>
<path d="M149.57 1.6V17.0C149.57 52 109.1 122 109.1 157.0V174.3H109.2V157.0C109.2 122 149.67 52 149.67 17.0V1.6Z"/>
<path d="M136.3 1.6V17.0C136.3 52 68.4 122 68.4 157.0V174.3H68.5V157.0C68.5 122 136.4 52 136.4 17.0V1.6Z"/>
<path d="M163.76 1.6V17.0C163.76 52 154.9 122 154.9 157.0V174.3H155V157.0C155 122 163.86 52 163.86 17.0V1.6Z"/>
<path d="M171.21 1.6V17.0C171.21 52 177.64 122 177.64 157.0V174.3H177.75V157.0C177.75 122 171.31 52 171.31 17.0V1.6Z"/>
<path d="M147.93 1.6V17.0C147.93 52 103.59 122 103.59 157.0V174.3H103.69V157.0C103.69 122 148.04 52 148.04 17.0V1.6Z"/>
<path d="M133.44 1.6V17.0C133.44 52 60.04 122 60.04 157.0V174.3H60.14V157.0C60.14 122 133.54 52 133.54 17.0V1.6Z"/>
<path d="M153.65 1.6V17.0C153.65 52 121.34 122 121.34 157.0V174.3H121.44V157.0C121.44 122 153.75 52 153.75 17.0V1.6Z"/>
<path d="M168.05 1.6V17.0C168.05 52 167.65 122 167.65 157.0V174.3H167.75V157.0C167.75 122 168.15 52 168.15 17.0V1.6Z"/>
<path d="M181.72 1.6V17.0C181.72 52 210.59 122 210.59 157.0V174.3H210.69V157.0C210.69 122 181.83 52 181.83 17.0V1.6Z"/>
<path d="M156.2 1.6V17.0C156.2 52 127.56 122 127.56 157.0V174.3H127.66V157.0C127.66 122 156.31 52 156.31 17.0V1.6Z"/>
<path d="M166.41 1.6V17.0C166.41 52 162.55 122 162.55 157.0V174.3H162.65V157.0C162.65 122 166.51 52 166.51 17.0V1.6Z"/>
<path d="M183.05 1.6V17.0C183.05 52 214.87 122 214.87 157.0V174.3H214.98V157.0C214.98 122 183.15 52 183.15 17.0V1.6Z"/>
<path d="M157.02 1.6V17.0C157.02 52 130.83 122 130.83 157.0V174.3H130.93V157.0C130.93 122 157.12 52 157.12 17.0V1.6Z"/>
<path d="M148.85 1.6V17.0C148.85 52 106.35 122 106.35 157.0V174.3H106.45V157.0C106.45 122 148.95 52 148.95 17.0V1.6Z"/>
<path d="M175.4 1.6V17.0C175.4 52 191.92 122 191.92 157.0V174.3H192.03V157.0C192.03 122 175.5 52 175.5 17.0V1.6Z"/>
<path d="M156 1.6V17.0C156 52 127.05 122 127.05 157.0V174.3H127.15V157.0C127.15 122 156.1 52 156.1 17.0V1.6Z"/>
<path d="M168.86 1.6V17.0C168.86 52 170.5 122 170.5 157.0V174.3H170.61V157.0C170.61 122 168.96 52 168.96 17.0V1.6Z"/>
<path d="M159.78 1.6V17.0C159.78 52 141.94 122 141.94 157.0V174.3H142.05V157.0C142.05 122 159.88 52 159.88 17.0V1.6Z"/>
<path d="M139.87 1.6V17.0C139.87 52 78.09 122 78.09 157.0V174.3H78.19V157.0C78.19 122 139.97 52 139.97 17.0V1.6Z"/>
<path d="M187.54 1.6V17.0C187.54 52 227.93 122 227.93 157.0V174.3H228.03V157.0C228.03 122 187.65 52 187.65 17.0V1.6Z"/>
<path d="M184.79 1.6V17.0C184.79 52 220.48 122 220.48 157.0V174.3H220.59V157.0C220.59 122 184.89 52 184.89 17.0V1.6Z"/>
<path d="M163.14 1.6V17.0C163.14 52 152.25 122 152.25 157.0V174.3H152.35V157.0C152.35 122 163.25 52 163.25 17.0V1.6Z"/>
<path d="M174.99 1.6V17.0C174.99 52 190.7 122 190.7 157.0V174.3H190.8V157.0C190.8 122 175.09 52 175.09 17.0V1.6Z"/>
<path d="M176.11 1.6V17.0C176.11 52 194.17 122 194.17 157.0V174.3H194.27V157.0C194.27 122 176.21 52 176.21 17.0V1.6Z"/>
<path d="M159.06 1.6V17.0C159.06 52 138.17 122 138.17 157.0V174.3H138.27V157.0C138.27 122 159.16 52 159.16 17.0V1.6Z"/>
<path d="M165.29 1.6V17.0C165.29 52 160.2 122 160.2 157.0V174.3H160.3V157.0C160.3 122 165.39 52 165.39 17.0V1.6Z"/>
<path d="M175.8 1.6V17.0C175.8 52 192.74 122 192.74 157.0V174.3H192.84V157.0C192.84 122 175.91 52 175.91 17.0V1.6Z"/>
<path d="M185.09 1.6V17.0C185.09 52 221.2 122 221.2 157.0V174.3H221.3V157.0C221.3 122 185.2 52 185.2 17.0V1.6Z"/>
<path d="M146.81 1.6V17.0C146.81 52 100.33 122 100.33 157.0V174.3H100.43V157.0C100.43 122 146.91 52 146.91 17.0V1.6Z"/>
<path d="M138.03 1.6V17.0C138.03 52 72.79 122 72.79 157.0V174.3H72.89V157.0C72.89 122 138.13 52 138.13 17.0V1.6Z"/>
<path d="M179.58 1.6V17.0C179.58 52 204.16 122 204.16 157.0V174.3H204.27V157.0C204.27 122 179.68 52 179.68 17.0V1.6Z"/>
<path d="M160.9 1.6V17.0C160.9 52 145.11 122 145.11 157.0V174.3H145.21V157.0C145.21 122 161 52 161 17.0V1.6Z"/>
<path d="M167.02 1.6V17.0C167.02 52 163.67 122 163.67 157.0V174.3H163.77V157.0C163.77 122 167.13 52 167.13 17.0V1.6Z"/>
<path d="M156.41 1.6V17.0C156.41 52 128.17 122 128.17 157.0V174.3H128.28V157.0C128.28 122 156.51 52 156.51 17.0V1.6Z"/>
<path d="M156.82 1.6V17.0C156.82 52 130.62 122 130.62 157.0V174.3H130.72V157.0C130.72 122 156.92 52 156.92 17.0V1.6Z"/>
<path d="M141.5 1.6V17.0C141.5 52 83.6 122 83.6 157.0V174.3H83.7V157.0C83.7 122 141.6 52 141.6 17.0V1.6Z"/>
<path d="M155.08 1.6V17.0C155.08 52 124.71 122 124.71 157.0V174.3H124.81V157.0C124.81 122 155.18 52 155.18 17.0V1.6Z"/>
<path d="M177.33 1.6V17.0C177.33 52 197.53 122 197.53 157.0V174.3H197.64V157.0C197.64 122 177.44 52 177.44 17.0V1.6Z"/>
<path d="M181.32 1.6V17.0C181.32 52 209.37 122 209.37 157.0V174.3H209.47V157.0C209.47 122 181.42 52 181.42 17.0V1.6Z"/>
<path d="M169.68 1.6V17.0C169.68 52 172.24 122 172.24 157.0V174.3H172.34V157.0C172.34 122 169.78 52 169.78 17.0V1.6Z"/>
<path d="M182.03 1.6V17.0C182.03 52 211.81 122 211.81 157.0V174.3H211.92V157.0C211.92 122 182.13 52 182.13 17.0V1.6Z"/>
<path d="M167.23 1.6V17.0C167.23 52 164.69 122 164.69 157.0V174.3H164.79V157.0C164.79 122 167.33 52 167.33 17.0V1.6Z"/>
<path d="M162.12 1.6V17.0C162.12 52 149.19 122 149.19 157.0V174.3H149.29V157.0C149.29 122 162.23 52 162.23 17.0V1.6Z"/>
<path d="M165.8 1.6V17.0C165.8 52 160.92 122 160.92 157.0V174.3H161.02V157.0C161.02 122 165.9 52 165.9 17.0V1.6Z"/>
<path d="M162.63 1.6V17.0C162.63 52 150.92 122 150.92 157.0V174.3H151.02V157.0C151.02 122 162.74 52 162.74 17.0V1.6Z"/>
<path d="M144.57 1.6V17.0C144.57 52 93.8 122 93.8 157.0V174.3H93.9V157.0C93.9 122 144.67 52 144.67 17.0V1.6Z"/>
<path d="M182.75 1.6V17.0C182.75 52 213.75 122 213.75 157.0V174.3H213.85V157.0C213.85 122 182.85 52 182.85 17.0V1.6Z"/>
<path d="M155.49 1.6V17.0C155.49 52 125.62 122 125.62 157.0V174.3H125.73V157.0C125.73 122 155.59 52 155.59 17.0V1.6Z"/>
<path d="M189.69 1.6V17.0C189.69 52 234.56 122 234.56 157.0V174.3H234.66V157.0C234.66 122 189.79 52 189.79 17.0V1.6Z"/>
<path d="M132.01 1.6V17.0C132.01 52 54.84 122 54.84 157.0V174.3H54.94V157.0C54.94 122 132.11 52 132.11 17.0V1.6Z"/>
<path d="M160.59 1.6V17.0C160.59 52 144.6 122 144.6 157.0V174.3H144.7V157.0C144.7 122 160.69 52 160.69 17.0V1.6Z"/>
<path d="M159.67 1.6V17.0C159.67 52 141.84 122 141.84 157.0V174.3H141.94V157.0C141.94 122 159.78 52 159.78 17.0V1.6Z"/>
<path d="M172.43 1.6V17.0C172.43 52 180.5 122 180.5 157.0V174.3H180.6V157.0C180.6 122 172.54 52 172.54 17.0V1.6Z"/>
<path d="M133.13 1.6V17.0C133.13 52 59.63 122 59.63 157.0V174.3H59.73V157.0C59.73 122 133.23 52 133.23 17.0V1.6Z"/>
<path d="M156.92 1.6V17.0C156.92 52 130.72 122 130.72 157.0V174.3H130.83V157.0C130.83 122 157.02 52 157.02 17.0V1.6Z"/>
<path d="M184.17 1.6V17.0C184.17 52 218.65 122 218.65 157.0V174.3H218.75V157.0C218.75 122 184.28 52 184.28 17.0V1.6Z"/>
<path d="M179.89 1.6V17.0C179.89 52 204.57 122 204.57 157.0V174.3H204.67V157.0C204.67 122 179.99 52 179.99 17.0V1.6Z"/>
<path d="M136.81 1.6V17.0C136.81 52 69.73 122 69.73 157.0V174.3H69.83V157.0C69.83 122 136.91 52 136.91 17.0V1.6Z"/>
<path d="M170.29 1.6V17.0C170.29 52 174.38 122 174.38 157.0V174.3H174.48V157.0C174.48 122 170.39 52 170.39 17.0V1.6Z"/>
<path d="M142.32 1.6V17.0C142.32 52 85.84 122 85.84 157.0V174.3H85.95V157.0C85.95 122 142.42 52 142.42 17.0V1.6Z"/>
<path d="M183.87 1.6V17.0C183.87 52 218.04 122 218.04 157.0V174.3H218.14V157.0C218.14 122 183.97 52 183.97 17.0V1.6Z"/>
<path d="M185.4 1.6V17.0C185.4 52 221.81 122 221.81 157.0V174.3H221.91V157.0C221.91 122 185.5 52 185.5 17.0V1.6Z"/>
<path d="M178.66 1.6V17.0C178.66 52 201 122 201 157.0V174.3H201.1V157.0C201.1 122 178.76 52 178.76 17.0V1.6Z"/>
<path d="M169.17 1.6V17.0C169.17 52 171.32 122 171.32 157.0V174.3H171.42V157.0C171.42 122 169.27 52 169.27 17.0V1.6Z"/>
<path d="M156.71 1.6V17.0C156.71 52 130.11 122 130.11 157.0V174.3H130.21V157.0C130.21 122 156.82 52 156.82 17.0V1.6Z"/>
<path d="M178.76 1.6V17.0C178.76 52 201.31 122 201.31 157.0V174.3H201.41V157.0C201.41 122 178.87 52 178.87 17.0V1.6Z"/>
<path d="M147.02 1.6V17.0C147.02 52 101.04 122 101.04 157.0V174.3H101.14V157.0C101.14 122 147.12 52 147.12 17.0V1.6Z"/>
<path d="M153.04 1.6V17.0C153.04 52 119.81 122 119.81 157.0V174.3H119.91V157.0C119.91 122 153.14 52 153.14 17.0V1.6Z"/>
<path d="M185.91 1.6V17.0C185.91 52 223.03 122 223.03 157.0V174.3H223.14V157.0C223.14 122 186.01 52 186.01 17.0V1.6Z"/>
<path d="M153.55 1.6V17.0C153.55 52 121.24 122 121.24 157.0V174.3H121.34V157.0C121.34 122 153.65 52 153.65 17.0V1.6Z"/>
<path d="M172.84 1.6V17.0C172.84 52 181.83 122 181.83 157.0V174.3H181.93V157.0C181.93 122 172.95 52 172.95 17.0V1.6Z"/>
<path d="M138.75 1.6V17.0C138.75 52 74.32 122 74.32 157.0V174.3H74.42V157.0C74.42 122 138.85 52 138.85 17.0V1.6Z"/>
<path d="M143.14 1.6V17.0C143.14 52 88.19 122 88.19 157.0V174.3H88.29V157.0C88.29 122 143.24 52 143.24 17.0V1.6Z"/>
<path d="M166.62 1.6V17.0C166.62 52 162.75 122 162.75 157.0V174.3H162.85V157.0C162.85 122 166.72 52 166.72 17.0V1.6Z"/>
<path d="M144.16 1.6V17.0C144.16 52 91.76 122 91.76 157.0V174.3H91.86V157.0C91.86 122 144.26 52 144.26 17.0V1.6Z"/>
<path d="M183.46 1.6V17.0C183.46 52 216 122 216 157.0V174.3H216.1V157.0C216.1 122 183.56 52 183.56 17.0V1.6Z"/>
<path d="M151.3 1.6V17.0C151.3 52 114.81 122 114.81 157.0V174.3H114.91V157.0C114.91 122 151.4 52 151.4 17.0V1.6Z"/>
<path d="M182.64 1.6V17.0C182.64 52 213.65 122 213.65 157.0V174.3H213.75V157.0C213.75 122 182.75 52 182.75 17.0V1.6Z"/>
<path d="M181.21 1.6V17.0C181.21 52 209.06 122 209.06 157.0V174.3H209.16V157.0C209.16 122 181.32 52 181.32 17.0V1.6Z"/>
<path d="M148.24 1.6V17.0C148.24 52 104.31 122 104.31 157.0V174.3H104.41V157.0C104.41 122 148.34 52 148.34 17.0V1.6Z"/>
<path d="M174.78 1.6V17.0C174.78 52 189.27 122 189.27 157.0V174.3H189.37V157.0C189.37 122 174.88 52 174.88 17.0V1.6Z"/>
<path d="M131.91 1.6V17.0C131.91 52 54.73 122 54.73 157.0V174.3H54.84V157.0C54.84 122 132.01 52 132.01 17.0V1.6Z"/>
<path d="M153.45 1.6V17.0C153.45 52 120.22 122 120.22 157.0V174.3H120.32V157.0C120.32 122 153.55 52 153.55 17.0V1.6Z"/>
<path d="M174.37 1.6V17.0C174.37 52 187.74 122 187.74 157.0V174.3H187.84V157.0C187.84 122 174.48 52 174.48 17.0V1.6Z"/>
<path d="M139.15 1.6V17.0C139.15 52 75.64 122 75.64 157.0V174.3H75.75V157.0C75.75 122 139.26 52 139.26 17.0V1.6Z"/>
<path d="M154.06 1.6V17.0C154.06 52 122.26 122 122.26 157.0V174.3H122.36V157.0C122.36 122 154.16 52 154.16 17.0V1.6Z"/>
<path d="M175.5 1.6V17.0C175.5 52 192.33 122 192.33 157.0V174.3H192.43V157.0C192.43 122 175.6 52 175.6 17.0V1.6Z"/>
<path d="M136.09 1.6V17.0C136.09 52 67.99 122 67.99 157.0V174.3H68.1V157.0C68.1 122 136.19 52 136.19 17.0V1.6Z"/>
<path d="M168.56 1.6V17.0C168.56 52 169.38 122 169.38 157.0V174.3H169.48V157.0C169.48 122 168.66 52 168.66 17.0V1.6Z"/>
<path d="M185.71 1.6V17.0C185.71 52 222.42 122 222.42 157.0V174.3H222.52V157.0C222.52 122 185.81 52 185.81 17.0V1.6Z"/>
<path d="M161.31 1.6V17.0C161.31 52 146.53 122 146.53 157.0V174.3H146.64V157.0C146.64 122 161.41 52 161.41 17.0V1.6Z"/>
<path d="M152.02 1.6V17.0C152.02 52 117.46 122 117.46 157.0V174.3H117.57V157.0C117.57 122 152.12 52 152.12 17.0V1.6Z"/>
<path d="M139.36 1.6V17.0C139.36 52 76.05 122 76.05 157.0V174.3H76.15V157.0C76.15 122 139.46 52 139.46 17.0V1.6Z"/>
<path d="M134.25 1.6V17.0C134.25 52 61.98 122 61.98 157.0V174.3H62.08V157.0C62.08 122 134.36 52 134.36 17.0V1.6Z"/>
<path d="M183.66 1.6V17.0C183.66 52 216.51 122 216.51 157.0V174.3H216.61V157.0C216.61 122 183.77 52 183.77 17.0V1.6Z"/>
<path d="M189.89 1.6V17.0C189.89 52 234.76 122 234.76 157.0V174.3H234.87V157.0C234.87 122 189.99 52 189.99 17.0V1.6Z"/>
<path d="M188.46 1.6V17.0C188.46 52 229.97 122 229.97 157.0V174.3H230.07V157.0C230.07 122 188.56 52 188.56 17.0V1.6Z"/>
<path d="M139.46 1.6V17.0C139.46 52 76.87 122 76.87 157.0V174.3H76.97V157.0C76.97 122 139.56 52 139.56 17.0V1.6Z"/>
<path d="M158.96 1.6V17.0C158.96 52 137.76 122 137.76 157.0V174.3H137.86V157.0C137.86 122 159.06 52 159.06 17.0V1.6Z"/>
<path d="M171.52 1.6V17.0C171.52 52 178.05 122 178.05 157.0V174.3H178.15V157.0C178.15 122 171.62 52 171.62 17.0V1.6Z"/>
<path d="M167.84 1.6V17.0C167.84 52 167.44 122 167.44 157.0V174.3H167.55V157.0C167.55 122 167.94 52 167.94 17.0V1.6Z"/>
<path d="M154.37 1.6V17.0C154.37 52 122.67 122 122.67 157.0V174.3H122.77V157.0C122.77 122 154.47 52 154.47 17.0V1.6Z"/>
<path d="M183.56 1.6V17.0C183.56 52 216.1 122 216.1 157.0V174.3H216.2V157.0C216.2 122 183.66 52 183.66 17.0V1.6Z"/>
<path d="M141.4 1.6V17.0C141.4 52 82.58 122 82.58 157.0V174.3H82.68V157.0C82.68 122 141.5 52 141.5 17.0V1.6Z"/>
<path d="M140.89 1.6V17.0C140.89 52 80.85 122 80.85 157.0V174.3H80.95V157.0C80.95 122 140.99 52 140.99 17.0V1.6Z"/>
<path d="M174.07 1.6V17.0C174.07 52 186.82 122 186.82 157.0V174.3H186.93V157.0C186.93 122 174.17 52 174.17 17.0V1.6Z"/>
<path d="M165.59 1.6V17.0C165.59 52 160.61 122 160.61 157.0V174.3H160.71V157.0C160.71 122 165.7 52 165.7 17.0V1.6Z"/>
<path d="M163.66 1.6V17.0C163.66 52 153.78 122 153.78 157.0V174.3H153.88V157.0C153.88 122 163.76 52 163.76 17.0V1.6Z"/>
<path d="M141.09 1.6V17.0C141.09 52 81.56 122 81.56 157.0V174.3H81.66V157.0C81.66 122 141.2 52 141.2 17.0V1.6Z"/>
<path d="M180.19 1.6V17.0C180.19 52 205.9 122 205.9 157.0V174.3H206V157.0C206 122 180.3 52 180.3 17.0V1.6Z"/>
<path d="M148.44 1.6V17.0C148.44 52 105.12 122 105.12 157.0V174.3H105.22V157.0C105.22 122 148.55 52 148.55 17.0V1.6Z"/>
<path d="M173.97 1.6V17.0C173.97 52 186.11 122 186.11 157.0V174.3H186.21V157.0C186.21 122 174.07 52 174.07 17.0V1.6Z"/>
<path d="M142.73 1.6V17.0C142.73 52 87.17 122 87.17 157.0V174.3H87.27V157.0C87.27 122 142.83 52 142.83 17.0V1.6Z"/>
<path d="M168.66 1.6V17.0C168.66 52 169.79 122 169.79 157.0V174.3H169.89V157.0C169.89 122 168.76 52 168.76 17.0V1.6Z"/>
<path d="M165.08 1.6V17.0C165.08 52 159.9 122 159.9 157.0V174.3H160V157.0C160 122 165.19 52 165.19 17.0V1.6Z"/>
<path d="M145.08 1.6V17.0C145.08 52 95.94 122 95.94 157.0V174.3H96.04V157.0C96.04 122 145.18 52 145.18 17.0V1.6Z"/>
<path d="M176.21 1.6V17.0C176.21 52 194.27 122 194.27 157.0V174.3H194.37V157.0C194.37 122 176.31 52 176.31 17.0V1.6Z"/>
<path d="M177.13 1.6V17.0C177.13 52 196.72 122 196.72 157.0V174.3H196.82V157.0C196.82 122 177.23 52 177.23 17.0V1.6Z"/>
<path d="M154.88 1.6V17.0C154.88 52 123.99 122 123.99 157.0V174.3H124.09V157.0C124.09 122 154.98 52 154.98 17.0V1.6Z"/>
<path d="M161.1 1.6V17.0C161.1 52 145.41 122 145.41 157.0V174.3H145.51V157.0C145.51 122 161.21 52 161.21 17.0V1.6Z"/>
<path d="M146.3 1.6V17.0C146.3 52 99.1 122 99.1 157.0V174.3H99.21V157.0C99.21 122 146.4 52 146.4 17.0V1.6Z"/>
<path d="M155.28 1.6V17.0C155.28 52 125.11 122 125.11 157.0V174.3H125.22V157.0C125.22 122 155.39 52 155.39 17.0V1.6Z"/>
<path d="M145.38 1.6V17.0C145.38 52 96.86 122 96.86 157.0V174.3H96.96V157.0C96.96 122 145.48 52 145.48 17.0V1.6Z"/>
<path d="M152.94 1.6V17.0C152.94 52 119.5 122 119.5 157.0V174.3H119.61V157.0C119.61 122 153.04 52 153.04 17.0V1.6Z"/>
<path d="M148.04 1.6V17.0C148.04 52 104 122 104 157.0V174.3H104.1V157.0C104.1 122 148.14 52 148.14 17.0V1.6Z"/>
<path d="M134.66 1.6V17.0C134.66 52 62.79 122 62.79 157.0V174.3H62.89V157.0C62.89 122 134.76 52 134.76 17.0V1.6Z"/>
<path d="M150.59 1.6V17.0C150.59 52 112.77 122 112.77 157.0V174.3H112.87V157.0C112.87 122 150.69 52 150.69 17.0V1.6Z"/>
<path d="M169.88 1.6V17.0C169.88 52 173.16 122 173.16 157.0V174.3H173.26V157.0C173.26 122 169.98 52 169.98 17.0V1.6Z"/>
<path d="M188.36 1.6V17.0C188.36 52 229.87 122 229.87 157.0V174.3H229.97V157.0C229.97 122 188.46 52 188.46 17.0V1.6Z"/>
<path d="M160.18 1.6V17.0C160.18 52 143.78 122 143.78 157.0V174.3H143.88V157.0C143.88 122 160.29 52 160.29 17.0V1.6Z"/>
<path d="M148.65 1.6V17.0C148.65 52 106.14 122 106.14 157.0V174.3H106.24V157.0C106.24 122 148.75 52 148.75 17.0V1.6Z"/>
<path d="M133.85 1.6V17.0C133.85 52 61.16 122 61.16 157.0V174.3H61.26V157.0C61.26 122 133.95 52 133.95 17.0V1.6Z"/>
<path d="M151.81 1.6V17.0C151.81 52 116.24 122 116.24 157.0V174.3H116.34V157.0C116.34 122 151.92 52 151.92 17.0V1.6Z"/>
<path d="M158.86 1.6V17.0C158.86 52 137.46 122 137.46 157.0V174.3H137.56V157.0C137.56 122 158.96 52 158.96 17.0V1.6Z"/>
<path d="M133.95 1.6V17.0C133.95 52 61.36 122 61.36 157.0V174.3H61.47V157.0C61.47 122 134.05 52 134.05 17.0V1.6Z"/>
<path d="M178.97 1.6V17.0C178.97 52 201.82 122 201.82 157.0V174.3H201.92V157.0C201.92 122 179.07 52 179.07 17.0V1.6Z"/>
<path d="M185.6 1.6V17.0C185.6 52 222.32 122 222.32 157.0V174.3H222.42V157.0C222.42 122 185.71 52 185.71 17.0V1.6Z"/>
<path d="M143.75 1.6V17.0C143.75 52 90.94 122 90.94 157.0V174.3H91.05V157.0C91.05 122 143.85 52 143.85 17.0V1.6Z"/>
<path d="M138.34 1.6V17.0C138.34 52 73.4 122 73.4 157.0V174.3H73.5V157.0C73.5 122 138.44 52 138.44 17.0V1.6Z"/>
<path d="M181.62 1.6V17.0C181.62 52 210.18 122 210.18 157.0V174.3H210.28V157.0C210.28 122 181.72 52 181.72 17.0V1.6Z"/>
<path d="M158.55 1.6V17.0C158.55 52 136.64 122 136.64 157.0V174.3H136.74V157.0C136.74 122 158.65 52 158.65 17.0V1.6Z"/>
<path d="M162.23 1.6V17.0C162.23 52 149.59 122 149.59 157.0V174.3H149.7V157.0C149.7 122 162.33 52 162.33 17.0V1.6Z"/>
<path d="M184.58 1.6V17.0C184.58 52 219.97 122 219.97 157.0V174.3H220.08V157.0C220.08 122 184.69 52 184.69 17.0V1.6Z"/>
<path d="M176.42 1.6V17.0C176.42 52 194.88 122 194.88 157.0V174.3H194.98V157.0C194.98 122 176.52 52 176.52 17.0V1.6Z"/>
<path d="M189.38 1.6V17.0C189.38 52 233.74 122 233.74 157.0V174.3H233.85V157.0C233.85 122 189.48 52 189.48 17.0V1.6Z"/>
<path d="M149.98 1.6V17.0C149.98 52 110.73 122 110.73 157.0V174.3H110.83V157.0C110.83 122 150.08 52 150.08 17.0V1.6Z"/>
<path d="M140.69 1.6V17.0C140.69 52 80.54 122 80.54 157.0V174.3H80.64V157.0C80.64 122 140.79 52 140.79 17.0V1.6Z"/>
<path d="M187.95 1.6V17.0C187.95 52 228.64 122 228.64 157.0V174.3H228.75V157.0C228.75 122 188.05 52 188.05 17.0V1.6Z"/>
<path d="M162.33 1.6V17.0C162.33 52 150 122 150 157.0V174.3H150.1V157.0C150.1 122 162.43 52 162.43 17.0V1.6Z"/>
<path d="M158.45 1.6V17.0C158.45 52 136.33 122 136.33 157.0V174.3H136.44V157.0C136.44 122 158.55 52 158.55 17.0V1.6Z"/>
<path d="M146.71 1.6V17.0C146.71 52 100.23 122 100.23 157.0V174.3H100.33V157.0C100.33 122 146.81 52 146.81 17.0V1.6Z"/>
<path d="M185.81 1.6V17.0C185.81 52 222.52 122 222.52 157.0V174.3H222.63V157.0C222.63 122 185.91 52 185.91 17.0V1.6Z"/>
<path d="M135.79 1.6V17.0C135.79 52 67.18 122 67.18 157.0V174.3H67.28V157.0C67.28 122 135.89 52 135.89 17.0V1.6Z"/>
<path d="M175.19 1.6V17.0C175.19 52 191.41 122 191.41 157.0V174.3H191.52V157.0C191.52 122 175.29 52 175.29 17.0V1.6Z"/>
<path d="M153.24 1.6V17.0C153.24 52 120.01 122 120.01 157.0V174.3H120.12V157.0C120.12 122 153.34 52 153.34 17.0V1.6Z"/>
<path d="M147.32 1.6V17.0C147.32 52 101.35 122 101.35 157.0V174.3H101.45V157.0C101.45 122 147.42 52 147.42 17.0V1.6Z"/>
<path d="M177.54 1.6V17.0C177.54 52 198.04 122 198.04 157.0V174.3H198.15V157.0C198.15 122 177.64 52 177.64 17.0V1.6Z"/>
<path d="M137.42 1.6V17.0C137.42 52 70.95 122 70.95 157.0V174.3H71.05V157.0C71.05 122 137.52 52 137.52 17.0V1.6Z"/>
<path d="M189.99 1.6V17.0C189.99 52 234.87 122 234.87 157.0V174.3H234.97V157.0C234.97 122 190.1 52 190.1 17.0V1.6Z"/>
<path d="M132.31 1.6V17.0C132.31 52 56.06 122 56.06 157.0V174.3H56.16V157.0C56.16 122 132.42 52 132.42 17.0V1.6Z"/>
<path d="M149.67 1.6V17.0C149.67 52 109.41 122 109.41 157.0V174.3H109.51V157.0C109.51 122 149.77 52 149.77 17.0V1.6Z"/>
<path d="M140.18 1.6V17.0C140.18 52 78.6 122 78.6 157.0V174.3H78.7V157.0C78.7 122 140.28 52 140.28 17.0V1.6Z"/>
<path d="M181.42 1.6V17.0C181.42 52 209.77 122 209.77 157.0V174.3H209.88V157.0C209.88 122 181.52 52 181.52 17.0V1.6Z"/>
<path d="M172.23 1.6V17.0C172.23 52 179.99 122 179.99 157.0V174.3H180.09V157.0C180.09 122 172.33 52 172.33 17.0V1.6Z"/>
<path d="M158.76 1.6V17.0C158.76 52 137.35 122 137.35 157.0V174.3H137.46V157.0C137.46 122 158.86 52 158.86 17.0V1.6Z"/>
<path d="M170.7 1.6V17.0C170.7 52 175.71 122 175.71 157.0V174.3H175.81V157.0C175.81 122 170.8 52 170.8 17.0V1.6Z"/>
<path d="M176.01 1.6V17.0C176.01 52 194.07 122 194.07 157.0V174.3H194.17V157.0C194.17 122 176.11 52 176.11 17.0V1.6Z"/>
<path d="M161.72 1.6V17.0C161.72 52 147.55 122 147.55 157.0V174.3H147.66V157.0C147.66 122 161.82 52 161.82 17.0V1.6Z"/>
<path d="M164.78 1.6V17.0C164.78 52 158.37 122 158.37 157.0V174.3H158.47V157.0C158.47 122 164.88 52 164.88 17.0V1.6Z"/>
<path d="M163.25 1.6V17.0C163.25 52 152.35 122 152.35 157.0V174.3H152.45V157.0C152.45 122 163.35 52 163.35 17.0V1.6Z"/>
<path d="M145.18 1.6V17.0C145.18 52 96.45 122 96.45 157.0V174.3H96.55V157.0C96.55 122 145.28 52 145.28 17.0V1.6Z"/>
<path d="M157.22 1.6V17.0C157.22 52 131.64 122 131.64 157.0V174.3H131.74V157.0C131.74 122 157.33 52 157.33 17.0V1.6Z"/>
<path d="M179.38 1.6V17.0C179.38 52 203.86 122 203.86 157.0V174.3H203.96V157.0C203.96 122 179.48 52 179.48 17.0V1.6Z"/>
<path d="M187.14 1.6V17.0C187.14 52 226.3 122 226.3 157.0V174.3H226.4V157.0C226.4 122 187.24 52 187.24 17.0V1.6Z"/>
<path d="M161.21 1.6V17.0C161.21 52 145.51 122 145.51 157.0V174.3H145.62V157.0C145.62 122 161.31 52 161.31 17.0V1.6Z"/>
<path d="M137.83 1.6V17.0C137.83 52 72.28 122 72.28 157.0V174.3H72.38V157.0C72.38 122 137.93 52 137.93 17.0V1.6Z"/>
<path d="M178.36 1.6V17.0C178.36 52 200.39 122 200.39 157.0V174.3H200.49V157.0C200.49 122 178.46 52 178.46 17.0V1.6Z"/>
<path d="M147.83 1.6V17.0C147.83 52 103.49 122 103.49 157.0V174.3H103.59V157.0C103.59 122 147.93 52 147.93 17.0V1.6Z"/>
<path d="M154.98 1.6V17.0C154.98 52 124.3 122 124.3 157.0V174.3H124.4V157.0C124.4 122 155.08 52 155.08 17.0V1.6Z"/>
<path d="M150.08 1.6V17.0C150.08 52 111.24 122 111.24 157.0V174.3H111.34V157.0C111.34 122 150.18 52 150.18 17.0V1.6Z"/>
<path d="M160.29 1.6V17.0C160.29 52 143.98 122 143.98 157.0V174.3H144.09V157.0C144.09 122 160.39 52 160.39 17.0V1.6Z"/>
<path d="M144.36 1.6V17.0C144.36 52 92.88 122 92.88 157.0V174.3H92.98V157.0C92.98 122 144.46 52 144.46 17.0V1.6Z"/>
<path d="M148.14 1.6V17.0C148.14 52 104.1 122 104.1 157.0V174.3H104.2V157.0C104.2 122 148.24 52 148.24 17.0V1.6Z"/>
<path d="M168.25 1.6V17.0C168.25 52 168.67 122 168.67 157.0V174.3H168.77V157.0C168.77 122 168.35 52 168.35 17.0V1.6Z"/>
<path d="M135.68 1.6V17.0C135.68 52 66.67 122 66.67 157.0V174.3H66.77V157.0C66.77 122 135.79 52 135.79 17.0V1.6Z"/>
<path d="M154.57 1.6V17.0C154.57 52 122.97 122 122.97 157.0V174.3H123.07V157.0C123.07 122 154.67 52 154.67 17.0V1.6Z"/>
<path d="M158.24 1.6V17.0C158.24 52 135.72 122 135.72 157.0V174.3H135.82V157.0C135.82 122 158.35 52 158.35 17.0V1.6Z"/>
<path d="M157.33 1.6V17.0C157.33 52 132.15 122 132.15 157.0V174.3H132.25V157.0C132.25 122 157.43 52 157.43 17.0V1.6Z"/>
<path d="M186.93 1.6V17.0C186.93 52 226.09 122 226.09 157.0V174.3H226.2V157.0C226.2 122 187.03 52 187.03 17.0V1.6Z"/>
<path d="M152.12 1.6V17.0C152.12 52 117.57 122 117.57 157.0V174.3H117.67V157.0C117.67 122 152.22 52 152.22 17.0V1.6Z"/>
<path d="M152.63 1.6V17.0C152.63 52 118.69 122 118.69 157.0V174.3H118.79V157.0C118.79 122 152.73 52 152.73 17.0V1.6Z"/>
<path d="M148.34 1.6V17.0C148.34 52 105.02 122 105.02 157.0V174.3H105.12V157.0C105.12 122 148.44 52 148.44 17.0V1.6Z"/>
<path d="M134.36 1.6V17.0C134.36 52 62.08 122 62.08 157.0V174.3H62.18V157.0C62.18 122 134.46 52 134.46 17.0V1.6Z"/>
<path d="M146.1 1.6V17.0C146.1 52 98.9 122 98.9 157.0V174.3H99V157.0C99 122 146.2 52 146.2 17.0V1.6Z"/>
<path d="M138.44 1.6V17.0C138.44 52 73.71 122 73.71 157.0V174.3H73.81V157.0C73.81 122 138.54 52 138.54 17.0V1.6Z"/>
<path d="M143.24 1.6V17.0C143.24 52 88.29 122 88.29 157.0V174.3H88.39V157.0C88.39 122 143.34 52 143.34 17.0V1.6Z"/>
<path d="M155.9 1.6V17.0C155.9 52 126.85 122 126.85 157.0V174.3H126.95V157.0C126.95 122 156 52 156 17.0V1.6Z"/>
<path d="M147.73 1.6V17.0C147.73 52 102.67 122 102.67 157.0V174.3H102.78V157.0C102.78 122 147.83 52 147.83 17.0V1.6Z"/>
<path d="M184.69 1.6V17.0C184.69 52 220.18 122 220.18 157.0V174.3H220.28V157.0C220.28 122 184.79 52 184.79 17.0V1.6Z"/>
<path d="M185.2 1.6V17.0C185.2 52 221.4 122 221.4 157.0V174.3H221.5V157.0C221.5 122 185.3 52 185.3 17.0V1.6Z"/>
<path d="M186.73 1.6V17.0C186.73 52 224.87 122 224.87 157.0V174.3H224.97V157.0C224.97 122 186.83 52 186.83 17.0V1.6Z"/>
<path d="M163.96 1.6V17.0C163.96 52 155.41 122 155.41 157.0V174.3H155.51V157.0C155.51 122 164.06 52 164.06 17.0V1.6Z"/>
<path d="M138.54 1.6V17.0C138.54 52 73.91 122 73.91 157.0V174.3H74.01V157.0C74.01 122 138.64 52 138.64 17.0V1.6Z"/>
<path d="M132.93 1.6V17.0C132.93 52 59.02 122 59.02 157.0V174.3H59.12V157.0C59.12 122 133.03 52 133.03 17.0V1.6Z"/>
<path d="M190.2 1.6V17.0C190.2 52 236.19 122 236.19 157.0V174.3H236.29V157.0C236.29 122 190.3 52 190.3 17.0V1.6Z"/>
<path d="M164.98 1.6V17.0C164.98 52 159.39 122 159.39 157.0V174.3H159.49V157.0C159.49 122 165.08 52 165.08 17.0V1.6Z"/>
<path d="M171.82 1.6V17.0C171.82 52 178.66 122 178.66 157.0V174.3H178.77V157.0C178.77 122 171.92 52 171.92 17.0V1.6Z"/>
<path d="M165.39 1.6V17.0C165.39 52 160.41 122 160.41 157.0V174.3H160.51V157.0C160.51 122 165.49 52 165.49 17.0V1.6Z"/>
<path d="M169.27 1.6V17.0C169.27 52 171.42 122 171.42 157.0V174.3H171.52V157.0C171.52 122 169.37 52 169.37 17.0V1.6Z"/>
<path d="M164.37 1.6V17.0C164.37 52 156.94 122 156.94 157.0V174.3H157.04V157.0C157.04 122 164.47 52 164.47 17.0V1.6Z"/>
<path d="M143.54 1.6V17.0C143.54 52 89.52 122 89.52 157.0V174.3H89.62V157.0C89.62 122 143.65 52 143.65 17.0V1.6Z"/>
<path d="M144.67 1.6V17.0C144.67 52 94 122 94 157.0V174.3H94.11V157.0C94.11 122 144.77 52 144.77 17.0V1.6Z"/>
<path d="M133.03 1.6V17.0C133.03 52 59.12 122 59.12 157.0V174.3H59.22V157.0C59.22 122 133.13 52 133.13 17.0V1.6Z"/>
<path d="M132.42 1.6V17.0C132.42 52 56.16 122 56.16 157.0V174.3H56.26V157.0C56.26 122 132.52 52 132.52 17.0V1.6Z"/>
<path d="M188.05 1.6V17.0C188.05 52 228.85 122 228.85 157.0V174.3H228.95V157.0C228.95 122 188.16 52 188.16 17.0V1.6Z"/>
<path d="M131.7 1.6V17.0C131.7 52 53.82 122 53.82 157.0V174.3H53.92V157.0C53.92 122 131.8 52 131.8 17.0V1.6Z"/>
<path d="M134.15 1.6V17.0C134.15 52 61.77 122 61.77 157.0V174.3H61.87V157.0C61.87 122 134.25 52 134.25 17.0V1.6Z"/>
<path d="M179.48 1.6V17.0C179.48 52 203.96 122 203.96 157.0V174.3H204.06V157.0C204.06 122 179.58 52 179.58 17.0V1.6Z"/>
<path d="M173.25 1.6V17.0C173.25 52 184.78 122 184.78 157.0V174.3H184.89V157.0C184.89 122 173.35 52 173.35 17.0V1.6Z"/>
<path d="M169.47 1.6V17.0C169.47 52 172.03 122 172.03 157.0V174.3H172.14V157.0C172.14 122 169.58 52 169.58 17.0V1.6Z"/>
<path d="M169.07 1.6V17.0C169.07 52 171.01 122 171.01 157.0V174.3H171.12V157.0C171.12 122 169.17 52 169.17 17.0V1.6Z"/>
</g>
<g fill="rgb(50, 208, 186)" fill-opacity="0.62">
<path d="M205.29 1.6V17.0C205.29 52 139.6 122 139.6 157.0V174.3H139.7V157.0C139.7 122 205.4 52 205.4 17.0V1.6Z"/>
<path d="M213.04 1.6V17.0C213.04 52 188.25 122 188.25 157.0V174.3H188.35V157.0C188.35 122 213.15 52 213.15 17.0V1.6Z"/>
<path d="M213.76 1.6V17.0C213.76 52 189.68 122 189.68 157.0V174.3H189.78V157.0C189.78 122 213.86 52 213.86 17.0V1.6Z"/>
<path d="M201.83 1.6V17.0C201.83 52 122.05 122 122.05 157.0V174.3H122.16V157.0C122.16 122 201.93 52 201.93 17.0V1.6Z"/>
<path d="M192.65 1.6V17.0C192.65 52 67.69 122 67.69 157.0V174.3H67.79V157.0C67.79 122 192.75 52 192.75 17.0V1.6Z"/>
<path d="M207.33 1.6V17.0C207.33 52 153.27 122 153.27 157.0V174.3H153.37V157.0C153.37 122 207.43 52 207.43 17.0V1.6Z"/>
<path d="M207.03 1.6V17.0C207.03 52 152.45 122 152.45 157.0V174.3H152.55V157.0C152.55 122 207.13 52 207.13 17.0V1.6Z"/>
<path d="M211.51 1.6V17.0C211.51 52 178.46 122 178.46 157.0V174.3H178.56V157.0C178.56 122 211.62 52 211.62 17.0V1.6Z"/>
<path d="M203.25 1.6V17.0C203.25 52 131.74 122 131.74 157.0V174.3H131.85V157.0C131.85 122 203.36 52 203.36 17.0V1.6Z"/>
<path d="M197.85 1.6V17.0C197.85 52 101.65 122 101.65 157.0V174.3H101.76V157.0C101.76 122 197.95 52 197.95 17.0V1.6Z"/>
<path d="M197.75 1.6V17.0C197.75 52 101.55 122 101.55 157.0V174.3H101.65V157.0C101.65 122 197.85 52 197.85 17.0V1.6Z"/>
<path d="M219.16 1.6V17.0C219.16 52 225.58 122 225.58 157.0V174.3H225.69V157.0C225.69 122 219.27 52 219.27 17.0V1.6Z"/>
<path d="M200.09 1.6V17.0C200.09 52 111.55 122 111.55 157.0V174.3H111.65V157.0C111.65 122 200.19 52 200.19 17.0V1.6Z"/>
<path d="M211.62 1.6V17.0C211.62 52 179.28 122 179.28 157.0V174.3H179.38V157.0C179.38 122 211.72 52 211.72 17.0V1.6Z"/>
<path d="M193.77 1.6V17.0C193.77 52 74.42 122 74.42 157.0V174.3H74.52V157.0C74.52 122 193.87 52 193.87 17.0V1.6Z"/>
<path d="M191.22 1.6V17.0C191.22 52 56.77 122 56.77 157.0V174.3H56.88V157.0C56.88 122 191.32 52 191.32 17.0V1.6Z"/>
<path d="M199.48 1.6V17.0C199.48 52 109.61 122 109.61 157.0V174.3H109.71V157.0C109.71 122 199.58 52 199.58 17.0V1.6Z"/>
<path d="M209.58 1.6V17.0C209.58 52 165.51 122 165.51 157.0V174.3H165.61V157.0C165.61 122 209.68 52 209.68 17.0V1.6Z"/>
<path d="M217.33 1.6V17.0C217.33 52 214.98 122 214.98 157.0V174.3H215.08V157.0C215.08 122 217.43 52 217.43 17.0V1.6Z"/>
<path d="M196.42 1.6V17.0C196.42 52 95.13 122 95.13 157.0V174.3H95.23V157.0C95.23 122 196.52 52 196.52 17.0V1.6Z"/>
<path d="M199.89 1.6V17.0C199.89 52 110.83 122 110.83 157.0V174.3H110.94V157.0C110.94 122 199.99 52 199.99 17.0V1.6Z"/>
<path d="M191.63 1.6V17.0C191.63 52 59.32 122 59.32 157.0V174.3H59.43V157.0C59.43 122 191.73 52 191.73 17.0V1.6Z"/>
<path d="M210.29 1.6V17.0C210.29 52 170.4 122 170.4 157.0V174.3H170.5V157.0C170.5 122 210.39 52 210.39 17.0V1.6Z"/>
<path d="M218.45 1.6V17.0C218.45 52 221.5 122 221.5 157.0V174.3H221.61V157.0C221.61 122 218.55 52 218.55 17.0V1.6Z"/>
<path d="M212.74 1.6V17.0C212.74 52 185.4 122 185.4 157.0V174.3H185.5V157.0C185.5 122 212.84 52 212.84 17.0V1.6Z"/>
<path d="M211.31 1.6V17.0C211.31 52 177.03 122 177.03 157.0V174.3H177.13V157.0C177.13 122 211.41 52 211.41 17.0V1.6Z"/>
<path d="M206.41 1.6V17.0C206.41 52 147.15 122 147.15 157.0V174.3H147.25V157.0C147.25 122 206.52 52 206.52 17.0V1.6Z"/>
<path d="M216.21 1.6V17.0C216.21 52 208.24 122 208.24 157.0V174.3H208.35V157.0C208.35 122 216.31 52 216.31 17.0V1.6Z"/>
<path d="M190.81 1.6V17.0C190.81 52 55.45 122 55.45 157.0V174.3H55.55V157.0C55.55 122 190.91 52 190.91 17.0V1.6Z"/>
<path d="M193.26 1.6V17.0C193.26 52 71.87 122 71.87 157.0V174.3H71.97V157.0C71.97 122 193.36 52 193.36 17.0V1.6Z"/>
<path d="M207.64 1.6V17.0C207.64 52 153.88 122 153.88 157.0V174.3H153.98V157.0C153.98 122 207.74 52 207.74 17.0V1.6Z"/>
<path d="M201.72 1.6V17.0C201.72 52 120.83 122 120.83 157.0V174.3H120.93V157.0C120.93 122 201.83 52 201.83 17.0V1.6Z"/>
<path d="M208.96 1.6V17.0C208.96 52 162.34 122 162.34 157.0V174.3H162.45V157.0C162.45 122 209.07 52 209.07 17.0V1.6Z"/>
<path d="M198.97 1.6V17.0C198.97 52 107.26 122 107.26 157.0V174.3H107.37V157.0C107.37 122 199.07 52 199.07 17.0V1.6Z"/>
<path d="M211.21 1.6V17.0C211.21 52 176.73 122 176.73 157.0V174.3H176.83V157.0C176.83 122 211.31 52 211.31 17.0V1.6Z"/>
<path d="M209.07 1.6V17.0C209.07 52 164.28 122 164.28 157.0V174.3H164.38V157.0C164.38 122 209.17 52 209.17 17.0V1.6Z"/>
<path d="M194.89 1.6V17.0C194.89 52 82.68 122 82.68 157.0V174.3H82.78V157.0C82.78 122 194.99 52 194.99 17.0V1.6Z"/>
<path d="M215.39 1.6V17.0C215.39 52 202.84 122 202.84 157.0V174.3H202.94V157.0C202.94 122 215.49 52 215.49 17.0V1.6Z"/>
<path d="M211.82 1.6V17.0C211.82 52 180.6 122 180.6 157.0V174.3H180.7V157.0C180.7 122 211.92 52 211.92 17.0V1.6Z"/>
<path d="M193.05 1.6V17.0C193.05 52 69.63 122 69.63 157.0V174.3H69.73V157.0C69.73 122 193.16 52 193.16 17.0V1.6Z"/>
<path d="M216.1 1.6V17.0C216.1 52 207.53 122 207.53 157.0V174.3H207.63V157.0C207.63 122 216.21 52 216.21 17.0V1.6Z"/>
<path d="M208.66 1.6V17.0C208.66 52 158.47 122 158.47 157.0V174.3H158.57V157.0C158.57 122 208.76 52 208.76 17.0V1.6Z"/>
<path d="M210.9 1.6V17.0C210.9 52 173.26 122 173.26 157.0V174.3H173.36V157.0C173.36 122 211 52 211 17.0V1.6Z"/>
<path d="M212.13 1.6V17.0C212.13 52 181.42 122 181.42 157.0V174.3H181.52V157.0C181.52 122 212.23 52 212.23 17.0V1.6Z"/>
<path d="M213.15 1.6V17.0C213.15 52 188.66 122 188.66 157.0V174.3H188.76V157.0C188.76 122 213.25 52 213.25 17.0V1.6Z"/>
<path d="M207.23 1.6V17.0C207.23 52 153.16 122 153.16 157.0V174.3H153.27V157.0C153.27 122 207.33 52 207.33 17.0V1.6Z"/>
<path d="M204.68 1.6V17.0C204.68 52 137.05 122 137.05 157.0V174.3H137.15V157.0C137.15 122 204.78 52 204.78 17.0V1.6Z"/>
<path d="M208.25 1.6V17.0C208.25 52 156.02 122 156.02 157.0V174.3H156.12V157.0C156.12 122 208.35 52 208.35 17.0V1.6Z"/>
<path d="M194.79 1.6V17.0C194.79 52 82.27 122 82.27 157.0V174.3H82.38V157.0C82.38 122 194.89 52 194.89 17.0V1.6Z"/>
<path d="M208.35 1.6V17.0C208.35 52 156.84 122 156.84 157.0V174.3H156.94V157.0C156.94 122 208.45 52 208.45 17.0V1.6Z"/>
<path d="M206.01 1.6V17.0C206.01 52 145.21 122 145.21 157.0V174.3H145.31V157.0C145.31 122 206.11 52 206.11 17.0V1.6Z"/>
<path d="M191.73 1.6V17.0C191.73 52 59.43 122 59.43 157.0V174.3H59.53V157.0C59.53 122 191.83 52 191.83 17.0V1.6Z"/>
<path d="M193.56 1.6V17.0C193.56 52 74.11 122 74.11 157.0V174.3H74.22V157.0C74.22 122 193.67 52 193.67 17.0V1.6Z"/>
<path d="M196.32 1.6V17.0C196.32 52 94.51 122 94.51 157.0V174.3H94.62V157.0C94.62 122 196.42 52 196.42 17.0V1.6Z"/>
<path d="M200.81 1.6V17.0C200.81 52 114.91 122 114.91 157.0V174.3H115.02V157.0C115.02 122 200.91 52 200.91 17.0V1.6Z"/>
<path d="M208.76 1.6V17.0C208.76 52 158.77 122 158.77 157.0V174.3H158.88V157.0C158.88 122 208.86 52 208.86 17.0V1.6Z"/>
<path d="M192.75 1.6V17.0C192.75 52 68.2 122 68.2 157.0V174.3H68.3V157.0C68.3 122 192.85 52 192.85 17.0V1.6Z"/>
<path d="M213.96 1.6V17.0C213.96 52 191.11 122 191.11 157.0V174.3H191.21V157.0C191.21 122 214.06 52 214.06 17.0V1.6Z"/>
<path d="M203.46 1.6V17.0C203.46 52 132.36 122 132.36 157.0V174.3H132.46V157.0C132.46 122 203.56 52 203.56 17.0V1.6Z"/>
<path d="M203.36 1.6V17.0C203.36 52 131.85 122 131.85 157.0V174.3H131.95V157.0C131.95 122 203.46 52 203.46 17.0V1.6Z"/>
<path d="M193.46 1.6V17.0C193.46 52 72.48 122 72.48 157.0V174.3H72.58V157.0C72.58 122 193.56 52 193.56 17.0V1.6Z"/>
<path d="M195.91 1.6V17.0C195.91 52 90.54 122 90.54 157.0V174.3H90.64V157.0C90.64 122 196.01 52 196.01 17.0V1.6Z"/>
<path d="M212.33 1.6V17.0C212.33 52 182.85 122 182.85 157.0V174.3H182.95V157.0C182.95 122 212.43 52 212.43 17.0V1.6Z"/>
<path d="M220.59 1.6V17.0C220.59 52 235.68 122 235.68 157.0V174.3H235.78V157.0C235.78 122 220.69 52 220.69 17.0V1.6Z"/>
<path d="M199.79 1.6V17.0C199.79 52 110.43 122 110.43 157.0V174.3H110.53V157.0C110.53 122 199.89 52 199.89 17.0V1.6Z"/>
<path d="M192.54 1.6V17.0C192.54 52 67.28 122 67.28 157.0V174.3H67.38V157.0C67.38 122 192.65 52 192.65 17.0V1.6Z"/>
<path d="M190.3 1.6V17.0C190.3 52 53.31 122 53.31 157.0V174.3H53.41V157.0C53.41 122 190.4 52 190.4 17.0V1.6Z"/>
<path d="M218.14 1.6V17.0C218.14 52 220.28 122 220.28 157.0V174.3H220.38V157.0C220.38 122 218.25 52 218.25 17.0V1.6Z"/>
<path d="M218.76 1.6V17.0C218.76 52 222.93 122 222.93 157.0V174.3H223.03V157.0C223.03 122 218.86 52 218.86 17.0V1.6Z"/>
<path d="M196.83 1.6V17.0C196.83 52 96.55 122 96.55 157.0V174.3H96.66V157.0C96.66 122 196.93 52 196.93 17.0V1.6Z"/>
<path d="M203.56 1.6V17.0C203.56 52 132.87 122 132.87 157.0V174.3H132.97V157.0C132.97 122 203.66 52 203.66 17.0V1.6Z"/>
<path d="M190.4 1.6V17.0C190.4 52 53.71 122 53.71 157.0V174.3H53.82V157.0C53.82 122 190.5 52 190.5 17.0V1.6Z"/>
<path d="M213.45 1.6V17.0C213.45 52 189.37 122 189.37 157.0V174.3H189.48V157.0C189.48 122 213.55 52 213.55 17.0V1.6Z"/>
<path d="M212.53 1.6V17.0C212.53 52 183.56 122 183.56 157.0V174.3H183.66V157.0C183.66 122 212.64 52 212.64 17.0V1.6Z"/>
<path d="M202.23 1.6V17.0C202.23 52 124.09 122 124.09 157.0V174.3H124.2V157.0C124.2 122 202.34 52 202.34 17.0V1.6Z"/>
<path d="M205.4 1.6V17.0C205.4 52 140.41 122 140.41 157.0V174.3H140.52V157.0C140.52 122 205.5 52 205.5 17.0V1.6Z"/>
<path d="M217.63 1.6V17.0C217.63 52 216.2 122 216.2 157.0V174.3H216.3V157.0C216.3 122 217.74 52 217.74 17.0V1.6Z"/>
<path d="M211.11 1.6V17.0C211.11 52 176.32 122 176.32 157.0V174.3H176.42V157.0C176.42 122 211.21 52 211.21 17.0V1.6Z"/>
<path d="M208.05 1.6V17.0C208.05 52 154.8 122 154.8 157.0V174.3H154.9V157.0C154.9 122 208.15 52 208.15 17.0V1.6Z"/>
<path d="M191.12 1.6V17.0C191.12 52 56.67 122 56.67 157.0V174.3H56.77V157.0C56.77 122 191.22 52 191.22 17.0V1.6Z"/>
<path d="M198.26 1.6V17.0C198.26 52 103.39 122 103.39 157.0V174.3H103.49V157.0C103.49 122 198.36 52 198.36 17.0V1.6Z"/>
<path d="M194.99 1.6V17.0C194.99 52 83.19 122 83.19 157.0V174.3H83.29V157.0C83.29 122 195.09 52 195.09 17.0V1.6Z"/>
<path d="M209.98 1.6V17.0C209.98 52 169.48 122 169.48 157.0V174.3H169.59V157.0C169.59 122 210.09 52 210.09 17.0V1.6Z"/>
<path d="M216.61 1.6V17.0C216.61 52 210.69 122 210.69 157.0V174.3H210.79V157.0C210.79 122 216.72 52 216.72 17.0V1.6Z"/>
<path d="M210.6 1.6V17.0C210.6 52 172.34 122 172.34 157.0V174.3H172.44V157.0C172.44 122 210.7 52 210.7 17.0V1.6Z"/>
<path d="M210.09 1.6V17.0C210.09 52 169.59 122 169.59 157.0V174.3H169.69V157.0C169.69 122 210.19 52 210.19 17.0V1.6Z"/>
<path d="M198.56 1.6V17.0C198.56 52 104.51 122 104.51 157.0V174.3H104.61V157.0C104.61 122 198.66 52 198.66 17.0V1.6Z"/>
<path d="M203.15 1.6V17.0C203.15 52 130.42 122 130.42 157.0V174.3H130.52V157.0C130.52 122 203.25 52 203.25 17.0V1.6Z"/>
<path d="M195.3 1.6V17.0C195.3 52 84.93 122 84.93 157.0V174.3H85.03V157.0C85.03 122 195.4 52 195.4 17.0V1.6Z"/>
<path d="M192.14 1.6V17.0C192.14 52 63.71 122 63.71 157.0V174.3H63.81V157.0C63.81 122 192.24 52 192.24 17.0V1.6Z"/>
<path d="M219.67 1.6V17.0C219.67 52 230.89 122 230.89 157.0V174.3H230.99V157.0C230.99 122 219.78 52 219.78 17.0V1.6Z"/>
<path d="M212.43 1.6V17.0C212.43 52 183.46 122 183.46 157.0V174.3H183.56V157.0C183.56 122 212.53 52 212.53 17.0V1.6Z"/>
<path d="M201.32 1.6V17.0C201.32 52 119.3 122 119.3 157.0V174.3H119.4V157.0C119.4 122 201.42 52 201.42 17.0V1.6Z"/>
<path d="M214.68 1.6V17.0C214.68 52 198.76 122 198.76 157.0V174.3H198.86V157.0C198.86 122 214.78 52 214.78 17.0V1.6Z"/>
<path d="M200.7 1.6V17.0C200.7 52 114.3 122 114.3 157.0V174.3H114.4V157.0C114.4 122 200.81 52 200.81 17.0V1.6Z"/>
<path d="M206.92 1.6V17.0C206.92 52 152.14 122 152.14 157.0V174.3H152.25V157.0C152.25 122 207.03 52 207.03 17.0V1.6Z"/>
<path d="M210.8 1.6V17.0C210.8 52 172.75 122 172.75 157.0V174.3H172.85V157.0C172.85 122 210.9 52 210.9 17.0V1.6Z"/>
<path d="M198.05 1.6V17.0C198.05 52 102.37 122 102.37 157.0V174.3H102.47V157.0C102.47 122 198.15 52 198.15 17.0V1.6Z"/>
<path d="M200.5 1.6V17.0C200.5 52 113.28 122 113.28 157.0V174.3H113.38V157.0C113.38 122 200.6 52 200.6 17.0V1.6Z"/>
<path d="M216.41 1.6V17.0C216.41 52 209.16 122 209.16 157.0V174.3H209.26V157.0C209.26 122 216.51 52 216.51 17.0V1.6Z"/>
<path d="M211 1.6V17.0C211 52 175.81 122 175.81 157.0V174.3H175.91V157.0C175.91 122 211.11 52 211.11 17.0V1.6Z"/>
<path d="M209.68 1.6V17.0C209.68 52 165.81 122 165.81 157.0V174.3H165.91V157.0C165.91 122 209.78 52 209.78 17.0V1.6Z"/>
<path d="M214.98 1.6V17.0C214.98 52 200.08 122 200.08 157.0V174.3H200.19V157.0C200.19 122 215.08 52 215.08 17.0V1.6Z"/>
<path d="M219.98 1.6V17.0C219.98 52 232.93 122 232.93 157.0V174.3H233.03V157.0C233.03 122 220.08 52 220.08 17.0V1.6Z"/>
<path d="M217.53 1.6V17.0C217.53 52 215.59 122 215.59 157.0V174.3H215.69V157.0C215.69 122 217.63 52 217.63 17.0V1.6Z"/>
<path d="M211.92 1.6V17.0C211.92 52 180.91 122 180.91 157.0V174.3H181.01V157.0C181.01 122 212.02 52 212.02 17.0V1.6Z"/>
<path d="M195.5 1.6V17.0C195.5 52 86.15 122 86.15 157.0V174.3H86.25V157.0C86.25 122 195.6 52 195.6 17.0V1.6Z"/>
<path d="M220.8 1.6V17.0C220.8 52 235.89 122 235.89 157.0V174.3H235.99V157.0C235.99 122 220.9 52 220.9 17.0V1.6Z"/>
<path d="M199.68 1.6V17.0C199.68 52 110.22 122 110.22 157.0V174.3H110.32V157.0C110.32 122 199.79 52 199.79 17.0V1.6Z"/>
<path d="M220.49 1.6V17.0C220.49 52 235.38 122 235.38 157.0V174.3H235.48V157.0C235.48 122 220.59 52 220.59 17.0V1.6Z"/>
<path d="M190.61 1.6V17.0C190.61 52 54.02 122 54.02 157.0V174.3H54.12V157.0C54.12 122 190.71 52 190.71 17.0V1.6Z"/>
<path d="M209.37 1.6V17.0C209.37 52 164.79 122 164.79 157.0V174.3H164.89V157.0C164.89 122 209.47 52 209.47 17.0V1.6Z"/>
<path d="M216.31 1.6V17.0C216.31 52 208.55 122 208.55 157.0V174.3H208.65V157.0C208.65 122 216.41 52 216.41 17.0V1.6Z"/>
<path d="M203.05 1.6V17.0C203.05 52 130.21 122 130.21 157.0V174.3H130.32V157.0C130.32 122 203.15 52 203.15 17.0V1.6Z"/>
<path d="M211.72 1.6V17.0C211.72 52 180.4 122 180.4 157.0V174.3H180.5V157.0C180.5 122 211.82 52 211.82 17.0V1.6Z"/>
<path d="M217.23 1.6V17.0C217.23 52 214.57 122 214.57 157.0V174.3H214.67V157.0C214.67 122 217.33 52 217.33 17.0V1.6Z"/>
<path d="M207.94 1.6V17.0C207.94 52 154.29 122 154.29 157.0V174.3H154.39V157.0C154.39 122 208.05 52 208.05 17.0V1.6Z"/>
<path d="M218.25 1.6V17.0C218.25 52 220.59 122 220.59 157.0V174.3H220.69V157.0C220.69 122 218.35 52 218.35 17.0V1.6Z"/>
<path d="M206.52 1.6V17.0C206.52 52 147.96 122 147.96 157.0V174.3H148.06V157.0C148.06 122 206.62 52 206.62 17.0V1.6Z"/>
<path d="M213.35 1.6V17.0C213.35 52 189.17 122 189.17 157.0V174.3H189.27V157.0C189.27 122 213.45 52 213.45 17.0V1.6Z"/>
<path d="M197.34 1.6V17.0C197.34 52 98.39 122 98.39 157.0V174.3H98.49V157.0C98.49 122 197.44 52 197.44 17.0V1.6Z"/>
<path d="M211.41 1.6V17.0C211.41 52 177.95 122 177.95 157.0V174.3H178.05V157.0C178.05 122 211.51 52 211.51 17.0V1.6Z"/>
<path d="M203.87 1.6V17.0C203.87 52 134.6 122 134.6 157.0V174.3H134.7V157.0C134.7 122 203.97 52 203.97 17.0V1.6Z"/>
<path d="M218.55 1.6V17.0C218.55 52 222.12 122 222.12 157.0V174.3H222.22V157.0C222.22 122 218.65 52 218.65 17.0V1.6Z"/>
<path d="M219.27 1.6V17.0C219.27 52 226.4 122 226.4 157.0V174.3H226.5V157.0C226.5 122 219.37 52 219.37 17.0V1.6Z"/>
<path d="M214.47 1.6V17.0C214.47 52 196 122 196 157.0V174.3H196.11V157.0C196.11 122 214.57 52 214.57 17.0V1.6Z"/>
<path d="M219.37 1.6V17.0C219.37 52 226.71 122 226.71 157.0V174.3H226.81V157.0C226.81 122 219.47 52 219.47 17.0V1.6Z"/>
<path d="M200.4 1.6V17.0C200.4 52 112.47 122 112.47 157.0V174.3H112.57V157.0C112.57 122 200.5 52 200.5 17.0V1.6Z"/>
<path d="M193.67 1.6V17.0C193.67 52 74.22 122 74.22 157.0V174.3H74.32V157.0C74.32 122 193.77 52 193.77 17.0V1.6Z"/>
<path d="M203.76 1.6V17.0C203.76 52 134.09 122 134.09 157.0V174.3H134.19V157.0C134.19 122 203.87 52 203.87 17.0V1.6Z"/>
<path d="M220.08 1.6V17.0C220.08 52 233.13 122 233.13 157.0V174.3H233.23V157.0C233.23 122 220.18 52 220.18 17.0V1.6Z"/>
<path d="M196.52 1.6V17.0C196.52 52 95.74 122 95.74 157.0V174.3H95.84V157.0C95.84 122 196.62 52 196.62 17.0V1.6Z"/>
<path d="M203.97 1.6V17.0C203.97 52 134.7 122 134.7 157.0V174.3H134.8V157.0C134.8 122 204.07 52 204.07 17.0V1.6Z"/>
<path d="M201.52 1.6V17.0C201.52 52 120.32 122 120.32 157.0V174.3H120.42V157.0C120.42 122 201.62 52 201.62 17.0V1.6Z"/>
<path d="M201.42 1.6V17.0C201.42 52 119.4 122 119.4 157.0V174.3H119.5V157.0C119.5 122 201.52 52 201.52 17.0V1.6Z"/>
<path d="M190.91 1.6V17.0C190.91 52 55.96 122 55.96 157.0V174.3H56.06V157.0C56.06 122 191.01 52 191.01 17.0V1.6Z"/>
<path d="M209.17 1.6V17.0C209.17 52 164.38 122 164.38 157.0V174.3H164.49V157.0C164.49 122 209.27 52 209.27 17.0V1.6Z"/>
<path d="M199.58 1.6V17.0C199.58 52 109.71 122 109.71 157.0V174.3H109.81V157.0C109.81 122 199.68 52 199.68 17.0V1.6Z"/>
<path d="M191.52 1.6V17.0C191.52 52 59.22 122 59.22 157.0V174.3H59.32V157.0C59.32 122 191.63 52 191.63 17.0V1.6Z"/>
<path d="M205.6 1.6V17.0C205.6 52 142.05 122 142.05 157.0V174.3H142.15V157.0C142.15 122 205.7 52 205.7 17.0V1.6Z"/>
<path d="M192.85 1.6V17.0C192.85 52 68.71 122 68.71 157.0V174.3H68.81V157.0C68.81 122 192.95 52 192.95 17.0V1.6Z"/>
<path d="M190.5 1.6V17.0C190.5 52 53.92 122 53.92 157.0V174.3H54.02V157.0C54.02 122 190.61 52 190.61 17.0V1.6Z"/>
<path d="M205.7 1.6V17.0C205.7 52 142.35 122 142.35 157.0V174.3H142.45V157.0C142.45 122 205.8 52 205.8 17.0V1.6Z"/>
<path d="M191.01 1.6V17.0C191.01 52 56.26 122 56.26 157.0V174.3H56.37V157.0C56.37 122 191.12 52 191.12 17.0V1.6Z"/>
<path d="M199.99 1.6V17.0C199.99 52 110.94 122 110.94 157.0V174.3H111.04V157.0C111.04 122 200.09 52 200.09 17.0V1.6Z"/>
<path d="M192.95 1.6V17.0C192.95 52 69.22 122 69.22 157.0V174.3H69.32V157.0C69.32 122 193.05 52 193.05 17.0V1.6Z"/>
<path d="M215.29 1.6V17.0C215.29 52 202.53 122 202.53 157.0V174.3H202.63V157.0C202.63 122 215.39 52 215.39 17.0V1.6Z"/>
<path d="M202.85 1.6V17.0C202.85 52 128.58 122 128.58 157.0V174.3H128.68V157.0C128.68 122 202.95 52 202.95 17.0V1.6Z"/>
<path d="M202.64 1.6V17.0C202.64 52 127.15 122 127.15 157.0V174.3H127.26V157.0C127.26 122 202.74 52 202.74 17.0V1.6Z"/>
<path d="M195.4 1.6V17.0C195.4 52 85.64 122 85.64 157.0V174.3H85.74V157.0C85.74 122 195.5 52 195.5 17.0V1.6Z"/>
<path d="M212.94 1.6V17.0C212.94 52 187.44 122 187.44 157.0V174.3H187.54V157.0C187.54 122 213.04 52 213.04 17.0V1.6Z"/>
<path d="M210.7 1.6V17.0C210.7 52 172.44 122 172.44 157.0V174.3H172.54V157.0C172.54 122 210.8 52 210.8 17.0V1.6Z"/>
<path d="M206.82 1.6V17.0C206.82 52 149.7 122 149.7 157.0V174.3H149.8V157.0C149.8 122 206.92 52 206.92 17.0V1.6Z"/>
<path d="M201.21 1.6V17.0C201.21 52 116.65 122 116.65 157.0V174.3H116.75V157.0C116.75 122 201.32 52 201.32 17.0V1.6Z"/>
<path d="M219.06 1.6V17.0C219.06 52 224.97 122 224.97 157.0V174.3H225.07V157.0C225.07 122 219.16 52 219.16 17.0V1.6Z"/>
<path d="M220.18 1.6V17.0C220.18 52 233.85 122 233.85 157.0V174.3H233.95V157.0C233.95 122 220.29 52 220.29 17.0V1.6Z"/>
<path d="M193.87 1.6V17.0C193.87 52 75.13 122 75.13 157.0V174.3H75.24V157.0C75.24 122 193.97 52 193.97 17.0V1.6Z"/>
<path d="M218.65 1.6V17.0C218.65 52 222.83 122 222.83 157.0V174.3H222.93V157.0C222.93 122 218.76 52 218.76 17.0V1.6Z"/>
<path d="M220.29 1.6V17.0C220.29 52 234.15 122 234.15 157.0V174.3H234.25V157.0C234.25 122 220.39 52 220.39 17.0V1.6Z"/>
<path d="M192.03 1.6V17.0C192.03 52 63.3 122 63.3 157.0V174.3H63.4V157.0C63.4 122 192.14 52 192.14 17.0V1.6Z"/>
<path d="M201.62 1.6V17.0C201.62 52 120.63 122 120.63 157.0V174.3H120.73V157.0C120.73 122 201.72 52 201.72 17.0V1.6Z"/>
<path d="M198.66 1.6V17.0C198.66 52 105.33 122 105.33 157.0V174.3H105.43V157.0C105.43 122 198.77 52 198.77 17.0V1.6Z"/>
<path d="M219.78 1.6V17.0C219.78 52 231.3 122 231.3 157.0V174.3H231.4V157.0C231.4 122 219.88 52 219.88 17.0V1.6Z"/>
<path d="M194.38 1.6V17.0C194.38 52 80.95 122 80.95 157.0V174.3H81.05V157.0C81.05 122 194.48 52 194.48 17.0V1.6Z"/>
<path d="M194.69 1.6V17.0C194.69 52 81.76 122 81.76 157.0V174.3H81.87V157.0C81.87 122 194.79 52 194.79 17.0V1.6Z"/>
<path d="M206.31 1.6V17.0C206.31 52 146.84 122 146.84 157.0V174.3H146.94V157.0C146.94 122 206.41 52 206.41 17.0V1.6Z"/>
<path d="M214.17 1.6V17.0C214.17 52 193.86 122 193.86 157.0V174.3H193.96V157.0C193.96 122 214.27 52 214.27 17.0V1.6Z"/>
<path d="M195.81 1.6V17.0C195.81 52 90.23 122 90.23 157.0V174.3H90.33V157.0C90.33 122 195.91 52 195.91 17.0V1.6Z"/>
<path d="M213.66 1.6V17.0C213.66 52 189.58 122 189.58 157.0V174.3H189.68V157.0C189.68 122 213.76 52 213.76 17.0V1.6Z"/>
<path d="M196.62 1.6V17.0C196.62 52 95.84 122 95.84 157.0V174.3H95.94V157.0C95.94 122 196.73 52 196.73 17.0V1.6Z"/>
<path d="M195.09 1.6V17.0C195.09 52 84.42 122 84.42 157.0V174.3H84.52V157.0C84.52 122 195.2 52 195.2 17.0V1.6Z"/>
<path d="M207.54 1.6V17.0C207.54 52 153.57 122 153.57 157.0V174.3H153.67V157.0C153.67 122 207.64 52 207.64 17.0V1.6Z"/>
<path d="M198.36 1.6V17.0C198.36 52 104.2 122 104.2 157.0V174.3H104.31V157.0C104.31 122 198.46 52 198.46 17.0V1.6Z"/>
<path d="M210.19 1.6V17.0C210.19 52 169.99 122 169.99 157.0V174.3H170.1V157.0C170.1 122 210.29 52 210.29 17.0V1.6Z"/>
<path d="M214.57 1.6V17.0C214.57 52 196.92 122 196.92 157.0V174.3H197.02V157.0C197.02 122 214.68 52 214.68 17.0V1.6Z"/>
<path d="M216.92 1.6V17.0C216.92 52 212.02 122 212.02 157.0V174.3H212.12V157.0C212.12 122 217.02 52 217.02 17.0V1.6Z"/>
<path d="M206.72 1.6V17.0C206.72 52 148.88 122 148.88 157.0V174.3H148.98V157.0C148.98 122 206.82 52 206.82 17.0V1.6Z"/>
<path d="M207.74 1.6V17.0C207.74 52 153.98 122 153.98 157.0V174.3H154.08V157.0C154.08 122 207.84 52 207.84 17.0V1.6Z"/>
<path d="M196.93 1.6V17.0C196.93 52 97.06 122 97.06 157.0V174.3H97.17V157.0C97.17 122 197.03 52 197.03 17.0V1.6Z"/>
<path d="M209.88 1.6V17.0C209.88 52 168.97 122 168.97 157.0V174.3H169.08V157.0C169.08 122 209.98 52 209.98 17.0V1.6Z"/>
<path d="M216.82 1.6V17.0C216.82 52 211.92 122 211.92 157.0V174.3H212.02V157.0C212.02 122 216.92 52 216.92 17.0V1.6Z"/>
<path d="M197.64 1.6V17.0C197.64 52 100.84 122 100.84 157.0V174.3H100.94V157.0C100.94 122 197.75 52 197.75 17.0V1.6Z"/>
<path d="M204.07 1.6V17.0C204.07 52 135.11 122 135.11 157.0V174.3H135.21V157.0C135.21 122 204.17 52 204.17 17.0V1.6Z"/>
<path d="M217.74 1.6V17.0C217.74 52 217.22 122 217.22 157.0V174.3H217.32V157.0C217.32 122 217.84 52 217.84 17.0V1.6Z"/>
<path d="M208.45 1.6V17.0C208.45 52 157.75 122 157.75 157.0V174.3H157.86V157.0C157.86 122 208.56 52 208.56 17.0V1.6Z"/>
<path d="M195.2 1.6V17.0C195.2 52 84.52 122 84.52 157.0V174.3H84.62V157.0C84.62 122 195.3 52 195.3 17.0V1.6Z"/>
<path d="M191.32 1.6V17.0C191.32 52 58.1 122 58.1 157.0V174.3H58.2V157.0C58.2 122 191.42 52 191.42 17.0V1.6Z"/>
<path d="M206.11 1.6V17.0C206.11 52 145.72 122 145.72 157.0V174.3H145.82V157.0C145.82 122 206.21 52 206.21 17.0V1.6Z"/>
<path d="M209.47 1.6V17.0C209.47 52 165.4 122 165.4 157.0V174.3H165.51V157.0C165.51 122 209.58 52 209.58 17.0V1.6Z"/>
<path d="M215.9 1.6V17.0C215.9 52 206.2 122 206.2 157.0V174.3H206.31V157.0C206.31 122 216 52 216 17.0V1.6Z"/>
<path d="M206.21 1.6V17.0C206.21 52 146.23 122 146.23 157.0V174.3H146.33V157.0C146.33 122 206.31 52 206.31 17.0V1.6Z"/>
<path d="M217.43 1.6V17.0C217.43 52 215.08 122 215.08 157.0V174.3H215.18V157.0C215.18 122 217.53 52 217.53 17.0V1.6Z"/>
<path d="M194.48 1.6V17.0C194.48 52 81.25 122 81.25 157.0V174.3H81.36V157.0C81.36 122 194.58 52 194.58 17.0V1.6Z"/>
<path d="M200.91 1.6V17.0C200.91 52 115.63 122 115.63 157.0V174.3H115.73V157.0C115.73 122 201.01 52 201.01 17.0V1.6Z"/>
<path d="M197.13 1.6V17.0C197.13 52 97.47 122 97.47 157.0V174.3H97.57V157.0C97.57 122 197.24 52 197.24 17.0V1.6Z"/>
<path d="M215.7 1.6V17.0C215.7 52 203.45 122 203.45 157.0V174.3H203.55V157.0C203.55 122 215.8 52 215.8 17.0V1.6Z"/>
<path d="M192.24 1.6V17.0C192.24 52 64.93 122 64.93 157.0V174.3H65.04V157.0C65.04 122 192.34 52 192.34 17.0V1.6Z"/>
<path d="M193.36 1.6V17.0C193.36 52 72.38 122 72.38 157.0V174.3H72.48V157.0C72.48 122 193.46 52 193.46 17.0V1.6Z"/>
<path d="M219.57 1.6V17.0C219.57 52 230.58 122 230.58 157.0V174.3H230.68V157.0C230.68 122 219.67 52 219.67 17.0V1.6Z"/>
<path d="M216.72 1.6V17.0C216.72 52 211.2 122 211.2 157.0V174.3H211.3V157.0C211.3 122 216.82 52 216.82 17.0V1.6Z"/>
<path d="M215.59 1.6V17.0C215.59 52 203.25 122 203.25 157.0V174.3H203.35V157.0C203.35 122 215.7 52 215.7 17.0V1.6Z"/>
<path d="M196.01 1.6V17.0C196.01 52 90.64 122 90.64 157.0V174.3H90.74V157.0C90.74 122 196.11 52 196.11 17.0V1.6Z"/>
<path d="M217.94 1.6V17.0C217.94 52 217.63 122 217.63 157.0V174.3H217.73V157.0C217.73 122 218.04 52 218.04 17.0V1.6Z"/>
<path d="M220.39 1.6V17.0C220.39 52 235.17 122 235.17 157.0V174.3H235.27V157.0C235.27 122 220.49 52 220.49 17.0V1.6Z"/>
<path d="M197.54 1.6V17.0C197.54 52 99.41 122 99.41 157.0V174.3H99.51V157.0C99.51 122 197.64 52 197.64 17.0V1.6Z"/>
<path d="M191.42 1.6V17.0C191.42 52 58.81 122 58.81 157.0V174.3H58.92V157.0C58.92 122 191.52 52 191.52 17.0V1.6Z"/>
<path d="M207.43 1.6V17.0C207.43 52 153.37 122 153.37 157.0V174.3H153.47V157.0C153.47 122 207.54 52 207.54 17.0V1.6Z"/>
<path d="M212.23 1.6V17.0C212.23 52 182.13 122 182.13 157.0V174.3H182.23V157.0C182.23 122 212.33 52 212.33 17.0V1.6Z"/>
<path d="M220.9 1.6V17.0C220.9 52 236.4 122 236.4 157.0V174.3H236.5V157.0C236.5 122 221 52 221 17.0V1.6Z"/>
<path d="M201.93 1.6V17.0C201.93 52 122.16 122 122.16 157.0V174.3H122.26V157.0C122.26 122 202.03 52 202.03 17.0V1.6Z"/>
<path d="M193.16 1.6V17.0C193.16 52 69.93 122 69.93 157.0V174.3H70.03V157.0C70.03 122 193.26 52 193.26 17.0V1.6Z"/>
<path d="M204.48 1.6V17.0C204.48 52 136.74 122 136.74 157.0V174.3H136.84V157.0C136.84 122 204.58 52 204.58 17.0V1.6Z"/>
<path d="M214.37 1.6V17.0C214.37 52 195.7 122 195.7 157.0V174.3H195.8V157.0C195.8 122 214.47 52 214.47 17.0V1.6Z"/>
<path d="M213.55 1.6V17.0C213.55 52 189.48 122 189.48 157.0V174.3H189.58V157.0C189.58 122 213.66 52 213.66 17.0V1.6Z"/>
<path d="M202.13 1.6V17.0C202.13 52 123.69 122 123.69 157.0V174.3H123.79V157.0C123.79 122 202.23 52 202.23 17.0V1.6Z"/>
<path d="M218.04 1.6V17.0C218.04 52 220.08 122 220.08 157.0V174.3H220.18V157.0C220.18 122 218.14 52 218.14 17.0V1.6Z"/>
<path d="M218.35 1.6V17.0C218.35 52 220.69 122 220.69 157.0V174.3H220.79V157.0C220.79 122 218.45 52 218.45 17.0V1.6Z"/>
<path d="M197.44 1.6V17.0C197.44 52 98.59 122 98.59 157.0V174.3H98.7V157.0C98.7 122 197.54 52 197.54 17.0V1.6Z"/>
<path d="M207.13 1.6V17.0C207.13 52 153.06 122 153.06 157.0V174.3H153.16V157.0C153.16 122 207.23 52 207.23 17.0V1.6Z"/>
<path d="M204.58 1.6V17.0C204.58 52 136.84 122 136.84 157.0V174.3H136.95V157.0C136.95 122 204.68 52 204.68 17.0V1.6Z"/>
<path d="M198.15 1.6V17.0C198.15 52 102.98 122 102.98 157.0V174.3H103.08V157.0C103.08 122 198.26 52 198.26 17.0V1.6Z"/>
<path d="M198.87 1.6V17.0C198.87 52 105.94 122 105.94 157.0V174.3H106.04V157.0C106.04 122 198.97 52 198.97 17.0V1.6Z"/>
<path d="M202.95 1.6V17.0C202.95 52 129.91 122 129.91 157.0V174.3H130.01V157.0C130.01 122 203.05 52 203.05 17.0V1.6Z"/>
<path d="M212.84 1.6V17.0C212.84 52 186.21 122 186.21 157.0V174.3H186.31V157.0C186.31 122 212.94 52 212.94 17.0V1.6Z"/>
<path d="M204.27 1.6V17.0C204.27 52 135.52 122 135.52 157.0V174.3H135.62V157.0C135.62 122 204.38 52 204.38 17.0V1.6Z"/>
<path d="M202.74 1.6V17.0C202.74 52 127.97 122 127.97 157.0V174.3H128.07V157.0C128.07 122 202.85 52 202.85 17.0V1.6Z"/>
<path d="M208.15 1.6V17.0C208.15 52 155.1 122 155.1 157.0V174.3H155.2V157.0C155.2 122 208.25 52 208.25 17.0V1.6Z"/>
<path d="M210.49 1.6V17.0C210.49 52 171.83 122 171.83 157.0V174.3H171.93V157.0C171.93 122 210.6 52 210.6 17.0V1.6Z"/>
<path d="M195.6 1.6V17.0C195.6 52 86.66 122 86.66 157.0V174.3H86.76V157.0C86.76 122 195.71 52 195.71 17.0V1.6Z"/>
<path d="M196.22 1.6V17.0C196.22 52 94.11 122 94.11 157.0V174.3H94.21V157.0C94.21 122 196.32 52 196.32 17.0V1.6Z"/>
<path d="M215.19 1.6V17.0C215.19 52 202.02 122 202.02 157.0V174.3H202.12V157.0C202.12 122 215.29 52 215.29 17.0V1.6Z"/>
<path d="M196.73 1.6V17.0C196.73 52 96.04 122 96.04 157.0V174.3H96.15V157.0C96.15 122 196.83 52 196.83 17.0V1.6Z"/>
<path d="M214.27 1.6V17.0C214.27 52 194.37 122 194.37 157.0V174.3H194.47V157.0C194.47 122 214.37 52 214.37 17.0V1.6Z"/>
<path d="M210.39 1.6V17.0C210.39 52 170.61 122 170.61 157.0V174.3H170.71V157.0C170.71 122 210.49 52 210.49 17.0V1.6Z"/>
<path d="M194.28 1.6V17.0C194.28 52 80.74 122 80.74 157.0V174.3H80.85V157.0C80.85 122 194.38 52 194.38 17.0V1.6Z"/>
<path d="M215.8 1.6V17.0C215.8 52 204.67 122 204.67 157.0V174.3H204.78V157.0C204.78 122 215.9 52 215.9 17.0V1.6Z"/>
<path d="M194.58 1.6V17.0C194.58 52 81.46 122 81.46 157.0V174.3H81.56V157.0C81.56 122 194.69 52 194.69 17.0V1.6Z"/>
<path d="M220.69 1.6V17.0C220.69 52 235.78 122 235.78 157.0V174.3H235.89V157.0C235.89 122 220.8 52 220.8 17.0V1.6Z"/>
<path d="M199.07 1.6V17.0C199.07 52 107.37 122 107.37 157.0V174.3H107.47V157.0C107.47 122 199.17 52 199.17 17.0V1.6Z"/>
<path d="M197.95 1.6V17.0C197.95 52 102.27 122 102.27 157.0V174.3H102.37V157.0C102.37 122 198.05 52 198.05 17.0V1.6Z"/>
<path d="M205.8 1.6V17.0C205.8 52 142.45 122 142.45 157.0V174.3H142.56V157.0C142.56 122 205.9 52 205.9 17.0V1.6Z"/>
<path d="M214.78 1.6V17.0C214.78 52 198.86 122 198.86 157.0V174.3H198.96V157.0C198.96 122 214.88 52 214.88 17.0V1.6Z"/>
<path d="M212.64 1.6V17.0C212.64 52 183.66 122 183.66 157.0V174.3H183.76V157.0C183.76 122 212.74 52 212.74 17.0V1.6Z"/>
<path d="M216.51 1.6V17.0C216.51 52 210.28 122 210.28 157.0V174.3H210.39V157.0C210.39 122 216.61 52 216.61 17.0V1.6Z"/>
<path d="M208.56 1.6V17.0C208.56 52 158.06 122 158.06 157.0V174.3H158.16V157.0C158.16 122 208.66 52 208.66 17.0V1.6Z"/>
<path d="M200.19 1.6V17.0C200.19 52 111.65 122 111.65 157.0V174.3H111.75V157.0C111.75 122 200.3 52 200.3 17.0V1.6Z"/>
<path d="M204.17 1.6V17.0C204.17 52 135.21 122 135.21 157.0V174.3H135.31V157.0C135.31 122 204.27 52 204.27 17.0V1.6Z"/>
<path d="M217.02 1.6V17.0C217.02 52 213.14 122 213.14 157.0V174.3H213.24V157.0C213.24 122 217.12 52 217.12 17.0V1.6Z"/>
<path d="M213.86 1.6V17.0C213.86 52 189.88 122 189.88 157.0V174.3H189.99V157.0C189.99 122 213.96 52 213.96 17.0V1.6Z"/>
<path d="M216 1.6V17.0C216 52 206.31 122 206.31 157.0V174.3H206.41V157.0C206.41 122 216.1 52 216.1 17.0V1.6Z"/>
<path d="M199.38 1.6V17.0C199.38 52 109.51 122 109.51 157.0V174.3H109.61V157.0C109.61 122 199.48 52 199.48 17.0V1.6Z"/>
<path d="M202.54 1.6V17.0C202.54 52 126.54 122 126.54 157.0V174.3H126.64V157.0C126.64 122 202.64 52 202.64 17.0V1.6Z"/>
<path d="M214.88 1.6V17.0C214.88 52 199.98 122 199.98 157.0V174.3H200.08V157.0C200.08 122 214.98 52 214.98 17.0V1.6Z"/>
<path d="M205.19 1.6V17.0C205.19 52 139.09 122 139.09 157.0V174.3H139.19V157.0C139.19 122 205.29 52 205.29 17.0V1.6Z"/>
<path d="M195.71 1.6V17.0C195.71 52 89.82 122 89.82 157.0V174.3H89.92V157.0C89.92 122 195.81 52 195.81 17.0V1.6Z"/>
<path d="M204.78 1.6V17.0C204.78 52 137.25 122 137.25 157.0V174.3H137.35V157.0C137.35 122 204.89 52 204.89 17.0V1.6Z"/>
<path d="M218.96 1.6V17.0C218.96 52 224.56 122 224.56 157.0V174.3H224.67V157.0C224.67 122 219.06 52 219.06 17.0V1.6Z"/>
<path d="M217.84 1.6V17.0C217.84 52 217.32 122 217.32 157.0V174.3H217.42V157.0C217.42 122 217.94 52 217.94 17.0V1.6Z"/>
<path d="M215.49 1.6V17.0C215.49 52 202.94 122 202.94 157.0V174.3H203.04V157.0C203.04 122 215.59 52 215.59 17.0V1.6Z"/>
<path d="M203.66 1.6V17.0C203.66 52 133.38 122 133.38 157.0V174.3H133.48V157.0C133.48 122 203.76 52 203.76 17.0V1.6Z"/>
<path d="M197.03 1.6V17.0C197.03 52 97.37 122 97.37 157.0V174.3H97.47V157.0C97.47 122 197.13 52 197.13 17.0V1.6Z"/>
<path d="M198.46 1.6V17.0C198.46 52 104.41 122 104.41 157.0V174.3H104.51V157.0C104.51 122 198.56 52 198.56 17.0V1.6Z"/>
<path d="M204.89 1.6V17.0C204.89 52 137.56 122 137.56 157.0V174.3H137.66V157.0C137.66 122 204.99 52 204.99 17.0V1.6Z"/>
<path d="M197.24 1.6V17.0C197.24 52 98.19 122 98.19 157.0V174.3H98.29V157.0C98.29 122 197.34 52 197.34 17.0V1.6Z"/>
<path d="M209.78 1.6V17.0C209.78 52 168.87 122 168.87 157.0V174.3H168.97V157.0C168.97 122 209.88 52 209.88 17.0V1.6Z"/>
<path d="M191.93 1.6V17.0C191.93 52 60.24 122 60.24 157.0V174.3H60.34V157.0C60.34 122 192.03 52 192.03 17.0V1.6Z"/>
<path d="M202.34 1.6V17.0C202.34 52 124.91 122 124.91 157.0V174.3H125.01V157.0C125.01 122 202.44 52 202.44 17.0V1.6Z"/>
<path d="M200.3 1.6V17.0C200.3 52 112.16 122 112.16 157.0V174.3H112.26V157.0C112.26 122 200.4 52 200.4 17.0V1.6Z"/>
<path d="M205.5 1.6V17.0C205.5 52 141.13 122 141.13 157.0V174.3H141.23V157.0C141.23 122 205.6 52 205.6 17.0V1.6Z"/>
<path d="M194.18 1.6V17.0C194.18 52 78.7 122 78.7 157.0V174.3H78.81V157.0C78.81 122 194.28 52 194.28 17.0V1.6Z"/>
<path d="M202.03 1.6V17.0C202.03 52 123.07 122 123.07 157.0V174.3H123.18V157.0C123.18 122 202.13 52 202.13 17.0V1.6Z"/>
<path d="M209.27 1.6V17.0C209.27 52 164.49 122 164.49 157.0V174.3H164.59V157.0C164.59 122 209.37 52 209.37 17.0V1.6Z"/>
<path d="M193.97 1.6V17.0C193.97 52 76.97 122 76.97 157.0V174.3H77.07V157.0C77.07 122 194.07 52 194.07 17.0V1.6Z"/>
<path d="M200.6 1.6V17.0C200.6 52 113.69 122 113.69 157.0V174.3H113.79V157.0C113.79 122 200.7 52 200.7 17.0V1.6Z"/>
<path d="M207.84 1.6V17.0C207.84 52 154.18 122 154.18 157.0V174.3H154.29V157.0C154.29 122 207.94 52 207.94 17.0V1.6Z"/>
<path d="M215.08 1.6V17.0C215.08 52 201.61 122 201.61 157.0V174.3H201.72V157.0C201.72 122 215.19 52 215.19 17.0V1.6Z"/>
<path d="M204.38 1.6V17.0C204.38 52 136.23 122 136.23 157.0V174.3H136.33V157.0C136.33 122 204.48 52 204.48 17.0V1.6Z"/>
<path d="M198.77 1.6V17.0C198.77 52 105.63 122 105.63 157.0V174.3H105.73V157.0C105.73 122 198.87 52 198.87 17.0V1.6Z"/>
<path d="M201.01 1.6V17.0C201.01 52 116.34 122 116.34 157.0V174.3H116.44V157.0C116.44 122 201.11 52 201.11 17.0V1.6Z"/>
<path d="M206.62 1.6V17.0C206.62 52 148.06 122 148.06 157.0V174.3H148.17V157.0C148.17 122 206.72 52 206.72 17.0V1.6Z"/>
<path d="M218.86 1.6V17.0C218.86 52 223.34 122 223.34 157.0V174.3H223.44V157.0C223.44 122 218.96 52 218.96 17.0V1.6Z"/>
<path d="M219.47 1.6V17.0C219.47 52 227.62 122 227.62 157.0V174.3H227.73V157.0C227.73 122 219.57 52 219.57 17.0V1.6Z"/>
<path d="M205.9 1.6V17.0C205.9 52 144.8 122 144.8 157.0V174.3H144.9V157.0C144.9 122 206.01 52 206.01 17.0V1.6Z"/>
<path d="M196.11 1.6V17.0C196.11 52 92.98 122 92.98 157.0V174.3H93.09V157.0C93.09 122 196.22 52 196.22 17.0V1.6Z"/>
<path d="M202.44 1.6V17.0C202.44 52 125.83 122 125.83 157.0V174.3H125.93V157.0C125.93 122 202.54 52 202.54 17.0V1.6Z"/>
<path d="M192.44 1.6V17.0C192.44 52 66.16 122 66.16 157.0V174.3H66.26V157.0C66.26 122 192.54 52 192.54 17.0V1.6Z"/>
<path d="M199.28 1.6V17.0C199.28 52 108.69 122 108.69 157.0V174.3H108.79V157.0C108.79 122 199.38 52 199.38 17.0V1.6Z"/>
<path d="M191.83 1.6V17.0C191.83 52 59.83 122 59.83 157.0V174.3H59.94V157.0C59.94 122 191.93 52 191.93 17.0V1.6Z"/>
<path d="M219.88 1.6V17.0C219.88 52 232.62 122 232.62 157.0V174.3H232.72V157.0C232.72 122 219.98 52 219.98 17.0V1.6Z"/>
<path d="M217.12 1.6V17.0C217.12 52 213.96 122 213.96 157.0V174.3H214.06V157.0C214.06 122 217.23 52 217.23 17.0V1.6Z"/>
<path d="M213.25 1.6V17.0C213.25 52 188.76 122 188.76 157.0V174.3H188.86V157.0C188.86 122 213.35 52 213.35 17.0V1.6Z"/>
<path d="M192.34 1.6V17.0C192.34 52 65.95 122 65.95 157.0V174.3H66.06V157.0C66.06 122 192.44 52 192.44 17.0V1.6Z"/>
<path d="M212.02 1.6V17.0C212.02 52 181.01 122 181.01 157.0V174.3H181.11V157.0C181.11 122 212.13 52 212.13 17.0V1.6Z"/>
<path d="M208.86 1.6V17.0C208.86 52 162.14 122 162.14 157.0V174.3H162.24V157.0C162.24 122 208.96 52 208.96 17.0V1.6Z"/>
<path d="M194.07 1.6V17.0C194.07 52 78.3 122 78.3 157.0V174.3H78.4V157.0C78.4 122 194.18 52 194.18 17.0V1.6Z"/>
<path d="M204.99 1.6V17.0C204.99 52 138.78 122 138.78 157.0V174.3H138.88V157.0C138.88 122 205.09 52 205.09 17.0V1.6Z"/>
<path d="M199.17 1.6V17.0C199.17 52 108.49 122 108.49 157.0V174.3H108.59V157.0C108.59 122 199.28 52 199.28 17.0V1.6Z"/>
<path d="M214.06 1.6V17.0C214.06 52 192.54 122 192.54 157.0V174.3H192.64V157.0C192.64 122 214.17 52 214.17 17.0V1.6Z"/>
<path d="M201.11 1.6V17.0C201.11 52 116.55 122 116.55 157.0V174.3H116.65V157.0C116.65 122 201.21 52 201.21 17.0V1.6Z"/>
<path d="M190.71 1.6V17.0C190.71 52 55.14 122 55.14 157.0V174.3H55.24V157.0C55.24 122 190.81 52 190.81 17.0V1.6Z"/>
<path d="M205.09 1.6V17.0C205.09 52 138.88 122 138.88 157.0V174.3H138.99V157.0C138.99 122 205.19 52 205.19 17.0V1.6Z"/>
</g>
<g fill="rgb(63, 115, 224)" fill-opacity="0.62">
<path d="M223.54 1.6V17.0C223.54 52 125.32 122 125.32 157.0V174.3H125.42V157.0C125.42 122 223.64 52 223.64 17.0V1.6Z"/>
<path d="M226.49 1.6V17.0C226.49 52 207.33 122 207.33 157.0V174.3H207.43V157.0C207.43 122 226.59 52 226.59 17.0V1.6Z"/>
<path d="M223.95 1.6V17.0C223.95 52 139.19 122 139.19 157.0V174.3H139.29V157.0C139.29 122 224.05 52 224.05 17.0V1.6Z"/>
<path d="M227.1 1.6V17.0C227.1 52 230.07 122 230.07 157.0V174.3H230.17V157.0C230.17 122 227.2 52 227.2 17.0V1.6Z"/>
<path d="M223.13 1.6V17.0C223.13 52 114.61 122 114.61 157.0V174.3H114.71V157.0C114.71 122 223.23 52 223.23 17.0V1.6Z"/>
<path d="M226.79 1.6V17.0C226.79 52 218.14 122 218.14 157.0V174.3H218.24V157.0C218.24 122 226.89 52 226.89 17.0V1.6Z"/>
<path d="M222.42 1.6V17.0C222.42 52 91.86 122 91.86 157.0V174.3H91.96V157.0C91.96 122 222.52 52 222.52 17.0V1.6Z"/>
<path d="M221 1.6V17.0C221 52 54.12 122 54.12 157.0V174.3H54.22V157.0C54.22 122 221.1 52 221.1 17.0V1.6Z"/>
<path d="M222.12 1.6V17.0C222.12 52 87.78 122 87.78 157.0V174.3H87.88V157.0C87.88 122 222.22 52 222.22 17.0V1.6Z"/>
<path d="M224.66 1.6V17.0C224.66 52 155.51 122 155.51 157.0V174.3H155.61V157.0C155.61 122 224.76 52 224.76 17.0V1.6Z"/>
<path d="M226.18 1.6V17.0C226.18 52 200.8 122 200.8 157.0V174.3H200.9V157.0C200.9 122 226.28 52 226.28 17.0V1.6Z"/>
<path d="M227.3 1.6V17.0C227.3 52 233.23 122 233.23 157.0V174.3H233.34V157.0C233.34 122 227.4 52 227.4 17.0V1.6Z"/>
<path d="M225.77 1.6V17.0C225.77 52 189.99 122 189.99 157.0V174.3H190.09V157.0C190.09 122 225.88 52 225.88 17.0V1.6Z"/>
<path d="M222.83 1.6V17.0C222.83 52 106.45 122 106.45 157.0V174.3H106.55V157.0C106.55 122 222.93 52 222.93 17.0V1.6Z"/>
<path d="M224.15 1.6V17.0C224.15 52 144.49 122 144.49 157.0V174.3H144.6V157.0C144.6 122 224.25 52 224.25 17.0V1.6Z"/>
<path d="M223.34 1.6V17.0C223.34 52 119.61 122 119.61 157.0V174.3H119.71V157.0C119.71 122 223.44 52 223.44 17.0V1.6Z"/>
<path d="M226.59 1.6V17.0C226.59 52 211.51 122 211.51 157.0V174.3H211.61V157.0C211.61 122 226.69 52 226.69 17.0V1.6Z"/>
<path d="M225.88 1.6V17.0C225.88 52 193.35 122 193.35 157.0V174.3H193.45V157.0C193.45 122 225.98 52 225.98 17.0V1.6Z"/>
<path d="M223.64 1.6V17.0C223.64 52 126.24 122 126.24 157.0V174.3H126.34V157.0C126.34 122 223.74 52 223.74 17.0V1.6Z"/>
<path d="M222.52 1.6V17.0C222.52 52 93.09 122 93.09 157.0V174.3H93.19V157.0C93.19 122 222.63 52 222.63 17.0V1.6Z"/>
<path d="M221.81 1.6V17.0C221.81 52 75.95 122 75.95 157.0V174.3H76.05V157.0C76.05 122 221.91 52 221.91 17.0V1.6Z"/>
<path d="M224.76 1.6V17.0C224.76 52 155.61 122 155.61 157.0V174.3H155.71V157.0C155.71 122 224.86 52 224.86 17.0V1.6Z"/>
<path d="M226.69 1.6V17.0C226.69 52 217.73 122 217.73 157.0V174.3H217.83V157.0C217.83 122 226.79 52 226.79 17.0V1.6Z"/>
<path d="M221.51 1.6V17.0C221.51 52 67.79 122 67.79 157.0V174.3H67.89V157.0C67.89 122 221.61 52 221.61 17.0V1.6Z"/>
<path d="M224.35 1.6V17.0C224.35 52 146.33 122 146.33 157.0V174.3H146.43V157.0C146.43 122 224.45 52 224.45 17.0V1.6Z"/>
<path d="M225.17 1.6V17.0C225.17 52 173.77 122 173.77 157.0V174.3H173.87V157.0C173.87 122 225.27 52 225.27 17.0V1.6Z"/>
<path d="M221.71 1.6V17.0C221.71 52 75.44 122 75.44 157.0V174.3H75.54V157.0C75.54 122 221.81 52 221.81 17.0V1.6Z"/>
<path d="M226.99 1.6V17.0C226.99 52 224.67 122 224.67 157.0V174.3H224.77V157.0C224.77 122 227.1 52 227.1 17.0V1.6Z"/>
<path d="M222.02 1.6V17.0C222.02 52 86.35 122 86.35 157.0V174.3H86.46V157.0C86.46 122 222.12 52 222.12 17.0V1.6Z"/>
<path d="M224.25 1.6V17.0C224.25 52 145.62 122 145.62 157.0V174.3H145.72V157.0C145.72 122 224.35 52 224.35 17.0V1.6Z"/>
<path d="M222.63 1.6V17.0C222.63 52 93.6 122 93.6 157.0V174.3H93.7V157.0C93.7 122 222.73 52 222.73 17.0V1.6Z"/>
<path d="M223.84 1.6V17.0C223.84 52 130.01 122 130.01 157.0V174.3H130.11V157.0C130.11 122 223.95 52 223.95 17.0V1.6Z"/>
<path d="M224.86 1.6V17.0C224.86 52 155.82 122 155.82 157.0V174.3H155.92V157.0C155.92 122 224.96 52 224.96 17.0V1.6Z"/>
<path d="M222.32 1.6V17.0C222.32 52 90.74 122 90.74 157.0V174.3H90.84V157.0C90.84 122 222.42 52 222.42 17.0V1.6Z"/>
<path d="M224.45 1.6V17.0C224.45 52 151.74 122 151.74 157.0V174.3H151.84V157.0C151.84 122 224.56 52 224.56 17.0V1.6Z"/>
<path d="M224.96 1.6V17.0C224.96 52 161.63 122 161.63 157.0V174.3H161.73V157.0C161.73 122 225.06 52 225.06 17.0V1.6Z"/>
<path d="M223.03 1.6V17.0C223.03 52 113.89 122 113.89 157.0V174.3H114V157.0C114 122 223.13 52 223.13 17.0V1.6Z"/>
<path d="M223.74 1.6V17.0C223.74 52 128.68 122 128.68 157.0V174.3H128.79V157.0C128.79 122 223.84 52 223.84 17.0V1.6Z"/>
<path d="M222.93 1.6V17.0C222.93 52 111.75 122 111.75 157.0V174.3H111.85V157.0C111.85 122 223.03 52 223.03 17.0V1.6Z"/>
<path d="M221.3 1.6V17.0C221.3 52 61.67 122 61.67 157.0V174.3H61.77V157.0C61.77 122 221.41 52 221.41 17.0V1.6Z"/>
<path d="M226.38 1.6V17.0C226.38 52 207.02 122 207.02 157.0V174.3H207.12V157.0C207.12 122 226.49 52 226.49 17.0V1.6Z"/>
<path d="M225.67 1.6V17.0C225.67 52 186.42 122 186.42 157.0V174.3H186.52V157.0C186.52 122 225.77 52 225.77 17.0V1.6Z"/>
<path d="M226.89 1.6V17.0C226.89 52 218.75 122 218.75 157.0V174.3H218.85V157.0C218.85 122 226.99 52 226.99 17.0V1.6Z"/>
<path d="M225.57 1.6V17.0C225.57 52 182.95 122 182.95 157.0V174.3H183.05V157.0C183.05 122 225.67 52 225.67 17.0V1.6Z"/>
<path d="M221.2 1.6V17.0C221.2 52 61.57 122 61.57 157.0V174.3H61.67V157.0C61.67 122 221.3 52 221.3 17.0V1.6Z"/>
<path d="M221.61 1.6V17.0C221.61 52 71.97 122 71.97 157.0V174.3H72.07V157.0C72.07 122 221.71 52 221.71 17.0V1.6Z"/>
<path d="M226.28 1.6V17.0C226.28 52 203.55 122 203.55 157.0V174.3H203.65V157.0C203.65 122 226.38 52 226.38 17.0V1.6Z"/>
<path d="M223.23 1.6V17.0C223.23 52 116.44 122 116.44 157.0V174.3H116.55V157.0C116.55 122 223.34 52 223.34 17.0V1.6Z"/>
<path d="M224.56 1.6V17.0C224.56 52 155.2 122 155.2 157.0V174.3H155.31V157.0C155.31 122 224.66 52 224.66 17.0V1.6Z"/>
<path d="M225.98 1.6V17.0C225.98 52 193.56 122 193.56 157.0V174.3H193.66V157.0C193.66 122 226.08 52 226.08 17.0V1.6Z"/>
<path d="M224.05 1.6V17.0C224.05 52 141.54 122 141.54 157.0V174.3H141.64V157.0C141.64 122 224.15 52 224.15 17.0V1.6Z"/>
<path d="M225.47 1.6V17.0C225.47 52 181.52 122 181.52 157.0V174.3H181.62V157.0C181.62 122 225.57 52 225.57 17.0V1.6Z"/>
<path d="M221.91 1.6V17.0C221.91 52 76.15 122 76.15 157.0V174.3H76.26V157.0C76.26 122 222.02 52 222.02 17.0V1.6Z"/>
<path d="M225.37 1.6V17.0C225.37 52 180.09 122 180.09 157.0V174.3H180.19V157.0C180.19 122 225.47 52 225.47 17.0V1.6Z"/>
<path d="M227.2 1.6V17.0C227.2 52 230.79 122 230.79 157.0V174.3H230.89V157.0C230.89 122 227.3 52 227.3 17.0V1.6Z"/>
<path d="M225.06 1.6V17.0C225.06 52 171.52 122 171.52 157.0V174.3H171.63V157.0C171.63 122 225.17 52 225.17 17.0V1.6Z"/>
<path d="M226.08 1.6V17.0C226.08 52 200.49 122 200.49 157.0V174.3H200.59V157.0C200.59 122 226.18 52 226.18 17.0V1.6Z"/>
<path d="M222.22 1.6V17.0C222.22 52 89.21 122 89.21 157.0V174.3H89.31V157.0C89.31 122 222.32 52 222.32 17.0V1.6Z"/>
<path d="M225.27 1.6V17.0C225.27 52 175.6 122 175.6 157.0V174.3H175.71V157.0C175.71 122 225.37 52 225.37 17.0V1.6Z"/>
<path d="M221.41 1.6V17.0C221.41 52 62.18 122 62.18 157.0V174.3H62.28V157.0C62.28 122 221.51 52 221.51 17.0V1.6Z"/>
<path d="M222.73 1.6V17.0C222.73 52 99.51 122 99.51 157.0V174.3H99.61V157.0C99.61 122 222.83 52 222.83 17.0V1.6Z"/>
<path d="M223.44 1.6V17.0C223.44 52 120.42 122 120.42 157.0V174.3H120.52V157.0C120.52 122 223.54 52 223.54 17.0V1.6Z"/>
<path d="M221.1 1.6V17.0C221.1 52 55.55 122 55.55 157.0V174.3H55.65V157.0C55.65 122 221.2 52 221.2 17.0V1.6Z"/>
</g>
<g fill="rgb(211, 63, 205)" fill-opacity="0.62">
<path d="M229.65 1.6V17.0C229.65 52 96.66 122 96.66 157.0V174.3H96.76V157.0C96.76 122 229.75 52 229.75 17.0V1.6Z"/>
<path d="M231.39 1.6V17.0C231.39 52 138.27 122 138.27 157.0V174.3H138.37V157.0C138.37 122 231.49 52 231.49 17.0V1.6Z"/>
<path d="M230.88 1.6V17.0C230.88 52 118.28 122 118.28 157.0V174.3H118.38V157.0C118.38 122 230.98 52 230.98 17.0V1.6Z"/>
<path d="M233.12 1.6V17.0C233.12 52 169.28 122 169.28 157.0V174.3H169.38V157.0C169.38 122 233.23 52 233.23 17.0V1.6Z"/>
<path d="M229.55 1.6V17.0C229.55 52 96.15 122 96.15 157.0V174.3H96.25V157.0C96.25 122 229.65 52 229.65 17.0V1.6Z"/>
<path d="M232.72 1.6V17.0C232.72 52 157.96 122 157.96 157.0V174.3H158.06V157.0C158.06 122 232.82 52 232.82 17.0V1.6Z"/>
<path d="M235.27 1.6V17.0C235.27 52 208.86 122 208.86 157.0V174.3H208.96V157.0C208.96 122 235.37 52 235.37 17.0V1.6Z"/>
<path d="M227.81 1.6V17.0C227.81 52 65.24 122 65.24 157.0V174.3H65.34V157.0C65.34 122 227.91 52 227.91 17.0V1.6Z"/>
<path d="M231.69 1.6V17.0C231.69 52 140.01 122 140.01 157.0V174.3H140.11V157.0C140.11 122 231.8 52 231.8 17.0V1.6Z"/>
<path d="M234.56 1.6V17.0C234.56 52 195.09 122 195.09 157.0V174.3H195.19V157.0C195.19 122 234.66 52 234.66 17.0V1.6Z"/>
<path d="M232.61 1.6V17.0C232.61 52 155.92 122 155.92 157.0V174.3H156.02V157.0C156.02 122 232.72 52 232.72 17.0V1.6Z"/>
<path d="M228.93 1.6V17.0C228.93 52 85.44 122 85.44 157.0V174.3H85.54V157.0C85.54 122 229.04 52 229.04 17.0V1.6Z"/>
<path d="M235.07 1.6V17.0C235.07 52 204.78 122 204.78 157.0V174.3H204.88V157.0C204.88 122 235.17 52 235.17 17.0V1.6Z"/>
<path d="M228.63 1.6V17.0C228.63 52 82.78 122 82.78 157.0V174.3H82.89V157.0C82.89 122 228.73 52 228.73 17.0V1.6Z"/>
<path d="M231.49 1.6V17.0C231.49 52 139.7 122 139.7 157.0V174.3H139.8V157.0C139.8 122 231.59 52 231.59 17.0V1.6Z"/>
<path d="M233.53 1.6V17.0C233.53 52 177.34 122 177.34 157.0V174.3H177.44V157.0C177.44 122 233.64 52 233.64 17.0V1.6Z"/>
<path d="M230.67 1.6V17.0C230.67 52 115.22 122 115.22 157.0V174.3H115.32V157.0C115.32 122 230.77 52 230.77 17.0V1.6Z"/>
<path d="M234.45 1.6V17.0C234.45 52 191.52 122 191.52 157.0V174.3H191.62V157.0C191.62 122 234.56 52 234.56 17.0V1.6Z"/>
<path d="M235.37 1.6V17.0C235.37 52 209.47 122 209.47 157.0V174.3H209.57V157.0C209.57 122 235.48 52 235.48 17.0V1.6Z"/>
<path d="M231.9 1.6V17.0C231.9 52 141.23 122 141.23 157.0V174.3H141.33V157.0C141.33 122 232 52 232 17.0V1.6Z"/>
<path d="M232.92 1.6V17.0C232.92 52 161.12 122 161.12 157.0V174.3H161.22V157.0C161.22 122 233.02 52 233.02 17.0V1.6Z"/>
<path d="M236.19 1.6V17.0C236.19 52 228.54 122 228.54 157.0V174.3H228.64V157.0C228.64 122 236.29 52 236.29 17.0V1.6Z"/>
<path d="M228.32 1.6V17.0C228.32 52 79.52 122 79.52 157.0V174.3H79.62V157.0C79.62 122 228.42 52 228.42 17.0V1.6Z"/>
<path d="M228.52 1.6V17.0C228.52 52 82.38 122 82.38 157.0V174.3H82.48V157.0C82.48 122 228.63 52 228.63 17.0V1.6Z"/>
<path d="M229.44 1.6V17.0C229.44 52 95.53 122 95.53 157.0V174.3H95.64V157.0C95.64 122 229.55 52 229.55 17.0V1.6Z"/>
<path d="M231.08 1.6V17.0C231.08 52 131.13 122 131.13 157.0V174.3H131.23V157.0C131.23 122 231.18 52 231.18 17.0V1.6Z"/>
<path d="M236.09 1.6V17.0C236.09 52 227.32 122 227.32 157.0V174.3H227.42V157.0C227.42 122 236.19 52 236.19 17.0V1.6Z"/>
<path d="M232.51 1.6V17.0C232.51 52 152.65 122 152.65 157.0V174.3H152.76V157.0C152.76 122 232.61 52 232.61 17.0V1.6Z"/>
<path d="M232.31 1.6V17.0C232.31 52 147.35 122 147.35 157.0V174.3H147.45V157.0C147.45 122 232.41 52 232.41 17.0V1.6Z"/>
<path d="M234.35 1.6V17.0C234.35 52 186.93 122 186.93 157.0V174.3H187.03V157.0C187.03 122 234.45 52 234.45 17.0V1.6Z"/>
<path d="M233.43 1.6V17.0C233.43 52 176.42 122 176.42 157.0V174.3H176.52V157.0C176.52 122 233.53 52 233.53 17.0V1.6Z"/>
<path d="M227.71 1.6V17.0C227.71 52 63.4 122 63.4 157.0V174.3H63.51V157.0C63.51 122 227.81 52 227.81 17.0V1.6Z"/>
<path d="M232.82 1.6V17.0C232.82 52 159.69 122 159.69 157.0V174.3H159.79V157.0C159.79 122 232.92 52 232.92 17.0V1.6Z"/>
<path d="M227.91 1.6V17.0C227.91 52 66.77 122 66.77 157.0V174.3H66.87V157.0C66.87 122 228.01 52 228.01 17.0V1.6Z"/>
<path d="M231.18 1.6V17.0C231.18 52 133.68 122 133.68 157.0V174.3H133.78V157.0C133.78 122 231.28 52 231.28 17.0V1.6Z"/>
<path d="M230.36 1.6V17.0C230.36 52 109.2 122 109.2 157.0V174.3H109.3V157.0C109.3 122 230.47 52 230.47 17.0V1.6Z"/>
<path d="M230.47 1.6V17.0C230.47 52 111.85 122 111.85 157.0V174.3H111.96V157.0C111.96 122 230.57 52 230.57 17.0V1.6Z"/>
<path d="M227.5 1.6V17.0C227.5 52 55.65 122 55.65 157.0V174.3H55.75V157.0C55.75 122 227.6 52 227.6 17.0V1.6Z"/>
<path d="M227.4 1.6V17.0C227.4 52 54.33 122 54.33 157.0V174.3H54.43V157.0C54.43 122 227.5 52 227.5 17.0V1.6Z"/>
<path d="M232.1 1.6V17.0C232.1 52 143.58 122 143.58 157.0V174.3H143.68V157.0C143.68 122 232.2 52 232.2 17.0V1.6Z"/>
<path d="M235.58 1.6V17.0C235.58 52 214.06 122 214.06 157.0V174.3H214.16V157.0C214.16 122 235.68 52 235.68 17.0V1.6Z"/>
<path d="M233.23 1.6V17.0C233.23 52 170.1 122 170.1 157.0V174.3H170.2V157.0C170.2 122 233.33 52 233.33 17.0V1.6Z"/>
<path d="M235.48 1.6V17.0C235.48 52 212.43 122 212.43 157.0V174.3H212.53V157.0C212.53 122 235.58 52 235.58 17.0V1.6Z"/>
<path d="M231.8 1.6V17.0C231.8 52 140.52 122 140.52 157.0V174.3H140.62V157.0C140.62 122 231.9 52 231.9 17.0V1.6Z"/>
<path d="M229.96 1.6V17.0C229.96 52 101.86 122 101.86 157.0V174.3H101.96V157.0C101.96 122 230.06 52 230.06 17.0V1.6Z"/>
<path d="M235.17 1.6V17.0C235.17 52 206.82 122 206.82 157.0V174.3H206.92V157.0C206.92 122 235.27 52 235.27 17.0V1.6Z"/>
<path d="M234.66 1.6V17.0C234.66 52 197.02 122 197.02 157.0V174.3H197.13V157.0C197.13 122 234.76 52 234.76 17.0V1.6Z"/>
<path d="M236.29 1.6V17.0C236.29 52 229.05 122 229.05 157.0V174.3H229.15V157.0C229.15 122 236.4 52 236.4 17.0V1.6Z"/>
<path d="M232.41 1.6V17.0C232.41 52 147.66 122 147.66 157.0V174.3H147.76V157.0C147.76 122 232.51 52 232.51 17.0V1.6Z"/>
<path d="M233.84 1.6V17.0C233.84 52 182.44 122 182.44 157.0V174.3H182.54V157.0C182.54 122 233.94 52 233.94 17.0V1.6Z"/>
<path d="M228.12 1.6V17.0C228.12 52 72.89 122 72.89 157.0V174.3H72.99V157.0C72.99 122 228.22 52 228.22 17.0V1.6Z"/>
<path d="M230.26 1.6V17.0C230.26 52 107.67 122 107.67 157.0V174.3H107.77V157.0C107.77 122 230.36 52 230.36 17.0V1.6Z"/>
<path d="M227.6 1.6V17.0C227.6 52 62.38 122 62.38 157.0V174.3H62.49V157.0C62.49 122 227.71 52 227.71 17.0V1.6Z"/>
<path d="M229.04 1.6V17.0C229.04 52 88.39 122 88.39 157.0V174.3H88.5V157.0C88.5 122 229.14 52 229.14 17.0V1.6Z"/>
<path d="M233.33 1.6V17.0C233.33 52 174.48 122 174.48 157.0V174.3H174.58V157.0C174.58 122 233.43 52 233.43 17.0V1.6Z"/>
<path d="M228.01 1.6V17.0C228.01 52 68.3 122 68.3 157.0V174.3H68.4V157.0C68.4 122 228.12 52 228.12 17.0V1.6Z"/>
<path d="M234.76 1.6V17.0C234.76 52 199.78 122 199.78 157.0V174.3H199.88V157.0C199.88 122 234.86 52 234.86 17.0V1.6Z"/>
<path d="M235.88 1.6V17.0C235.88 52 222.63 122 222.63 157.0V174.3H222.73V157.0C222.73 122 235.99 52 235.99 17.0V1.6Z"/>
<path d="M231.59 1.6V17.0C231.59 52 139.9 122 139.9 157.0V174.3H140.01V157.0C140.01 122 231.69 52 231.69 17.0V1.6Z"/>
<path d="M233.02 1.6V17.0C233.02 52 163.77 122 163.77 157.0V174.3H163.87V157.0C163.87 122 233.12 52 233.12 17.0V1.6Z"/>
<path d="M228.83 1.6V17.0C228.83 52 85.23 122 85.23 157.0V174.3H85.33V157.0C85.33 122 228.93 52 228.93 17.0V1.6Z"/>
<path d="M228.73 1.6V17.0C228.73 52 82.89 122 82.89 157.0V174.3H82.99V157.0C82.99 122 228.83 52 228.83 17.0V1.6Z"/>
<path d="M228.42 1.6V17.0C228.42 52 81.87 122 81.87 157.0V174.3H81.97V157.0C81.97 122 228.52 52 228.52 17.0V1.6Z"/>
<path d="M234.04 1.6V17.0C234.04 52 184.07 122 184.07 157.0V174.3H184.17V157.0C184.17 122 234.15 52 234.15 17.0V1.6Z"/>
<path d="M232.2 1.6V17.0C232.2 52 145.92 122 145.92 157.0V174.3H146.02V157.0C146.02 122 232.31 52 232.31 17.0V1.6Z"/>
<path d="M235.78 1.6V17.0C235.78 52 219.67 122 219.67 157.0V174.3H219.77V157.0C219.77 122 235.88 52 235.88 17.0V1.6Z"/>
<path d="M236.4 1.6V17.0C236.4 52 229.26 122 229.26 157.0V174.3H229.36V157.0C229.36 122 236.5 52 236.5 17.0V1.6Z"/>
<path d="M235.68 1.6V17.0C235.68 52 219.36 122 219.36 157.0V174.3H219.46V157.0C219.46 122 235.78 52 235.78 17.0V1.6Z"/>
<path d="M230.98 1.6V17.0C230.98 52 127.66 122 127.66 157.0V174.3H127.77V157.0C127.77 122 231.08 52 231.08 17.0V1.6Z"/>
<path d="M235.99 1.6V17.0C235.99 52 226.91 122 226.91 157.0V174.3H227.01V157.0C227.01 122 236.09 52 236.09 17.0V1.6Z"/>
<path d="M229.85 1.6V17.0C229.85 52 100.53 122 100.53 157.0V174.3H100.63V157.0C100.63 122 229.96 52 229.96 17.0V1.6Z"/>
<path d="M234.25 1.6V17.0C234.25 52 184.48 122 184.48 157.0V174.3H184.58V157.0C184.58 122 234.35 52 234.35 17.0V1.6Z"/>
<path d="M232 1.6V17.0C232 52 142.96 122 142.96 157.0V174.3H143.07V157.0C143.07 122 232.1 52 232.1 17.0V1.6Z"/>
<path d="M230.57 1.6V17.0C230.57 52 113.79 122 113.79 157.0V174.3H113.89V157.0C113.89 122 230.67 52 230.67 17.0V1.6Z"/>
<path d="M234.96 1.6V17.0C234.96 52 202.63 122 202.63 157.0V174.3H202.74V157.0C202.74 122 235.07 52 235.07 17.0V1.6Z"/>
<path d="M230.77 1.6V17.0C230.77 52 117.97 122 117.97 157.0V174.3H118.08V157.0C118.08 122 230.88 52 230.88 17.0V1.6Z"/>
<path d="M229.34 1.6V17.0C229.34 52 92.27 122 92.27 157.0V174.3H92.37V157.0C92.37 122 229.44 52 229.44 17.0V1.6Z"/>
<path d="M229.24 1.6V17.0C229.24 52 89.92 122 89.92 157.0V174.3H90.03V157.0C90.03 122 229.34 52 229.34 17.0V1.6Z"/>
<path d="M233.64 1.6V17.0C233.64 52 177.44 122 177.44 157.0V174.3H177.54V157.0C177.54 122 233.74 52 233.74 17.0V1.6Z"/>
<path d="M229.75 1.6V17.0C229.75 52 100.43 122 100.43 157.0V174.3H100.53V157.0C100.53 122 229.85 52 229.85 17.0V1.6Z"/>
<path d="M236.5 1.6V17.0C236.5 52 233.64 122 233.64 157.0V174.3H233.74V157.0C233.74 122 236.6 52 236.6 17.0V1.6Z"/>
<path d="M229.14 1.6V17.0C229.14 52 88.5 122 88.5 157.0V174.3H88.6V157.0C88.6 122 229.24 52 229.24 17.0V1.6Z"/>
<path d="M231.28 1.6V17.0C231.28 52 134.4 122 134.4 157.0V174.3H134.5V157.0C134.5 122 231.39 52 231.39 17.0V1.6Z"/>
<path d="M230.16 1.6V17.0C230.16 52 103.69 122 103.69 157.0V174.3H103.8V157.0C103.8 122 230.26 52 230.26 17.0V1.6Z"/>
<path d="M233.74 1.6V17.0C233.74 52 178.87 122 178.87 157.0V174.3H178.97V157.0C178.97 122 233.84 52 233.84 17.0V1.6Z"/>
<path d="M230.06 1.6V17.0C230.06 52 102.78 122 102.78 157.0V174.3H102.88V157.0C102.88 122 230.16 52 230.16 17.0V1.6Z"/>
<path d="M233.94 1.6V17.0C233.94 52 182.54 122 182.54 157.0V174.3H182.64V157.0C182.64 122 234.04 52 234.04 17.0V1.6Z"/>
<path d="M234.15 1.6V17.0C234.15 52 184.27 122 184.27 157.0V174.3H184.38V157.0C184.38 122 234.25 52 234.25 17.0V1.6Z"/>
<path d="M234.86 1.6V17.0C234.86 52 201.41 122 201.41 157.0V174.3H201.51V157.0C201.51 122 234.96 52 234.96 17.0V1.6Z"/>
<path d="M228.22 1.6V17.0C228.22 52 75.24 122 75.24 157.0V174.3H75.34V157.0C75.34 122 228.32 52 228.32 17.0V1.6Z"/>
</g>
<rect x="53.0" y="157.6" width="183.6" height="16.70000000000001" fill="rgb(198,178,158)" fill-opacity="0.3"/>
</g>
<text x="17.6" y="11.0" font-family="Liberation Sans" font-size="5.6" fill="#444" text-anchor="start" font-weight="normal" textLength="23.2" lengthAdjust="spacingAndGlyphs">Cuproptosis</text>
<text x="26.0" y="168.9" font-family="Liberation Sans" font-size="5.8" fill="#444" text-anchor="start" font-weight="normal" textLength="15.4" lengthAdjust="spacingAndGlyphs">lncRNA</text>
<text x="254.1" y="13.8" font-family="Liberation Sans" font-size="7.0" fill="#333" text-anchor="start" font-weight="normal" textLength="28.5" lengthAdjust="spacingAndGlyphs">Cuproptosis</text>
<rect x="254.4" y="18.0" width="7.5" height="9" fill="rgb(232, 148, 152)"/>
<text x="264.9" y="24.1" font-family="Liberation Sans" font-size="5.6" fill="#333" text-anchor="start" font-weight="normal" textLength="13.86" lengthAdjust="spacingAndGlyphs">ATP7A</text>
<rect x="254.4" y="28.0" width="7.5" height="9" fill="rgb(234, 170, 142)"/>
<text x="264.9" y="34.1" font-family="Liberation Sans" font-size="5.6" fill="#333" text-anchor="start" font-weight="normal" textLength="13.86" lengthAdjust="spacingAndGlyphs">ATP7B</text>
<rect x="254.4" y="38.0" width="7.5" height="9" fill="rgb(231, 204, 144)"/>
<text x="264.9" y="44.1" font-family="Liberation Sans" font-size="5.6" fill="#333" text-anchor="start" font-weight="normal" textLength="18.17" lengthAdjust="spacingAndGlyphs">CDKN2A</text>
<rect x="254.4" y="48.0" width="7.5" height="9" fill="rgb(216, 229, 144)"/>
<text x="264.9" y="54.1" font-family="Liberation Sans" font-size="5.6" fill="#333" text-anchor="start" font-weight="normal" textLength="8.96" lengthAdjust="spacingAndGlyphs">DBT</text>
<rect x="254.4" y="58.0" width="7.5" height="9" fill="rgb(184, 225, 137)"/>
<text x="264.9" y="64.1" font-family="Liberation Sans" font-size="5.6" fill="#333" text-anchor="start" font-weight="normal" textLength="11.12" lengthAdjust="spacingAndGlyphs">DLAT</text>
<rect x="254.4" y="68.0" width="7.5" height="9" fill="rgb(144, 218, 137)"/>
<text x="264.9" y="74.1" font-family="Liberation Sans" font-size="5.6" fill="#333" text-anchor="start" font-weight="normal" textLength="8.96" lengthAdjust="spacingAndGlyphs">DLD</text>
<rect x="254.4" y="78.0" width="7.5" height="9" fill="rgb(137, 222, 173)"/>
<text x="264.9" y="84.1" font-family="Liberation Sans" font-size="5.6" fill="#333" text-anchor="start" font-weight="normal" textLength="11.45" lengthAdjust="spacingAndGlyphs">FDX1</text>
<rect x="254.4" y="88.0" width="7.5" height="9" fill="rgb(137, 225, 214)"/>
<text x="264.9" y="94.1" font-family="Liberation Sans" font-size="5.6" fill="#333" text-anchor="start" font-weight="normal" textLength="12.94" lengthAdjust="spacingAndGlyphs">GCSH</text>
<rect x="254.4" y="98.0" width="7.5" height="9" fill="rgb(137, 209, 232)"/>
<text x="264.9" y="104.1" font-family="Liberation Sans" font-size="5.6" fill="#333" text-anchor="start" font-weight="normal" textLength="8.96" lengthAdjust="spacingAndGlyphs">GLS</text>
<rect x="254.4" y="108.0" width="7.5" height="9" fill="rgb(146, 180, 236)"/>
<text x="264.9" y="114.1" font-family="Liberation Sans" font-size="5.6" fill="#333" text-anchor="start" font-weight="normal" textLength="9.71" lengthAdjust="spacingAndGlyphs">LIAS</text>
<rect x="254.4" y="118.0" width="7.5" height="9" fill="rgb(152, 153, 236)"/>
<text x="264.9" y="124.1" font-family="Liberation Sans" font-size="5.6" fill="#333" text-anchor="start" font-weight="normal" textLength="11.95" lengthAdjust="spacingAndGlyphs">LIPT1</text>
<rect x="254.4" y="128.0" width="7.5" height="9" fill="rgb(182, 148, 234)"/>
<text x="264.9" y="134.1" font-family="Liberation Sans" font-size="5.6" fill="#333" text-anchor="start" font-weight="normal" textLength="11.95" lengthAdjust="spacingAndGlyphs">LIPT2</text>
<rect x="254.4" y="138.0" width="7.5" height="9" fill="rgb(216, 146, 231)"/>
<text x="264.9" y="144.1" font-family="Liberation Sans" font-size="5.6" fill="#333" text-anchor="start" font-weight="normal" textLength="11.7" lengthAdjust="spacingAndGlyphs">MTF1</text>
<rect x="254.4" y="148.0" width="7.5" height="9" fill="rgb(232, 144, 216)"/>
<text x="264.9" y="154.1" font-family="Liberation Sans" font-size="5.6" fill="#333" text-anchor="start" font-weight="normal" textLength="14.44" lengthAdjust="spacingAndGlyphs">NLRP3</text>
<rect x="254.4" y="158.0" width="7.5" height="9" fill="rgb(236, 150, 182)"/>
<text x="264.9" y="164.1" font-family="Liberation Sans" font-size="5.6" fill="#333" text-anchor="start" font-weight="normal" textLength="14.94" lengthAdjust="spacingAndGlyphs">PDHA1</text>
<text x="354.6" y="30.0" font-family="Liberation Sans" font-size="22.3" fill="#000" text-anchor="start" font-weight="bold">b</text>
<line x1="412.5" y1="16.4" x2="412.5" y2="152.2" stroke="#c8c8c8" stroke-width="0.9"/>
<line x1="410.7" y1="16.4" x2="414.3" y2="16.4" stroke="#c8c8c8" stroke-width="0.8"/>
<line x1="410.7" y1="152.2" x2="414.3" y2="152.2" stroke="#c8c8c8" stroke-width="0.8"/>
<line x1="420.35" y1="22.2" x2="420.35" y2="152.2" stroke="#c8c8c8" stroke-width="0.9"/>
<line x1="418.55" y1="22.2" x2="422.15000000000003" y2="22.2" stroke="#c8c8c8" stroke-width="0.8"/>
<line x1="418.55" y1="152.2" x2="422.15000000000003" y2="152.2" stroke="#c8c8c8" stroke-width="0.8"/>
<line x1="428.2" y1="28.3" x2="428.2" y2="152.2" stroke="#c8c8c8" stroke-width="0.9"/>
<line x1="426.4" y1="28.3" x2="430.0" y2="28.3" stroke="#c8c8c8" stroke-width="0.8"/>
<line x1="426.4" y1="152.2" x2="430.0" y2="152.2" stroke="#c8c8c8" stroke-width="0.8"/>
<line x1="436.05" y1="33.4" x2="436.05" y2="152.2" stroke="#c8c8c8" stroke-width="0.9"/>
<line x1="434.25" y1="33.4" x2="437.85" y2="33.4" stroke="#c8c8c8" stroke-width="0.8"/>
<line x1="434.25" y1="152.2" x2="437.85" y2="152.2" stroke="#c8c8c8" stroke-width="0.8"/>
<line x1="443.9" y1="38.5" x2="443.9" y2="152.2" stroke="#c8c8c8" stroke-width="0.9"/>
<line x1="442.09999999999997" y1="38.5" x2="445.7" y2="38.5" stroke="#c8c8c8" stroke-width="0.8"/>
<line x1="442.09999999999997" y1="152.2" x2="445.7" y2="152.2" stroke="#c8c8c8" stroke-width="0.8"/>
<line x1="451.75" y1="42.5" x2="451.75" y2="152.2" stroke="#c8c8c8" stroke-width="0.9"/>
<line x1="449.95" y1="42.5" x2="453.55" y2="42.5" stroke="#c8c8c8" stroke-width="0.8"/>
<line x1="449.95" y1="152.2" x2="453.55" y2="152.2" stroke="#c8c8c8" stroke-width="0.8"/>
<line x1="459.6" y1="46.5" x2="459.6" y2="151.9" stroke="#c8c8c8" stroke-width="0.9"/>
<line x1="457.8" y1="46.5" x2="461.40000000000003" y2="46.5" stroke="#c8c8c8" stroke-width="0.8"/>
<line x1="457.8" y1="151.9" x2="461.40000000000003" y2="151.9" stroke="#c8c8c8" stroke-width="0.8"/>
<line x1="467.45" y1="50.4" x2="467.45" y2="151.6" stroke="#c8c8c8" stroke-width="0.9"/>
<line x1="465.65" y1="50.4" x2="469.25" y2="50.4" stroke="#c8c8c8" stroke-width="0.8"/>
<line x1="465.65" y1="151.6" x2="469.25" y2="151.6" stroke="#c8c8c8" stroke-width="0.8"/>
<line x1="475.3" y1="54.4" x2="475.3" y2="151.2" stroke="#c8c8c8" stroke-width="0.9"/>
<line x1="473.5" y1="54.4" x2="477.1" y2="54.4" stroke="#c8c8c8" stroke-width="0.8"/>
<line x1="473.5" y1="151.2" x2="477.1" y2="151.2" stroke="#c8c8c8" stroke-width="0.8"/>
<line x1="483.15" y1="58.2" x2="483.15" y2="150.9" stroke="#c8c8c8" stroke-width="0.9"/>
<line x1="481.34999999999997" y1="58.2" x2="484.95" y2="58.2" stroke="#c8c8c8" stroke-width="0.8"/>
<line x1="481.34999999999997" y1="150.9" x2="484.95" y2="150.9" stroke="#c8c8c8" stroke-width="0.8"/>
<line x1="491.0" y1="61.5" x2="491.0" y2="150.5" stroke="#c8c8c8" stroke-width="0.9"/>
<line x1="489.2" y1="61.5" x2="492.8" y2="61.5" stroke="#c8c8c8" stroke-width="0.8"/>
<line x1="489.2" y1="150.5" x2="492.8" y2="150.5" stroke="#c8c8c8" stroke-width="0.8"/>
<line x1="498.85" y1="66.4" x2="498.85" y2="150.0" stroke="#c8c8c8" stroke-width="0.9"/>
<line x1="497.05" y1="66.4" x2="500.65000000000003" y2="66.4" stroke="#c8c8c8" stroke-width="0.8"/>
<line x1="497.05" y1="150.0" x2="500.65000000000003" y2="150.0" stroke="#c8c8c8" stroke-width="0.8"/>
<line x1="506.7" y1="73.2" x2="506.7" y2="149.5" stroke="#c8c8c8" stroke-width="0.9"/>
<line x1="504.9" y1="73.2" x2="508.5" y2="73.2" stroke="#c8c8c8" stroke-width="0.8"/>
<line x1="504.9" y1="149.5" x2="508.5" y2="149.5" stroke="#c8c8c8" stroke-width="0.8"/>
<line x1="514.55" y1="82.4" x2="514.55" y2="148.2" stroke="#c8c8c8" stroke-width="0.9"/>
<line x1="512.75" y1="82.4" x2="516.3499999999999" y2="82.4" stroke="#c8c8c8" stroke-width="0.8"/>
<line x1="512.75" y1="148.2" x2="516.3499999999999" y2="148.2" stroke="#c8c8c8" stroke-width="0.8"/>
<line x1="522.4" y1="94.2" x2="522.4" y2="146.9" stroke="#c8c8c8" stroke-width="0.9"/>
<line x1="520.6" y1="94.2" x2="524.1999999999999" y2="94.2" stroke="#c8c8c8" stroke-width="0.8"/>
<line x1="520.6" y1="146.9" x2="524.1999999999999" y2="146.9" stroke="#c8c8c8" stroke-width="0.8"/>
<line x1="530.25" y1="111.4" x2="530.25" y2="146.1" stroke="#c8c8c8" stroke-width="0.9"/>
<line x1="528.45" y1="111.4" x2="532.05" y2="111.4" stroke="#c8c8c8" stroke-width="0.8"/>
<line x1="528.45" y1="146.1" x2="532.05" y2="146.1" stroke="#c8c8c8" stroke-width="0.8"/>
<line x1="538.1" y1="125.2" x2="538.1" y2="145" stroke="#c8c8c8" stroke-width="0.9"/>
<line x1="536.3000000000001" y1="125.2" x2="539.9" y2="125.2" stroke="#c8c8c8" stroke-width="0.8"/>
<line x1="536.3000000000001" y1="145" x2="539.9" y2="145" stroke="#c8c8c8" stroke-width="0.8"/>
<line x1="545.95" y1="133.3" x2="545.95" y2="144.3" stroke="#c8c8c8" stroke-width="0.9"/>
<line x1="544.1500000000001" y1="133.3" x2="547.75" y2="133.3" stroke="#c8c8c8" stroke-width="0.8"/>
<line x1="544.1500000000001" y1="144.3" x2="547.75" y2="144.3" stroke="#c8c8c8" stroke-width="0.8"/>
<line x1="553.8" y1="136.2" x2="553.8" y2="144" stroke="#c8c8c8" stroke-width="0.9"/>
<line x1="552.0" y1="136.2" x2="555.5999999999999" y2="136.2" stroke="#c8c8c8" stroke-width="0.8"/>
<line x1="552.0" y1="144" x2="555.5999999999999" y2="144" stroke="#c8c8c8" stroke-width="0.8"/>
<line x1="561.65" y1="135.4" x2="561.65" y2="144.3" stroke="#c8c8c8" stroke-width="0.9"/>
<line x1="559.85" y1="135.4" x2="563.4499999999999" y2="135.4" stroke="#c8c8c8" stroke-width="0.8"/>
<line x1="559.85" y1="144.3" x2="563.4499999999999" y2="144.3" stroke="#c8c8c8" stroke-width="0.8"/>
<line x1="569.5" y1="134.1" x2="569.5" y2="143.5" stroke="#c8c8c8" stroke-width="0.9"/>
<line x1="567.7" y1="134.1" x2="571.3" y2="134.1" stroke="#c8c8c8" stroke-width="0.8"/>
<line x1="567.7" y1="143.5" x2="571.3" y2="143.5" stroke="#c8c8c8" stroke-width="0.8"/>
<line x1="577.35" y1="133.3" x2="577.35" y2="143" stroke="#c8c8c8" stroke-width="0.9"/>
<line x1="575.5500000000001" y1="133.3" x2="579.15" y2="133.3" stroke="#c8c8c8" stroke-width="0.8"/>
<line x1="575.5500000000001" y1="143" x2="579.15" y2="143" stroke="#c8c8c8" stroke-width="0.8"/>
<line x1="585.2" y1="132" x2="585.2" y2="141.9" stroke="#c8c8c8" stroke-width="0.9"/>
<line x1="583.4000000000001" y1="132" x2="587.0" y2="132" stroke="#c8c8c8" stroke-width="0.8"/>
<line x1="583.4000000000001" y1="141.9" x2="587.0" y2="141.9" stroke="#c8c8c8" stroke-width="0.8"/>
<line x1="593.05" y1="131.2" x2="593.05" y2="141.4" stroke="#c8c8c8" stroke-width="0.9"/>
<line x1="591.25" y1="131.2" x2="594.8499999999999" y2="131.2" stroke="#c8c8c8" stroke-width="0.8"/>
<line x1="591.25" y1="141.4" x2="594.8499999999999" y2="141.4" stroke="#c8c8c8" stroke-width="0.8"/>
<line x1="600.9" y1="131" x2="600.9" y2="141.1" stroke="#c8c8c8" stroke-width="0.9"/>
<line x1="599.1" y1="131" x2="602.6999999999999" y2="131" stroke="#c8c8c8" stroke-width="0.8"/>
<line x1="599.1" y1="141.1" x2="602.6999999999999" y2="141.1" stroke="#c8c8c8" stroke-width="0.8"/>
<circle cx="412.5" cy="84.3" r="1.2" fill="#e8161a"/>
<circle cx="420.35" cy="86.9" r="1.2" fill="#e8161a"/>
<circle cx="428.2" cy="90" r="1.2" fill="#e8161a"/>
<circle cx="436.05" cy="92.9" r="1.2" fill="#e8161a"/>
<circle cx="443.9" cy="95.2" r="1.2" fill="#e8161a"/>
<circle cx="451.75" cy="97.3" r="1.2" fill="#e8161a"/>
<circle cx="459.6" cy="99.1" r="1.2" fill="#e8161a"/>
<circle cx="467.45" cy="101" r="1.2" fill="#e8161a"/>
<circle cx="475.3" cy="102.8" r="1.2" fill="#e8161a"/>
<circle cx="483.15" cy="104.6" r="1.2" fill="#e8161a"/>
<circle cx="491.0" cy="106.2" r="1.2" fill="#e8161a"/>
<circle cx="498.85" cy="108.3" r="1.2" fill="#e8161a"/>
<circle cx="506.7" cy="111.4" r="1.2" fill="#e8161a"/>
<circle cx="514.55" cy="115.5" r="1.2" fill="#e8161a"/>
<circle cx="522.4" cy="120.8" r="1.2" fill="#e8161a"/>
<circle cx="530.25" cy="128.6" r="1.2" fill="#e8161a"/>
<circle cx="538.1" cy="135.4" r="1.2" fill="#e8161a"/>
<circle cx="545.95" cy="139" r="1.2" fill="#e8161a"/>
<circle cx="553.8" cy="140.6" r="1.2" fill="#e8161a"/>
<circle cx="561.65" cy="139.8" r="1.2" fill="#e8161a"/>
<circle cx="569.5" cy="138.8" r="1.2" fill="#e8161a"/>
<circle cx="577.35" cy="137.7" r="1.2" fill="#e8161a"/>
<circle cx="585.2" cy="137" r="1.2" fill="#e8161a"/>
<circle cx="593.05" cy="136.4" r="1.2" fill="#e8161a"/>
<circle cx="600.9" cy="136.4" r="1.2" fill="#e8161a"/>
<line x1="553.6" y1="10.5" x2="553.6" y2="158.3" stroke="#444" stroke-width="0.7" stroke-dasharray="1.6,1.2"/>
<line x1="600.6" y1="10.5" x2="600.6" y2="158.3" stroke="#444" stroke-width="0.7" stroke-dasharray="1.6,1.2"/>
<rect x="405.5" y="10.5" width="202.79999999999995" height="147.8" fill="none" stroke="#8c8c8c" stroke-width="1.05"/>
<text x="412.5" y="3.9" font-family="Liberation Sans" font-size="6.0" fill="#222" text-anchor="middle" font-weight="normal" stroke="#222" stroke-width="0.15">28</text>
<text x="428.2" y="3.9" font-family="Liberation Sans" font-size="6.0" fill="#222" text-anchor="middle" font-weight="normal" stroke="#222" stroke-width="0.15">26</text>
<text x="443.9" y="3.9" font-family="Liberation Sans" font-size="6.0" fill="#222" text-anchor="middle" font-weight="normal" stroke="#222" stroke-width="0.15">23</text>
<text x="459.6" y="3.9" font-family="Liberation Sans" font-size="6.0" fill="#222" text-anchor="middle" font-weight="normal" stroke="#222" stroke-width="0.15">19</text>
<text x="475.3" y="3.9" font-family="Liberation Sans" font-size="6.0" fill="#222" text-anchor="middle" font-weight="normal" stroke="#222" stroke-width="0.15">17</text>
<text x="491.0" y="3.9" font-family="Liberation Sans" font-size="6.0" fill="#222" text-anchor="middle" font-weight="normal" stroke="#222" stroke-width="0.15">16</text>
<text x="506.7" y="3.9" font-family="Liberation Sans" font-size="6.0" fill="#222" text-anchor="middle" font-weight="normal" stroke="#222" stroke-width="0.15">16</text>
<text x="522.4" y="3.9" font-family="Liberation Sans" font-size="6.0" fill="#222" text-anchor="middle" font-weight="normal" stroke="#222" stroke-width="0.15">14</text>
<text x="538.1" y="3.9" font-family="Liberation Sans" font-size="6.0" fill="#222" text-anchor="middle" font-weight="normal" stroke="#222" stroke-width="0.15">13</text>
<text x="553.8" y="3.9" font-family="Liberation Sans" font-size="6.0" fill="#222" text-anchor="middle" font-weight="normal" stroke="#222" stroke-width="0.15">11</text>
<text x="569.5" y="3.9" font-family="Liberation Sans" font-size="6.0" fill="#222" text-anchor="middle" font-weight="normal" stroke="#222" stroke-width="0.15">9</text>
<text x="585.2" y="3.9" font-family="Liberation Sans" font-size="6.0" fill="#222" text-anchor="middle" font-weight="normal" stroke="#222" stroke-width="0.15">7</text>
<text x="600.9" y="3.9" font-family="Liberation Sans" font-size="6.0" fill="#222" text-anchor="middle" font-weight="normal" stroke="#222" stroke-width="0.15">0</text>
<line x1="424.0" y1="158.3" x2="424.0" y2="160.9" stroke="#8c8c8c" stroke-width="0.8"/>
<text x="424.0" y="169.1" font-family="Liberation Sans" font-size="5.8" fill="#111" text-anchor="middle" font-weight="normal" stroke="#111" stroke-width="0.15">−4.0</text>
<line x1="466.13" y1="158.3" x2="466.13" y2="160.9" stroke="#8c8c8c" stroke-width="0.8"/>
<text x="466.13" y="169.1" font-family="Liberation Sans" font-size="5.8" fill="#111" text-anchor="middle" font-weight="normal" stroke="#111" stroke-width="0.15">−3.5</text>
<line x1="508.26" y1="158.3" x2="508.26" y2="160.9" stroke="#8c8c8c" stroke-width="0.8"/>
<text x="508.26" y="169.1" font-family="Liberation Sans" font-size="5.8" fill="#111" text-anchor="middle" font-weight="normal" stroke="#111" stroke-width="0.15">−3.0</text>
<line x1="550.39" y1="158.3" x2="550.39" y2="160.9" stroke="#8c8c8c" stroke-width="0.8"/>
<text x="550.39" y="169.1" font-family="Liberation Sans" font-size="5.8" fill="#111" text-anchor="middle" font-weight="normal" stroke="#111" stroke-width="0.15">−2.5</text>
<line x1="592.52" y1="158.3" x2="592.52" y2="160.9" stroke="#8c8c8c" stroke-width="0.8"/>
<text x="592.52" y="169.1" font-family="Liberation Sans" font-size="5.8" fill="#111" text-anchor="middle" font-weight="normal" stroke="#111" stroke-width="0.15">−2.0</text>
<line x1="402.1" y1="154.8" x2="405.5" y2="154.8" stroke="#8c8c8c" stroke-width="0.8"/>
<text x="396.4" y="154.8" font-family="Liberation Sans" font-size="5.8" fill="#222" text-anchor="middle" font-weight="normal" transform="rotate(-90 396.4 154.8)" textLength="4.8" lengthAdjust="spacingAndGlyphs" stroke="#222" stroke-width="0.2">10</text>
<line x1="402.1" y1="132.7" x2="405.5" y2="132.7" stroke="#8c8c8c" stroke-width="0.8"/>
<text x="396.4" y="132.7" font-family="Liberation Sans" font-size="5.8" fill="#222" text-anchor="middle" font-weight="normal" transform="rotate(-90 396.4 132.7)" textLength="4.8" lengthAdjust="spacingAndGlyphs" stroke="#222" stroke-width="0.2">11</text>
<line x1="402.1" y1="110.60000000000001" x2="405.5" y2="110.60000000000001" stroke="#8c8c8c" stroke-width="0.8"/>
<text x="396.4" y="110.60000000000001" font-family="Liberation Sans" font-size="5.8" fill="#222" text-anchor="middle" font-weight="normal" transform="rotate(-90 396.4 110.60000000000001)" textLength="4.8" lengthAdjust="spacingAndGlyphs" stroke="#222" stroke-width="0.2">12</text>
<line x1="402.1" y1="88.50000000000001" x2="405.5" y2="88.50000000000001" stroke="#8c8c8c" stroke-width="0.8"/>
<text x="396.4" y="88.50000000000001" font-family="Liberation Sans" font-size="5.8" fill="#222" text-anchor="middle" font-weight="normal" transform="rotate(-90 396.4 88.50000000000001)" textLength="4.8" lengthAdjust="spacingAndGlyphs" stroke="#222" stroke-width="0.2">13</text>
<line x1="402.1" y1="66.4" x2="405.5" y2="66.4" stroke="#8c8c8c" stroke-width="0.8"/>
<text x="396.4" y="66.4" font-family="Liberation Sans" font-size="5.8" fill="#222" text-anchor="middle" font-weight="normal" transform="rotate(-90 396.4 66.4)" textLength="4.8" lengthAdjust="spacingAndGlyphs" stroke="#222" stroke-width="0.2">14</text>
<line x1="402.1" y1="44.3" x2="405.5" y2="44.3" stroke="#8c8c8c" stroke-width="0.8"/>
<text x="396.4" y="44.3" font-family="Liberation Sans" font-size="5.8" fill="#222" text-anchor="middle" font-weight="normal" transform="rotate(-90 396.4 44.3)" textLength="4.8" lengthAdjust="spacingAndGlyphs" stroke="#222" stroke-width="0.2">15</text>
<line x1="402.1" y1="22.2" x2="405.5" y2="22.2" stroke="#8c8c8c" stroke-width="0.8"/>
<text x="396.4" y="22.2" font-family="Liberation Sans" font-size="5.8" fill="#222" text-anchor="middle" font-weight="normal" transform="rotate(-90 396.4 22.2)" textLength="4.8" lengthAdjust="spacingAndGlyphs" stroke="#222" stroke-width="0.2">16</text>
<text x="382.3" y="84.2" font-family="Liberation Sans" font-size="6.0" fill="#111" text-anchor="middle" font-weight="normal" transform="rotate(-90 382.3 84.2)" textLength="57.5" lengthAdjust="spacingAndGlyphs" stroke="#111" stroke-width="0.2">Partial Likelihood Deviance</text>
<text x="506.5" y="179.6" font-family="Liberation Sans" font-size="5.8" fill="#111" text-anchor="middle" font-weight="normal" stroke="#111" stroke-width="0.15">Log(λ)</text>
<text x="0" y="225.8" font-family="Liberation Sans" font-size="21.5" font-weight="bold" transform="translate(3.0 0) scale(0.88 1)">c</text>
<rect x="36.6" y="210.5" width="171.4" height="146.5" fill="none" stroke="#8c8c8c" stroke-width="1.05"/>
<line x1="52.5" y1="210.5" x2="52.5" y2="209.1" stroke="#aaa" stroke-width="0.7"/>
<text x="52.5" y="203.9" font-family="Liberation Sans" font-size="5.0" fill="#111" text-anchor="middle" font-weight="normal" stroke="#111" stroke-width="0.18">28</text>
<line x1="88.0" y1="210.5" x2="88.0" y2="209.1" stroke="#aaa" stroke-width="0.7"/>
<text x="88.0" y="203.9" font-family="Liberation Sans" font-size="5.0" fill="#111" text-anchor="middle" font-weight="normal" stroke="#111" stroke-width="0.18">19</text>
<line x1="123.5" y1="210.5" x2="123.5" y2="209.1" stroke="#aaa" stroke-width="0.7"/>
<text x="123.5" y="203.9" font-family="Liberation Sans" font-size="5.0" fill="#111" text-anchor="middle" font-weight="normal" stroke="#111" stroke-width="0.18">16</text>
<line x1="159.0" y1="210.5" x2="159.0" y2="209.1" stroke="#aaa" stroke-width="0.7"/>
<text x="159.0" y="203.9" font-family="Liberation Sans" font-size="5.0" fill="#111" text-anchor="middle" font-weight="normal" stroke="#111" stroke-width="0.18">13</text>
<line x1="194.5" y1="210.5" x2="194.5" y2="209.1" stroke="#aaa" stroke-width="0.7"/>
<text x="194.5" y="203.9" font-family="Liberation Sans" font-size="5.0" fill="#111" text-anchor="middle" font-weight="normal" stroke="#111" stroke-width="0.18">7</text>
<line x1="52.5" y1="357.0" x2="52.5" y2="360.2" stroke="#8c8c8c" stroke-width="0.8"/>
<text x="52.5" y="367.9" font-family="Liberation Sans" font-size="5.0" fill="#111" text-anchor="middle" font-weight="normal" stroke="#111" stroke-width="0.18">−4.0</text>
<line x1="88.0" y1="357.0" x2="88.0" y2="360.2" stroke="#8c8c8c" stroke-width="0.8"/>
<text x="88.0" y="367.9" font-family="Liberation Sans" font-size="5.0" fill="#111" text-anchor="middle" font-weight="normal" stroke="#111" stroke-width="0.18">−3.5</text>
<line x1="123.5" y1="357.0" x2="123.5" y2="360.2" stroke="#8c8c8c" stroke-width="0.8"/>
<text x="123.5" y="367.9" font-family="Liberation Sans" font-size="5.0" fill="#111" text-anchor="middle" font-weight="normal" stroke="#111" stroke-width="0.18">−3.0</text>
<line x1="159.0" y1="357.0" x2="159.0" y2="360.2" stroke="#8c8c8c" stroke-width="0.8"/>
<text x="159.0" y="367.9" font-family="Liberation Sans" font-size="5.0" fill="#111" text-anchor="middle" font-weight="normal" stroke="#111" stroke-width="0.18">−2.5</text>
<line x1="194.5" y1="357.0" x2="194.5" y2="360.2" stroke="#8c8c8c" stroke-width="0.8"/>
<text x="194.5" y="367.9" font-family="Liberation Sans" font-size="5.0" fill="#111" text-anchor="middle" font-weight="normal" stroke="#111" stroke-width="0.18">−2.0</text>
<line x1="33.4" y1="243.7" x2="36.6" y2="243.7" stroke="#8c8c8c" stroke-width="0.8"/>
<text x="29.5" y="243.7" font-family="Liberation Sans" font-size="5.6" fill="#222" text-anchor="middle" font-weight="normal" transform="rotate(-90 29.5 243.7)" stroke="#222" stroke-width="0.2">1</text>
<line x1="33.4" y1="276.5" x2="36.6" y2="276.5" stroke="#8c8c8c" stroke-width="0.8"/>
<text x="29.5" y="276.5" font-family="Liberation Sans" font-size="5.6" fill="#222" text-anchor="middle" font-weight="normal" transform="rotate(-90 29.5 276.5)" stroke="#222" stroke-width="0.2">0</text>
<line x1="33.4" y1="309.3" x2="36.6" y2="309.3" stroke="#8c8c8c" stroke-width="0.8"/>
<text x="29.5" y="309.3" font-family="Liberation Sans" font-size="5.6" fill="#222" text-anchor="middle" font-weight="normal" transform="rotate(-90 29.5 309.3)" stroke="#222" stroke-width="0.2">−1</text>
<line x1="33.4" y1="342.1" x2="36.6" y2="342.1" stroke="#8c8c8c" stroke-width="0.8"/>
<text x="29.5" y="342.1" font-family="Liberation Sans" font-size="5.6" fill="#222" text-anchor="middle" font-weight="normal" transform="rotate(-90 29.5 342.1)" stroke="#222" stroke-width="0.2">−2</text>
<text x="18.0" y="284.0" font-family="Liberation Sans" font-size="5.6" fill="#111" text-anchor="middle" font-weight="normal" transform="rotate(-90 18.0 284.0)" textLength="25.5" lengthAdjust="spacingAndGlyphs" stroke="#111" stroke-width="0.2">Coefficients</text>
<text x="122.3" y="379.6" font-family="Liberation Sans" font-size="5.4" fill="#111" text-anchor="middle" font-weight="normal" textLength="27.9" lengthAdjust="spacingAndGlyphs" stroke="#111" stroke-width="0.15">Log Lambda</text>
<path d="M43.4,218.2 C46.3,219.3 49.1,220.6 52.0,221.5 C54.7,222.4 57.3,223.2 60.0,223.7 C68.3,225.3 76.7,225.1 85.0,227.0 C87.3,227.5 89.7,228.7 92.0,230.0 C94.7,231.4 97.3,234.7 100.0,236.0 C103.3,237.6 106.7,238.4 110.0,239.5 C114.7,241.1 119.3,242.5 124.0,244.0 C129.2,245.7 134.4,246.7 139.6,249.1 C144.8,251.5 150.0,256.4 155.2,260.9 C159.1,264.3 163.1,270.1 167.0,272.6 C169.6,274.2 172.2,276.3 174.8,276.3 C183.3,276.5 191.7,276.4 200.2,276.5" fill="none" stroke="#333333" stroke-width="0.55" stroke-linejoin="round" stroke-opacity="0.85"/>
<path d="M43.2,216.6 C51.6,236.6 60.0,276.5 68.4,276.5 C112.3,276.5 156.3,276.5 200.2,276.5" fill="none" stroke="#4aa8e8" stroke-width="0.55" stroke-linejoin="round" stroke-opacity="0.85"/>
<path d="M43.4,233.1 C49.8,247.6 56.1,276.5 62.5,276.5 C108.4,276.5 154.3,276.5 200.2,276.5" fill="none" stroke="#3cd0d8" stroke-width="0.55" stroke-linejoin="round" stroke-opacity="0.85"/>
<path d="M43.4,235.1 C51.7,234.7 60.1,233.9 68.4,233.9 C76.6,233.9 84.7,243.2 92.9,243.3 C103.3,243.4 113.6,243.4 124.0,243.5 C131.1,243.6 138.3,243.6 145.4,243.7 C151.3,243.8 157.1,244.9 163.0,246.2 C168.2,247.3 173.5,249.6 178.7,253.0 C181.6,254.9 184.6,258.5 187.5,262.8 C189.1,265.2 190.8,271.2 192.4,272.6 C195.0,274.8 197.6,275.2 200.2,276.5" fill="none" stroke="#7ed07a" stroke-width="0.55" stroke-linejoin="round" stroke-opacity="0.85"/>
<path d="M43.4,238.4 C52.0,239.3 60.7,239.9 69.3,241.0 C77.2,242.0 85.0,244.3 92.9,245.3 C103.3,246.6 113.6,247.0 124.0,248.2 C132.4,249.2 140.9,250.3 149.3,252.1 C155.8,253.5 162.4,256.2 168.9,258.9 C174.1,261.1 179.4,263.8 184.6,266.7 C189.8,269.6 195.0,273.2 200.2,276.5" fill="none" stroke="#5aa8e8" stroke-width="0.55" stroke-linejoin="round" stroke-opacity="0.85"/>
<path d="M43.4,244.3 C70.3,249.3 97.1,254.4 124.0,259.4 C135.7,261.6 147.4,263.3 159.1,265.8 C172.8,268.7 186.5,272.9 200.2,276.5" fill="none" stroke="#d84ad0" stroke-width="0.55" stroke-linejoin="round" stroke-opacity="0.85"/>
<path d="M43.4,247.3 C70.3,250.5 97.1,252.6 124.0,257.0 C135.7,258.9 147.3,262.1 159.0,265.0 C172.7,268.4 186.5,272.7 200.2,276.5" fill="none" stroke="#e87088" stroke-width="0.55" stroke-linejoin="round" stroke-opacity="0.85"/>
<path d="M43.4,246.0 C70.3,250.1 97.1,253.2 124.0,258.2 C136.0,260.5 148.0,263.6 160.0,266.5 C173.4,269.7 186.8,273.2 200.2,276.5" fill="none" stroke="#d84ad0" stroke-width="0.55" stroke-linejoin="round" stroke-opacity="0.85"/>
<path d="M43.4,245.3 C51.7,255.7 60.1,276.5 68.4,276.5 C112.3,276.5 156.3,276.5 200.2,276.5" fill="none" stroke="#444444" stroke-width="0.55" stroke-linejoin="round" stroke-opacity="0.85"/>
<path d="M43.4,254.7 C55.6,257.1 67.8,259.9 80.0,262.0 C94.7,264.6 109.3,267.0 124.0,268.8 C149.4,272.0 174.8,273.9 200.2,276.5" fill="none" stroke="#5aa8e8" stroke-width="0.55" stroke-linejoin="round" stroke-opacity="0.85"/>
<path d="M43.4,257.0 C55.6,259.5 67.8,262.4 80.0,264.5 C94.7,267.0 109.3,269.5 124.0,271.0 C149.4,273.5 174.8,274.7 200.2,276.5" fill="none" stroke="#8ad080" stroke-width="0.55" stroke-linejoin="round" stroke-opacity="0.85"/>
<path d="M43.4,260.6 C58.9,262.9 74.5,265.3 90.0,267.5 C101.3,269.1 112.7,271.2 124.0,272.2 C149.4,274.4 174.8,275.1 200.2,276.5" fill="none" stroke="#40c8d8" stroke-width="0.55" stroke-linejoin="round" stroke-opacity="0.85"/>
<path d="M43.4,263.0 C47.5,267.5 51.5,276.5 55.6,276.5 C103.8,276.5 152.0,276.5 200.2,276.5" fill="none" stroke="#d84ad0" stroke-width="0.55" stroke-linejoin="round" stroke-opacity="0.85"/>
<path d="M43.4,267.3 C70.3,267.4 97.1,267.7 124.0,267.7 C138.3,267.7 152.7,266.3 167.0,266.3 C170.2,266.3 173.5,269.6 176.7,270.7 C184.5,273.3 192.4,274.6 200.2,276.5" fill="none" stroke="#5aa8e8" stroke-width="0.55" stroke-linejoin="round" stroke-opacity="0.85"/>
<path d="M43.4,265.9 C58.9,267.3 74.5,268.8 90.0,270.0 C101.3,270.9 112.7,271.8 124.0,272.5 C149.4,274.1 174.8,275.2 200.2,276.5" fill="none" stroke="#e87088" stroke-width="0.55" stroke-linejoin="round" stroke-opacity="0.85"/>
<path d="M43.4,272.4 C70.3,272.8 97.1,273.0 124.0,273.5 C149.4,274.0 174.8,275.5 200.2,276.5" fill="none" stroke="#40c8d8" stroke-width="0.55" stroke-linejoin="round" stroke-opacity="0.85"/>
<path d="M43.4,269.5 C50.9,271.8 58.5,276.5 66.0,276.5 C110.7,276.5 155.5,276.5 200.2,276.5" fill="none" stroke="#e87088" stroke-width="0.55" stroke-linejoin="round" stroke-opacity="0.85"/>
<path d="M43.4,275.3 C70.3,275.5 97.1,275.8 124.0,276.0 C149.4,276.2 174.8,276.3 200.2,276.5" fill="none" stroke="#333333" stroke-width="0.55" stroke-linejoin="round" stroke-opacity="0.85"/>
<path d="M43.4,285.6 C50.1,284.8 56.9,283.7 63.6,283.3 C83.7,282.0 103.9,281.9 124.0,281.0 C149.4,279.8 174.8,278.0 200.2,276.5" fill="none" stroke="#2e7a3a" stroke-width="0.55" stroke-linejoin="round" stroke-opacity="0.85"/>
<path d="M43.4,283.6 C70.3,282.5 97.1,281.4 124.0,280.2 C149.4,279.1 174.8,277.7 200.2,276.5" fill="none" stroke="#555555" stroke-width="0.55" stroke-linejoin="round" stroke-opacity="0.85"/>
<path d="M43.4,290.2 C70.3,288.6 97.1,287.6 124.0,285.5 C149.4,283.5 174.8,279.5 200.2,276.5" fill="none" stroke="#d84ad0" stroke-width="0.55" stroke-linejoin="round" stroke-opacity="0.85"/>
<path d="M43.4,292.3 C70.3,290.4 97.1,289.0 124.0,286.5 C149.4,284.1 174.8,279.8 200.2,276.5" fill="none" stroke="#8ad080" stroke-width="0.55" stroke-linejoin="round" stroke-opacity="0.85"/>
<path d="M43.4,307.9 C48.6,304.3 53.8,299.4 59.0,297.0 C66.7,293.5 74.3,292.6 82.0,289.5 C89.7,286.4 97.3,278.5 105.0,277.5 C109.3,277.0 113.7,276.5 118.0,276.5 C145.4,276.5 172.8,276.5 200.2,276.5" fill="none" stroke="#e87088" stroke-width="0.55" stroke-linejoin="round" stroke-opacity="0.85"/>
<path d="M43.4,317.1 C56.3,316.3 69.1,316.2 82.0,314.8 C88.9,314.1 95.7,310.9 102.6,309.0 C109.7,307.0 116.9,305.3 124.0,302.9 C134.1,299.4 144.3,293.8 154.4,289.5 C162.8,285.9 171.3,280.8 179.7,279.2 C186.5,277.9 193.4,277.4 200.2,276.5" fill="none" stroke="#e87088" stroke-width="0.55" stroke-linejoin="round" stroke-opacity="0.85"/>
<path d="M43.4,326.3 C47.1,312.1 50.7,289.4 54.4,283.8 C56.7,280.3 59.0,276.9 61.3,276.9 C107.6,276.5 153.9,276.6 200.2,276.5" fill="none" stroke="#8ad080" stroke-width="0.55" stroke-linejoin="round" stroke-opacity="0.85"/>
<path d="M43.4,331.6 C47.1,320.3 50.7,304.4 54.4,297.6 C59.8,287.6 65.1,277.1 70.5,277.0 C113.7,276.6 157.0,276.7 200.2,276.5" fill="none" stroke="#d84ad0" stroke-width="0.55" stroke-linejoin="round" stroke-opacity="0.85"/>
<path d="M43.4,351.6 C47.1,345.1 50.7,339.1 54.4,332.0 C59.8,321.6 65.1,305.7 70.5,297.6 C74.3,291.8 78.2,288.1 82.0,283.8 C84.3,281.3 86.5,276.6 88.8,276.6 C125.9,276.5 163.1,276.5 200.2,276.5" fill="none" stroke="#4aa8e8" stroke-width="0.55" stroke-linejoin="round" stroke-opacity="0.85"/>
<rect x="37.8" y="217.0" width="1.6" height="2.4" fill="#999" opacity="0.6"/>
<rect x="37.8" y="215.4" width="1.6" height="2.4" fill="#999" opacity="0.6"/>
<rect x="37.8" y="231.9" width="1.6" height="2.4" fill="#999" opacity="0.6"/>
<rect x="37.8" y="233.9" width="1.6" height="2.4" fill="#999" opacity="0.6"/>
<rect x="37.8" y="237.2" width="1.6" height="2.4" fill="#999" opacity="0.6"/>
<rect x="37.8" y="243.1" width="1.6" height="2.4" fill="#999" opacity="0.6"/>
<rect x="37.8" y="246.1" width="1.6" height="2.4" fill="#999" opacity="0.6"/>
<rect x="37.8" y="244.8" width="1.6" height="2.4" fill="#999" opacity="0.6"/>
<rect x="37.8" y="244.1" width="1.6" height="2.4" fill="#999" opacity="0.6"/>
<rect x="37.8" y="253.5" width="1.6" height="2.4" fill="#999" opacity="0.6"/>
<rect x="37.8" y="255.8" width="1.6" height="2.4" fill="#999" opacity="0.6"/>
<rect x="37.8" y="259.4" width="1.6" height="2.4" fill="#999" opacity="0.6"/>
<rect x="37.8" y="261.8" width="1.6" height="2.4" fill="#999" opacity="0.6"/>
<rect x="37.8" y="266.1" width="1.6" height="2.4" fill="#999" opacity="0.6"/>
<rect x="37.8" y="264.7" width="1.6" height="2.4" fill="#999" opacity="0.6"/>
<rect x="37.8" y="271.2" width="1.6" height="2.4" fill="#999" opacity="0.6"/>
<rect x="37.8" y="268.3" width="1.6" height="2.4" fill="#999" opacity="0.6"/>
<rect x="37.8" y="274.1" width="1.6" height="2.4" fill="#999" opacity="0.6"/>
<rect x="37.8" y="284.4" width="1.6" height="2.4" fill="#999" opacity="0.6"/>
<rect x="37.8" y="282.4" width="1.6" height="2.4" fill="#999" opacity="0.6"/>
<rect x="37.8" y="289.0" width="1.6" height="2.4" fill="#999" opacity="0.6"/>
<rect x="37.8" y="291.1" width="1.6" height="2.4" fill="#999" opacity="0.6"/>
<rect x="37.8" y="306.7" width="1.6" height="2.4" fill="#999" opacity="0.6"/>
<rect x="37.8" y="315.9" width="1.6" height="2.4" fill="#999" opacity="0.6"/>
<rect x="37.8" y="325.1" width="1.6" height="2.4" fill="#999" opacity="0.6"/>
<rect x="37.8" y="330.4" width="1.6" height="2.4" fill="#999" opacity="0.6"/>
<rect x="37.8" y="350.4" width="1.6" height="2.4" fill="#999" opacity="0.6"/>
<text x="226.8" y="226.0" font-family="Liberation Sans" font-size="22.5" fill="#000" text-anchor="start" font-weight="bold">d</text>
<rect x="257.6" y="211.4" width="185.9" height="143.2" fill="#fff" stroke="#bdbdbd" stroke-width="1"/>
<text x="269.3" y="228.9" font-family="Liberation Serif" font-size="15.3" fill="#000" text-anchor="start" font-weight="bold" textLength="162.2" lengthAdjust="spacingAndGlyphs">BCa prognosis risk score</text>
<text x="281.0" y="252.6" font-family="Liberation Serif" font-size="9.25" fill="#111" text-anchor="start" font-weight="normal" textLength="138.2" lengthAdjust="spacingAndGlyphs">(-0.27203660883061*PCAT7 exp.) <tspan font-size="10.6" stroke="#111" stroke-width="0.15">+</tspan></text>
<text x="277.7" y="263.6" font-family="Liberation Serif" font-size="9.25" fill="#111" text-anchor="start" font-weight="normal" textLength="151.9" lengthAdjust="spacingAndGlyphs">(1.00574884623807*LINC01184 exp.) <tspan font-size="10.6" stroke="#111" stroke-width="0.15">+</tspan></text>
<text x="274.7" y="274.6" font-family="Liberation Serif" font-size="9.25" fill="#111" text-anchor="start" font-weight="normal" textLength="158.2" lengthAdjust="spacingAndGlyphs">(-1.71513453406194*BX546450.2 exp.) <tspan font-size="10.6" stroke="#111" stroke-width="0.15">+</tspan></text>
<text x="271.9" y="285.6" font-family="Liberation Serif" font-size="9.25" fill="#111" text-anchor="start" font-weight="normal" textLength="163.2" lengthAdjust="spacingAndGlyphs">(-0.588057324411219*AC021321.1 exp.) <tspan font-size="10.6" stroke="#111" stroke-width="0.15">+</tspan></text>
<text x="274.1" y="296.6" font-family="Liberation Serif" font-size="9.25" fill="#111" text-anchor="start" font-weight="normal" textLength="159.6" lengthAdjust="spacingAndGlyphs">(0.979987689955207*AL731537.1 exp.) <tspan font-size="10.6" stroke="#111" stroke-width="0.15">+</tspan></text>
<text x="276.0" y="307.6" font-family="Liberation Serif" font-size="9.25" fill="#111" text-anchor="start" font-weight="normal" textLength="155.5" lengthAdjust="spacingAndGlyphs">(1.74391750722277*AL390236.1 exp.) <tspan font-size="10.6" stroke="#111" stroke-width="0.15">+</tspan></text>
<text x="283.7" y="318.6" font-family="Liberation Serif" font-size="9.25" fill="#111" text-anchor="start" font-weight="normal" textLength="139.6" lengthAdjust="spacingAndGlyphs">(1.9361924741171*MPP7-DT exp.)<tspan font-size="10.6" stroke="#111" stroke-width="0.15">+</tspan></text>
<text x="283.7" y="329.6" font-family="Liberation Serif" font-size="9.25" fill="#111" text-anchor="start" font-weight="normal" textLength="140.1" lengthAdjust="spacingAndGlyphs">(1.56025849143997*FAM87B exp.)<tspan font-size="10.6" stroke="#111" stroke-width="0.15">+</tspan></text>
<text x="272.5" y="340.6" font-family="Liberation Serif" font-size="9.25" fill="#111" text-anchor="start" font-weight="normal" textLength="161.7" lengthAdjust="spacingAndGlyphs">(-0.578370385036099*UBE2Q1-AS1 exp.)</text>
<text x="450.5" y="226.0" font-family="Liberation Sans" font-size="23" fill="#000" text-anchor="start" font-weight="bold">e</text>
<rect x="502.30" y="203.20" width="15.7" height="7.95" fill="#ffffff" stroke="#bababa" stroke-width="0.75"/>
<rect x="518.00" y="203.20" width="15.7" height="7.95" fill="#f8bfb0" stroke="#bababa" stroke-width="0.75"/>
<text x="525.85" y="208.77" font-family="Liberation Sans" font-size="3.9" fill="#333" text-anchor="middle" font-weight="normal" stroke="#333" stroke-width="0.05">***</text>
<rect x="533.70" y="203.20" width="15.7" height="7.95" fill="#f8bfb0" stroke="#bababa" stroke-width="0.75"/>
<text x="541.55" y="208.77" font-family="Liberation Sans" font-size="3.9" fill="#333" text-anchor="middle" font-weight="normal" stroke="#333" stroke-width="0.05">***</text>
<rect x="549.40" y="203.20" width="15.7" height="7.95" fill="#ffffff" stroke="#bababa" stroke-width="0.75"/>
<rect x="565.10" y="203.20" width="15.7" height="7.95" fill="#f8bfb0" stroke="#bababa" stroke-width="0.75"/>
<text x="572.95" y="208.77" font-family="Liberation Sans" font-size="3.9" fill="#333" text-anchor="middle" font-weight="normal" stroke="#333" stroke-width="0.05">***</text>
<rect x="580.80" y="203.20" width="15.7" height="7.95" fill="#f8bfb0" stroke="#bababa" stroke-width="0.75"/>
<text x="588.65" y="208.77" font-family="Liberation Sans" font-size="3.9" fill="#333" text-anchor="middle" font-weight="normal" stroke="#333" stroke-width="0.05">***</text>
<rect x="596.50" y="203.20" width="15.7" height="7.95" fill="#fbd6cc" stroke="#bababa" stroke-width="0.75"/>
<text x="604.35" y="208.77" font-family="Liberation Sans" font-size="3.9" fill="#333" text-anchor="middle" font-weight="normal" stroke="#333" stroke-width="0.05">**</text>
<rect x="612.20" y="203.20" width="15.7" height="7.95" fill="#fbd6cc" stroke="#bababa" stroke-width="0.75"/>
<text x="620.05" y="208.77" font-family="Liberation Sans" font-size="3.9" fill="#333" text-anchor="middle" font-weight="normal" stroke="#333" stroke-width="0.05">*</text>
<rect x="627.90" y="203.20" width="15.7" height="7.95" fill="#fde8e2" stroke="#bababa" stroke-width="0.75"/>
<rect x="502.30" y="211.15" width="15.7" height="7.95" fill="#fde8e2" stroke="#bababa" stroke-width="0.75"/>
<rect x="518.00" y="211.15" width="15.7" height="7.95" fill="#ffffff" stroke="#bababa" stroke-width="0.75"/>
<rect x="533.70" y="211.15" width="15.7" height="7.95" fill="#ffffff" stroke="#bababa" stroke-width="0.75"/>
<rect x="549.40" y="211.15" width="15.7" height="7.95" fill="#fbd6cc" stroke="#bababa" stroke-width="0.75"/>
<text x="557.25" y="216.72" font-family="Liberation Sans" font-size="3.9" fill="#333" text-anchor="middle" font-weight="normal" stroke="#333" stroke-width="0.05">**</text>
<rect x="565.10" y="211.15" width="15.7" height="7.95" fill="#fde8e2" stroke="#bababa" stroke-width="0.75"/>
<rect x="580.80" y="211.15" width="15.7" height="7.95" fill="#f8bfb0" stroke="#bababa" stroke-width="0.75"/>
<text x="588.65" y="216.72" font-family="Liberation Sans" font-size="3.9" fill="#333" text-anchor="middle" font-weight="normal" stroke="#333" stroke-width="0.05">***</text>
<rect x="596.50" y="211.15" width="15.7" height="7.95" fill="#ffffff" stroke="#bababa" stroke-width="0.75"/>
<rect x="612.20" y="211.15" width="15.7" height="7.95" fill="#fde8e2" stroke="#bababa" stroke-width="0.75"/>
<rect x="627.90" y="211.15" width="15.7" height="7.95" fill="#fde8e2" stroke="#bababa" stroke-width="0.75"/>
<rect x="502.30" y="219.10" width="15.7" height="7.95" fill="#ffffff" stroke="#bababa" stroke-width="0.75"/>
<rect x="518.00" y="219.10" width="15.7" height="7.95" fill="#ebebf8" stroke="#bababa" stroke-width="0.75"/>
<rect x="533.70" y="219.10" width="15.7" height="7.95" fill="#ffffff" stroke="#bababa" stroke-width="0.75"/>
<rect x="549.40" y="219.10" width="15.7" height="7.95" fill="#ef6a57" stroke="#bababa" stroke-width="0.75"/>
<text x="557.25" y="224.67" font-family="Liberation Sans" font-size="3.9" fill="#333" text-anchor="middle" font-weight="normal" stroke="#333" stroke-width="0.05">***</text>
<rect x="565.10" y="219.10" width="15.7" height="7.95" fill="#ffffff" stroke="#bababa" stroke-width="0.75"/>
<rect x="580.80" y="219.10" width="15.7" height="7.95" fill="#ffffff" stroke="#bababa" stroke-width="0.75"/>
<rect x="596.50" y="219.10" width="15.7" height="7.95" fill="#ffffff" stroke="#bababa" stroke-width="0.75"/>
<rect x="612.20" y="219.10" width="15.7" height="7.95" fill="#ffffff" stroke="#bababa" stroke-width="0.75"/>
<rect x="627.90" y="219.10" width="15.7" height="7.95" fill="#ffffff" stroke="#bababa" stroke-width="0.75"/>
<rect x="502.30" y="227.05" width="15.7" height="7.95" fill="#dcdcf2" stroke="#bababa" stroke-width="0.75"/>
<text x="510.15" y="232.62" font-family="Liberation Sans" font-size="3.9" fill="#333" text-anchor="middle" font-weight="normal" stroke="#333" stroke-width="0.05">**</text>
<rect x="518.00" y="227.05" width="15.7" height="7.95" fill="#f8bfb0" stroke="#bababa" stroke-width="0.75"/>
<text x="525.85" y="232.62" font-family="Liberation Sans" font-size="3.9" fill="#333" text-anchor="middle" font-weight="normal" stroke="#333" stroke-width="0.05">***</text>
<rect x="533.70" y="227.05" width="15.7" height="7.95" fill="#f2826f" stroke="#bababa" stroke-width="0.75"/>
<text x="541.55" y="232.62" font-family="Liberation Sans" font-size="3.9" fill="#333" text-anchor="middle" font-weight="normal" stroke="#333" stroke-width="0.05">***</text>
<rect x="549.40" y="227.05" width="15.7" height="7.95" fill="#fde8e2" stroke="#bababa" stroke-width="0.75"/>
<rect x="565.10" y="227.05" width="15.7" height="7.95" fill="#fbd6cc" stroke="#bababa" stroke-width="0.75"/>
<text x="572.95" y="232.62" font-family="Liberation Sans" font-size="3.9" fill="#333" text-anchor="middle" font-weight="normal" stroke="#333" stroke-width="0.05">**</text>
<rect x="580.80" y="227.05" width="15.7" height="7.95" fill="#fde8e2" stroke="#bababa" stroke-width="0.75"/>
<rect x="596.50" y="227.05" width="15.7" height="7.95" fill="#ebebf8" stroke="#bababa" stroke-width="0.75"/>
<rect x="612.20" y="227.05" width="15.7" height="7.95" fill="#c8c8ec" stroke="#bababa" stroke-width="0.75"/>
<text x="620.05" y="232.62" font-family="Liberation Sans" font-size="3.9" fill="#333" text-anchor="middle" font-weight="normal" stroke="#333" stroke-width="0.05">***</text>
<rect x="627.90" y="227.05" width="15.7" height="7.95" fill="#ebebf8" stroke="#bababa" stroke-width="0.75"/>
<rect x="502.30" y="235.00" width="15.7" height="7.95" fill="#fde8e2" stroke="#bababa" stroke-width="0.75"/>
<rect x="518.00" y="235.00" width="15.7" height="7.95" fill="#fde8e2" stroke="#bababa" stroke-width="0.75"/>
<rect x="533.70" y="235.00" width="15.7" height="7.95" fill="#fde8e2" stroke="#bababa" stroke-width="0.75"/>
<rect x="549.40" y="235.00" width="15.7" height="7.95" fill="#ebebf8" stroke="#bababa" stroke-width="0.75"/>
<rect x="565.10" y="235.00" width="15.7" height="7.95" fill="#fde8e2" stroke="#bababa" stroke-width="0.75"/>
<rect x="580.80" y="235.00" width="15.7" height="7.95" fill="#f8bfb0" stroke="#bababa" stroke-width="0.75"/>
<text x="588.65" y="240.57" font-family="Liberation Sans" font-size="3.9" fill="#333" text-anchor="middle" font-weight="normal" stroke="#333" stroke-width="0.05">***</text>
<rect x="596.50" y="235.00" width="15.7" height="7.95" fill="#ffffff" stroke="#bababa" stroke-width="0.75"/>
<rect x="612.20" y="235.00" width="15.7" height="7.95" fill="#fbd6cc" stroke="#bababa" stroke-width="0.75"/>
<text x="620.05" y="240.57" font-family="Liberation Sans" font-size="3.9" fill="#333" text-anchor="middle" font-weight="normal" stroke="#333" stroke-width="0.05">**</text>
<rect x="627.90" y="235.00" width="15.7" height="7.95" fill="#f8bfb0" stroke="#bababa" stroke-width="0.75"/>
<text x="635.75" y="240.57" font-family="Liberation Sans" font-size="3.9" fill="#333" text-anchor="middle" font-weight="normal" stroke="#333" stroke-width="0.05">***</text>
<rect x="502.30" y="242.95" width="15.7" height="7.95" fill="#ffffff" stroke="#bababa" stroke-width="0.75"/>
<rect x="518.00" y="242.95" width="15.7" height="7.95" fill="#f8bfb0" stroke="#bababa" stroke-width="0.75"/>
<text x="525.85" y="248.52" font-family="Liberation Sans" font-size="3.9" fill="#333" text-anchor="middle" font-weight="normal" stroke="#333" stroke-width="0.05">***</text>
<rect x="533.70" y="242.95" width="15.7" height="7.95" fill="#fbd6cc" stroke="#bababa" stroke-width="0.75"/>
<text x="541.55" y="248.52" font-family="Liberation Sans" font-size="3.9" fill="#333" text-anchor="middle" font-weight="normal" stroke="#333" stroke-width="0.05">**</text>
<rect x="549.40" y="242.95" width="15.7" height="7.95" fill="#ffffff" stroke="#bababa" stroke-width="0.75"/>
<rect x="565.10" y="242.95" width="15.7" height="7.95" fill="#f5a493" stroke="#bababa" stroke-width="0.75"/>
<text x="572.95" y="248.52" font-family="Liberation Sans" font-size="3.9" fill="#333" text-anchor="middle" font-weight="normal" stroke="#333" stroke-width="0.05">***</text>
<rect x="580.80" y="242.95" width="15.7" height="7.95" fill="#f8bfb0" stroke="#bababa" stroke-width="0.75"/>
<text x="588.65" y="248.52" font-family="Liberation Sans" font-size="3.9" fill="#333" text-anchor="middle" font-weight="normal" stroke="#333" stroke-width="0.05">***</text>
<rect x="596.50" y="242.95" width="15.7" height="7.95" fill="#fde8e2" stroke="#bababa" stroke-width="0.75"/>
<rect x="612.20" y="242.95" width="15.7" height="7.95" fill="#fde8e2" stroke="#bababa" stroke-width="0.75"/>
<rect x="627.90" y="242.95" width="15.7" height="7.95" fill="#f8bfb0" stroke="#bababa" stroke-width="0.75"/>
<text x="635.75" y="248.52" font-family="Liberation Sans" font-size="3.9" fill="#333" text-anchor="middle" font-weight="normal" stroke="#333" stroke-width="0.05">***</text>
<rect x="502.30" y="250.90" width="15.7" height="7.95" fill="#f5a493" stroke="#bababa" stroke-width="0.75"/>
<text x="510.15" y="256.47" font-family="Liberation Sans" font-size="3.9" fill="#333" text-anchor="middle" font-weight="normal" stroke="#333" stroke-width="0.05">***</text>
<rect x="518.00" y="250.90" width="15.7" height="7.95" fill="#ffffff" stroke="#bababa" stroke-width="0.75"/>
<rect x="533.70" y="250.90" width="15.7" height="7.95" fill="#f5f5fc" stroke="#bababa" stroke-width="0.75"/>
<rect x="549.40" y="250.90" width="15.7" height="7.95" fill="#ffffff" stroke="#bababa" stroke-width="0.75"/>
<rect x="565.10" y="250.90" width="15.7" height="7.95" fill="#fef6f3" stroke="#bababa" stroke-width="0.75"/>
<rect x="580.80" y="250.90" width="15.7" height="7.95" fill="#fbd6cc" stroke="#bababa" stroke-width="0.75"/>
<text x="588.65" y="256.47" font-family="Liberation Sans" font-size="3.9" fill="#333" text-anchor="middle" font-weight="normal" stroke="#333" stroke-width="0.05">*</text>
<rect x="596.50" y="250.90" width="15.7" height="7.95" fill="#fde8e2" stroke="#bababa" stroke-width="0.75"/>
<rect x="612.20" y="250.90" width="15.7" height="7.95" fill="#f5a493" stroke="#bababa" stroke-width="0.75"/>
<text x="620.05" y="256.47" font-family="Liberation Sans" font-size="3.9" fill="#333" text-anchor="middle" font-weight="normal" stroke="#333" stroke-width="0.05">***</text>
<rect x="627.90" y="250.90" width="15.7" height="7.95" fill="#fbd6cc" stroke="#bababa" stroke-width="0.75"/>
<text x="635.75" y="256.47" font-family="Liberation Sans" font-size="3.9" fill="#333" text-anchor="middle" font-weight="normal" stroke="#333" stroke-width="0.05">**</text>
<rect x="502.30" y="258.85" width="15.7" height="7.95" fill="#f5a493" stroke="#bababa" stroke-width="0.75"/>
<text x="510.15" y="264.43" font-family="Liberation Sans" font-size="3.9" fill="#333" text-anchor="middle" font-weight="normal" stroke="#333" stroke-width="0.05">***</text>
<rect x="518.00" y="258.85" width="15.7" height="7.95" fill="#fde8e2" stroke="#bababa" stroke-width="0.75"/>
<rect x="533.70" y="258.85" width="15.7" height="7.95" fill="#fde8e2" stroke="#bababa" stroke-width="0.75"/>
<rect x="549.40" y="258.85" width="15.7" height="7.95" fill="#fde8e2" stroke="#bababa" stroke-width="0.75"/>
<rect x="565.10" y="258.85" width="15.7" height="7.95" fill="#fde8e2" stroke="#bababa" stroke-width="0.75"/>
<text x="572.95" y="264.43" font-family="Liberation Sans" font-size="3.9" fill="#333" text-anchor="middle" font-weight="normal" stroke="#333" stroke-width="0.05">*</text>
<rect x="580.80" y="258.85" width="15.7" height="7.95" fill="#f8bfb0" stroke="#bababa" stroke-width="0.75"/>
<text x="588.65" y="264.43" font-family="Liberation Sans" font-size="3.9" fill="#333" text-anchor="middle" font-weight="normal" stroke="#333" stroke-width="0.05">***</text>
<rect x="596.50" y="258.85" width="15.7" height="7.95" fill="#fde8e2" stroke="#bababa" stroke-width="0.75"/>
<rect x="612.20" y="258.85" width="15.7" height="7.95" fill="#f5a493" stroke="#bababa" stroke-width="0.75"/>
<text x="620.05" y="264.43" font-family="Liberation Sans" font-size="3.9" fill="#333" text-anchor="middle" font-weight="normal" stroke="#333" stroke-width="0.05">***</text>
<rect x="627.90" y="258.85" width="15.7" height="7.95" fill="#f8bfb0" stroke="#bababa" stroke-width="0.75"/>
<text x="635.75" y="264.43" font-family="Liberation Sans" font-size="3.9" fill="#333" text-anchor="middle" font-weight="normal" stroke="#333" stroke-width="0.05">***</text>
<rect x="502.30" y="266.80" width="15.7" height="7.95" fill="#f5a493" stroke="#bababa" stroke-width="0.75"/>
<text x="510.15" y="272.38" font-family="Liberation Sans" font-size="3.9" fill="#333" text-anchor="middle" font-weight="normal" stroke="#333" stroke-width="0.05">***</text>
<rect x="518.00" y="266.80" width="15.7" height="7.95" fill="#f8bfb0" stroke="#bababa" stroke-width="0.75"/>
<text x="525.85" y="272.38" font-family="Liberation Sans" font-size="3.9" fill="#333" text-anchor="middle" font-weight="normal" stroke="#333" stroke-width="0.05">***</text>
<rect x="533.70" y="266.80" width="15.7" height="7.95" fill="#fbd6cc" stroke="#bababa" stroke-width="0.75"/>
<text x="541.55" y="272.38" font-family="Liberation Sans" font-size="3.9" fill="#333" text-anchor="middle" font-weight="normal" stroke="#333" stroke-width="0.05">**</text>
<rect x="549.40" y="266.80" width="15.7" height="7.95" fill="#fde8e2" stroke="#bababa" stroke-width="0.75"/>
<rect x="565.10" y="266.80" width="15.7" height="7.95" fill="#f8bfb0" stroke="#bababa" stroke-width="0.75"/>
<text x="572.95" y="272.38" font-family="Liberation Sans" font-size="3.9" fill="#333" text-anchor="middle" font-weight="normal" stroke="#333" stroke-width="0.05">***</text>
<rect x="580.80" y="266.80" width="15.7" height="7.95" fill="#ef6a57" stroke="#bababa" stroke-width="0.75"/>
<text x="588.65" y="272.38" font-family="Liberation Sans" font-size="3.9" fill="#333" text-anchor="middle" font-weight="normal" stroke="#333" stroke-width="0.05">***</text>
<rect x="596.50" y="266.80" width="15.7" height="7.95" fill="#fbd6cc" stroke="#bababa" stroke-width="0.75"/>
<text x="604.35" y="272.38" font-family="Liberation Sans" font-size="3.9" fill="#333" text-anchor="middle" font-weight="normal" stroke="#333" stroke-width="0.05">***</text>
<rect x="612.20" y="266.80" width="15.7" height="7.95" fill="#f8bfb0" stroke="#bababa" stroke-width="0.75"/>
<text x="620.05" y="272.38" font-family="Liberation Sans" font-size="3.9" fill="#333" text-anchor="middle" font-weight="normal" stroke="#333" stroke-width="0.05">***</text>
<rect x="627.90" y="266.80" width="15.7" height="7.95" fill="#f2826f" stroke="#bababa" stroke-width="0.75"/>
<text x="635.75" y="272.38" font-family="Liberation Sans" font-size="3.9" fill="#333" text-anchor="middle" font-weight="normal" stroke="#333" stroke-width="0.05">***</text>
<rect x="502.30" y="274.75" width="15.7" height="7.95" fill="#ffffff" stroke="#bababa" stroke-width="0.75"/>
<rect x="518.00" y="274.75" width="15.7" height="7.95" fill="#f5a493" stroke="#bababa" stroke-width="0.75"/>
<text x="525.85" y="280.33" font-family="Liberation Sans" font-size="3.9" fill="#333" text-anchor="middle" font-weight="normal" stroke="#333" stroke-width="0.05">***</text>
<rect x="533.70" y="274.75" width="15.7" height="7.95" fill="#fbd6cc" stroke="#bababa" stroke-width="0.75"/>
<text x="541.55" y="280.33" font-family="Liberation Sans" font-size="3.9" fill="#333" text-anchor="middle" font-weight="normal" stroke="#333" stroke-width="0.05">***</text>
<rect x="549.40" y="274.75" width="15.7" height="7.95" fill="#ffffff" stroke="#bababa" stroke-width="0.75"/>
<rect x="565.10" y="274.75" width="15.7" height="7.95" fill="#f8bfb0" stroke="#bababa" stroke-width="0.75"/>
<text x="572.95" y="280.33" font-family="Liberation Sans" font-size="3.9" fill="#333" text-anchor="middle" font-weight="normal" stroke="#333" stroke-width="0.05">***</text>
<rect x="580.80" y="274.75" width="15.7" height="7.95" fill="#f5a493" stroke="#bababa" stroke-width="0.75"/>
<text x="588.65" y="280.33" font-family="Liberation Sans" font-size="3.9" fill="#333" text-anchor="middle" font-weight="normal" stroke="#333" stroke-width="0.05">***</text>
<rect x="596.50" y="274.75" width="15.7" height="7.95" fill="#ffffff" stroke="#bababa" stroke-width="0.75"/>
<rect x="612.20" y="274.75" width="15.7" height="7.95" fill="#ebebf8" stroke="#bababa" stroke-width="0.75"/>
<rect x="627.90" y="274.75" width="15.7" height="7.95" fill="#f8bfb0" stroke="#bababa" stroke-width="0.75"/>
<text x="635.75" y="280.33" font-family="Liberation Sans" font-size="3.9" fill="#333" text-anchor="middle" font-weight="normal" stroke="#333" stroke-width="0.05">***</text>
<rect x="502.30" y="282.70" width="15.7" height="7.95" fill="#f5a493" stroke="#bababa" stroke-width="0.75"/>
<text x="510.15" y="288.28" font-family="Liberation Sans" font-size="3.9" fill="#333" text-anchor="middle" font-weight="normal" stroke="#333" stroke-width="0.05">***</text>
<rect x="518.00" y="282.70" width="15.7" height="7.95" fill="#f2826f" stroke="#bababa" stroke-width="0.75"/>
<text x="525.85" y="288.28" font-family="Liberation Sans" font-size="3.9" fill="#333" text-anchor="middle" font-weight="normal" stroke="#333" stroke-width="0.05">***</text>
<rect x="533.70" y="282.70" width="15.7" height="7.95" fill="#f8bfb0" stroke="#bababa" stroke-width="0.75"/>
<text x="541.55" y="288.28" font-family="Liberation Sans" font-size="3.9" fill="#333" text-anchor="middle" font-weight="normal" stroke="#333" stroke-width="0.05">***</text>
<rect x="549.40" y="282.70" width="15.7" height="7.95" fill="#fde8e2" stroke="#bababa" stroke-width="0.75"/>
<rect x="565.10" y="282.70" width="15.7" height="7.95" fill="#f5a493" stroke="#bababa" stroke-width="0.75"/>
<text x="572.95" y="288.28" font-family="Liberation Sans" font-size="3.9" fill="#333" text-anchor="middle" font-weight="normal" stroke="#333" stroke-width="0.05">***</text>
<rect x="580.80" y="282.70" width="15.7" height="7.95" fill="#f2826f" stroke="#bababa" stroke-width="0.75"/>
<text x="588.65" y="288.28" font-family="Liberation Sans" font-size="3.9" fill="#333" text-anchor="middle" font-weight="normal" stroke="#333" stroke-width="0.05">***</text>
<rect x="596.50" y="282.70" width="15.7" height="7.95" fill="#f8bfb0" stroke="#bababa" stroke-width="0.75"/>
<text x="604.35" y="288.28" font-family="Liberation Sans" font-size="3.9" fill="#333" text-anchor="middle" font-weight="normal" stroke="#333" stroke-width="0.05">***</text>
<rect x="612.20" y="282.70" width="15.7" height="7.95" fill="#f8bfb0" stroke="#bababa" stroke-width="0.75"/>
<text x="620.05" y="288.28" font-family="Liberation Sans" font-size="3.9" fill="#333" text-anchor="middle" font-weight="normal" stroke="#333" stroke-width="0.05">***</text>
<rect x="627.90" y="282.70" width="15.7" height="7.95" fill="#f5a493" stroke="#bababa" stroke-width="0.75"/>
<text x="635.75" y="288.28" font-family="Liberation Sans" font-size="3.9" fill="#333" text-anchor="middle" font-weight="normal" stroke="#333" stroke-width="0.05">***</text>
<rect x="502.30" y="290.65" width="15.7" height="7.95" fill="#fde8e2" stroke="#bababa" stroke-width="0.75"/>
<rect x="518.00" y="290.65" width="15.7" height="7.95" fill="#ffffff" stroke="#bababa" stroke-width="0.75"/>
<rect x="533.70" y="290.65" width="15.7" height="7.95" fill="#f5f5fc" stroke="#bababa" stroke-width="0.75"/>
<rect x="549.40" y="290.65" width="15.7" height="7.95" fill="#ffffff" stroke="#bababa" stroke-width="0.75"/>
<rect x="565.10" y="290.65" width="15.7" height="7.95" fill="#fef6f3" stroke="#bababa" stroke-width="0.75"/>
<rect x="580.80" y="290.65" width="15.7" height="7.95" fill="#fbd6cc" stroke="#bababa" stroke-width="0.75"/>
<text x="588.65" y="296.23" font-family="Liberation Sans" font-size="3.9" fill="#333" text-anchor="middle" font-weight="normal" stroke="#333" stroke-width="0.05">***</text>
<rect x="596.50" y="290.65" width="15.7" height="7.95" fill="#fbd6cc" stroke="#bababa" stroke-width="0.75"/>
<text x="604.35" y="296.23" font-family="Liberation Sans" font-size="3.9" fill="#333" text-anchor="middle" font-weight="normal" stroke="#333" stroke-width="0.05">**</text>
<rect x="612.20" y="290.65" width="15.7" height="7.95" fill="#fde8e2" stroke="#bababa" stroke-width="0.75"/>
<rect x="627.90" y="290.65" width="15.7" height="7.95" fill="#ffffff" stroke="#bababa" stroke-width="0.75"/>
<rect x="502.30" y="298.60" width="15.7" height="7.95" fill="#ebebf8" stroke="#bababa" stroke-width="0.75"/>
<rect x="518.00" y="298.60" width="15.7" height="7.95" fill="#ffffff" stroke="#bababa" stroke-width="0.75"/>
<rect x="533.70" y="298.60" width="15.7" height="7.95" fill="#ffffff" stroke="#bababa" stroke-width="0.75"/>
<rect x="549.40" y="298.60" width="15.7" height="7.95" fill="#fde8e2" stroke="#bababa" stroke-width="0.75"/>
<rect x="565.10" y="298.60" width="15.7" height="7.95" fill="#fde8e2" stroke="#bababa" stroke-width="0.75"/>
<rect x="580.80" y="298.60" width="15.7" height="7.95" fill="#fbd6cc" stroke="#bababa" stroke-width="0.75"/>
<text x="588.65" y="304.18" font-family="Liberation Sans" font-size="3.9" fill="#333" text-anchor="middle" font-weight="normal" stroke="#333" stroke-width="0.05">***</text>
<rect x="596.50" y="298.60" width="15.7" height="7.95" fill="#ebebf8" stroke="#bababa" stroke-width="0.75"/>
<rect x="612.20" y="298.60" width="15.7" height="7.95" fill="#dcdcf2" stroke="#bababa" stroke-width="0.75"/>
<text x="620.05" y="304.18" font-family="Liberation Sans" font-size="3.9" fill="#333" text-anchor="middle" font-weight="normal" stroke="#333" stroke-width="0.05">*</text>
<rect x="627.90" y="298.60" width="15.7" height="7.95" fill="#ffffff" stroke="#bababa" stroke-width="0.75"/>
<rect x="502.30" y="306.55" width="15.7" height="7.95" fill="#fde8e2" stroke="#bababa" stroke-width="0.75"/>
<rect x="518.00" y="306.55" width="15.7" height="7.95" fill="#ffffff" stroke="#bababa" stroke-width="0.75"/>
<rect x="533.70" y="306.55" width="15.7" height="7.95" fill="#ffffff" stroke="#bababa" stroke-width="0.75"/>
<rect x="549.40" y="306.55" width="15.7" height="7.95" fill="#fbd6cc" stroke="#bababa" stroke-width="0.75"/>
<text x="557.25" y="312.13" font-family="Liberation Sans" font-size="3.9" fill="#333" text-anchor="middle" font-weight="normal" stroke="#333" stroke-width="0.05">**</text>
<rect x="565.10" y="306.55" width="15.7" height="7.95" fill="#fde8e2" stroke="#bababa" stroke-width="0.75"/>
<text x="572.95" y="312.13" font-family="Liberation Sans" font-size="3.9" fill="#333" text-anchor="middle" font-weight="normal" stroke="#333" stroke-width="0.05">*</text>
<rect x="580.80" y="306.55" width="15.7" height="7.95" fill="#fbd6cc" stroke="#bababa" stroke-width="0.75"/>
<text x="588.65" y="312.13" font-family="Liberation Sans" font-size="3.9" fill="#333" text-anchor="middle" font-weight="normal" stroke="#333" stroke-width="0.05">***</text>
<rect x="596.50" y="306.55" width="15.7" height="7.95" fill="#fde8e2" stroke="#bababa" stroke-width="0.75"/>
<rect x="612.20" y="306.55" width="15.7" height="7.95" fill="#fde8e2" stroke="#bababa" stroke-width="0.75"/>
<text x="620.05" y="312.13" font-family="Liberation Sans" font-size="3.9" fill="#333" text-anchor="middle" font-weight="normal" stroke="#333" stroke-width="0.05">*</text>
<rect x="627.90" y="306.55" width="15.7" height="7.95" fill="#fbd6cc" stroke="#bababa" stroke-width="0.75"/>
<text x="635.75" y="312.13" font-family="Liberation Sans" font-size="3.9" fill="#333" text-anchor="middle" font-weight="normal" stroke="#333" stroke-width="0.05">**</text>
<rect x="502.30" y="314.50" width="15.7" height="7.95" fill="#ffffff" stroke="#bababa" stroke-width="0.75"/>
<rect x="518.00" y="314.50" width="15.7" height="7.95" fill="#fbd6cc" stroke="#bababa" stroke-width="0.75"/>
<text x="525.85" y="320.08" font-family="Liberation Sans" font-size="3.9" fill="#333" text-anchor="middle" font-weight="normal" stroke="#333" stroke-width="0.05">*</text>
<rect x="533.70" y="314.50" width="15.7" height="7.95" fill="#fde8e2" stroke="#bababa" stroke-width="0.75"/>
<rect x="549.40" y="314.50" width="15.7" height="7.95" fill="#fbd6cc" stroke="#bababa" stroke-width="0.75"/>
<text x="557.25" y="320.08" font-family="Liberation Sans" font-size="3.9" fill="#333" text-anchor="middle" font-weight="normal" stroke="#333" stroke-width="0.05">**</text>
<rect x="565.10" y="314.50" width="15.7" height="7.95" fill="#fbd6cc" stroke="#bababa" stroke-width="0.75"/>
<text x="572.95" y="320.08" font-family="Liberation Sans" font-size="3.9" fill="#333" text-anchor="middle" font-weight="normal" stroke="#333" stroke-width="0.05">**</text>
<rect x="580.80" y="314.50" width="15.7" height="7.95" fill="#fbd6cc" stroke="#bababa" stroke-width="0.75"/>
<text x="588.65" y="320.08" font-family="Liberation Sans" font-size="3.9" fill="#333" text-anchor="middle" font-weight="normal" stroke="#333" stroke-width="0.05">***</text>
<rect x="596.50" y="314.50" width="15.7" height="7.95" fill="#fde8e2" stroke="#bababa" stroke-width="0.75"/>
<rect x="612.20" y="314.50" width="15.7" height="7.95" fill="#fef6f3" stroke="#bababa" stroke-width="0.75"/>
<rect x="627.90" y="314.50" width="15.7" height="7.95" fill="#fbd6cc" stroke="#bababa" stroke-width="0.75"/>
<text x="635.75" y="320.08" font-family="Liberation Sans" font-size="3.9" fill="#333" text-anchor="middle" font-weight="normal" stroke="#333" stroke-width="0.05">*</text>
<rect x="502.30" y="322.45" width="15.7" height="7.95" fill="#ef6a57" stroke="#bababa" stroke-width="0.75"/>
<text x="510.15" y="328.03" font-family="Liberation Sans" font-size="3.9" fill="#333" text-anchor="middle" font-weight="normal" stroke="#333" stroke-width="0.05">***</text>
<rect x="518.00" y="322.45" width="15.7" height="7.95" fill="#f8bfb0" stroke="#bababa" stroke-width="0.75"/>
<text x="525.85" y="328.03" font-family="Liberation Sans" font-size="3.9" fill="#333" text-anchor="middle" font-weight="normal" stroke="#333" stroke-width="0.05">***</text>
<rect x="533.70" y="322.45" width="15.7" height="7.95" fill="#fef6f3" stroke="#bababa" stroke-width="0.75"/>
<rect x="549.40" y="322.45" width="15.7" height="7.95" fill="#ebebf8" stroke="#bababa" stroke-width="0.75"/>
<rect x="565.10" y="322.45" width="15.7" height="7.95" fill="#ef6a57" stroke="#bababa" stroke-width="0.75"/>
<text x="572.95" y="328.03" font-family="Liberation Sans" font-size="3.9" fill="#333" text-anchor="middle" font-weight="normal" stroke="#333" stroke-width="0.05">***</text>
<rect x="580.80" y="322.45" width="15.7" height="7.95" fill="#f2826f" stroke="#bababa" stroke-width="0.75"/>
<text x="588.65" y="328.03" font-family="Liberation Sans" font-size="3.9" fill="#333" text-anchor="middle" font-weight="normal" stroke="#333" stroke-width="0.05">***</text>
<rect x="596.50" y="322.45" width="15.7" height="7.95" fill="#e6372f" stroke="#bababa" stroke-width="0.75"/>
<text x="604.35" y="328.03" font-family="Liberation Sans" font-size="3.9" fill="#333" text-anchor="middle" font-weight="normal" stroke="#333" stroke-width="0.05">***</text>
<rect x="612.20" y="322.45" width="15.7" height="7.95" fill="#f5a493" stroke="#bababa" stroke-width="0.75"/>
<text x="620.05" y="328.03" font-family="Liberation Sans" font-size="3.9" fill="#333" text-anchor="middle" font-weight="normal" stroke="#333" stroke-width="0.05">***</text>
<rect x="627.90" y="322.45" width="15.7" height="7.95" fill="#f5a493" stroke="#bababa" stroke-width="0.75"/>
<text x="635.75" y="328.03" font-family="Liberation Sans" font-size="3.9" fill="#333" text-anchor="middle" font-weight="normal" stroke="#333" stroke-width="0.05">***</text>
<rect x="502.30" y="330.40" width="15.7" height="7.95" fill="#ebebf8" stroke="#bababa" stroke-width="0.75"/>
<rect x="518.00" y="330.40" width="15.7" height="7.95" fill="#ebebf8" stroke="#bababa" stroke-width="0.75"/>
<rect x="533.70" y="330.40" width="15.7" height="7.95" fill="#ebebf8" stroke="#bababa" stroke-width="0.75"/>
<rect x="549.40" y="330.40" width="15.7" height="7.95" fill="#ffffff" stroke="#bababa" stroke-width="0.75"/>
<rect x="565.10" y="330.40" width="15.7" height="7.95" fill="#ffffff" stroke="#bababa" stroke-width="0.75"/>
<rect x="580.80" y="330.40" width="15.7" height="7.95" fill="#ffffff" stroke="#bababa" stroke-width="0.75"/>
<rect x="596.50" y="330.40" width="15.7" height="7.95" fill="#f5f5fc" stroke="#bababa" stroke-width="0.75"/>
<rect x="612.20" y="330.40" width="15.7" height="7.95" fill="#dcdcf2" stroke="#bababa" stroke-width="0.75"/>
<text x="620.05" y="335.98" font-family="Liberation Sans" font-size="3.9" fill="#333" text-anchor="middle" font-weight="normal" stroke="#333" stroke-width="0.05">*</text>
<rect x="627.90" y="330.40" width="15.7" height="7.95" fill="#dcdcf2" stroke="#bababa" stroke-width="0.75"/>
<text x="635.75" y="335.98" font-family="Liberation Sans" font-size="3.9" fill="#333" text-anchor="middle" font-weight="normal" stroke="#333" stroke-width="0.05">*</text>
<rect x="502.30" y="338.35" width="15.7" height="7.95" fill="#f8bfb0" stroke="#bababa" stroke-width="0.75"/>
<text x="510.15" y="343.93" font-family="Liberation Sans" font-size="3.9" fill="#333" text-anchor="middle" font-weight="normal" stroke="#333" stroke-width="0.05">***</text>
<rect x="518.00" y="338.35" width="15.7" height="7.95" fill="#fbd6cc" stroke="#bababa" stroke-width="0.75"/>
<text x="525.85" y="343.93" font-family="Liberation Sans" font-size="3.9" fill="#333" text-anchor="middle" font-weight="normal" stroke="#333" stroke-width="0.05">*</text>
<rect x="533.70" y="338.35" width="15.7" height="7.95" fill="#ffffff" stroke="#bababa" stroke-width="0.75"/>
<rect x="549.40" y="338.35" width="15.7" height="7.95" fill="#ffffff" stroke="#bababa" stroke-width="0.75"/>
<rect x="565.10" y="338.35" width="15.7" height="7.95" fill="#f8bfb0" stroke="#bababa" stroke-width="0.75"/>
<text x="572.95" y="343.93" font-family="Liberation Sans" font-size="3.9" fill="#333" text-anchor="middle" font-weight="normal" stroke="#333" stroke-width="0.05">***</text>
<rect x="580.80" y="338.35" width="15.7" height="7.95" fill="#fbd6cc" stroke="#bababa" stroke-width="0.75"/>
<text x="588.65" y="343.93" font-family="Liberation Sans" font-size="3.9" fill="#333" text-anchor="middle" font-weight="normal" stroke="#333" stroke-width="0.05">*</text>
<rect x="596.50" y="338.35" width="15.7" height="7.95" fill="#f5a493" stroke="#bababa" stroke-width="0.75"/>
<text x="604.35" y="343.93" font-family="Liberation Sans" font-size="3.9" fill="#333" text-anchor="middle" font-weight="normal" stroke="#333" stroke-width="0.05">***</text>
<rect x="612.20" y="338.35" width="15.7" height="7.95" fill="#fbd6cc" stroke="#bababa" stroke-width="0.75"/>
<text x="620.05" y="343.93" font-family="Liberation Sans" font-size="3.9" fill="#333" text-anchor="middle" font-weight="normal" stroke="#333" stroke-width="0.05">*</text>
<rect x="627.90" y="338.35" width="15.7" height="7.95" fill="#fde8e2" stroke="#bababa" stroke-width="0.75"/>
<rect x="502.30" y="346.30" width="15.7" height="7.95" fill="#f5a493" stroke="#bababa" stroke-width="0.75"/>
<text x="510.15" y="351.88" font-family="Liberation Sans" font-size="3.9" fill="#333" text-anchor="middle" font-weight="normal" stroke="#333" stroke-width="0.05">***</text>
<rect x="518.00" y="346.30" width="15.7" height="7.95" fill="#f2826f" stroke="#bababa" stroke-width="0.75"/>
<text x="525.85" y="351.88" font-family="Liberation Sans" font-size="3.9" fill="#333" text-anchor="middle" font-weight="normal" stroke="#333" stroke-width="0.05">***</text>
<rect x="533.70" y="346.30" width="15.7" height="7.95" fill="#f5a493" stroke="#bababa" stroke-width="0.75"/>
<text x="541.55" y="351.88" font-family="Liberation Sans" font-size="3.9" fill="#333" text-anchor="middle" font-weight="normal" stroke="#333" stroke-width="0.05">***</text>
<rect x="549.40" y="346.30" width="15.7" height="7.95" fill="#ffffff" stroke="#bababa" stroke-width="0.75"/>
<rect x="565.10" y="346.30" width="15.7" height="7.95" fill="#f2826f" stroke="#bababa" stroke-width="0.75"/>
<text x="572.95" y="351.88" font-family="Liberation Sans" font-size="3.9" fill="#333" text-anchor="middle" font-weight="normal" stroke="#333" stroke-width="0.05">***</text>
<rect x="580.80" y="346.30" width="15.7" height="7.95" fill="#f2826f" stroke="#bababa" stroke-width="0.75"/>
<text x="588.65" y="351.88" font-family="Liberation Sans" font-size="3.9" fill="#333" text-anchor="middle" font-weight="normal" stroke="#333" stroke-width="0.05">***</text>
<rect x="596.50" y="346.30" width="15.7" height="7.95" fill="#f2826f" stroke="#bababa" stroke-width="0.75"/>
<text x="604.35" y="351.88" font-family="Liberation Sans" font-size="3.9" fill="#333" text-anchor="middle" font-weight="normal" stroke="#333" stroke-width="0.05">***</text>
<rect x="612.20" y="346.30" width="15.7" height="7.95" fill="#f2826f" stroke="#bababa" stroke-width="0.75"/>
<text x="620.05" y="351.88" font-family="Liberation Sans" font-size="3.9" fill="#333" text-anchor="middle" font-weight="normal" stroke="#333" stroke-width="0.05">***</text>
<rect x="627.90" y="346.30" width="15.7" height="7.95" fill="#f2826f" stroke="#bababa" stroke-width="0.75"/>
<text x="635.75" y="351.88" font-family="Liberation Sans" font-size="3.9" fill="#333" text-anchor="middle" font-weight="normal" stroke="#333" stroke-width="0.05">***</text>
<text x="498.6" y="209.47" font-family="Liberation Sans" font-size="6.3" fill="#555" text-anchor="end" font-weight="bold" textLength="21.3" lengthAdjust="spacingAndGlyphs">SLC31A1</text>
<text x="498.6" y="217.42" font-family="Liberation Sans" font-size="6.3" fill="#555" text-anchor="end" font-weight="bold" textLength="13.75" lengthAdjust="spacingAndGlyphs">PDHB</text>
<text x="498.6" y="225.38" font-family="Liberation Sans" font-size="6.3" fill="#555" text-anchor="end" font-weight="bold" textLength="16.44" lengthAdjust="spacingAndGlyphs">PDHA1</text>
<text x="498.6" y="233.32" font-family="Liberation Sans" font-size="6.3" fill="#555" text-anchor="end" font-weight="bold" textLength="15.9" lengthAdjust="spacingAndGlyphs">NLRP3</text>
<text x="498.6" y="241.28" font-family="Liberation Sans" font-size="6.3" fill="#555" text-anchor="end" font-weight="bold" textLength="18.06" lengthAdjust="spacingAndGlyphs">NFE2L2</text>
<text x="498.6" y="249.22" font-family="Liberation Sans" font-size="6.3" fill="#555" text-anchor="end" font-weight="bold" textLength="12.66" lengthAdjust="spacingAndGlyphs">MTF1</text>
<text x="498.6" y="257.17" font-family="Liberation Sans" font-size="6.3" fill="#555" text-anchor="end" font-weight="bold" textLength="13.21" lengthAdjust="spacingAndGlyphs">LIPT2</text>
<text x="498.6" y="265.12" font-family="Liberation Sans" font-size="6.3" fill="#555" text-anchor="end" font-weight="bold" textLength="13.21" lengthAdjust="spacingAndGlyphs">LIPT1</text>
<text x="498.6" y="273.08" font-family="Liberation Sans" font-size="6.3" fill="#555" text-anchor="end" font-weight="bold" textLength="11.05" lengthAdjust="spacingAndGlyphs">LIAS</text>
<text x="498.6" y="281.03" font-family="Liberation Sans" font-size="6.3" fill="#555" text-anchor="end" font-weight="bold" textLength="9.97" lengthAdjust="spacingAndGlyphs">GLS</text>
<text x="498.6" y="288.98" font-family="Liberation Sans" font-size="6.3" fill="#555" text-anchor="end" font-weight="bold" textLength="14.02" lengthAdjust="spacingAndGlyphs">GCSH</text>
<text x="498.6" y="296.93" font-family="Liberation Sans" font-size="6.3" fill="#555" text-anchor="end" font-weight="bold" textLength="12.4" lengthAdjust="spacingAndGlyphs">FDX1</text>
<text x="498.6" y="304.88" font-family="Liberation Sans" font-size="6.3" fill="#555" text-anchor="end" font-weight="bold" textLength="12.66" lengthAdjust="spacingAndGlyphs">DLST</text>
<text x="498.6" y="312.83" font-family="Liberation Sans" font-size="6.3" fill="#555" text-anchor="end" font-weight="bold" textLength="9.97" lengthAdjust="spacingAndGlyphs">DLD</text>
<text x="498.6" y="320.78" font-family="Liberation Sans" font-size="6.3" fill="#555" text-anchor="end" font-weight="bold" textLength="12.57" lengthAdjust="spacingAndGlyphs">DLAT</text>
<text x="498.6" y="328.73" font-family="Liberation Sans" font-size="6.3" fill="#555" text-anchor="end" font-weight="bold" textLength="9.97" lengthAdjust="spacingAndGlyphs">DBT</text>
<text x="498.6" y="336.68" font-family="Liberation Sans" font-size="6.3" fill="#555" text-anchor="end" font-weight="bold" textLength="20.21" lengthAdjust="spacingAndGlyphs">CDKN2A</text>
<text x="498.6" y="344.63" font-family="Liberation Sans" font-size="6.3" fill="#555" text-anchor="end" font-weight="bold" textLength="15.54" lengthAdjust="spacingAndGlyphs">ATP7B</text>
<text x="498.6" y="352.57" font-family="Liberation Sans" font-size="6.3" fill="#555" text-anchor="end" font-weight="bold" textLength="15.54" lengthAdjust="spacingAndGlyphs">ATP7A</text>
<text x="513.15" y="359.5" font-family="Liberation Sans" font-size="6.0" fill="#555" text-anchor="end" font-weight="bold" transform="rotate(-48.5 513.15 359.5)" textLength="27.63" lengthAdjust="spacingAndGlyphs">AC021321.1</text>
<text x="528.85" y="359.5" font-family="Liberation Sans" font-size="6.0" fill="#555" text-anchor="end" font-weight="bold" transform="rotate(-48.5 528.85 359.5)" textLength="27.08" lengthAdjust="spacingAndGlyphs">AL390236.1</text>
<text x="544.55" y="359.5" font-family="Liberation Sans" font-size="6.0" fill="#555" text-anchor="end" font-weight="bold" transform="rotate(-48.5 544.55 359.5)" textLength="27.08" lengthAdjust="spacingAndGlyphs">AL731537.1</text>
<text x="560.25" y="359.5" font-family="Liberation Sans" font-size="6.0" fill="#555" text-anchor="end" font-weight="bold" transform="rotate(-48.5 560.25 359.5)" textLength="27.35" lengthAdjust="spacingAndGlyphs">BX546450.2</text>
<text x="575.95" y="359.5" font-family="Liberation Sans" font-size="6.0" fill="#555" text-anchor="end" font-weight="bold" transform="rotate(-48.5 575.95 359.5)" textLength="19.41" lengthAdjust="spacingAndGlyphs">FAM87B</text>
<text x="591.65" y="359.5" font-family="Liberation Sans" font-size="6.0" fill="#555" text-anchor="end" font-weight="bold" transform="rotate(-48.5 591.65 359.5)" textLength="24.89" lengthAdjust="spacingAndGlyphs">LINC01184</text>
<text x="607.35" y="359.5" font-family="Liberation Sans" font-size="6.0" fill="#555" text-anchor="end" font-weight="bold" transform="rotate(-48.5 607.35 359.5)" textLength="21.59" lengthAdjust="spacingAndGlyphs">MPP7-DT</text>
<text x="623.05" y="359.5" font-family="Liberation Sans" font-size="6.0" fill="#555" text-anchor="end" font-weight="bold" transform="rotate(-48.5 623.05 359.5)" textLength="15.76" lengthAdjust="spacingAndGlyphs">PCAT7</text>
<text x="638.75" y="359.5" font-family="Liberation Sans" font-size="6.0" fill="#555" text-anchor="end" font-weight="bold" transform="rotate(-48.5 638.75 359.5)" textLength="30.9" lengthAdjust="spacingAndGlyphs">UBE2Q1-AS1</text>
<text x="652.8" y="248.1" font-family="Liberation Sans" font-size="4.4" fill="#222" text-anchor="start" font-weight="normal" textLength="4.7" lengthAdjust="spacingAndGlyphs" stroke="#222" stroke-width="0.15">***</text>
<text x="660.1" y="248.6" font-family="Liberation Sans" font-size="4.9" fill="#333" text-anchor="start" font-weight="normal" stroke="#333" stroke-width="0.15">p&lt;0.001</text>
<text x="653.3" y="253.4" font-family="Liberation Sans" font-size="4.4" fill="#222" text-anchor="start" font-weight="normal" textLength="2.6" lengthAdjust="spacingAndGlyphs" stroke="#222" stroke-width="0.15">**</text>
<text x="658.0" y="253.4" font-family="Liberation Sans" font-size="4.9" fill="#333" text-anchor="start" font-weight="normal" textLength="14.1" lengthAdjust="spacingAndGlyphs" stroke="#333" stroke-width="0.15">p&lt;0.01</text>
<text x="653.7" y="258.8" font-family="Liberation Sans" font-size="4.4" fill="#222" text-anchor="start" font-weight="normal" stroke="#222" stroke-width="0.15">*</text>
<text x="658.0" y="258.6" font-family="Liberation Sans" font-size="4.9" fill="#333" text-anchor="start" font-weight="normal" textLength="14.1" lengthAdjust="spacingAndGlyphs" stroke="#333" stroke-width="0.15">p&lt;0.05</text>
<text x="652.4" y="270.3" font-family="Liberation Sans" font-size="5.4" fill="#333" text-anchor="start" font-weight="normal" textLength="21.5" lengthAdjust="spacingAndGlyphs" stroke="#333" stroke-width="0.15">Correlation</text>
<defs><linearGradient id="cg" x1="0" y1="0" x2="0" y2="1"><stop offset="0" stop-color="#e6372f"/><stop offset="0.25" stop-color="#f28b78"/><stop offset="0.5" stop-color="#fbd2c8"/><stop offset="0.76" stop-color="#ffffff"/><stop offset="1" stop-color="#c8c8ec"/></linearGradient></defs>
<rect x="652.6" y="273.2" width="7.2" height="40" fill="url(#cg)"/>
<text x="661.6" y="275.9" font-family="Liberation Sans" font-size="4.3" fill="#333" text-anchor="start" font-weight="normal" stroke="#333" stroke-width="0.12">0.6</text>
<text x="661.6" y="285.67" font-family="Liberation Sans" font-size="4.3" fill="#333" text-anchor="start" font-weight="normal" stroke="#333" stroke-width="0.12">0.4</text>
<text x="661.6" y="295.44" font-family="Liberation Sans" font-size="4.3" fill="#333" text-anchor="start" font-weight="normal" stroke="#333" stroke-width="0.12">0.2</text>
<text x="661.6" y="305.21" font-family="Liberation Sans" font-size="4.3" fill="#333" text-anchor="start" font-weight="normal" stroke="#333" stroke-width="0.12">0.0</text>
</svg></body></html>
